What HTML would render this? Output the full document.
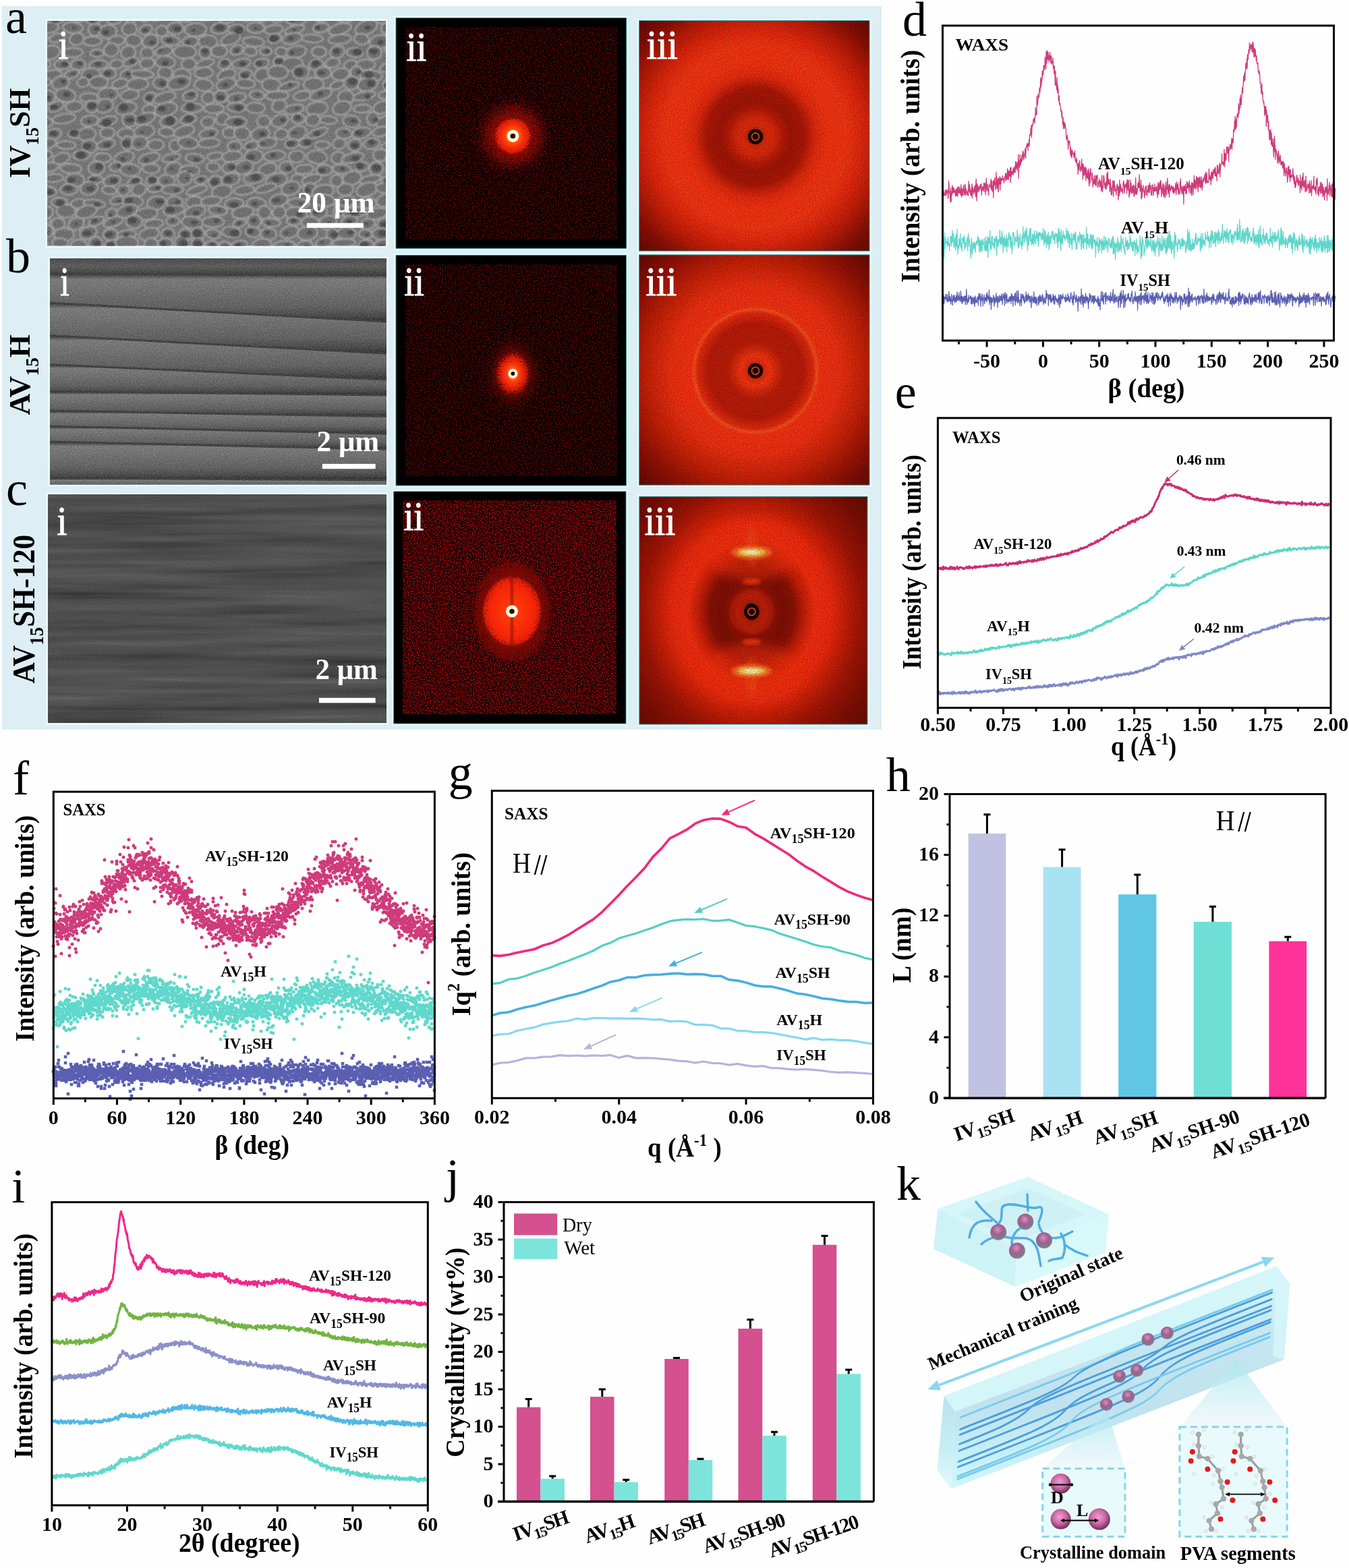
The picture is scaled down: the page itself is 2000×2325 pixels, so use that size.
<!DOCTYPE html>
<html><head><meta charset="utf-8"><title>Figure</title>
<style>html,body{margin:0;padding:0;background:#fff;} svg{display:block;} text{font-family:'Liberation Serif', 'Times New Roman', serif;} .hpar tspan+tspan{font-weight:bold;font-style:italic;}</style>
</head><body>
<svg xmlns="http://www.w3.org/2000/svg" width="2000" height="2325" viewBox="0 0 2000 2325">
<defs>
<filter id="blur1"><feGaussianBlur stdDeviation="1"/></filter>
<filter id="fGrain" x="0" y="0" width="1" height="1" color-interpolation-filters="sRGB">
  <feTurbulence type="fractalNoise" baseFrequency="0.8" numOctaves="1" seed="3" result="n"/>
  <feColorMatrix in="n" type="matrix" values="0 0 0 0 1  0 0 0 0 1  0 0 0 0 1  0.7 0 0 0 -0.3" result="w"/>
  <feTurbulence type="fractalNoise" baseFrequency="0.8" numOctaves="1" seed="29" result="n2"/>
  <feColorMatrix in="n2" type="matrix" values="0 0 0 0 0  0 0 0 0 0  0 0 0 0 0  0.7 0 0 0 -0.3" result="k"/>
  <feMerge><feMergeNode in="w"/><feMergeNode in="k"/></feMerge>
</filter>
<linearGradient id="gFib" x1="0" y1="0" x2="0" y2="1"><stop offset="0" stop-color="#3c3c3c"/><stop offset="0.1" stop-color="#7a7a7a"/><stop offset="0.3" stop-color="#727272"/><stop offset="0.7" stop-color="#5e5e5e"/><stop offset="0.9" stop-color="#444444"/><stop offset="1" stop-color="#2a2a2a"/></linearGradient>
<linearGradient id="gFibTop" x1="0" y1="0" x2="0" y2="1"><stop offset="0" stop-color="#454545"/><stop offset="0.5" stop-color="#5a5a5a"/><stop offset="1" stop-color="#3a3a3a"/></linearGradient>

<filter id="fSemA" x="0" y="0" width="1" height="1" color-interpolation-filters="sRGB">
  <feTurbulence type="fractalNoise" baseFrequency="0.035 0.06" numOctaves="3" seed="7" result="n"/>
  <feColorMatrix in="n" type="matrix" values="1 0 0 0 0  1 0 0 0 0  1 0 0 0 0  0 0 0 0 1" result="g"/>
  <feComponentTransfer in="g" result="c">
    <feFuncR type="table" tableValues="0.20 0.28 0.36 0.55 0.42 0.52 0.62 0.74 0.62 0.55"/>
    <feFuncG type="table" tableValues="0.20 0.28 0.36 0.55 0.42 0.52 0.62 0.74 0.62 0.55"/>
    <feFuncB type="table" tableValues="0.20 0.28 0.36 0.55 0.42 0.52 0.62 0.74 0.62 0.55"/>
  </feComponentTransfer>
  <feTurbulence type="fractalNoise" baseFrequency="0.9" numOctaves="1" seed="2" result="f"/>
  <feColorMatrix in="f" type="matrix" values="0 0 0 0 0  0 0 0 0 0  0 0 0 0 0  0.5 0 0 0 -0.1" result="fa"/>
  <feComposite in="fa" in2="c" operator="over"/>
</filter>
<filter id="fSemB" x="0" y="0" width="1" height="1" color-interpolation-filters="sRGB">
  <feTurbulence type="fractalNoise" baseFrequency="0.0025 0.03" numOctaves="4" seed="11" result="n"/>
  <feColorMatrix in="n" type="matrix" values="1 0 0 0 0  1 0 0 0 0  1 0 0 0 0  0 0 0 0 1" result="g"/>
  <feComponentTransfer in="g" result="c">
    <feFuncR type="table" tableValues="0.08 0.18 0.30 0.36 0.40 0.44 0.50 0.62"/>
    <feFuncG type="table" tableValues="0.08 0.18 0.30 0.36 0.40 0.44 0.50 0.62"/>
    <feFuncB type="table" tableValues="0.08 0.18 0.30 0.36 0.40 0.44 0.50 0.62"/>
  </feComponentTransfer>
  <feTurbulence type="fractalNoise" baseFrequency="0.7" numOctaves="1" seed="5" result="f"/>
  <feColorMatrix in="f" type="matrix" values="0 0 0 0 0  0 0 0 0 0  0 0 0 0 0  0.4 0 0 0 -0.1" result="fa"/>
  <feComposite in="fa" in2="c" operator="over"/>
</filter>
<filter id="fSemC" x="0" y="0" width="1" height="1" color-interpolation-filters="sRGB">
  <feTurbulence type="fractalNoise" baseFrequency="0.003 0.07" numOctaves="3" seed="21" result="n"/>
  <feColorMatrix in="n" type="matrix" values="1 0 0 0 0  1 0 0 0 0  1 0 0 0 0  0 0 0 0 1" result="g"/>
  <feComponentTransfer in="g" result="c">
    <feFuncR type="table" tableValues="0.16 0.24 0.30 0.34 0.37 0.40 0.46 0.56"/>
    <feFuncG type="table" tableValues="0.16 0.24 0.30 0.34 0.37 0.40 0.46 0.56"/>
    <feFuncB type="table" tableValues="0.16 0.24 0.30 0.34 0.37 0.40 0.46 0.56"/>
  </feComponentTransfer>
  <feTurbulence type="fractalNoise" baseFrequency="0.8" numOctaves="1" seed="9" result="f"/>
  <feColorMatrix in="f" type="matrix" values="0 0 0 0 0  0 0 0 0 0  0 0 0 0 0  0.5 0 0 0 -0.12" result="fa"/>
  <feComposite in="fa" in2="c" operator="over"/>
</filter>
<filter id="fRedNoise" x="0" y="0" width="1" height="1" color-interpolation-filters="sRGB">
  <feTurbulence type="fractalNoise" baseFrequency="0.55" numOctaves="1" seed="4" result="n"/>
  <feColorMatrix in="n" type="matrix" values="0 0 0 0 0.55  0 0 0 0 0.03  0 0 0 0 0.02  2.4 0 0 0 -1.0" result="c"/>
  <feGaussianBlur in="c" stdDeviation="0.6"/>
</filter>
<filter id="fRedNoise2" x="0" y="0" width="1" height="1" color-interpolation-filters="sRGB">
  <feTurbulence type="fractalNoise" baseFrequency="0.55" numOctaves="1" seed="8" result="n"/>
  <feColorMatrix in="n" type="matrix" values="0 0 0 0 0.72  0 0 0 0 0.04  0 0 0 0 0.03  2.6 0 0 0 -0.95" result="c"/>
  <feGaussianBlur in="c" stdDeviation="0.6"/>
</filter>
<filter id="fDarkNoise" x="0" y="0" width="1" height="1" color-interpolation-filters="sRGB">
  <feTurbulence type="fractalNoise" baseFrequency="0.6" numOctaves="1" seed="13" result="n"/>
  <feColorMatrix in="n" type="matrix" values="0 0 0 0 0.05  0 0 0 0 0  0 0 0 0 0  1.8 0 0 0 -0.55"/>
</filter>
<filter id="fBrightNoise" x="0" y="0" width="1" height="1" color-interpolation-filters="sRGB">
  <feTurbulence type="fractalNoise" baseFrequency="0.6" numOctaves="1" seed="17" result="n"/>
  <feColorMatrix in="n" type="matrix" values="0 0 0 0 1  0 0 0 0 0.35  0 0 0 0 0.1  1.2 0 0 0 -0.62"/>
</filter>
<filter id="fSpeck" x="-10%" y="-10%" width="120%" height="120%" color-interpolation-filters="sRGB">
  <feTurbulence type="fractalNoise" baseFrequency="0.85" numOctaves="1" seed="21" result="n"/>
  <feColorMatrix in="n" type="matrix" values="0 0 0 0 0  0 0 0 0 0  0 0 0 0 0  1.6 0 0 0 -0.3" result="na"/>
  <feComposite in="SourceAlpha" in2="na" operator="arithmetic" k1="0" k2="1" k3="-1" k4="0.5" result="d"/>
  <feComponentTransfer in="d" result="m"><feFuncA type="linear" slope="8" intercept="-3.6"/></feComponentTransfer>
  <feColorMatrix in="SourceGraphic" type="matrix" values="1 0 0 0 0  0 1 0 0 0  0 0 1 0 0  0 0 0 0 1" result="op"/>
  <feComposite in="op" in2="m" operator="in"/>
</filter>
<filter id="blur2"><feGaussianBlur stdDeviation="2"/></filter>
<filter id="blur4"><feGaussianBlur stdDeviation="4"/></filter>
<filter id="blur8"><feGaussianBlur stdDeviation="8"/></filter>

<radialGradient id="gSa"><stop offset="0" stop-color="#ffe040"/><stop offset="0.3" stop-color="#ff5a10"/><stop offset="0.6" stop-color="#f02808"/><stop offset="0.8" stop-color="#e02008" stop-opacity="0.7"/><stop offset="1" stop-color="#c01005" stop-opacity="0"/></radialGradient>
<radialGradient id="gSao"><stop offset="0" stop-color="#a01005" stop-opacity="1"/><stop offset="0.45" stop-color="#800a04" stop-opacity="0.75"/><stop offset="1" stop-color="#600804" stop-opacity="0"/></radialGradient>
<radialGradient id="gSb"><stop offset="0" stop-color="#ffd040"/><stop offset="0.3" stop-color="#ff4010"/><stop offset="0.6" stop-color="#d81c06" stop-opacity="0.85"/><stop offset="1" stop-color="#a01005" stop-opacity="0"/></radialGradient>
<radialGradient id="gSbo"><stop offset="0" stop-color="#800a04" stop-opacity="0.95"/><stop offset="0.5" stop-color="#600804" stop-opacity="0.6"/><stop offset="1" stop-color="#500604" stop-opacity="0"/></radialGradient>
<radialGradient id="gSc"><stop offset="0" stop-color="#ffd040"/><stop offset="0.2" stop-color="#ff3a0c"/><stop offset="0.7" stop-color="#f42408" stop-opacity="0.95"/><stop offset="0.88" stop-color="#e02008" stop-opacity="0.6"/><stop offset="1" stop-color="#a01005" stop-opacity="0"/></radialGradient>
<radialGradient id="gSco"><stop offset="0" stop-color="#900c05" stop-opacity="1"/><stop offset="0.6" stop-color="#780a04" stop-opacity="0.95"/><stop offset="0.85" stop-color="#700804" stop-opacity="0.6"/><stop offset="1" stop-color="#600804" stop-opacity="0"/></radialGradient>
<marker id="arrP" viewBox="0 0 10 10" refX="9" refY="5" markerWidth="5" markerHeight="5" orient="auto-start-reverse"><path d="M0,0 L10,5 L0,10 z" fill="context-stroke"/></marker>
<radialGradient id="gSph" cx="0.45" cy="0.35" r="0.7"><stop offset="0" stop-color="#d890c0"/><stop offset="0.45" stop-color="#a0608e"/><stop offset="0.8" stop-color="#80788e"/><stop offset="1" stop-color="#98a4ac"/></radialGradient>
<radialGradient id="gSph2" cx="0.45" cy="0.4" r="0.65"><stop offset="0" stop-color="#f0a0d0"/><stop offset="0.5" stop-color="#cc6aa6"/><stop offset="0.85" stop-color="#7a3a66"/><stop offset="1" stop-color="#5a2a4a"/></radialGradient>
<linearGradient id="gFront" x1="0" y1="0" x2="0" y2="1"><stop offset="0" stop-color="#d2f4f8"/><stop offset="0.25" stop-color="#c6e6f0"/><stop offset="0.6" stop-color="#c0e2ee"/><stop offset="0.85" stop-color="#c8f0f6"/><stop offset="1" stop-color="#d0f6fa"/></linearGradient>
<linearGradient id="gCap" x1="0" y1="0" x2="0" y2="1"><stop offset="0" stop-color="#b8e4ee"/><stop offset="0.6" stop-color="#c8eef4"/><stop offset="1" stop-color="#e8fafc"/></linearGradient>
<linearGradient id="gCone" x1="0" y1="0" x2="0" y2="1"><stop offset="0" stop-color="#a8e8f0" stop-opacity="0.9"/><stop offset="1" stop-color="#e4f2f6" stop-opacity="0.6"/></linearGradient>
</defs>
<rect width="2000" height="2325" fill="#fefefe"/>
<rect x="2.7" y="9" width="1304.3" height="1072.8" fill="#ddeef5"/>
<rect x="68.5" y="29.5" width="505.0" height="336.6" fill="none" stroke="#f0fdff" stroke-width="2"/>
<rect x="72.5" y="381.7" width="502.0" height="338.3" fill="none" stroke="#f0fdff" stroke-width="2"/>
<rect x="69.5" y="731.8" width="505.0" height="341.7" fill="none" stroke="#f0fdff" stroke-width="2"/>
<rect x="585.5" y="25.1" width="344.7" height="344.7" fill="none" stroke="#f0fdff" stroke-width="2"/>
<rect x="585.5" y="376.9" width="344.5" height="344.6" fill="none" stroke="#f0fdff" stroke-width="2"/>
<rect x="582.2" y="727.3" width="347.3" height="347.2" fill="none" stroke="#f0fdff" stroke-width="2"/>
<rect x="946.1" y="29.1" width="344.4" height="344.5" fill="none" stroke="#f0fdff" stroke-width="2"/>
<rect x="946.1" y="376.4" width="344.4" height="344.3" fill="none" stroke="#f0fdff" stroke-width="2"/>
<rect x="946.3" y="734.7" width="341.2" height="340.8" fill="none" stroke="#f0fdff" stroke-width="2"/>
<clipPath id="cpSemA"><rect x="70" y="31" width="502.0" height="333.6"/></clipPath>
<g clip-path="url(#cpSemA)">
<rect x="70" y="31" width="502.0" height="333.6" fill="#737373"/>
<g fill="#6e6e6e" stroke="#a6a6a6" stroke-width="2.3" filter="url(#blur1)"><ellipse cx="51" cy="24" rx="13" ry="9" transform="rotate(6 51 24)"/><ellipse cx="81" cy="28" rx="14" ry="7" transform="rotate(-2 81 28)"/><ellipse cx="116" cy="24" rx="13" ry="8" transform="rotate(2 116 24)"/><ellipse cx="140" cy="28" rx="13" ry="7" transform="rotate(-9 140 28)"/><ellipse cx="169" cy="28" rx="11" ry="8" transform="rotate(-1 169 28)"/><ellipse cx="196" cy="27" rx="9" ry="6" transform="rotate(-13 196 27)"/><ellipse cx="214" cy="23" rx="10" ry="9" transform="rotate(-4 214 23)"/><ellipse cx="234" cy="23" rx="15" ry="7" transform="rotate(-13 234 23)"/><ellipse cx="270" cy="25" rx="16" ry="7" transform="rotate(7 270 25)"/><ellipse cx="306" cy="23" rx="12" ry="7" transform="rotate(-20 306 23)"/><ellipse cx="336" cy="24" rx="15" ry="10" transform="rotate(-3 336 24)"/><ellipse cx="367" cy="24" rx="12" ry="7" transform="rotate(-15 367 24)"/><ellipse cx="389" cy="23" rx="10" ry="9" transform="rotate(-19 389 23)"/><ellipse cx="412" cy="24" rx="12" ry="9" transform="rotate(-13 412 24)"/><ellipse cx="439" cy="28" rx="16" ry="9" transform="rotate(-1 439 28)"/><ellipse cx="480" cy="24" rx="15" ry="7" transform="rotate(-18 480 24)"/><ellipse cx="511" cy="25" rx="14" ry="8" transform="rotate(2 511 25)"/><ellipse cx="543" cy="23" rx="10" ry="7" transform="rotate(-17 543 23)"/><ellipse cx="568" cy="25" rx="14" ry="10" transform="rotate(-3 568 25)"/><ellipse cx="72" cy="41" rx="15" ry="8" transform="rotate(-5 72 41)"/><ellipse cx="108" cy="41" rx="15" ry="8" transform="rotate(4 108 41)"/><ellipse cx="141" cy="44" rx="10" ry="9" transform="rotate(-7 141 44)"/><ellipse cx="160" cy="47" rx="13" ry="10" transform="rotate(-6 160 47)"/><ellipse cx="192" cy="43" rx="11" ry="10" transform="rotate(-10 192 43)"/><ellipse cx="216" cy="44" rx="10" ry="7" transform="rotate(-20 216 44)"/><ellipse cx="240" cy="46" rx="9" ry="8" transform="rotate(-11 240 46)"/><ellipse cx="260" cy="42" rx="12" ry="9" transform="rotate(-5 260 42)"/><ellipse cx="290" cy="44" rx="16" ry="10" transform="rotate(-2 290 44)"/><ellipse cx="326" cy="42" rx="13" ry="8" transform="rotate(-7 326 42)"/><ellipse cx="350" cy="43" rx="12" ry="7" transform="rotate(-5 350 43)"/><ellipse cx="379" cy="41" rx="13" ry="8" transform="rotate(2 379 41)"/><ellipse cx="406" cy="44" rx="14" ry="7" transform="rotate(-6 406 44)"/><ellipse cx="437" cy="44" rx="15" ry="6" transform="rotate(-15 437 44)"/><ellipse cx="476" cy="41" rx="12" ry="7" transform="rotate(-10 476 41)"/><ellipse cx="504" cy="43" rx="17" ry="8" transform="rotate(-16 504 43)"/><ellipse cx="543" cy="41" rx="17" ry="10" transform="rotate(-22 543 41)"/><ellipse cx="575" cy="42" rx="10" ry="9" transform="rotate(-0 575 42)"/><ellipse cx="60" cy="56" rx="11" ry="6" transform="rotate(2 60 56)"/><ellipse cx="85" cy="56" rx="12" ry="6" transform="rotate(-15 85 56)"/><ellipse cx="114" cy="58" rx="11" ry="9" transform="rotate(-11 114 58)"/><ellipse cx="137" cy="61" rx="14" ry="7" transform="rotate(-1 137 61)"/><ellipse cx="173" cy="60" rx="12" ry="7" transform="rotate(-5 173 60)"/><ellipse cx="198" cy="60" rx="12" ry="9" transform="rotate(6 198 60)"/><ellipse cx="223" cy="61" rx="12" ry="10" transform="rotate(-19 223 61)"/><ellipse cx="253" cy="60" rx="14" ry="7" transform="rotate(7 253 60)"/><ellipse cx="282" cy="62" rx="12" ry="8" transform="rotate(-8 282 62)"/><ellipse cx="308" cy="62" rx="14" ry="10" transform="rotate(1 308 62)"/><ellipse cx="342" cy="58" rx="15" ry="8" transform="rotate(-21 342 58)"/><ellipse cx="376" cy="62" rx="16" ry="7" transform="rotate(5 376 62)"/><ellipse cx="407" cy="57" rx="10" ry="7" transform="rotate(-17 407 57)"/><ellipse cx="433" cy="57" rx="15" ry="8" transform="rotate(-13 433 57)"/><ellipse cx="463" cy="57" rx="16" ry="6" transform="rotate(4 463 57)"/><ellipse cx="504" cy="58" rx="17" ry="7" transform="rotate(-6 504 58)"/><ellipse cx="536" cy="58" rx="11" ry="8" transform="rotate(7 536 58)"/><ellipse cx="563" cy="62" rx="15" ry="10" transform="rotate(-9 563 62)"/><ellipse cx="75" cy="78" rx="14" ry="10" transform="rotate(-18 75 78)"/><ellipse cx="107" cy="78" rx="16" ry="7" transform="rotate(-1 107 78)"/><ellipse cx="144" cy="79" rx="10" ry="6" transform="rotate(-1 144 79)"/><ellipse cx="165" cy="74" rx="11" ry="10" transform="rotate(-12 165 74)"/><ellipse cx="190" cy="78" rx="11" ry="10" transform="rotate(-21 190 78)"/><ellipse cx="218" cy="79" rx="10" ry="9" transform="rotate(1 218 79)"/><ellipse cx="243" cy="76" rx="13" ry="7" transform="rotate(-13 243 76)"/><ellipse cx="274" cy="77" rx="17" ry="10" transform="rotate(0 274 77)"/><ellipse cx="304" cy="78" rx="9" ry="9" transform="rotate(-8 304 78)"/><ellipse cx="325" cy="76" rx="12" ry="9" transform="rotate(-4 325 76)"/><ellipse cx="351" cy="74" rx="10" ry="7" transform="rotate(-20 351 74)"/><ellipse cx="371" cy="76" rx="10" ry="7" transform="rotate(4 371 76)"/><ellipse cx="394" cy="76" rx="9" ry="6" transform="rotate(-2 394 76)"/><ellipse cx="418" cy="77" rx="10" ry="7" transform="rotate(7 418 77)"/><ellipse cx="439" cy="77" rx="15" ry="9" transform="rotate(-13 439 77)"/><ellipse cx="473" cy="77" rx="11" ry="8" transform="rotate(3 473 77)"/><ellipse cx="500" cy="77" rx="11" ry="9" transform="rotate(-19 500 77)"/><ellipse cx="526" cy="78" rx="12" ry="7" transform="rotate(7 526 78)"/><ellipse cx="555" cy="78" rx="11" ry="10" transform="rotate(-1 555 78)"/><ellipse cx="584" cy="75" rx="14" ry="7" transform="rotate(3 584 75)"/><ellipse cx="61" cy="95" rx="14" ry="8" transform="rotate(0 61 95)"/><ellipse cx="92" cy="96" rx="12" ry="7" transform="rotate(2 92 96)"/><ellipse cx="116" cy="96" rx="11" ry="8" transform="rotate(-0 116 96)"/><ellipse cx="146" cy="96" rx="14" ry="7" transform="rotate(-5 146 96)"/><ellipse cx="173" cy="95" rx="10" ry="7" transform="rotate(-4 173 95)"/><ellipse cx="194" cy="92" rx="12" ry="6" transform="rotate(-20 194 92)"/><ellipse cx="218" cy="94" rx="11" ry="8" transform="rotate(-4 218 94)"/><ellipse cx="245" cy="92" rx="15" ry="9" transform="rotate(4 245 92)"/><ellipse cx="280" cy="95" rx="11" ry="9" transform="rotate(-3 280 95)"/><ellipse cx="304" cy="94" rx="14" ry="6" transform="rotate(-16 304 94)"/><ellipse cx="333" cy="95" rx="10" ry="7" transform="rotate(-20 333 95)"/><ellipse cx="358" cy="94" rx="14" ry="7" transform="rotate(-12 358 94)"/><ellipse cx="388" cy="94" rx="11" ry="7" transform="rotate(-13 388 94)"/><ellipse cx="415" cy="92" rx="10" ry="8" transform="rotate(-2 415 92)"/><ellipse cx="433" cy="95" rx="16" ry="10" transform="rotate(-6 433 95)"/><ellipse cx="469" cy="96" rx="11" ry="8" transform="rotate(-9 469 96)"/><ellipse cx="493" cy="93" rx="11" ry="7" transform="rotate(-10 493 93)"/><ellipse cx="521" cy="97" rx="11" ry="8" transform="rotate(-2 521 97)"/><ellipse cx="542" cy="96" rx="14" ry="8" transform="rotate(-3 542 96)"/><ellipse cx="578" cy="98" rx="16" ry="7" transform="rotate(-21 578 98)"/><ellipse cx="77" cy="112" rx="15" ry="8" transform="rotate(-13 77 112)"/><ellipse cx="106" cy="110" rx="12" ry="6" transform="rotate(-21 106 110)"/><ellipse cx="135" cy="111" rx="14" ry="10" transform="rotate(-2 135 111)"/><ellipse cx="162" cy="109" rx="10" ry="8" transform="rotate(-0 162 109)"/><ellipse cx="189" cy="112" rx="11" ry="9" transform="rotate(-21 189 112)"/><ellipse cx="211" cy="110" rx="17" ry="6" transform="rotate(3 211 110)"/><ellipse cx="245" cy="108" rx="11" ry="9" transform="rotate(6 245 108)"/><ellipse cx="270" cy="112" rx="13" ry="10" transform="rotate(5 270 112)"/><ellipse cx="302" cy="108" rx="14" ry="8" transform="rotate(-5 302 108)"/><ellipse cx="336" cy="111" rx="14" ry="8" transform="rotate(-19 336 111)"/><ellipse cx="364" cy="110" rx="10" ry="7" transform="rotate(-12 364 110)"/><ellipse cx="389" cy="111" rx="12" ry="10" transform="rotate(-19 389 111)"/><ellipse cx="412" cy="107" rx="15" ry="10" transform="rotate(1 412 107)"/><ellipse cx="446" cy="107" rx="12" ry="10" transform="rotate(-5 446 107)"/><ellipse cx="479" cy="108" rx="12" ry="9" transform="rotate(-1 479 108)"/><ellipse cx="505" cy="110" rx="13" ry="9" transform="rotate(-11 505 110)"/><ellipse cx="529" cy="108" rx="9" ry="10" transform="rotate(-10 529 108)"/><ellipse cx="550" cy="112" rx="17" ry="8" transform="rotate(6 550 112)"/><ellipse cx="585" cy="112" rx="11" ry="7" transform="rotate(2 585 112)"/><ellipse cx="59" cy="122" rx="16" ry="8" transform="rotate(-3 59 122)"/><ellipse cx="90" cy="123" rx="13" ry="10" transform="rotate(-20 90 123)"/><ellipse cx="123" cy="122" rx="9" ry="7" transform="rotate(-13 123 122)"/><ellipse cx="146" cy="122" rx="14" ry="9" transform="rotate(-2 146 122)"/><ellipse cx="178" cy="124" rx="12" ry="7" transform="rotate(-17 178 124)"/><ellipse cx="204" cy="125" rx="16" ry="9" transform="rotate(-5 204 125)"/><ellipse cx="238" cy="123" rx="11" ry="9" transform="rotate(6 238 123)"/><ellipse cx="265" cy="123" rx="17" ry="10" transform="rotate(-13 265 123)"/><ellipse cx="302" cy="126" rx="14" ry="9" transform="rotate(6 302 126)"/><ellipse cx="335" cy="125" rx="15" ry="9" transform="rotate(-17 335 125)"/><ellipse cx="364" cy="124" rx="14" ry="7" transform="rotate(3 364 124)"/><ellipse cx="402" cy="126" rx="14" ry="10" transform="rotate(4 402 126)"/><ellipse cx="428" cy="128" rx="16" ry="6" transform="rotate(-15 428 128)"/><ellipse cx="465" cy="125" rx="15" ry="10" transform="rotate(-3 465 125)"/><ellipse cx="500" cy="126" rx="11" ry="6" transform="rotate(-20 500 126)"/><ellipse cx="521" cy="123" rx="11" ry="10" transform="rotate(-13 521 123)"/><ellipse cx="545" cy="125" rx="15" ry="10" transform="rotate(-15 545 125)"/><ellipse cx="577" cy="126" rx="9" ry="9" transform="rotate(0 577 126)"/><ellipse cx="71" cy="144" rx="11" ry="10" transform="rotate(-8 71 144)"/><ellipse cx="97" cy="141" rx="15" ry="10" transform="rotate(8 97 141)"/><ellipse cx="132" cy="145" rx="14" ry="7" transform="rotate(2 132 145)"/><ellipse cx="160" cy="140" rx="15" ry="10" transform="rotate(-6 160 140)"/><ellipse cx="192" cy="141" rx="14" ry="8" transform="rotate(-7 192 141)"/><ellipse cx="223" cy="145" rx="10" ry="8" transform="rotate(-15 223 145)"/><ellipse cx="244" cy="145" rx="17" ry="8" transform="rotate(-17 244 145)"/><ellipse cx="282" cy="142" rx="11" ry="8" transform="rotate(-15 282 142)"/><ellipse cx="309" cy="145" rx="10" ry="9" transform="rotate(-16 309 145)"/><ellipse cx="327" cy="143" rx="10" ry="9" transform="rotate(-2 327 143)"/><ellipse cx="351" cy="145" rx="14" ry="7" transform="rotate(-12 351 145)"/><ellipse cx="381" cy="141" rx="11" ry="7" transform="rotate(5 381 141)"/><ellipse cx="411" cy="142" rx="17" ry="7" transform="rotate(-2 411 142)"/><ellipse cx="448" cy="142" rx="13" ry="7" transform="rotate(-9 448 142)"/><ellipse cx="476" cy="140" rx="17" ry="8" transform="rotate(-19 476 140)"/><ellipse cx="513" cy="144" rx="12" ry="10" transform="rotate(5 513 144)"/><ellipse cx="540" cy="142" rx="17" ry="6" transform="rotate(-12 540 142)"/><ellipse cx="574" cy="140" rx="13" ry="6" transform="rotate(-10 574 140)"/><ellipse cx="55" cy="158" rx="13" ry="9" transform="rotate(-4 55 158)"/><ellipse cx="83" cy="158" rx="12" ry="7" transform="rotate(-21 83 158)"/><ellipse cx="110" cy="158" rx="13" ry="8" transform="rotate(-5 110 158)"/><ellipse cx="136" cy="158" rx="10" ry="9" transform="rotate(8 136 158)"/><ellipse cx="155" cy="157" rx="13" ry="10" transform="rotate(-21 155 157)"/><ellipse cx="187" cy="161" rx="16" ry="9" transform="rotate(-13 187 161)"/><ellipse cx="221" cy="162" rx="10" ry="7" transform="rotate(-8 221 162)"/><ellipse cx="246" cy="162" rx="17" ry="10" transform="rotate(-13 246 162)"/><ellipse cx="285" cy="160" rx="16" ry="7" transform="rotate(-3 285 160)"/><ellipse cx="317" cy="161" rx="15" ry="7" transform="rotate(0 317 161)"/><ellipse cx="351" cy="159" rx="14" ry="7" transform="rotate(0 351 159)"/><ellipse cx="379" cy="160" rx="14" ry="8" transform="rotate(3 379 160)"/><ellipse cx="414" cy="157" rx="11" ry="9" transform="rotate(-19 414 157)"/><ellipse cx="436" cy="162" rx="15" ry="7" transform="rotate(-11 436 162)"/><ellipse cx="470" cy="161" rx="16" ry="10" transform="rotate(-10 470 161)"/><ellipse cx="507" cy="160" rx="14" ry="10" transform="rotate(-17 507 160)"/><ellipse cx="537" cy="161" rx="13" ry="6" transform="rotate(-3 537 161)"/><ellipse cx="567" cy="159" rx="14" ry="9" transform="rotate(-17 567 159)"/><ellipse cx="67" cy="181" rx="11" ry="8" transform="rotate(7 67 181)"/><ellipse cx="95" cy="176" rx="17" ry="7" transform="rotate(-9 95 176)"/><ellipse cx="133" cy="179" rx="13" ry="8" transform="rotate(-8 133 179)"/><ellipse cx="159" cy="180" rx="15" ry="7" transform="rotate(-18 159 180)"/><ellipse cx="192" cy="178" rx="11" ry="10" transform="rotate(6 192 178)"/><ellipse cx="215" cy="176" rx="16" ry="8" transform="rotate(-20 215 176)"/><ellipse cx="250" cy="180" rx="13" ry="8" transform="rotate(-6 250 180)"/><ellipse cx="279" cy="177" rx="12" ry="7" transform="rotate(-13 279 177)"/><ellipse cx="308" cy="181" rx="10" ry="8" transform="rotate(-9 308 181)"/><ellipse cx="330" cy="176" rx="10" ry="9" transform="rotate(-21 330 176)"/><ellipse cx="350" cy="181" rx="16" ry="8" transform="rotate(-2 350 181)"/><ellipse cx="391" cy="180" rx="10" ry="9" transform="rotate(2 391 180)"/><ellipse cx="415" cy="179" rx="13" ry="9" transform="rotate(-20 415 179)"/><ellipse cx="442" cy="176" rx="10" ry="7" transform="rotate(0 442 176)"/><ellipse cx="464" cy="178" rx="11" ry="9" transform="rotate(-12 464 178)"/><ellipse cx="487" cy="178" rx="13" ry="6" transform="rotate(3 487 178)"/><ellipse cx="521" cy="180" rx="13" ry="9" transform="rotate(8 521 180)"/><ellipse cx="553" cy="176" rx="9" ry="10" transform="rotate(1 553 176)"/><ellipse cx="574" cy="180" rx="17" ry="9" transform="rotate(-21 574 180)"/><ellipse cx="59" cy="195" rx="9" ry="10" transform="rotate(-16 59 195)"/><ellipse cx="80" cy="199" rx="11" ry="8" transform="rotate(-17 80 199)"/><ellipse cx="111" cy="199" rx="10" ry="6" transform="rotate(-1 111 199)"/><ellipse cx="129" cy="199" rx="13" ry="10" transform="rotate(-6 129 199)"/><ellipse cx="159" cy="197" rx="11" ry="8" transform="rotate(-4 159 197)"/><ellipse cx="187" cy="198" rx="13" ry="8" transform="rotate(-3 187 198)"/><ellipse cx="214" cy="195" rx="15" ry="10" transform="rotate(-9 214 195)"/><ellipse cx="247" cy="196" rx="12" ry="7" transform="rotate(6 247 196)"/><ellipse cx="273" cy="195" rx="16" ry="8" transform="rotate(-18 273 195)"/><ellipse cx="309" cy="198" rx="14" ry="7" transform="rotate(-13 309 198)"/><ellipse cx="340" cy="197" rx="10" ry="8" transform="rotate(2 340 197)"/><ellipse cx="359" cy="198" rx="12" ry="10" transform="rotate(4 359 198)"/><ellipse cx="386" cy="199" rx="14" ry="10" transform="rotate(-17 386 199)"/><ellipse cx="417" cy="199" rx="10" ry="8" transform="rotate(-9 417 199)"/><ellipse cx="441" cy="197" rx="14" ry="10" transform="rotate(-21 441 197)"/><ellipse cx="471" cy="197" rx="16" ry="6" transform="rotate(-21 471 197)"/><ellipse cx="510" cy="198" rx="12" ry="8" transform="rotate(5 510 198)"/><ellipse cx="536" cy="197" rx="14" ry="8" transform="rotate(-13 536 197)"/><ellipse cx="565" cy="195" rx="13" ry="7" transform="rotate(-12 565 195)"/><ellipse cx="69" cy="213" rx="14" ry="8" transform="rotate(-10 69 213)"/><ellipse cx="98" cy="215" rx="14" ry="6" transform="rotate(2 98 215)"/><ellipse cx="133" cy="217" rx="11" ry="10" transform="rotate(6 133 217)"/><ellipse cx="157" cy="214" rx="14" ry="7" transform="rotate(-14 157 214)"/><ellipse cx="189" cy="212" rx="9" ry="10" transform="rotate(8 189 212)"/><ellipse cx="207" cy="212" rx="12" ry="10" transform="rotate(-19 207 212)"/><ellipse cx="231" cy="215" rx="12" ry="8" transform="rotate(-2 231 215)"/><ellipse cx="260" cy="216" rx="9" ry="9" transform="rotate(-9 260 216)"/><ellipse cx="279" cy="212" rx="15" ry="9" transform="rotate(7 279 212)"/><ellipse cx="310" cy="212" rx="16" ry="7" transform="rotate(-5 310 212)"/><ellipse cx="348" cy="217" rx="11" ry="8" transform="rotate(1 348 217)"/><ellipse cx="373" cy="216" rx="11" ry="7" transform="rotate(-16 373 216)"/><ellipse cx="396" cy="212" rx="14" ry="8" transform="rotate(-7 396 212)"/><ellipse cx="433" cy="213" rx="11" ry="7" transform="rotate(-10 433 213)"/><ellipse cx="452" cy="212" rx="9" ry="7" transform="rotate(0 452 212)"/><ellipse cx="478" cy="215" rx="11" ry="6" transform="rotate(-1 478 215)"/><ellipse cx="503" cy="213" rx="10" ry="8" transform="rotate(-13 503 213)"/><ellipse cx="526" cy="215" rx="10" ry="9" transform="rotate(-10 526 215)"/><ellipse cx="551" cy="213" rx="12" ry="8" transform="rotate(-10 551 213)"/><ellipse cx="578" cy="216" rx="13" ry="6" transform="rotate(-12 578 216)"/><ellipse cx="63" cy="231" rx="15" ry="7" transform="rotate(-11 63 231)"/><ellipse cx="91" cy="235" rx="13" ry="8" transform="rotate(-20 91 235)"/><ellipse cx="121" cy="230" rx="13" ry="7" transform="rotate(-1 121 230)"/><ellipse cx="152" cy="234" rx="13" ry="7" transform="rotate(1 152 234)"/><ellipse cx="184" cy="234" rx="15" ry="9" transform="rotate(-16 184 234)"/><ellipse cx="221" cy="235" rx="16" ry="8" transform="rotate(-16 221 235)"/><ellipse cx="254" cy="234" rx="14" ry="6" transform="rotate(-12 254 234)"/><ellipse cx="289" cy="235" rx="14" ry="7" transform="rotate(7 289 235)"/><ellipse cx="319" cy="232" rx="12" ry="6" transform="rotate(-8 319 232)"/><ellipse cx="344" cy="232" rx="15" ry="8" transform="rotate(-6 344 232)"/><ellipse cx="376" cy="232" rx="14" ry="10" transform="rotate(-8 376 232)"/><ellipse cx="407" cy="231" rx="16" ry="8" transform="rotate(-6 407 231)"/><ellipse cx="440" cy="232" rx="12" ry="9" transform="rotate(-5 440 232)"/><ellipse cx="470" cy="233" rx="15" ry="10" transform="rotate(7 470 233)"/><ellipse cx="501" cy="234" rx="10" ry="9" transform="rotate(-14 501 234)"/><ellipse cx="523" cy="234" rx="17" ry="7" transform="rotate(-14 523 234)"/><ellipse cx="564" cy="230" rx="11" ry="9" transform="rotate(2 564 230)"/><ellipse cx="587" cy="234" rx="16" ry="9" transform="rotate(-6 587 234)"/><ellipse cx="71" cy="248" rx="16" ry="7" transform="rotate(-8 71 248)"/><ellipse cx="105" cy="250" rx="16" ry="7" transform="rotate(3 105 250)"/><ellipse cx="143" cy="249" rx="12" ry="10" transform="rotate(1 143 249)"/><ellipse cx="172" cy="247" rx="10" ry="7" transform="rotate(-8 172 247)"/><ellipse cx="193" cy="252" rx="15" ry="9" transform="rotate(4 193 252)"/><ellipse cx="224" cy="250" rx="13" ry="7" transform="rotate(0 224 250)"/><ellipse cx="257" cy="251" rx="13" ry="10" transform="rotate(-22 257 251)"/><ellipse cx="281" cy="253" rx="15" ry="8" transform="rotate(-2 281 253)"/><ellipse cx="316" cy="248" rx="10" ry="7" transform="rotate(7 316 248)"/><ellipse cx="340" cy="248" rx="11" ry="8" transform="rotate(-15 340 248)"/><ellipse cx="362" cy="248" rx="14" ry="10" transform="rotate(-20 362 248)"/><ellipse cx="397" cy="251" rx="14" ry="9" transform="rotate(-15 397 251)"/><ellipse cx="424" cy="248" rx="10" ry="9" transform="rotate(-1 424 248)"/><ellipse cx="451" cy="251" rx="14" ry="7" transform="rotate(-4 451 251)"/><ellipse cx="481" cy="252" rx="12" ry="8" transform="rotate(3 481 252)"/><ellipse cx="507" cy="251" rx="14" ry="7" transform="rotate(6 507 251)"/><ellipse cx="537" cy="247" rx="10" ry="7" transform="rotate(-9 537 247)"/><ellipse cx="558" cy="250" rx="10" ry="10" transform="rotate(0 558 250)"/><ellipse cx="583" cy="251" rx="11" ry="9" transform="rotate(-11 583 251)"/><ellipse cx="59" cy="269" rx="10" ry="10" transform="rotate(-15 59 269)"/><ellipse cx="80" cy="264" rx="14" ry="6" transform="rotate(-3 80 264)"/><ellipse cx="111" cy="267" rx="14" ry="10" transform="rotate(2 111 267)"/><ellipse cx="142" cy="266" rx="11" ry="6" transform="rotate(0 142 266)"/><ellipse cx="166" cy="268" rx="13" ry="8" transform="rotate(-14 166 268)"/><ellipse cx="200" cy="269" rx="11" ry="6" transform="rotate(-19 200 269)"/><ellipse cx="225" cy="268" rx="9" ry="7" transform="rotate(-13 225 268)"/><ellipse cx="247" cy="268" rx="12" ry="9" transform="rotate(7 247 268)"/><ellipse cx="274" cy="264" rx="11" ry="10" transform="rotate(-13 274 264)"/><ellipse cx="298" cy="267" rx="10" ry="6" transform="rotate(-7 298 267)"/><ellipse cx="320" cy="270" rx="10" ry="10" transform="rotate(7 320 270)"/><ellipse cx="342" cy="266" rx="14" ry="9" transform="rotate(-13 342 266)"/><ellipse cx="377" cy="264" rx="16" ry="8" transform="rotate(-9 377 264)"/><ellipse cx="410" cy="267" rx="16" ry="10" transform="rotate(-14 410 267)"/><ellipse cx="442" cy="268" rx="11" ry="10" transform="rotate(-2 442 268)"/><ellipse cx="462" cy="266" rx="15" ry="7" transform="rotate(-17 462 266)"/><ellipse cx="499" cy="268" rx="9" ry="9" transform="rotate(7 499 268)"/><ellipse cx="522" cy="264" rx="14" ry="10" transform="rotate(-12 522 264)"/><ellipse cx="549" cy="266" rx="16" ry="6" transform="rotate(-12 549 266)"/><ellipse cx="581" cy="269" rx="16" ry="10" transform="rotate(-2 581 269)"/><ellipse cx="70" cy="284" rx="14" ry="8" transform="rotate(4 70 284)"/><ellipse cx="102" cy="281" rx="13" ry="8" transform="rotate(-1 102 281)"/><ellipse cx="132" cy="279" rx="13" ry="10" transform="rotate(-13 132 279)"/><ellipse cx="162" cy="282" rx="11" ry="6" transform="rotate(8 162 282)"/><ellipse cx="183" cy="282" rx="9" ry="8" transform="rotate(-11 183 282)"/><ellipse cx="206" cy="281" rx="11" ry="9" transform="rotate(-20 206 281)"/><ellipse cx="230" cy="279" rx="11" ry="6" transform="rotate(-11 230 279)"/><ellipse cx="256" cy="281" rx="16" ry="7" transform="rotate(-2 256 281)"/><ellipse cx="292" cy="282" rx="16" ry="6" transform="rotate(-18 292 282)"/><ellipse cx="329" cy="284" rx="15" ry="10" transform="rotate(-11 329 284)"/><ellipse cx="362" cy="282" rx="15" ry="7" transform="rotate(-7 362 282)"/><ellipse cx="394" cy="279" rx="16" ry="6" transform="rotate(-17 394 279)"/><ellipse cx="431" cy="279" rx="14" ry="10" transform="rotate(-15 431 279)"/><ellipse cx="460" cy="281" rx="10" ry="10" transform="rotate(4 460 281)"/><ellipse cx="479" cy="284" rx="16" ry="10" transform="rotate(-12 479 284)"/><ellipse cx="512" cy="281" rx="12" ry="9" transform="rotate(-7 512 281)"/><ellipse cx="544" cy="281" rx="16" ry="10" transform="rotate(-19 544 281)"/><ellipse cx="574" cy="279" rx="17" ry="8" transform="rotate(3 574 279)"/><ellipse cx="55" cy="297" rx="15" ry="8" transform="rotate(2 55 297)"/><ellipse cx="88" cy="300" rx="12" ry="7" transform="rotate(1 88 300)"/><ellipse cx="116" cy="302" rx="11" ry="7" transform="rotate(-12 116 302)"/><ellipse cx="140" cy="302" rx="16" ry="6" transform="rotate(7 140 302)"/><ellipse cx="173" cy="297" rx="10" ry="6" transform="rotate(-19 173 297)"/><ellipse cx="197" cy="299" rx="15" ry="9" transform="rotate(0 197 299)"/><ellipse cx="232" cy="301" rx="14" ry="10" transform="rotate(-12 232 301)"/><ellipse cx="259" cy="300" rx="12" ry="9" transform="rotate(2 259 300)"/><ellipse cx="288" cy="300" rx="13" ry="9" transform="rotate(-3 288 300)"/><ellipse cx="313" cy="298" rx="15" ry="7" transform="rotate(-6 313 298)"/><ellipse cx="347" cy="302" rx="14" ry="8" transform="rotate(-3 347 302)"/><ellipse cx="380" cy="302" rx="14" ry="9" transform="rotate(3 380 302)"/><ellipse cx="413" cy="297" rx="14" ry="9" transform="rotate(-13 413 297)"/><ellipse cx="443" cy="301" rx="16" ry="7" transform="rotate(4 443 301)"/><ellipse cx="481" cy="297" rx="15" ry="9" transform="rotate(7 481 297)"/><ellipse cx="511" cy="300" rx="15" ry="9" transform="rotate(-18 511 300)"/><ellipse cx="546" cy="301" rx="12" ry="8" transform="rotate(7 546 301)"/><ellipse cx="571" cy="297" rx="13" ry="9" transform="rotate(-19 571 297)"/><ellipse cx="65" cy="316" rx="14" ry="10" transform="rotate(-15 65 316)"/><ellipse cx="98" cy="313" rx="14" ry="10" transform="rotate(2 98 313)"/><ellipse cx="128" cy="314" rx="16" ry="9" transform="rotate(-17 128 314)"/><ellipse cx="166" cy="317" rx="9" ry="8" transform="rotate(-22 166 317)"/><ellipse cx="188" cy="313" rx="16" ry="9" transform="rotate(-20 188 313)"/><ellipse cx="217" cy="317" rx="17" ry="9" transform="rotate(-7 217 317)"/><ellipse cx="258" cy="312" rx="16" ry="7" transform="rotate(-11 258 312)"/><ellipse cx="289" cy="314" rx="16" ry="9" transform="rotate(-16 289 314)"/><ellipse cx="323" cy="312" rx="14" ry="7" transform="rotate(7 323 312)"/><ellipse cx="360" cy="315" rx="16" ry="9" transform="rotate(-9 360 315)"/><ellipse cx="392" cy="315" rx="10" ry="10" transform="rotate(-10 392 315)"/><ellipse cx="414" cy="315" rx="10" ry="9" transform="rotate(-8 414 315)"/><ellipse cx="439" cy="317" rx="16" ry="10" transform="rotate(5 439 317)"/><ellipse cx="473" cy="315" rx="12" ry="10" transform="rotate(-16 473 315)"/><ellipse cx="504" cy="313" rx="10" ry="8" transform="rotate(-20 504 313)"/><ellipse cx="526" cy="315" rx="17" ry="8" transform="rotate(-7 526 315)"/><ellipse cx="559" cy="317" rx="16" ry="8" transform="rotate(-13 559 317)"/><ellipse cx="62" cy="329" rx="13" ry="6" transform="rotate(-10 62 329)"/><ellipse cx="86" cy="332" rx="10" ry="9" transform="rotate(-4 86 332)"/><ellipse cx="113" cy="332" rx="12" ry="9" transform="rotate(-21 113 332)"/><ellipse cx="143" cy="328" rx="12" ry="6" transform="rotate(-22 143 328)"/><ellipse cx="168" cy="329" rx="15" ry="7" transform="rotate(-18 168 329)"/><ellipse cx="199" cy="329" rx="12" ry="10" transform="rotate(-1 199 329)"/><ellipse cx="228" cy="332" rx="14" ry="7" transform="rotate(-7 228 332)"/><ellipse cx="256" cy="328" rx="10" ry="7" transform="rotate(1 256 328)"/><ellipse cx="285" cy="330" rx="16" ry="9" transform="rotate(7 285 330)"/><ellipse cx="316" cy="329" rx="16" ry="8" transform="rotate(-1 316 329)"/><ellipse cx="355" cy="331" rx="10" ry="6" transform="rotate(-17 355 331)"/><ellipse cx="377" cy="328" rx="10" ry="10" transform="rotate(-20 377 328)"/><ellipse cx="402" cy="330" rx="14" ry="6" transform="rotate(4 402 330)"/><ellipse cx="436" cy="328" rx="11" ry="6" transform="rotate(2 436 328)"/><ellipse cx="460" cy="330" rx="13" ry="9" transform="rotate(2 460 330)"/><ellipse cx="486" cy="330" rx="13" ry="10" transform="rotate(-18 486 330)"/><ellipse cx="518" cy="328" rx="12" ry="8" transform="rotate(-17 518 328)"/><ellipse cx="545" cy="332" rx="11" ry="8" transform="rotate(-7 545 332)"/><ellipse cx="571" cy="333" rx="12" ry="10" transform="rotate(-6 571 333)"/><ellipse cx="67" cy="343" rx="12" ry="10" transform="rotate(-5 67 343)"/><ellipse cx="95" cy="348" rx="15" ry="10" transform="rotate(-1 95 348)"/><ellipse cx="131" cy="345" rx="13" ry="9" transform="rotate(-18 131 345)"/><ellipse cx="164" cy="348" rx="11" ry="9" transform="rotate(1 164 348)"/><ellipse cx="188" cy="348" rx="14" ry="7" transform="rotate(-6 188 348)"/><ellipse cx="221" cy="347" rx="15" ry="9" transform="rotate(-14 221 347)"/><ellipse cx="249" cy="347" rx="10" ry="9" transform="rotate(-6 249 347)"/><ellipse cx="275" cy="348" rx="10" ry="9" transform="rotate(6 275 348)"/><ellipse cx="294" cy="347" rx="9" ry="10" transform="rotate(-5 294 347)"/><ellipse cx="316" cy="347" rx="11" ry="7" transform="rotate(7 316 347)"/><ellipse cx="343" cy="344" rx="14" ry="8" transform="rotate(5 343 344)"/><ellipse cx="375" cy="344" rx="11" ry="8" transform="rotate(8 375 344)"/><ellipse cx="398" cy="347" rx="12" ry="9" transform="rotate(5 398 347)"/><ellipse cx="429" cy="344" rx="14" ry="9" transform="rotate(-16 429 344)"/><ellipse cx="456" cy="346" rx="15" ry="10" transform="rotate(-9 456 346)"/><ellipse cx="493" cy="348" rx="9" ry="10" transform="rotate(-9 493 348)"/><ellipse cx="514" cy="346" rx="14" ry="9" transform="rotate(3 514 346)"/><ellipse cx="542" cy="347" rx="10" ry="7" transform="rotate(7 542 347)"/><ellipse cx="566" cy="347" rx="14" ry="9" transform="rotate(6 566 347)"/><ellipse cx="59" cy="363" rx="12" ry="10" transform="rotate(-4 59 363)"/><ellipse cx="89" cy="360" rx="12" ry="7" transform="rotate(2 89 360)"/><ellipse cx="117" cy="365" rx="12" ry="10" transform="rotate(-0 117 365)"/><ellipse cx="142" cy="361" rx="10" ry="10" transform="rotate(-16 142 361)"/><ellipse cx="165" cy="363" rx="10" ry="7" transform="rotate(-21 165 363)"/><ellipse cx="188" cy="360" rx="17" ry="10" transform="rotate(-1 188 360)"/><ellipse cx="224" cy="362" rx="10" ry="9" transform="rotate(-13 224 362)"/><ellipse cx="245" cy="361" rx="11" ry="8" transform="rotate(-4 245 361)"/><ellipse cx="269" cy="360" rx="10" ry="10" transform="rotate(-9 269 360)"/><ellipse cx="293" cy="361" rx="9" ry="9" transform="rotate(-5 293 361)"/><ellipse cx="314" cy="364" rx="10" ry="7" transform="rotate(5 314 364)"/><ellipse cx="333" cy="365" rx="9" ry="7" transform="rotate(-3 333 365)"/><ellipse cx="354" cy="365" rx="13" ry="8" transform="rotate(-17 354 365)"/><ellipse cx="388" cy="363" rx="14" ry="9" transform="rotate(-9 388 363)"/><ellipse cx="421" cy="364" rx="16" ry="7" transform="rotate(-6 421 364)"/><ellipse cx="452" cy="365" rx="12" ry="8" transform="rotate(-7 452 365)"/><ellipse cx="480" cy="360" rx="12" ry="7" transform="rotate(-14 480 360)"/><ellipse cx="510" cy="360" rx="17" ry="6" transform="rotate(-2 510 360)"/><ellipse cx="543" cy="364" rx="11" ry="8" transform="rotate(1 543 364)"/><ellipse cx="569" cy="364" rx="16" ry="9" transform="rotate(-11 569 364)"/></g>
<g fill="#4a4a4a" filter="url(#blur1)"><ellipse cx="56" cy="24" rx="3" ry="2"/><ellipse cx="82" cy="30" rx="7" ry="4"/><ellipse cx="137" cy="30" rx="6" ry="4"/><ellipse cx="166" cy="30" rx="3" ry="2"/><ellipse cx="194" cy="25" rx="3" ry="3"/><ellipse cx="310" cy="24" rx="4" ry="3"/><ellipse cx="339" cy="25" rx="5" ry="4"/><ellipse cx="370" cy="24" rx="3" ry="2"/><ellipse cx="409" cy="22" rx="7" ry="5"/><ellipse cx="433" cy="29" rx="5" ry="4"/><ellipse cx="477" cy="25" rx="5" ry="4"/><ellipse cx="513" cy="25" rx="5" ry="4"/><ellipse cx="567" cy="23" rx="6" ry="5"/><ellipse cx="110" cy="41" rx="3" ry="2"/><ellipse cx="144" cy="43" rx="5" ry="3"/><ellipse cx="157" cy="48" rx="5" ry="4"/><ellipse cx="215" cy="45" rx="4" ry="3"/><ellipse cx="263" cy="43" rx="6" ry="4"/><ellipse cx="287" cy="45" rx="3" ry="2"/><ellipse cx="326" cy="41" rx="7" ry="5"/><ellipse cx="354" cy="45" rx="7" ry="6"/><ellipse cx="379" cy="42" rx="3" ry="2"/><ellipse cx="436" cy="44" rx="3" ry="2"/><ellipse cx="471" cy="41" rx="4" ry="3"/><ellipse cx="545" cy="41" rx="5" ry="3"/><ellipse cx="57" cy="56" rx="7" ry="6"/><ellipse cx="226" cy="63" rx="5" ry="3"/><ellipse cx="251" cy="60" rx="5" ry="4"/><ellipse cx="279" cy="63" rx="4" ry="3"/><ellipse cx="406" cy="57" rx="7" ry="5"/><ellipse cx="431" cy="57" rx="4" ry="3"/><ellipse cx="564" cy="63" rx="5" ry="4"/><ellipse cx="144" cy="79" rx="3" ry="2"/><ellipse cx="238" cy="75" rx="3" ry="2"/><ellipse cx="304" cy="76" rx="5" ry="4"/><ellipse cx="351" cy="75" rx="4" ry="3"/><ellipse cx="396" cy="76" rx="4" ry="3"/><ellipse cx="433" cy="78" rx="3" ry="3"/><ellipse cx="499" cy="76" rx="5" ry="4"/><ellipse cx="530" cy="77" rx="7" ry="5"/><ellipse cx="554" cy="76" rx="7" ry="4"/><ellipse cx="580" cy="75" rx="4" ry="3"/><ellipse cx="96" cy="95" rx="5" ry="4"/><ellipse cx="118" cy="94" rx="4" ry="3"/><ellipse cx="145" cy="95" rx="5" ry="3"/><ellipse cx="196" cy="91" rx="4" ry="4"/><ellipse cx="245" cy="94" rx="5" ry="4"/><ellipse cx="333" cy="93" rx="5" ry="4"/><ellipse cx="360" cy="95" rx="5" ry="4"/><ellipse cx="384" cy="94" rx="5" ry="4"/><ellipse cx="414" cy="91" rx="6" ry="4"/><ellipse cx="468" cy="94" rx="6" ry="5"/><ellipse cx="584" cy="98" rx="7" ry="5"/><ellipse cx="109" cy="109" rx="3" ry="2"/><ellipse cx="132" cy="113" rx="4" ry="3"/><ellipse cx="159" cy="109" rx="6" ry="4"/><ellipse cx="190" cy="110" rx="4" ry="3"/><ellipse cx="363" cy="112" rx="6" ry="4"/><ellipse cx="443" cy="107" rx="7" ry="6"/><ellipse cx="476" cy="108" rx="5" ry="3"/><ellipse cx="532" cy="107" rx="4" ry="3"/><ellipse cx="547" cy="111" rx="7" ry="5"/><ellipse cx="587" cy="113" rx="4" ry="3"/><ellipse cx="94" cy="121" rx="4" ry="3"/><ellipse cx="241" cy="124" rx="5" ry="4"/><ellipse cx="269" cy="121" rx="6" ry="4"/><ellipse cx="334" cy="126" rx="4" ry="3"/><ellipse cx="430" cy="126" rx="3" ry="3"/><ellipse cx="523" cy="121" rx="7" ry="5"/><ellipse cx="550" cy="124" rx="6" ry="5"/><ellipse cx="574" cy="127" rx="5" ry="4"/><ellipse cx="70" cy="145" rx="6" ry="4"/><ellipse cx="99" cy="140" rx="5" ry="4"/><ellipse cx="165" cy="141" rx="3" ry="2"/><ellipse cx="221" cy="145" rx="5" ry="4"/><ellipse cx="284" cy="140" rx="5" ry="3"/><ellipse cx="327" cy="145" rx="6" ry="4"/><ellipse cx="351" cy="146" rx="3" ry="3"/><ellipse cx="382" cy="140" rx="3" ry="2"/><ellipse cx="475" cy="139" rx="4" ry="3"/><ellipse cx="545" cy="143" rx="4" ry="4"/><ellipse cx="579" cy="139" rx="7" ry="6"/><ellipse cx="80" cy="159" rx="6" ry="4"/><ellipse cx="137" cy="157" rx="7" ry="5"/><ellipse cx="160" cy="158" rx="3" ry="3"/><ellipse cx="183" cy="159" rx="7" ry="6"/><ellipse cx="240" cy="161" rx="6" ry="4"/><ellipse cx="282" cy="158" rx="7" ry="6"/><ellipse cx="354" cy="160" rx="6" ry="5"/><ellipse cx="440" cy="161" rx="3" ry="2"/><ellipse cx="132" cy="180" rx="3" ry="2"/><ellipse cx="158" cy="182" rx="7" ry="6"/><ellipse cx="193" cy="178" rx="7" ry="4"/><ellipse cx="210" cy="176" rx="7" ry="5"/><ellipse cx="252" cy="179" rx="7" ry="7"/><ellipse cx="280" cy="176" rx="7" ry="5"/><ellipse cx="353" cy="181" rx="7" ry="5"/><ellipse cx="419" cy="178" rx="4" ry="3"/><ellipse cx="441" cy="174" rx="5" ry="4"/><ellipse cx="524" cy="179" rx="5" ry="3"/><ellipse cx="557" cy="178" rx="4" ry="3"/><ellipse cx="56" cy="197" rx="7" ry="4"/><ellipse cx="79" cy="198" rx="6" ry="4"/><ellipse cx="110" cy="197" rx="7" ry="5"/><ellipse cx="211" cy="196" rx="3" ry="2"/><ellipse cx="314" cy="199" rx="4" ry="3"/><ellipse cx="389" cy="199" rx="5" ry="4"/><ellipse cx="437" cy="197" rx="4" ry="2"/><ellipse cx="470" cy="198" rx="5" ry="4"/><ellipse cx="512" cy="196" rx="3" ry="2"/><ellipse cx="532" cy="197" rx="6" ry="4"/><ellipse cx="129" cy="217" rx="7" ry="5"/><ellipse cx="159" cy="215" rx="6" ry="4"/><ellipse cx="187" cy="213" rx="6" ry="5"/><ellipse cx="206" cy="213" rx="3" ry="2"/><ellipse cx="280" cy="212" rx="3" ry="2"/><ellipse cx="346" cy="217" rx="3" ry="2"/><ellipse cx="369" cy="217" rx="4" ry="2"/><ellipse cx="390" cy="213" rx="3" ry="2"/><ellipse cx="431" cy="213" rx="6" ry="4"/><ellipse cx="456" cy="211" rx="6" ry="5"/><ellipse cx="526" cy="216" rx="6" ry="4"/><ellipse cx="551" cy="211" rx="5" ry="4"/><ellipse cx="581" cy="216" rx="3" ry="2"/><ellipse cx="64" cy="231" rx="7" ry="5"/><ellipse cx="120" cy="230" rx="7" ry="6"/><ellipse cx="182" cy="236" rx="4" ry="3"/><ellipse cx="217" cy="237" rx="4" ry="3"/><ellipse cx="254" cy="236" rx="3" ry="2"/><ellipse cx="291" cy="237" rx="5" ry="3"/><ellipse cx="372" cy="233" rx="6" ry="4"/><ellipse cx="405" cy="230" rx="4" ry="3"/><ellipse cx="527" cy="235" rx="6" ry="4"/><ellipse cx="147" cy="247" rx="6" ry="5"/><ellipse cx="176" cy="246" rx="3" ry="3"/><ellipse cx="192" cy="250" rx="3" ry="2"/><ellipse cx="254" cy="250" rx="3" ry="2"/><ellipse cx="281" cy="254" rx="3" ry="2"/><ellipse cx="344" cy="248" rx="6" ry="4"/><ellipse cx="365" cy="248" rx="5" ry="3"/><ellipse cx="428" cy="250" rx="5" ry="4"/><ellipse cx="477" cy="253" rx="5" ry="4"/><ellipse cx="508" cy="250" rx="3" ry="3"/><ellipse cx="533" cy="246" rx="6" ry="5"/><ellipse cx="558" cy="249" rx="7" ry="5"/><ellipse cx="586" cy="251" rx="6" ry="4"/><ellipse cx="61" cy="270" rx="4" ry="3"/><ellipse cx="106" cy="267" rx="6" ry="4"/><ellipse cx="138" cy="266" rx="6" ry="3"/><ellipse cx="169" cy="268" rx="6" ry="4"/><ellipse cx="201" cy="268" rx="6" ry="4"/><ellipse cx="226" cy="267" rx="6" ry="5"/><ellipse cx="246" cy="269" rx="3" ry="2"/><ellipse cx="277" cy="264" rx="3" ry="2"/><ellipse cx="298" cy="266" rx="4" ry="3"/><ellipse cx="318" cy="270" rx="6" ry="5"/><ellipse cx="338" cy="266" rx="6" ry="5"/><ellipse cx="379" cy="263" rx="7" ry="5"/><ellipse cx="409" cy="266" rx="6" ry="4"/><ellipse cx="576" cy="269" rx="7" ry="4"/><ellipse cx="73" cy="285" rx="6" ry="4"/><ellipse cx="101" cy="279" rx="7" ry="4"/><ellipse cx="134" cy="280" rx="6" ry="4"/><ellipse cx="182" cy="282" rx="3" ry="2"/><ellipse cx="234" cy="279" rx="4" ry="3"/><ellipse cx="262" cy="282" rx="4" ry="3"/><ellipse cx="433" cy="279" rx="3" ry="2"/><ellipse cx="456" cy="282" rx="4" ry="4"/><ellipse cx="89" cy="301" rx="6" ry="5"/><ellipse cx="144" cy="303" rx="5" ry="3"/><ellipse cx="177" cy="298" rx="4" ry="2"/><ellipse cx="191" cy="297" rx="6" ry="4"/><ellipse cx="237" cy="299" rx="7" ry="4"/><ellipse cx="263" cy="300" rx="4" ry="3"/><ellipse cx="347" cy="304" rx="7" ry="4"/><ellipse cx="378" cy="302" rx="4" ry="3"/><ellipse cx="410" cy="297" rx="6" ry="3"/><ellipse cx="446" cy="302" rx="3" ry="2"/><ellipse cx="513" cy="300" rx="4" ry="3"/><ellipse cx="62" cy="317" rx="5" ry="3"/><ellipse cx="164" cy="319" rx="3" ry="2"/><ellipse cx="191" cy="311" rx="5" ry="4"/><ellipse cx="252" cy="311" rx="7" ry="5"/><ellipse cx="291" cy="316" rx="5" ry="3"/><ellipse cx="325" cy="311" rx="3" ry="2"/><ellipse cx="444" cy="318" rx="5" ry="4"/><ellipse cx="469" cy="314" rx="5" ry="4"/><ellipse cx="525" cy="316" rx="6" ry="4"/><ellipse cx="113" cy="332" rx="3" ry="2"/><ellipse cx="140" cy="327" rx="5" ry="3"/><ellipse cx="168" cy="329" rx="3" ry="2"/><ellipse cx="196" cy="327" rx="7" ry="5"/><ellipse cx="256" cy="327" rx="3" ry="2"/><ellipse cx="288" cy="330" rx="5" ry="3"/><ellipse cx="321" cy="327" rx="4" ry="3"/><ellipse cx="354" cy="331" rx="3" ry="3"/><ellipse cx="376" cy="327" rx="4" ry="3"/><ellipse cx="398" cy="331" rx="3" ry="3"/><ellipse cx="435" cy="327" rx="4" ry="3"/><ellipse cx="488" cy="330" rx="3" ry="2"/><ellipse cx="518" cy="329" rx="5" ry="4"/><ellipse cx="544" cy="332" rx="3" ry="2"/><ellipse cx="570" cy="333" rx="7" ry="4"/><ellipse cx="69" cy="345" rx="3" ry="2"/><ellipse cx="129" cy="346" rx="7" ry="4"/><ellipse cx="162" cy="348" rx="6" ry="4"/><ellipse cx="187" cy="348" rx="4" ry="3"/><ellipse cx="249" cy="346" rx="5" ry="4"/><ellipse cx="274" cy="348" rx="6" ry="5"/><ellipse cx="292" cy="346" rx="7" ry="6"/><ellipse cx="318" cy="349" rx="3" ry="2"/><ellipse cx="348" cy="346" rx="7" ry="5"/><ellipse cx="371" cy="343" rx="5" ry="4"/><ellipse cx="396" cy="345" rx="4" ry="3"/><ellipse cx="425" cy="346" rx="3" ry="2"/><ellipse cx="459" cy="345" rx="4" ry="3"/><ellipse cx="496" cy="348" rx="6" ry="4"/><ellipse cx="519" cy="345" rx="5" ry="3"/><ellipse cx="544" cy="348" rx="3" ry="2"/><ellipse cx="567" cy="346" rx="6" ry="5"/><ellipse cx="61" cy="364" rx="7" ry="6"/><ellipse cx="144" cy="361" rx="6" ry="4"/><ellipse cx="164" cy="363" rx="6" ry="4"/><ellipse cx="242" cy="361" rx="5" ry="4"/><ellipse cx="272" cy="361" rx="7" ry="5"/><ellipse cx="293" cy="362" rx="7" ry="5"/><ellipse cx="315" cy="363" rx="5" ry="3"/><ellipse cx="334" cy="367" rx="6" ry="4"/><ellipse cx="353" cy="364" rx="5" ry="4"/><ellipse cx="426" cy="363" rx="3" ry="2"/><ellipse cx="455" cy="366" rx="4" ry="3"/><ellipse cx="477" cy="359" rx="3" ry="2"/><ellipse cx="540" cy="365" rx="7" ry="7"/><ellipse cx="565" cy="366" rx="6" ry="4"/></g>
<rect x="70" y="31" width="502.0" height="333.6" fill="#000" filter="url(#fGrain)"/>
</g>
<clipPath id="cpSemB"><rect x="74" y="383.2" width="499.0" height="335.3"/></clipPath>
<g clip-path="url(#cpSemB)">
<rect x="74" y="383.2" width="499.0" height="335.3" fill="#3a3a3a"/>
<polygon points="69,382.7 578,382.7 578,407.1 69,404.3" fill="url(#gFibTop)"/>
<polygon points="69,407.3 578,410.1 578,475.8 69,447.2" fill="url(#gFib)"/>
<polygon points="69,450.2 578,478.8 578,523.0 69,495.8" fill="url(#gFib)"/>
<polygon points="69,498.8 578,526.0 578,561.7 69,538.8" fill="url(#gFib)"/>
<polygon points="69,541.8 578,564.7 578,584.5 69,578.8" fill="url(#gFib)"/>
<polygon points="69,581.8 578,587.5 578,616.1 69,607.5" fill="url(#gFib)"/>
<polygon points="69,610.5 578,619.1 578,641.8 69,630.4" fill="url(#gFib)"/>
<polygon points="69,633.4 578,644.8 578,664.7 69,653.3" fill="url(#gFib)"/>
<polygon points="69,656.3 578,667.7 578,710.5 69,707.5" fill="url(#gFib)"/>
<polygon points="69,710.5 578,713.5 578,722.0 69,722.0" fill="url(#gFib)"/>
<rect x="74" y="383.2" width="499.0" height="335.3" fill="#000" filter="url(#fGrain)"/>
</g>
<rect x="71" y="733.3" width="502.0" height="338.7" fill="#777" filter="url(#fSemC)"/>
<rect x="587" y="26.6" width="341.7" height="341.7" fill="#000" stroke="#2a8f8a" stroke-width="1"/>
<rect x="601" y="40.6" width="313.7" height="313.7" rx="16" fill="#000" filter="url(#fRedNoise)"/>
<circle cx="760.4" cy="201.7" r="70" fill="url(#gSao)" filter="url(#fSpeck)"/>
<circle cx="760.4" cy="201.7" r="30" fill="url(#gSa)" filter="url(#fSpeck)"/>
<circle cx="760.4" cy="201.7" r="9" fill="#fffbe0"/>
<circle cx="760.4" cy="201.7" r="3.8" fill="#2a0500"/>
<rect x="587" y="378.4" width="341.5" height="341.6" fill="#000" stroke="#2a8f8a" stroke-width="1"/>
<rect x="601" y="392.4" width="313.5" height="313.6" rx="16" fill="#000" filter="url(#fRedNoise)"/>
<ellipse cx="760.4" cy="554" rx="55" ry="70" fill="url(#gSbo)" filter="url(#fSpeck)"/>
<ellipse cx="760.4" cy="554" rx="30" ry="38" fill="url(#gSb)" filter="url(#fSpeck)"/>
<circle cx="760.4" cy="554" r="7" fill="#fffbe0"/>
<circle cx="760.4" cy="554" r="2.9" fill="#2a0500"/>
<rect x="583.7" y="728.8" width="344.3" height="344.2" fill="#000" stroke="#2a8f8a" stroke-width="1"/>
<rect x="597.7" y="742.8" width="316.3" height="316.2" rx="16" fill="#000" filter="url(#fRedNoise2)"/>
<ellipse cx="759" cy="906.5" rx="64" ry="84" fill="url(#gSco)" filter="url(#fSpeck)"/>
<ellipse cx="759" cy="906.5" rx="47" ry="56" fill="url(#gSc)" filter="url(#fSpeck)"/>
<rect x="756.5" y="856.5" width="5" height="100" fill="#7a0c04" opacity="0.5" filter="url(#blur1)"/>
<circle cx="759" cy="906.5" r="9" fill="#fffbe0"/>
<circle cx="759" cy="906.5" r="3.8" fill="#2a0500"/>
<radialGradient id="gWa" gradientUnits="userSpaceOnUse" cx="1120" cy="202.6" r="250"><stop offset="0.000" stop-color="#100000"/><stop offset="0.040" stop-color="#1a0000"/><stop offset="0.048" stop-color="#d02808"/><stop offset="0.072" stop-color="#e82c0c"/><stop offset="0.112" stop-color="#e42a0c"/><stop offset="0.160" stop-color="#c01c08"/><stop offset="0.208" stop-color="#a81606"/><stop offset="0.288" stop-color="#b41806"/><stop offset="0.360" stop-color="#ee2c0e"/><stop offset="0.432" stop-color="#ff3612"/><stop offset="0.540" stop-color="#ff3814"/><stop offset="0.632" stop-color="#ee2a0e"/><stop offset="0.728" stop-color="#c81e08"/><stop offset="0.848" stop-color="#8e1006"/><stop offset="1.000" stop-color="#5e0802"/></radialGradient>
<clipPath id="cpgWa"><rect x="947.6" y="30.6" width="341.4" height="341.5"/></clipPath><g clip-path="url(#cpgWa)">
<rect x="947.6" y="30.6" width="341.4" height="341.5" fill="url(#gWa)"/>
<rect x="947.6" y="30.6" width="341.4" height="341.5" fill="#000" filter="url(#fDarkNoise)" opacity="0.35"/>
<circle cx="1120" cy="202.6" r="11" fill="#150000"/>
<circle cx="1120" cy="202.6" r="5.5" fill="none" stroke="#e05020" stroke-width="1.6"/>
</g>
<rect x="947.6" y="30.6" width="341.4" height="341.5" fill="none" stroke="#2a8f8a" stroke-width="1"/>
<radialGradient id="gWb" gradientUnits="userSpaceOnUse" cx="1120" cy="549.8" r="250"><stop offset="0.000" stop-color="#100000"/><stop offset="0.040" stop-color="#1a0000"/><stop offset="0.048" stop-color="#e82c0c"/><stop offset="0.088" stop-color="#ff3812"/><stop offset="0.128" stop-color="#e02a0c"/><stop offset="0.168" stop-color="#c41e08"/><stop offset="0.280" stop-color="#c01c08"/><stop offset="0.344" stop-color="#ee2c0e"/><stop offset="0.364" stop-color="#ff4a1a"/><stop offset="0.384" stop-color="#ff3412"/><stop offset="0.500" stop-color="#fa3212"/><stop offset="0.640" stop-color="#d22408"/><stop offset="0.800" stop-color="#9a1206"/><stop offset="1.000" stop-color="#5a0802"/></radialGradient>
<clipPath id="cpgWb"><rect x="947.6" y="377.9" width="341.4" height="341.3"/></clipPath><g clip-path="url(#cpgWb)">
<rect x="947.6" y="377.9" width="341.4" height="341.3" fill="url(#gWb)"/>
<circle cx="1120" cy="549.8" r="91" fill="none" stroke="#ff5a20" stroke-width="3" opacity="0.55" filter="url(#blur1)"/>
<rect x="947.6" y="377.9" width="341.4" height="341.3" fill="#000" filter="url(#fDarkNoise)" opacity="0.35"/>
<circle cx="1120" cy="549.8" r="11" fill="#150000"/>
<circle cx="1120" cy="549.8" r="5.5" fill="none" stroke="#e05020" stroke-width="1.6"/>
</g>
<rect x="947.6" y="377.9" width="341.4" height="341.3" fill="none" stroke="#2a8f8a" stroke-width="1"/>
<radialGradient id="gWc" gradientUnits="userSpaceOnUse" cx="1114.4" cy="907" r="260" gradientTransform="translate(1114.4 907) scale(1 1.12) translate(-1114.4 -907)"><stop offset="0.000" stop-color="#100000"/><stop offset="0.038" stop-color="#150000"/><stop offset="0.046" stop-color="#b81e08"/><stop offset="0.085" stop-color="#c82208"/><stop offset="0.123" stop-color="#981406"/><stop offset="0.173" stop-color="#841006"/><stop offset="0.238" stop-color="#8e1206"/><stop offset="0.300" stop-color="#d02008"/><stop offset="0.365" stop-color="#ff3010"/><stop offset="0.454" stop-color="#f82c10"/><stop offset="0.523" stop-color="#d82208"/><stop offset="0.623" stop-color="#a81606"/><stop offset="0.769" stop-color="#800e04"/><stop offset="1.000" stop-color="#5a0802"/></radialGradient>
<clipPath id="cpgWc"><rect x="947.8" y="736.2" width="338.2" height="337.8"/></clipPath><g clip-path="url(#cpgWc)">
<rect x="947.8" y="736.2" width="338.2" height="337.8" fill="url(#gWc)"/>
<ellipse cx="1114.4" cy="815" rx="75" ry="45" fill="#ff3010" opacity="0.55" filter="url(#blur8)"/>
<ellipse cx="1114.4" cy="809" rx="8" ry="30" fill="#ff5020" opacity="0.6" filter="url(#blur4)"/>
<ellipse cx="1114.4" cy="819" rx="30" ry="10" fill="#ff7020" filter="url(#blur2)"/>
<ellipse cx="1114.4" cy="819" rx="20" ry="5.5" fill="#ffe060" filter="url(#blur2)"/>
<ellipse cx="1114.4" cy="819" rx="11" ry="3" fill="#fffbd0" filter="url(#blur1)"/>
<ellipse cx="1114.4" cy="862" rx="14" ry="5" fill="#ff3a10" opacity="0.8" filter="url(#blur2)"/>
<ellipse cx="1114.4" cy="999" rx="75" ry="45" fill="#ff3010" opacity="0.55" filter="url(#blur8)"/>
<ellipse cx="1114.4" cy="1005" rx="8" ry="30" fill="#ff5020" opacity="0.6" filter="url(#blur4)"/>
<ellipse cx="1114.4" cy="995" rx="30" ry="10" fill="#ff7020" filter="url(#blur2)"/>
<ellipse cx="1114.4" cy="995" rx="20" ry="5.5" fill="#ffe060" filter="url(#blur2)"/>
<ellipse cx="1114.4" cy="995" rx="11" ry="3" fill="#fffbd0" filter="url(#blur1)"/>
<ellipse cx="1114.4" cy="952" rx="14" ry="5" fill="#ff3a10" opacity="0.8" filter="url(#blur2)"/>
<circle cx="1114.4" cy="907" r="30" fill="none" stroke="#c82008" stroke-width="6" opacity="0.6" filter="url(#blur2)"/>
<rect x="947.8" y="736.2" width="338.2" height="337.8" fill="#000" filter="url(#fDarkNoise)" opacity="0.35"/>
<circle cx="1114.4" cy="907" r="11" fill="#150000"/>
<circle cx="1114.4" cy="907" r="5.5" fill="none" stroke="#e05020" stroke-width="1.6"/>
</g>
<rect x="947.8" y="736.2" width="338.2" height="337.8" fill="none" stroke="#2a8f8a" stroke-width="1"/>
<polyline points="1396.5,444.4 1396.9,444.4 1397.3,447.8 1397.7,439.1 1398.1,446.6 1398.5,443.8 1399.0,440.9 1399.4,438.1 1399.8,450.2 1400.2,444.2 1400.6,440.5 1401.0,443.4 1401.5,443.0 1401.9,440.4 1402.3,436.2 1402.7,443.8 1403.1,442.2 1403.5,441.6 1404.0,447.9 1404.4,436.5 1404.8,438.3 1405.2,443.8 1405.6,447.1 1406.0,446.0 1406.5,446.6 1406.9,432.1 1407.3,445.5 1407.7,445.1 1408.1,446.4 1408.5,439.6 1409.0,445.5 1409.4,448.0 1409.8,451.0 1410.2,444.3 1410.6,436.5 1411.0,443.3 1411.5,446.2 1411.9,445.6 1412.3,452.5 1412.7,442.0 1413.1,438.0 1413.5,439.9 1414.0,446.3 1414.4,439.1 1414.8,437.9 1415.2,438.9 1415.6,449.0 1416.0,444.2 1416.5,441.4 1416.9,447.2 1417.3,446.4 1417.7,438.2 1418.1,447.2 1418.6,444.3 1419.0,432.9 1419.4,437.2 1419.8,444.3 1420.2,445.5 1420.6,441.6 1421.1,438.1 1421.5,444.3 1421.9,434.0 1422.3,445.8 1422.7,442.3 1423.1,442.9 1423.6,439.9 1424.0,447.2 1424.4,431.6 1424.8,438.8 1425.2,445.9 1425.6,439.6 1426.1,450.3 1426.5,445.2 1426.9,439.3 1427.3,448.6 1427.7,442.7 1428.1,446.0 1428.6,440.1 1429.0,440.2 1429.4,446.7 1429.8,443.7 1430.2,439.4 1430.6,438.8 1431.1,446.4 1431.5,451.9 1431.9,439.1 1432.3,446.6 1432.7,428.8 1433.1,436.4 1433.6,446.6 1434.0,451.1 1434.4,443.5 1434.8,445.9 1435.2,444.5 1435.6,448.2 1436.1,437.9 1436.5,446.4 1436.9,441.1 1437.3,441.6 1437.7,443.2 1438.1,442.2 1438.6,439.5 1439.0,442.0 1439.4,438.6 1439.8,450.6 1440.2,446.7 1440.6,441.2 1441.1,451.1 1441.5,449.6 1441.9,445.7 1442.3,440.6 1442.7,444.5 1443.1,446.1 1443.6,450.1 1444.0,442.4 1444.4,440.5 1444.8,454.6 1445.2,450.1 1445.6,444.8 1446.1,438.7 1446.5,445.7 1446.9,448.8 1447.3,447.0 1447.7,447.3 1448.1,443.5 1448.6,448.9 1449.0,440.3 1449.4,441.1 1449.8,440.8 1450.2,440.1 1450.6,452.9 1451.1,434.9 1451.5,444.4 1451.9,438.4 1452.3,437.1 1452.7,443.7 1453.1,435.5 1453.6,442.8 1454.0,454.6 1454.4,442.7 1454.8,445.5 1455.2,439.0 1455.6,445.6 1456.1,435.8 1456.5,444.1 1456.9,442.6 1457.3,453.9 1457.7,442.7 1458.1,441.4 1458.6,440.4 1459.0,437.2 1459.4,446.9 1459.8,450.3 1460.2,441.3 1460.6,446.6 1461.1,441.3 1461.5,445.1 1461.9,445.4 1462.3,436.0 1462.7,439.2 1463.1,447.7 1463.6,433.6 1464.0,443.1 1464.4,441.4 1464.8,438.4 1465.2,443.3 1465.6,444.6 1466.1,445.7 1466.5,430.0 1466.9,451.4 1467.3,440.7 1467.7,448.2 1468.1,442.4 1468.6,440.2 1469.0,442.7 1469.4,458.9 1469.8,450.9 1470.2,441.3 1470.6,444.2 1471.1,448.6 1471.5,445.9 1471.9,443.5 1472.3,442.1 1472.7,437.7 1473.2,446.8 1473.6,448.5 1474.0,454.2 1474.4,440.3 1474.8,446.3 1475.2,442.9 1475.7,449.3 1476.1,442.5 1476.5,439.8 1476.9,434.6 1477.3,446.6 1477.7,443.8 1478.2,448.6 1478.6,440.3 1479.0,456.0 1479.4,439.5 1479.8,445.6 1480.2,445.1 1480.7,448.5 1481.1,442.2 1481.5,438.4 1481.9,438.1 1482.3,447.1 1482.7,443.5 1483.2,444.7 1483.6,438.9 1484.0,443.7 1484.4,444.1 1484.8,446.1 1485.2,435.7 1485.7,439.2 1486.1,451.6 1486.5,441.0 1486.9,442.6 1487.3,441.0 1487.7,435.5 1488.2,437.6 1488.6,444.9 1489.0,439.6 1489.4,453.1 1489.8,435.5 1490.2,433.3 1490.7,441.0 1491.1,437.0 1491.5,449.9 1491.9,440.9 1492.3,445.6 1492.7,435.9 1493.2,446.3 1493.6,446.2 1494.0,449.2 1494.4,444.1 1494.8,445.5 1495.2,443.8 1495.7,447.6 1496.1,440.9 1496.5,445.7 1496.9,440.1 1497.3,446.5 1497.7,441.6 1498.2,439.7 1498.6,439.6 1499.0,450.3 1499.4,435.2 1499.8,435.5 1500.2,446.1 1500.7,438.0 1501.1,440.6 1501.5,440.5 1501.9,454.3 1502.3,439.6 1502.7,439.3 1503.2,441.0 1503.6,444.1 1504.0,445.5 1504.4,435.6 1504.8,445.2 1505.2,452.7 1505.7,434.0 1506.1,445.8 1506.5,446.8 1506.9,443.7 1507.3,442.0 1507.7,431.2 1508.2,449.0 1508.6,441.3 1509.0,441.9 1509.4,449.1 1509.8,431.3 1510.2,442.6 1510.7,446.0 1511.1,446.6 1511.5,446.0 1511.9,453.2 1512.3,444.4 1512.7,448.1 1513.2,446.8 1513.6,435.6 1514.0,439.1 1514.4,453.4 1514.8,441.6 1515.2,442.7 1515.7,436.4 1516.1,441.3 1516.5,436.4 1516.9,440.0 1517.3,445.8 1517.7,438.8 1518.2,439.9 1518.6,449.7 1519.0,445.3 1519.4,445.6 1519.8,448.0 1520.2,440.2 1520.7,441.0 1521.1,432.7 1521.5,446.7 1521.9,442.0 1522.3,443.0 1522.7,437.5 1523.2,446.1 1523.6,446.1 1524.0,443.9 1524.4,435.1 1524.8,438.8 1525.3,442.8 1525.7,438.8 1526.1,444.9 1526.5,448.0 1526.9,439.2 1527.3,442.1 1527.8,439.6 1528.2,448.2 1528.6,447.5 1529.0,456.3 1529.4,443.0 1529.8,438.3 1530.3,445.0 1530.7,441.8 1531.1,444.0 1531.5,449.2 1531.9,441.6 1532.3,446.6 1532.8,432.4 1533.2,448.3 1533.6,443.7 1534.0,441.8 1534.4,440.5 1534.8,450.1 1535.3,440.5 1535.7,449.4 1536.1,440.5 1536.5,443.3 1536.9,444.8 1537.3,453.2 1537.8,444.3 1538.2,444.2 1538.6,442.7 1539.0,441.5 1539.4,440.0 1539.8,452.1 1540.3,450.4 1540.7,439.6 1541.1,443.9 1541.5,437.2 1541.9,447.8 1542.3,446.5 1542.8,443.6 1543.2,439.0 1543.6,446.9 1544.0,446.2 1544.4,442.2 1544.8,446.8 1545.3,436.4 1545.7,440.1 1546.1,438.3 1546.5,443.6 1546.9,451.4 1547.3,443.3 1547.8,448.8 1548.2,442.9 1548.6,441.0 1549.0,448.1 1549.4,445.8 1549.8,450.2 1550.3,447.9 1550.7,439.0 1551.1,430.3 1551.5,443.7 1551.9,437.2 1552.3,436.0 1552.8,435.6 1553.2,439.8 1553.6,442.0 1554.0,443.1 1554.4,453.3 1554.8,437.0 1555.3,443.0 1555.7,436.8 1556.1,438.1 1556.5,443.4 1556.9,445.1 1557.3,436.6 1557.8,448.7 1558.2,438.4 1558.6,447.8 1559.0,442.8 1559.4,447.6 1559.8,445.9 1560.3,441.6 1560.7,445.4 1561.1,436.3 1561.5,436.5 1561.9,441.2 1562.3,449.9 1562.8,439.3 1563.2,440.0 1563.6,451.3 1564.0,443.2 1564.4,443.0 1564.8,437.8 1565.3,443.3 1565.7,446.0 1566.1,442.7 1566.5,446.8 1566.9,444.7 1567.3,448.3 1567.8,447.1 1568.2,442.3 1568.6,447.4 1569.0,452.0 1569.4,444.5 1569.8,436.9 1570.3,444.0 1570.7,442.0 1571.1,456.0 1571.5,446.8 1571.9,437.5 1572.3,442.1 1572.8,450.3 1573.2,437.2 1573.6,440.5 1574.0,443.0 1574.4,442.2 1574.8,440.0 1575.3,443.6 1575.7,435.9 1576.1,440.1 1576.5,440.0 1576.9,441.4 1577.4,441.4 1577.8,442.9 1578.2,441.2 1578.6,440.8 1579.0,444.7 1579.4,447.4 1579.9,447.7 1580.3,437.1 1580.7,444.1 1581.1,446.6 1581.5,441.6 1581.9,445.2 1582.4,441.8 1582.8,444.8 1583.2,435.3 1583.6,445.2 1584.0,440.5 1584.4,439.2 1584.9,441.4 1585.3,447.8 1585.7,447.6 1586.1,444.1 1586.5,447.2 1586.9,440.8 1587.4,436.7 1587.8,433.6 1588.2,442.7 1588.6,442.1 1589.0,443.1 1589.4,443.2 1589.9,449.0 1590.3,438.3 1590.7,439.0 1591.1,452.5 1591.5,446.7 1591.9,441.4 1592.4,432.7 1592.8,438.6 1593.2,441.1 1593.6,442.4 1594.0,443.8 1594.4,441.7 1594.9,448.6 1595.3,436.9 1595.7,441.4 1596.1,439.4 1596.5,446.7 1596.9,443.7 1597.4,446.8 1597.8,443.2 1598.2,461.6 1598.6,446.4 1599.0,439.1 1599.4,442.8 1599.9,440.8 1600.3,446.6 1600.7,447.7 1601.1,444.8 1601.5,441.9 1601.9,439.5 1602.4,450.9 1602.8,448.5 1603.2,428.2 1603.6,443.2 1604.0,438.7 1604.4,441.0 1604.9,451.4 1605.3,437.2 1605.7,437.7 1606.1,455.2 1606.5,440.5 1606.9,441.8 1607.4,448.7 1607.8,440.4 1608.2,443.1 1608.6,444.2 1609.0,450.0 1609.4,434.9 1609.9,438.8 1610.3,442.3 1610.7,447.5 1611.1,439.8 1611.5,445.3 1611.9,440.4 1612.4,441.0 1612.8,449.4 1613.2,441.8 1613.6,457.8 1614.0,444.8 1614.4,448.6 1614.9,446.7 1615.3,435.2 1615.7,435.3 1616.1,445.4 1616.5,437.5 1616.9,440.3 1617.4,441.3 1617.8,438.4 1618.2,448.9 1618.6,446.9 1619.0,443.9 1619.4,445.8 1619.9,438.5 1620.3,447.4 1620.7,438.7 1621.1,450.8 1621.5,439.7 1621.9,440.2 1622.4,448.8 1622.8,446.2 1623.2,438.2 1623.6,446.0 1624.0,443.0 1624.4,443.1 1624.9,446.1 1625.3,446.1 1625.7,448.1 1626.1,445.4 1626.5,444.6 1626.9,442.5 1627.4,450.5 1627.8,439.1 1628.2,452.6 1628.6,453.9 1629.0,453.9 1629.4,442.3 1629.9,453.6 1630.3,448.8 1630.7,448.4 1631.1,459.5 1631.5,444.0 1632.0,445.9 1632.4,436.8 1632.8,431.9 1633.2,444.5 1633.6,445.2 1634.0,446.6 1634.5,444.6 1634.9,433.1 1635.3,444.9 1635.7,448.7 1636.1,450.9 1636.5,438.3 1637.0,438.6 1637.4,439.6 1637.8,439.8 1638.2,434.9 1638.6,439.6 1639.0,450.9 1639.5,437.7 1639.9,433.7 1640.3,441.6 1640.7,440.5 1641.1,446.4 1641.5,439.3 1642.0,442.1 1642.4,438.8 1642.8,438.1 1643.2,444.8 1643.6,443.6 1644.0,442.7 1644.5,445.6 1644.9,438.8 1645.3,443.1 1645.7,444.0 1646.1,448.9 1646.5,433.5 1647.0,441.2 1647.4,445.2 1647.8,440.1 1648.2,443.4 1648.6,446.4 1649.0,445.4 1649.5,434.3 1649.9,436.9 1650.3,428.8 1650.7,446.2 1651.1,444.0 1651.5,449.7 1652.0,443.2 1652.4,437.2 1652.8,448.3 1653.2,436.4 1653.6,443.0 1654.0,441.9 1654.5,446.9 1654.9,447.5 1655.3,440.8 1655.7,439.3 1656.1,442.7 1656.5,440.1 1657.0,447.7 1657.4,444.9 1657.8,450.0 1658.2,456.1 1658.6,438.6 1659.0,440.0 1659.5,445.4 1659.9,445.0 1660.3,441.2 1660.7,434.4 1661.1,455.7 1661.5,443.4 1662.0,437.1 1662.4,430.9 1662.8,450.0 1663.2,444.6 1663.6,443.0 1664.0,437.8 1664.5,442.5 1664.9,441.0 1665.3,430.4 1665.7,456.4 1666.1,445.2 1666.5,441.2 1667.0,438.1 1667.4,439.9 1667.8,455.2 1668.2,445.0 1668.6,436.2 1669.0,447.4 1669.5,445.5 1669.9,445.6 1670.3,442.3 1670.7,442.1 1671.1,444.0 1671.5,441.9 1672.0,435.8 1672.4,437.9 1672.8,443.0 1673.2,434.9 1673.6,442.3 1674.0,441.3 1674.5,446.6 1674.9,443.8 1675.3,441.4 1675.7,441.5 1676.1,445.1 1676.5,447.7 1677.0,437.5 1677.4,435.2 1677.8,439.2 1678.2,431.3 1678.6,439.0 1679.0,447.1 1679.5,447.9 1679.9,450.7 1680.3,443.3 1680.7,443.7 1681.1,440.0 1681.5,440.3 1682.0,444.4 1682.4,447.5 1682.8,445.1 1683.2,432.7 1683.6,445.4 1684.1,443.0 1684.5,439.9 1684.9,443.6 1685.3,447.5 1685.7,443.6 1686.1,439.3 1686.6,459.8 1687.0,439.7 1687.4,445.3 1687.8,449.3 1688.2,438.6 1688.6,445.7 1689.1,438.6 1689.5,441.6 1689.9,439.1 1690.3,451.8 1690.7,436.0 1691.1,445.5 1691.6,443.1 1692.0,432.9 1692.4,451.6 1692.8,440.0 1693.2,441.6 1693.6,444.0 1694.1,438.3 1694.5,439.0 1694.9,442.7 1695.3,438.5 1695.7,443.4 1696.1,449.3 1696.6,437.8 1697.0,434.9 1697.4,442.2 1697.8,444.9 1698.2,446.3 1698.6,437.4 1699.1,431.0 1699.5,447.3 1699.9,446.5 1700.3,450.5 1700.7,438.0 1701.1,445.7 1701.6,448.0 1702.0,433.6 1702.4,448.2 1702.8,450.1 1703.2,445.8 1703.6,445.6 1704.1,446.6 1704.5,441.6 1704.9,435.7 1705.3,438.2 1705.7,442.0 1706.1,438.6 1706.6,448.0 1707.0,440.8 1707.4,442.3 1707.8,434.0 1708.2,444.9 1708.6,439.3 1709.1,450.5 1709.5,434.2 1709.9,444.5 1710.3,440.8 1710.7,441.1 1711.1,451.4 1711.6,447.7 1712.0,438.6 1712.4,449.9 1712.8,439.6 1713.2,446.9 1713.6,434.2 1714.1,441.3 1714.5,441.4 1714.9,441.2 1715.3,434.9 1715.7,433.4 1716.1,442.8 1716.6,445.9 1717.0,443.1 1717.4,441.2 1717.8,435.3 1718.2,441.5 1718.6,440.1 1719.1,439.3 1719.5,443.8 1719.9,443.8 1720.3,444.9 1720.7,441.6 1721.1,438.7 1721.6,441.9 1722.0,441.3 1722.4,434.7 1722.8,441.1 1723.2,434.6 1723.6,433.0 1724.1,438.8 1724.5,439.7 1724.9,446.4 1725.3,441.3 1725.7,445.5 1726.1,450.1 1726.6,443.5 1727.0,444.8 1727.4,439.4 1727.8,447.0 1728.2,443.2 1728.6,443.2 1729.1,437.2 1729.5,438.2 1729.9,439.5 1730.3,443.4 1730.7,448.3 1731.1,435.3 1731.6,441.0 1732.0,441.3 1732.4,454.3 1732.8,441.9 1733.2,440.2 1733.6,446.6 1734.1,437.3 1734.5,445.6 1734.9,434.5 1735.3,453.0 1735.7,442.6 1736.2,440.7 1736.6,436.3 1737.0,442.1 1737.4,443.3 1737.8,439.2 1738.2,448.8 1738.7,441.2 1739.1,443.3 1739.5,444.3 1739.9,449.7 1740.3,441.0 1740.7,443.2 1741.2,444.3 1741.6,445.9 1742.0,433.7 1742.4,448.6 1742.8,442.3 1743.2,439.3 1743.7,442.7 1744.1,433.3 1744.5,439.1 1744.9,443.8 1745.3,449.7 1745.7,442.5 1746.2,444.9 1746.6,441.4 1747.0,447.2 1747.4,440.9 1747.8,445.2 1748.2,441.2 1748.7,438.1 1749.1,438.0 1749.5,439.7 1749.9,448.7 1750.3,458.9 1750.7,441.9 1751.2,439.2 1751.6,445.6 1752.0,445.4 1752.4,440.3 1752.8,452.6 1753.2,447.3 1753.7,447.7 1754.1,443.3 1754.5,443.6 1754.9,447.8 1755.3,436.0 1755.7,438.9 1756.2,443.4 1756.6,435.7 1757.0,451.2 1757.4,439.9 1757.8,440.8 1758.2,444.6 1758.7,450.5 1759.1,442.8 1759.5,439.2 1759.9,438.3 1760.3,444.2 1760.7,440.1 1761.2,454.9 1761.6,449.3 1762.0,427.2 1762.4,438.4 1762.8,444.8 1763.2,454.6 1763.7,432.9 1764.1,440.8 1764.5,449.0 1764.9,439.5 1765.3,443.4 1765.7,440.5 1766.2,446.4 1766.6,437.5 1767.0,443.1 1767.4,435.7 1767.8,447.9 1768.2,446.0 1768.7,442.8 1769.1,443.2 1769.5,443.1 1769.9,441.2 1770.3,443.8 1770.7,444.8 1771.2,442.7 1771.6,440.0 1772.0,441.0 1772.4,440.7 1772.8,445.3 1773.2,443.8 1773.7,452.9 1774.1,442.1 1774.5,443.4 1774.9,439.9 1775.3,443.5 1775.7,440.8 1776.2,438.7 1776.6,443.8 1777.0,451.0 1777.4,438.7 1777.8,439.7 1778.2,442.8 1778.7,444.3 1779.1,449.5 1779.5,439.8 1779.9,442.3 1780.3,439.0 1780.7,438.6 1781.2,440.6 1781.6,437.4 1782.0,445.2 1782.4,448.2 1782.8,440.3 1783.2,439.4 1783.7,449.5 1784.1,441.8 1784.5,450.3 1784.9,428.4 1785.3,442.1 1785.7,437.8 1786.2,440.2 1786.6,446.9 1787.0,448.3 1787.4,442.0 1787.8,447.6 1788.2,437.3 1788.7,444.2 1789.1,442.1 1789.5,434.4 1789.9,447.4 1790.3,439.5 1790.8,445.0 1791.2,439.0 1791.6,443.7 1792.0,445.9 1792.4,442.9 1792.8,440.5 1793.3,445.9 1793.7,443.9 1794.1,440.8 1794.5,443.1 1794.9,442.5 1795.3,441.2 1795.8,447.4 1796.2,451.6 1796.6,440.4 1797.0,442.3 1797.4,438.2 1797.8,436.3 1798.3,448.6 1798.7,439.6 1799.1,444.6 1799.5,436.1 1799.9,439.7 1800.3,445.3 1800.8,445.3 1801.2,444.1 1801.6,445.0 1802.0,444.0 1802.4,447.9 1802.8,451.4 1803.3,445.7 1803.7,442.4 1804.1,437.8 1804.5,440.5 1804.9,441.3 1805.3,450.1 1805.8,435.2 1806.2,438.9 1806.6,437.8 1807.0,447.2 1807.4,439.4 1807.8,433.7 1808.3,432.6 1808.7,444.4 1809.1,434.7 1809.5,448.4 1809.9,448.2 1810.3,437.2 1810.8,441.2 1811.2,442.9 1811.6,435.4 1812.0,436.7 1812.4,439.6 1812.8,442.6 1813.3,444.2 1813.7,433.4 1814.1,444.0 1814.5,442.2 1814.9,441.5 1815.3,440.5 1815.8,447.9 1816.2,450.6 1816.6,440.5 1817.0,441.9 1817.4,434.8 1817.8,440.8 1818.3,446.2 1818.7,442.3 1819.1,444.6 1819.5,442.2 1819.9,443.3 1820.3,446.1 1820.8,446.6 1821.2,433.1 1821.6,441.8 1822.0,428.3 1822.4,442.9 1822.8,440.2 1823.3,439.9 1823.7,450.7 1824.1,444.7 1824.5,448.6 1824.9,446.1 1825.3,451.4 1825.8,441.7 1826.2,441.7 1826.6,442.5 1827.0,455.2 1827.4,440.8 1827.8,443.1 1828.3,449.9 1828.7,447.6 1829.1,440.5 1829.5,451.7 1829.9,445.4 1830.3,450.2 1830.8,446.0 1831.2,446.9 1831.6,439.3 1832.0,450.1 1832.4,439.5 1832.8,443.4 1833.3,448.4 1833.7,441.3 1834.1,443.6 1834.5,443.0 1834.9,443.8 1835.3,446.0 1835.8,435.5 1836.2,440.4 1836.6,453.3 1837.0,433.2 1837.4,439.8 1837.8,447.0 1838.3,433.8 1838.7,438.7 1839.1,439.0 1839.5,450.8 1839.9,438.7 1840.3,446.2 1840.8,439.9 1841.2,443.1 1841.6,437.3 1842.0,435.6 1842.4,440.7 1842.9,436.1 1843.3,442.1 1843.7,443.6 1844.1,445.0 1844.5,450.6 1844.9,450.1 1845.4,437.5 1845.8,439.3 1846.2,451.4 1846.6,442.7 1847.0,441.1 1847.4,448.4 1847.9,439.9 1848.3,447.7 1848.7,441.5 1849.1,449.5 1849.5,442.3 1849.9,447.1 1850.4,448.3 1850.8,451.1 1851.2,439.0 1851.6,441.1 1852.0,435.9 1852.4,434.4 1852.9,440.5 1853.3,443.8 1853.7,449.3 1854.1,440.9 1854.5,452.5 1854.9,443.9 1855.4,447.4 1855.8,441.7 1856.2,436.7 1856.6,450.9 1857.0,441.5 1857.4,448.5 1857.9,441.1 1858.3,445.9 1858.7,442.2 1859.1,441.2 1859.5,442.2 1859.9,446.4 1860.4,436.9 1860.8,438.1 1861.2,447.9 1861.6,439.3 1862.0,443.9 1862.4,436.2 1862.9,441.9 1863.3,448.5 1863.7,443.4 1864.1,444.0 1864.5,441.0 1864.9,443.4 1865.4,434.0 1865.8,434.8 1866.2,445.0 1866.6,434.1 1867.0,449.5 1867.4,447.2 1867.9,436.9 1868.3,432.0 1868.7,430.8 1869.1,444.4 1869.5,442.4 1869.9,449.6 1870.4,445.2 1870.8,450.7 1871.2,447.3 1871.6,438.2 1872.0,442.0 1872.4,438.7 1872.9,441.3 1873.3,440.3 1873.7,441.7 1874.1,449.7 1874.5,440.1 1874.9,436.9 1875.4,439.7 1875.8,440.5 1876.2,439.9 1876.6,442.0 1877.0,440.7 1877.4,448.4 1877.9,447.4 1878.3,439.1 1878.7,447.8 1879.1,449.9 1879.5,442.9 1879.9,438.7 1880.4,445.1 1880.8,442.5 1881.2,444.6 1881.6,437.6 1882.0,453.4 1882.4,442.0 1882.9,445.6 1883.3,440.0 1883.7,443.7 1884.1,431.5 1884.5,436.5 1884.9,430.6 1885.4,447.9 1885.8,436.0 1886.2,435.2 1886.6,448.6 1887.0,440.6 1887.4,442.2 1887.9,448.4 1888.3,445.5 1888.7,444.6 1889.1,446.3 1889.5,433.3 1889.9,449.5 1890.4,449.7 1890.8,452.3 1891.2,432.6 1891.6,438.8 1892.0,440.3 1892.4,451.6 1892.9,445.9 1893.3,452.0 1893.7,445.4 1894.1,439.9 1894.5,436.6 1895.0,440.3 1895.4,450.1 1895.8,438.9 1896.2,434.2 1896.6,444.5 1897.0,450.0 1897.5,455.3 1897.9,449.4 1898.3,448.0 1898.7,434.2 1899.1,441.2 1899.5,441.2 1900.0,443.8 1900.4,438.5 1900.8,447.1 1901.2,449.4 1901.6,443.7 1902.0,441.7 1902.5,444.1 1902.9,445.0 1903.3,447.1 1903.7,438.8 1904.1,450.3 1904.5,443.3 1905.0,442.2 1905.4,446.5 1905.8,439.6 1906.2,447.5 1906.6,453.8 1907.0,445.3 1907.5,444.1 1907.9,440.7 1908.3,450.5 1908.7,448.7 1909.1,435.5 1909.5,447.9 1910.0,439.7 1910.4,437.1 1910.8,442.6 1911.2,439.7 1911.6,448.8 1912.0,436.7 1912.5,436.5 1912.9,438.2 1913.3,442.3 1913.7,445.9 1914.1,437.5 1914.5,439.4 1915.0,435.1 1915.4,442.0 1915.8,437.8 1916.2,453.8 1916.6,452.6 1917.0,438.3 1917.5,443.6 1917.9,445.1 1918.3,440.2 1918.7,441.0 1919.1,446.2 1919.5,441.6 1920.0,441.4 1920.4,442.8 1920.8,449.1 1921.2,441.6 1921.6,444.9 1922.0,444.1 1922.5,446.5 1922.9,442.0 1923.3,440.5 1923.7,439.5 1924.1,444.1 1924.5,443.6 1925.0,441.7 1925.4,444.1 1925.8,454.8 1926.2,446.9 1926.6,433.8 1927.0,449.5 1927.5,443.7 1927.9,437.9 1928.3,449.7 1928.7,442.6 1929.1,448.0 1929.5,439.9 1930.0,448.2 1930.4,441.5 1930.8,447.7 1931.2,447.1 1931.6,437.2 1932.0,444.8 1932.5,445.3 1932.9,442.7 1933.3,434.1 1933.7,444.4 1934.1,441.4 1934.5,448.9 1935.0,437.6 1935.4,447.9 1935.8,443.6 1936.2,455.7 1936.6,437.9 1937.0,447.7 1937.5,440.3 1937.9,438.2 1938.3,448.3 1938.7,446.0 1939.1,448.2 1939.5,434.9 1940.0,437.0 1940.4,445.9 1940.8,438.7 1941.2,449.6 1941.6,451.3 1942.0,442.3 1942.5,443.1 1942.9,443.1 1943.3,441.5 1943.7,442.8 1944.1,441.8 1944.5,445.1 1945.0,441.3 1945.4,440.4 1945.8,441.5 1946.2,439.9 1946.6,442.6 1947.0,445.7 1947.5,453.3 1947.9,434.9 1948.3,436.1 1948.7,442.7 1949.1,443.2 1949.6,442.8 1950.0,452.4 1950.4,433.9 1950.8,442.2 1951.2,436.6 1951.6,441.5 1952.1,445.6 1952.5,435.8 1952.9,448.1 1953.3,438.8 1953.7,437.8 1954.1,434.8 1954.6,439.5 1955.0,439.3 1955.4,447.1 1955.8,435.2 1956.2,444.1 1956.6,447.2 1957.1,441.7 1957.5,446.8 1957.9,439.5 1958.3,445.1 1958.7,441.3 1959.1,453.8 1959.6,441.6 1960.0,441.5 1960.4,445.0 1960.8,440.4 1961.2,442.0 1961.6,444.7 1962.1,447.4 1962.5,440.0 1962.9,443.3 1963.3,442.1 1963.7,446.5 1964.1,447.1 1964.6,445.0 1965.0,444.3 1965.4,452.0 1965.8,438.6 1966.2,451.2 1966.6,445.7 1967.1,435.3 1967.5,443.7 1967.9,435.9 1968.3,442.4 1968.7,432.9 1969.1,446.7 1969.6,439.1 1970.0,451.3 1970.4,439.4 1970.8,443.3 1971.2,436.2 1971.6,442.4 1972.1,443.2 1972.5,445.5 1972.9,455.4 1973.3,451.3 1973.7,446.9 1974.1,441.4 1974.6,441.6 1975.0,441.5 1975.4,438.8 1975.8,446.4 1976.2,442.8 1976.6,445.7 1977.1,441.9 1977.5,445.0 1977.9,451.9 1978.3,444.9 1978.7,447.8 1979.1,438.9 1979.6,442.4" fill="none" stroke="#5a5fb2" stroke-width="1.3" stroke-linejoin="round" />
<polyline points="1396.5,362.5 1396.9,359.6 1397.3,379.0 1397.7,344.8 1398.1,367.3 1398.5,349.5 1399.0,354.6 1399.4,358.4 1399.8,383.0 1400.2,353.4 1400.6,345.0 1401.0,368.9 1401.5,352.9 1401.9,357.4 1402.3,359.1 1402.7,360.0 1403.1,358.0 1403.5,361.3 1404.0,362.2 1404.4,365.8 1404.8,356.2 1405.2,353.8 1405.6,351.4 1406.0,363.9 1406.5,359.1 1406.9,363.7 1407.3,363.6 1407.7,372.2 1408.1,361.1 1408.5,365.3 1409.0,350.6 1409.4,351.6 1409.8,357.4 1410.2,350.6 1410.6,364.9 1411.0,349.8 1411.5,360.3 1411.9,341.4 1412.3,351.6 1412.7,357.4 1413.1,358.0 1413.5,346.5 1414.0,360.8 1414.4,367.3 1414.8,364.9 1415.2,355.1 1415.6,355.7 1416.0,351.3 1416.5,364.9 1416.9,371.0 1417.3,356.3 1417.7,347.5 1418.1,361.8 1418.6,365.6 1419.0,340.0 1419.4,361.4 1419.8,376.7 1420.2,366.6 1420.6,364.6 1421.1,363.5 1421.5,368.5 1421.9,353.5 1422.3,354.3 1422.7,363.7 1423.1,355.5 1423.6,362.7 1424.0,346.4 1424.4,366.5 1424.8,367.2 1425.2,361.2 1425.6,362.1 1426.1,373.0 1426.5,352.8 1426.9,354.1 1427.3,352.8 1427.7,357.8 1428.1,353.4 1428.6,361.3 1429.0,356.2 1429.4,350.2 1429.8,349.5 1430.2,370.2 1430.6,360.7 1431.1,359.5 1431.5,361.4 1431.9,360.6 1432.3,367.0 1432.7,365.5 1433.1,356.9 1433.6,355.2 1434.0,353.2 1434.4,352.0 1434.8,371.9 1435.2,354.6 1435.6,346.3 1436.1,355.1 1436.5,355.6 1436.9,364.0 1437.3,354.9 1437.7,365.5 1438.1,364.5 1438.6,371.1 1439.0,377.8 1439.4,383.0 1439.8,371.7 1440.2,352.9 1440.6,358.6 1441.1,363.5 1441.5,377.2 1441.9,366.7 1442.3,370.7 1442.7,360.4 1443.1,366.1 1443.6,367.1 1444.0,358.3 1444.4,367.5 1444.8,369.7 1445.2,360.5 1445.6,369.4 1446.1,374.1 1446.5,362.2 1446.9,361.7 1447.3,359.4 1447.7,357.1 1448.1,362.9 1448.6,358.6 1449.0,359.4 1449.4,355.9 1449.8,350.2 1450.2,354.7 1450.6,364.2 1451.1,352.8 1451.5,356.8 1451.9,374.0 1452.3,370.1 1452.7,356.5 1453.1,366.2 1453.6,356.8 1454.0,373.8 1454.4,357.2 1454.8,362.2 1455.2,372.0 1455.6,355.4 1456.1,371.4 1456.5,355.4 1456.9,363.3 1457.3,359.3 1457.7,360.8 1458.1,362.7 1458.6,360.9 1459.0,353.8 1459.4,367.9 1459.8,366.8 1460.2,371.1 1460.6,371.8 1461.1,351.3 1461.5,371.0 1461.9,371.0 1462.3,357.3 1462.7,369.0 1463.1,372.2 1463.6,357.2 1464.0,350.8 1464.4,358.4 1464.8,382.1 1465.2,362.8 1465.6,351.9 1466.1,359.1 1466.5,353.5 1466.9,358.0 1467.3,361.6 1467.7,341.7 1468.1,363.6 1468.6,371.4 1469.0,359.3 1469.4,357.9 1469.8,368.9 1470.2,351.2 1470.6,351.3 1471.1,350.2 1471.5,359.4 1471.9,363.5 1472.3,359.8 1472.7,364.5 1473.2,366.6 1473.6,364.1 1474.0,354.2 1474.4,358.2 1474.8,369.6 1475.2,352.3 1475.7,358.2 1476.1,356.9 1476.5,358.7 1476.9,351.9 1477.3,349.8 1477.7,379.1 1478.2,366.9 1478.6,354.4 1479.0,359.3 1479.4,364.8 1479.8,357.1 1480.2,364.2 1480.7,354.9 1481.1,356.8 1481.5,358.8 1481.9,355.9 1482.3,340.9 1482.7,359.4 1483.2,361.2 1483.6,362.7 1484.0,351.6 1484.4,361.6 1484.8,360.6 1485.2,345.7 1485.7,342.4 1486.1,362.4 1486.5,351.6 1486.9,366.2 1487.3,374.7 1487.7,354.2 1488.2,353.4 1488.6,358.4 1489.0,363.5 1489.4,349.8 1489.8,367.6 1490.2,365.7 1490.7,363.1 1491.1,354.1 1491.5,364.9 1491.9,364.4 1492.3,348.9 1492.7,373.5 1493.2,355.5 1493.6,360.5 1494.0,353.7 1494.4,360.5 1494.8,366.2 1495.2,351.4 1495.7,345.0 1496.1,354.0 1496.5,347.5 1496.9,351.5 1497.3,356.2 1497.7,356.6 1498.2,366.7 1498.6,349.4 1499.0,359.5 1499.4,353.0 1499.8,367.0 1500.2,375.7 1500.7,358.9 1501.1,369.1 1501.5,352.5 1501.9,344.4 1502.3,346.9 1502.7,344.5 1503.2,349.1 1503.6,354.4 1504.0,364.7 1504.4,361.3 1504.8,359.5 1505.2,352.7 1505.7,350.4 1506.1,356.0 1506.5,356.8 1506.9,357.6 1507.3,358.4 1507.7,354.6 1508.2,341.0 1508.6,347.0 1509.0,349.1 1509.4,368.0 1509.8,352.0 1510.2,360.2 1510.7,366.1 1511.1,357.5 1511.5,352.0 1511.9,352.7 1512.3,347.2 1512.7,357.1 1513.2,363.2 1513.6,358.9 1514.0,360.4 1514.4,359.9 1514.8,369.5 1515.2,349.6 1515.7,355.5 1516.1,359.5 1516.5,363.6 1516.9,335.9 1517.3,350.2 1517.7,352.5 1518.2,346.2 1518.6,360.3 1519.0,355.5 1519.4,350.8 1519.8,341.5 1520.2,343.7 1520.7,346.2 1521.1,357.0 1521.5,344.3 1521.9,337.9 1522.3,342.5 1522.7,348.9 1523.2,365.8 1523.6,372.0 1524.0,349.6 1524.4,360.2 1524.8,363.6 1525.3,362.6 1525.7,352.1 1526.1,343.1 1526.5,349.2 1526.9,338.8 1527.3,354.5 1527.8,358.5 1528.2,338.5 1528.6,352.2 1529.0,354.7 1529.4,361.9 1529.8,362.8 1530.3,358.4 1530.7,347.2 1531.1,349.6 1531.5,361.3 1531.9,347.7 1532.3,351.9 1532.8,363.9 1533.2,353.1 1533.6,341.8 1534.0,349.8 1534.4,356.8 1534.8,350.5 1535.3,360.6 1535.7,361.5 1536.1,347.0 1536.5,348.0 1536.9,351.0 1537.3,342.7 1537.8,354.5 1538.2,350.3 1538.6,357.5 1539.0,347.1 1539.4,345.0 1539.8,365.3 1540.3,344.9 1540.7,347.1 1541.1,346.0 1541.5,349.1 1541.9,344.5 1542.3,351.0 1542.8,346.1 1543.2,348.2 1543.6,354.0 1544.0,356.5 1544.4,354.8 1544.8,345.7 1545.3,354.2 1545.7,350.3 1546.1,350.4 1546.5,338.2 1546.9,356.2 1547.3,350.1 1547.8,363.9 1548.2,355.9 1548.6,342.7 1549.0,340.8 1549.4,359.7 1549.8,344.5 1550.3,356.2 1550.7,348.8 1551.1,366.8 1551.5,351.6 1551.9,362.4 1552.3,361.0 1552.8,347.6 1553.2,348.6 1553.6,362.2 1554.0,351.1 1554.4,344.5 1554.8,360.1 1555.3,370.4 1555.7,350.8 1556.1,361.6 1556.5,350.0 1556.9,361.4 1557.3,349.4 1557.8,361.3 1558.2,355.4 1558.6,349.9 1559.0,353.1 1559.4,347.3 1559.8,342.9 1560.3,343.5 1560.7,351.0 1561.1,343.5 1561.5,354.8 1561.9,355.5 1562.3,355.1 1562.8,347.9 1563.2,352.1 1563.6,351.5 1564.0,361.6 1564.4,345.7 1564.8,348.9 1565.3,350.0 1565.7,350.7 1566.1,346.2 1566.5,347.1 1566.9,359.5 1567.3,347.1 1567.8,358.8 1568.2,367.2 1568.6,361.6 1569.0,338.5 1569.4,357.9 1569.8,355.7 1570.3,356.2 1570.7,339.9 1571.1,357.9 1571.5,344.0 1571.9,362.0 1572.3,360.3 1572.8,371.4 1573.2,349.4 1573.6,340.9 1574.0,360.3 1574.4,359.0 1574.8,349.6 1575.3,362.7 1575.7,357.7 1576.1,342.9 1576.5,350.0 1576.9,349.3 1577.4,351.9 1577.8,354.2 1578.2,347.6 1578.6,351.3 1579.0,357.3 1579.4,352.3 1579.9,350.9 1580.3,350.7 1580.7,352.3 1581.1,338.7 1581.5,354.3 1581.9,345.5 1582.4,354.0 1582.8,342.2 1583.2,360.2 1583.6,355.2 1584.0,343.3 1584.4,355.3 1584.9,347.8 1585.3,367.1 1585.7,357.3 1586.1,347.7 1586.5,355.5 1586.9,353.6 1587.4,362.9 1587.8,356.6 1588.2,357.9 1588.6,345.7 1589.0,360.1 1589.4,369.9 1589.9,359.0 1590.3,354.0 1590.7,355.6 1591.1,347.3 1591.5,355.9 1591.9,346.3 1592.4,355.0 1592.8,351.8 1593.2,348.5 1593.6,359.2 1594.0,343.7 1594.4,354.6 1594.9,345.1 1595.3,368.8 1595.7,369.9 1596.1,361.5 1596.5,369.5 1596.9,359.8 1597.4,359.5 1597.8,352.3 1598.2,348.8 1598.6,356.5 1599.0,351.6 1599.4,352.4 1599.9,361.2 1600.3,354.9 1600.7,344.2 1601.1,354.3 1601.5,350.3 1601.9,353.9 1602.4,347.9 1602.8,365.2 1603.2,370.5 1603.6,348.0 1604.0,361.3 1604.4,360.9 1604.9,348.5 1605.3,357.4 1605.7,367.2 1606.1,363.1 1606.5,368.9 1606.9,348.1 1607.4,351.3 1607.8,359.2 1608.2,359.7 1608.6,357.3 1609.0,354.2 1609.4,354.1 1609.9,352.7 1610.3,360.7 1610.7,336.7 1611.1,369.4 1611.5,353.6 1611.9,346.8 1612.4,361.7 1612.8,347.1 1613.2,360.6 1613.6,354.8 1614.0,362.3 1614.4,363.8 1614.9,367.7 1615.3,354.3 1615.7,355.9 1616.1,358.1 1616.5,347.6 1616.9,362.7 1617.4,359.3 1617.8,348.3 1618.2,367.5 1618.6,368.8 1619.0,348.7 1619.4,362.9 1619.9,368.1 1620.3,365.1 1620.7,351.5 1621.1,348.4 1621.5,358.1 1621.9,355.3 1622.4,359.0 1622.8,358.3 1623.2,363.1 1623.6,355.0 1624.0,358.1 1624.4,381.6 1624.9,358.4 1625.3,365.0 1625.7,361.7 1626.1,361.2 1626.5,352.8 1626.9,363.6 1627.4,359.3 1627.8,365.9 1628.2,375.2 1628.6,361.3 1629.0,365.7 1629.4,352.3 1629.9,360.9 1630.3,371.7 1630.7,359.7 1631.1,355.4 1631.5,361.8 1632.0,358.9 1632.4,358.6 1632.8,357.6 1633.2,375.4 1633.6,354.0 1634.0,357.5 1634.5,356.4 1634.9,370.0 1635.3,358.7 1635.7,370.6 1636.1,362.1 1636.5,360.7 1637.0,350.0 1637.4,370.1 1637.8,365.1 1638.2,364.1 1638.6,360.3 1639.0,358.1 1639.5,351.7 1639.9,368.4 1640.3,363.4 1640.7,358.7 1641.1,356.7 1641.5,362.4 1642.0,360.9 1642.4,373.9 1642.8,367.4 1643.2,357.2 1643.6,353.4 1644.0,360.0 1644.5,355.0 1644.9,362.4 1645.3,364.9 1645.7,366.7 1646.1,365.1 1646.5,360.6 1647.0,366.6 1647.4,355.5 1647.8,361.6 1648.2,368.3 1648.6,364.4 1649.0,352.8 1649.5,353.7 1649.9,350.3 1650.3,376.0 1650.7,350.9 1651.1,361.5 1651.5,376.3 1652.0,370.7 1652.4,372.5 1652.8,358.9 1653.2,368.3 1653.6,385.6 1654.0,362.5 1654.5,365.9 1654.9,360.5 1655.3,362.8 1655.7,365.8 1656.1,373.4 1656.5,356.3 1657.0,352.3 1657.4,363.3 1657.8,364.7 1658.2,373.7 1658.6,368.6 1659.0,358.5 1659.5,367.5 1659.9,371.7 1660.3,365.5 1660.7,360.8 1661.1,368.4 1661.5,360.7 1662.0,349.4 1662.4,373.4 1662.8,353.8 1663.2,361.0 1663.6,361.1 1664.0,361.0 1664.5,361.4 1664.9,352.8 1665.3,367.5 1665.7,363.8 1666.1,363.9 1666.5,371.7 1667.0,371.9 1667.4,373.7 1667.8,377.6 1668.2,367.1 1668.6,352.2 1669.0,365.4 1669.5,363.9 1669.9,364.3 1670.3,359.3 1670.7,357.2 1671.1,369.9 1671.5,371.2 1672.0,355.5 1672.4,368.0 1672.8,362.7 1673.2,361.1 1673.6,369.1 1674.0,363.6 1674.5,359.9 1674.9,364.5 1675.3,349.1 1675.7,359.6 1676.1,360.8 1676.5,353.6 1677.0,365.4 1677.4,366.1 1677.8,359.6 1678.2,362.8 1678.6,369.2 1679.0,372.1 1679.5,358.4 1679.9,366.7 1680.3,371.9 1680.7,363.9 1681.1,358.4 1681.5,358.4 1682.0,361.7 1682.4,356.4 1682.8,379.3 1683.2,359.9 1683.6,367.0 1684.1,365.5 1684.5,369.0 1684.9,361.3 1685.3,354.4 1685.7,376.5 1686.1,363.6 1686.6,365.1 1687.0,365.7 1687.4,373.7 1687.8,370.0 1688.2,373.0 1688.6,370.4 1689.1,365.4 1689.5,366.2 1689.9,358.7 1690.3,349.7 1690.7,362.5 1691.1,356.2 1691.6,383.7 1692.0,376.0 1692.4,373.1 1692.8,360.2 1693.2,379.7 1693.6,351.5 1694.1,355.2 1694.5,358.5 1694.9,357.1 1695.3,365.3 1695.7,365.8 1696.1,378.6 1696.6,371.8 1697.0,373.5 1697.4,367.5 1697.8,363.2 1698.2,359.2 1698.6,353.0 1699.1,357.8 1699.5,361.5 1699.9,370.1 1700.3,351.7 1700.7,354.1 1701.1,366.0 1701.6,356.5 1702.0,366.8 1702.4,361.2 1702.8,358.7 1703.2,354.3 1703.6,363.6 1704.1,358.8 1704.5,359.7 1704.9,359.5 1705.3,365.7 1705.7,365.4 1706.1,351.4 1706.6,363.1 1707.0,367.3 1707.4,372.1 1707.8,370.1 1708.2,365.8 1708.6,355.7 1709.1,358.5 1709.5,371.1 1709.9,359.0 1710.3,371.9 1710.7,373.8 1711.1,356.2 1711.6,367.5 1712.0,363.3 1712.4,379.4 1712.8,370.4 1713.2,360.3 1713.6,367.2 1714.1,357.3 1714.5,363.0 1714.9,365.6 1715.3,365.2 1715.7,366.4 1716.1,357.3 1716.6,350.2 1717.0,361.3 1717.4,357.3 1717.8,358.8 1718.2,380.0 1718.6,372.7 1719.1,362.7 1719.5,353.2 1719.9,354.2 1720.3,366.7 1720.7,371.9 1721.1,361.7 1721.6,364.9 1722.0,365.8 1722.4,371.9 1722.8,349.7 1723.2,365.0 1723.6,366.9 1724.1,370.9 1724.5,366.7 1724.9,355.5 1725.3,359.4 1725.7,352.3 1726.1,365.1 1726.6,365.1 1727.0,367.5 1727.4,356.4 1727.8,355.1 1728.2,375.0 1728.6,364.9 1729.1,376.6 1729.5,366.8 1729.9,352.5 1730.3,369.5 1730.7,372.7 1731.1,360.1 1731.6,349.0 1732.0,368.4 1732.4,362.3 1732.8,365.4 1733.2,343.2 1733.6,366.7 1734.1,342.6 1734.5,356.7 1734.9,369.8 1735.3,349.5 1735.7,349.2 1736.2,359.7 1736.6,375.4 1737.0,375.2 1737.4,358.5 1737.8,370.5 1738.2,367.3 1738.7,364.9 1739.1,365.6 1739.5,357.4 1739.9,368.8 1740.3,370.7 1740.7,383.0 1741.2,369.6 1741.6,344.3 1742.0,353.6 1742.4,365.1 1742.8,363.1 1743.2,348.6 1743.7,361.4 1744.1,359.8 1744.5,362.0 1744.9,361.5 1745.3,369.2 1745.7,373.3 1746.2,367.4 1746.6,353.9 1747.0,355.7 1747.4,357.2 1747.8,361.7 1748.2,358.9 1748.7,359.4 1749.1,355.1 1749.5,369.0 1749.9,368.3 1750.3,369.0 1750.7,361.2 1751.2,365.2 1751.6,354.9 1752.0,354.1 1752.4,357.5 1752.8,366.0 1753.2,360.4 1753.7,352.9 1754.1,362.1 1754.5,364.6 1754.9,362.6 1755.3,356.3 1755.7,361.7 1756.2,358.0 1756.6,358.7 1757.0,360.4 1757.4,366.7 1757.8,374.7 1758.2,372.6 1758.7,365.6 1759.1,357.8 1759.5,358.5 1759.9,358.7 1760.3,369.3 1760.7,339.9 1761.2,362.5 1761.6,345.6 1762.0,360.4 1762.4,370.4 1762.8,353.5 1763.2,343.2 1763.7,370.0 1764.1,371.5 1764.5,363.9 1764.9,369.5 1765.3,354.0 1765.7,368.7 1766.2,372.6 1766.6,364.6 1767.0,361.9 1767.4,369.3 1767.8,368.1 1768.2,354.0 1768.7,369.7 1769.1,365.0 1769.5,360.6 1769.9,369.1 1770.3,366.2 1770.7,364.8 1771.2,355.3 1771.6,365.3 1772.0,350.7 1772.4,358.0 1772.8,346.2 1773.2,346.0 1773.7,362.1 1774.1,358.1 1774.5,359.2 1774.9,363.0 1775.3,361.1 1775.7,351.7 1776.2,358.9 1776.6,357.8 1777.0,354.3 1777.4,357.2 1777.8,355.3 1778.2,353.1 1778.7,355.4 1779.1,359.6 1779.5,373.2 1779.9,351.6 1780.3,361.5 1780.7,346.6 1781.2,369.4 1781.6,354.9 1782.0,358.4 1782.4,366.8 1782.8,364.6 1783.2,345.9 1783.7,361.2 1784.1,355.3 1784.5,361.5 1784.9,358.0 1785.3,362.3 1785.7,358.9 1786.2,355.5 1786.6,365.3 1787.0,344.9 1787.4,353.1 1787.8,349.1 1788.2,355.1 1788.7,352.9 1789.1,354.9 1789.5,352.3 1789.9,352.4 1790.3,343.5 1790.8,355.5 1791.2,358.0 1791.6,351.1 1792.0,350.6 1792.4,350.6 1792.8,368.0 1793.3,356.7 1793.7,358.1 1794.1,352.9 1794.5,351.3 1794.9,348.4 1795.3,366.5 1795.8,342.1 1796.2,357.0 1796.6,354.5 1797.0,352.7 1797.4,342.8 1797.8,345.2 1798.3,361.7 1798.7,349.1 1799.1,360.8 1799.5,359.2 1799.9,358.4 1800.3,359.7 1800.8,344.9 1801.2,350.3 1801.6,358.9 1802.0,344.2 1802.4,366.1 1802.8,349.4 1803.3,353.0 1803.7,345.7 1804.1,356.1 1804.5,347.8 1804.9,351.4 1805.3,344.6 1805.8,362.0 1806.2,340.7 1806.6,356.3 1807.0,354.6 1807.4,356.1 1807.8,345.0 1808.3,360.4 1808.7,359.8 1809.1,353.7 1809.5,354.8 1809.9,351.2 1810.3,357.1 1810.8,346.1 1811.2,356.3 1811.6,355.1 1812.0,341.4 1812.4,332.3 1812.8,351.0 1813.3,350.6 1813.7,360.9 1814.1,352.1 1814.5,347.9 1814.9,341.4 1815.3,350.8 1815.8,347.1 1816.2,343.1 1816.6,350.4 1817.0,359.2 1817.4,351.9 1817.8,343.3 1818.3,353.5 1818.7,342.8 1819.1,339.1 1819.5,354.6 1819.9,346.7 1820.3,359.2 1820.8,353.1 1821.2,344.6 1821.6,352.3 1822.0,360.3 1822.4,349.1 1822.8,342.5 1823.3,345.5 1823.7,344.3 1824.1,341.5 1824.5,340.6 1824.9,353.4 1825.3,358.5 1825.8,347.4 1826.2,356.0 1826.6,356.9 1827.0,362.7 1827.4,348.6 1827.8,347.3 1828.3,353.1 1828.7,350.6 1829.1,352.1 1829.5,359.5 1829.9,346.5 1830.3,351.3 1830.8,342.3 1831.2,348.4 1831.6,344.6 1832.0,343.9 1832.4,347.9 1832.8,346.2 1833.3,352.3 1833.7,355.5 1834.1,338.2 1834.5,356.9 1834.9,332.7 1835.3,351.2 1835.8,354.6 1836.2,344.4 1836.6,347.5 1837.0,343.4 1837.4,355.9 1837.8,325.4 1838.3,341.9 1838.7,334.6 1839.1,350.6 1839.5,358.9 1839.9,358.1 1840.3,354.1 1840.8,350.9 1841.2,343.3 1841.6,358.2 1842.0,353.7 1842.4,342.7 1842.9,339.4 1843.3,344.3 1843.7,357.1 1844.1,358.4 1844.5,361.1 1844.9,343.2 1845.4,346.3 1845.8,359.4 1846.2,350.7 1846.6,354.7 1847.0,339.1 1847.4,346.2 1847.9,348.9 1848.3,346.4 1848.7,345.9 1849.1,336.8 1849.5,361.3 1849.9,350.2 1850.4,338.1 1850.8,357.2 1851.2,349.6 1851.6,354.5 1852.0,347.7 1852.4,343.3 1852.9,343.5 1853.3,351.8 1853.7,355.1 1854.1,353.0 1854.5,354.1 1854.9,358.4 1855.4,351.5 1855.8,356.9 1856.2,357.7 1856.6,351.7 1857.0,349.0 1857.4,346.3 1857.9,340.6 1858.3,338.0 1858.7,359.5 1859.1,349.6 1859.5,345.6 1859.9,361.6 1860.4,357.1 1860.8,350.3 1861.2,357.5 1861.6,348.5 1862.0,352.7 1862.4,363.7 1862.9,358.1 1863.3,348.1 1863.7,355.4 1864.1,359.1 1864.5,349.4 1864.9,347.3 1865.4,364.5 1865.8,348.3 1866.2,340.7 1866.6,351.7 1867.0,367.9 1867.4,355.6 1867.9,358.1 1868.3,334.8 1868.7,347.0 1869.1,360.3 1869.5,348.3 1869.9,361.3 1870.4,355.0 1870.8,354.5 1871.2,364.2 1871.6,347.9 1872.0,348.2 1872.4,352.6 1872.9,353.5 1873.3,339.2 1873.7,361.2 1874.1,353.8 1874.5,350.9 1874.9,356.8 1875.4,349.3 1875.8,361.4 1876.2,352.9 1876.6,357.9 1877.0,345.9 1877.4,350.5 1877.9,355.4 1878.3,345.6 1878.7,347.8 1879.1,352.4 1879.5,361.2 1879.9,358.6 1880.4,359.7 1880.8,355.3 1881.2,359.8 1881.6,364.7 1882.0,354.5 1882.4,356.5 1882.9,357.7 1883.3,338.4 1883.7,352.7 1884.1,356.7 1884.5,359.2 1884.9,351.2 1885.4,361.0 1885.8,349.0 1886.2,352.5 1886.6,366.5 1887.0,343.8 1887.4,353.4 1887.9,353.0 1888.3,353.5 1888.7,350.2 1889.1,359.1 1889.5,346.3 1889.9,344.5 1890.4,358.0 1890.8,345.5 1891.2,357.3 1891.6,354.8 1892.0,349.5 1892.4,352.1 1892.9,354.0 1893.3,358.2 1893.7,350.2 1894.1,353.4 1894.5,344.3 1895.0,353.0 1895.4,340.8 1895.8,354.8 1896.2,351.8 1896.6,371.0 1897.0,365.0 1897.5,354.3 1897.9,362.6 1898.3,357.7 1898.7,347.0 1899.1,337.5 1899.5,364.0 1900.0,358.7 1900.4,341.2 1900.8,360.7 1901.2,362.8 1901.6,350.9 1902.0,362.0 1902.5,343.3 1902.9,354.6 1903.3,356.6 1903.7,362.2 1904.1,359.4 1904.5,358.2 1905.0,360.7 1905.4,351.7 1905.8,367.8 1906.2,354.2 1906.6,362.8 1907.0,356.9 1907.5,355.1 1907.9,361.5 1908.3,360.5 1908.7,367.3 1909.1,365.3 1909.5,353.1 1910.0,361.2 1910.4,358.3 1910.8,351.6 1911.2,349.4 1911.6,359.6 1912.0,353.8 1912.5,347.5 1912.9,357.2 1913.3,359.7 1913.7,358.8 1914.1,349.1 1914.5,353.9 1915.0,368.5 1915.4,352.6 1915.8,355.9 1916.2,375.7 1916.6,361.1 1917.0,354.8 1917.5,344.1 1917.9,361.0 1918.3,348.4 1918.7,358.6 1919.1,352.4 1919.5,346.4 1920.0,371.4 1920.4,358.3 1920.8,366.0 1921.2,364.7 1921.6,353.8 1922.0,360.0 1922.5,356.7 1922.9,366.7 1923.3,362.7 1923.7,356.9 1924.1,372.0 1924.5,363.6 1925.0,363.2 1925.4,353.9 1925.8,362.9 1926.2,348.9 1926.6,363.4 1927.0,353.0 1927.5,361.5 1927.9,358.1 1928.3,361.9 1928.7,362.9 1929.1,359.9 1929.5,359.9 1930.0,349.2 1930.4,346.2 1930.8,370.0 1931.2,364.9 1931.6,349.5 1932.0,375.0 1932.5,355.4 1932.9,364.6 1933.3,364.0 1933.7,361.7 1934.1,365.5 1934.5,350.7 1935.0,360.8 1935.4,359.2 1935.8,361.8 1936.2,359.1 1936.6,356.4 1937.0,355.8 1937.5,368.0 1937.9,355.0 1938.3,364.2 1938.7,364.1 1939.1,360.8 1939.5,364.8 1940.0,365.7 1940.4,357.7 1940.8,364.3 1941.2,376.1 1941.6,353.8 1942.0,359.6 1942.5,356.2 1942.9,376.8 1943.3,351.5 1943.7,362.1 1944.1,369.1 1944.5,355.6 1945.0,361.2 1945.4,356.9 1945.8,352.2 1946.2,361.8 1946.6,366.0 1947.0,359.4 1947.5,363.6 1947.9,367.6 1948.3,371.4 1948.7,353.3 1949.1,367.1 1949.6,357.9 1950.0,348.5 1950.4,356.8 1950.8,367.5 1951.2,365.0 1951.6,354.6 1952.1,374.8 1952.5,365.9 1952.9,362.4 1953.3,358.9 1953.7,366.1 1954.1,360.1 1954.6,371.5 1955.0,365.4 1955.4,367.7 1955.8,360.8 1956.2,352.1 1956.6,367.1 1957.1,355.6 1957.5,362.4 1957.9,363.1 1958.3,357.4 1958.7,370.0 1959.1,352.7 1959.6,374.5 1960.0,359.0 1960.4,370.6 1960.8,373.1 1961.2,357.0 1961.6,358.0 1962.1,370.5 1962.5,364.9 1962.9,364.2 1963.3,349.9 1963.7,351.4 1964.1,367.7 1964.6,374.4 1965.0,358.4 1965.4,357.3 1965.8,365.3 1966.2,367.2 1966.6,368.0 1967.1,360.5 1967.5,349.3 1967.9,374.7 1968.3,360.2 1968.7,373.3 1969.1,349.1 1969.6,366.7 1970.0,360.2 1970.4,355.9 1970.8,371.2 1971.2,373.6 1971.6,359.7 1972.1,368.9 1972.5,356.1 1972.9,359.5 1973.3,362.3 1973.7,361.5 1974.1,368.9 1974.6,355.2 1975.0,371.4 1975.4,371.4 1975.8,362.6 1976.2,355.4 1976.6,346.5 1977.1,363.8 1977.5,358.9 1977.9,365.0 1978.3,356.4 1978.7,364.3 1979.1,363.9 1979.6,364.4" fill="none" stroke="#5fd6cb" stroke-width="1.3" stroke-linejoin="round" />
<polyline points="1396.5,288.8 1396.9,291.9 1397.3,288.6 1397.7,278.0 1398.1,292.3 1398.5,289.3 1399.0,282.9 1399.4,290.2 1399.8,288.7 1400.2,288.2 1400.6,286.5 1401.0,289.8 1401.5,281.5 1401.9,285.2 1402.3,283.1 1402.7,290.1 1403.1,286.4 1403.5,284.2 1404.0,281.0 1404.4,284.4 1404.8,286.1 1405.2,284.2 1405.6,294.4 1406.0,292.5 1406.5,268.3 1406.9,273.6 1407.3,284.8 1407.7,283.1 1408.1,287.2 1408.5,287.2 1409.0,299.5 1409.4,278.5 1409.8,283.3 1410.2,299.0 1410.6,289.9 1411.0,289.9 1411.5,282.3 1411.9,274.9 1412.3,286.6 1412.7,286.2 1413.1,277.5 1413.5,281.0 1414.0,284.9 1414.4,279.2 1414.8,284.7 1415.2,285.9 1415.6,285.5 1416.0,282.0 1416.5,289.1 1416.9,291.0 1417.3,287.2 1417.7,279.8 1418.1,289.8 1418.6,281.8 1419.0,290.7 1419.4,278.0 1419.8,290.9 1420.2,284.8 1420.6,276.7 1421.1,282.8 1421.5,285.1 1421.9,286.5 1422.3,278.3 1422.7,277.5 1423.1,285.9 1423.6,281.6 1424.0,286.1 1424.4,289.4 1424.8,273.7 1425.2,286.1 1425.6,292.3 1426.1,282.4 1426.5,279.0 1426.9,289.1 1427.3,285.9 1427.7,290.0 1428.1,281.9 1428.6,274.4 1429.0,283.3 1429.4,281.1 1429.8,289.0 1430.2,285.1 1430.6,273.2 1431.1,276.0 1431.5,289.5 1431.9,288.1 1432.3,279.5 1432.7,283.6 1433.1,286.4 1433.6,286.5 1434.0,289.1 1434.4,285.0 1434.8,282.7 1435.2,281.6 1435.6,290.1 1436.1,268.5 1436.5,282.2 1436.9,283.3 1437.3,273.7 1437.7,285.1 1438.1,278.6 1438.6,288.4 1439.0,281.9 1439.4,287.0 1439.8,290.6 1440.2,285.1 1440.6,276.8 1441.1,272.6 1441.5,293.8 1441.9,281.6 1442.3,277.8 1442.7,283.1 1443.1,280.9 1443.6,287.6 1444.0,282.2 1444.4,282.0 1444.8,277.2 1445.2,284.8 1445.6,275.0 1446.1,286.0 1446.5,291.5 1446.9,271.6 1447.3,265.4 1447.7,285.3 1448.1,297.8 1448.6,274.7 1449.0,273.0 1449.4,284.8 1449.8,275.5 1450.2,277.6 1450.6,278.5 1451.1,284.1 1451.5,278.0 1451.9,282.3 1452.3,279.3 1452.7,274.9 1453.1,278.2 1453.6,274.0 1454.0,280.1 1454.4,272.7 1454.8,272.8 1455.2,289.3 1455.6,279.4 1456.1,279.3 1456.5,282.8 1456.9,276.7 1457.3,277.8 1457.7,282.0 1458.1,280.9 1458.6,271.5 1459.0,284.3 1459.4,274.9 1459.8,271.8 1460.2,272.7 1460.6,275.9 1461.1,288.9 1461.5,270.6 1461.9,279.2 1462.3,264.1 1462.7,277.9 1463.1,283.6 1463.6,276.1 1464.0,273.4 1464.4,278.9 1464.8,281.8 1465.2,281.5 1465.6,289.8 1466.1,278.2 1466.5,272.9 1466.9,275.8 1467.3,276.0 1467.7,277.1 1468.1,276.0 1468.6,277.2 1469.0,265.1 1469.4,281.2 1469.8,271.9 1470.2,267.9 1470.6,279.5 1471.1,283.8 1471.5,278.2 1471.9,275.9 1472.3,268.7 1472.7,293.2 1473.2,280.1 1473.6,266.8 1474.0,269.0 1474.4,274.5 1474.8,263.6 1475.2,274.7 1475.7,270.4 1476.1,281.2 1476.5,279.3 1476.9,255.2 1477.3,272.9 1477.7,262.0 1478.2,279.5 1478.6,273.2 1479.0,275.5 1479.4,264.8 1479.8,283.4 1480.2,284.4 1480.7,264.2 1481.1,273.3 1481.5,266.3 1481.9,270.3 1482.3,262.0 1482.7,282.1 1483.2,263.5 1483.6,267.6 1484.0,272.6 1484.4,264.9 1484.8,267.3 1485.2,264.9 1485.7,267.5 1486.1,260.5 1486.5,265.0 1486.9,266.3 1487.3,265.2 1487.7,267.5 1488.2,264.9 1488.6,271.5 1489.0,264.2 1489.4,265.1 1489.8,261.4 1490.2,262.0 1490.7,256.9 1491.1,268.2 1491.5,257.1 1491.9,259.4 1492.3,266.3 1492.7,266.2 1493.2,260.7 1493.6,249.8 1494.0,265.4 1494.4,264.0 1494.8,252.8 1495.2,266.6 1495.7,256.7 1496.1,253.6 1496.5,261.2 1496.9,259.0 1497.3,261.1 1497.7,249.0 1498.2,270.8 1498.6,254.7 1499.0,248.2 1499.4,261.9 1499.8,255.1 1500.2,259.1 1500.7,254.4 1501.1,255.7 1501.5,257.3 1501.9,250.4 1502.3,259.2 1502.7,251.3 1503.2,248.2 1503.6,253.9 1504.0,255.8 1504.4,250.9 1504.8,246.3 1505.2,255.4 1505.7,239.4 1506.1,243.6 1506.5,250.0 1506.9,240.3 1507.3,248.8 1507.7,247.7 1508.2,253.3 1508.6,240.9 1509.0,242.2 1509.4,247.8 1509.8,229.0 1510.2,264.5 1510.7,239.1 1511.1,238.3 1511.5,247.9 1511.9,241.4 1512.3,229.3 1512.7,244.3 1513.2,245.0 1513.6,235.8 1514.0,236.1 1514.4,240.3 1514.8,230.4 1515.2,238.4 1515.7,236.0 1516.1,229.4 1516.5,223.9 1516.9,230.6 1517.3,225.5 1517.7,236.8 1518.2,230.2 1518.6,233.4 1519.0,228.2 1519.4,228.1 1519.8,220.3 1520.2,228.6 1520.7,234.8 1521.1,220.1 1521.5,217.2 1521.9,218.9 1522.3,215.6 1522.7,213.0 1523.2,217.3 1523.6,213.2 1524.0,223.2 1524.4,212.6 1524.8,213.4 1525.3,216.1 1525.7,206.6 1526.1,216.5 1526.5,201.6 1526.9,199.0 1527.3,200.4 1527.8,200.5 1528.2,190.6 1528.6,197.9 1529.0,185.7 1529.4,203.9 1529.8,192.7 1530.3,187.3 1530.7,183.9 1531.1,185.5 1531.5,184.7 1531.9,177.6 1532.3,176.5 1532.8,179.3 1533.2,175.2 1533.6,182.7 1534.0,182.0 1534.4,172.7 1534.8,173.6 1535.3,159.7 1535.7,170.4 1536.1,163.9 1536.5,165.0 1536.9,170.0 1537.3,142.6 1537.8,156.8 1538.2,145.6 1538.6,154.3 1539.0,139.6 1539.4,142.5 1539.8,144.7 1540.3,144.9 1540.7,139.0 1541.1,131.0 1541.5,130.1 1541.9,137.0 1542.3,128.8 1542.8,115.5 1543.2,129.5 1543.6,124.3 1544.0,124.9 1544.4,114.7 1544.8,119.9 1545.3,105.4 1545.7,113.7 1546.1,104.6 1546.5,110.0 1546.9,110.1 1547.3,96.8 1547.8,99.2 1548.2,97.9 1548.6,103.6 1549.0,98.8 1549.4,84.6 1549.8,94.0 1550.3,94.4 1550.7,102.1 1551.1,76.1 1551.5,82.5 1551.9,93.7 1552.3,75.4 1552.8,75.7 1553.2,86.2 1553.6,89.0 1554.0,77.8 1554.4,85.5 1554.8,82.7 1555.3,91.9 1555.7,82.2 1556.1,89.1 1556.5,77.3 1556.9,82.6 1557.3,83.9 1557.8,92.9 1558.2,90.3 1558.6,82.7 1559.0,93.3 1559.4,95.3 1559.8,91.0 1560.3,91.6 1560.7,93.7 1561.1,85.7 1561.5,99.8 1561.9,102.1 1562.3,96.9 1562.8,109.4 1563.2,97.8 1563.6,105.3 1564.0,108.0 1564.4,126.3 1564.8,105.3 1565.3,121.7 1565.7,126.5 1566.1,125.2 1566.5,132.8 1566.9,121.0 1567.3,115.1 1567.8,137.4 1568.2,127.0 1568.6,135.1 1569.0,132.0 1569.4,148.9 1569.8,150.0 1570.3,142.1 1570.7,155.0 1571.1,152.3 1571.5,152.9 1571.9,156.5 1572.3,157.0 1572.8,164.6 1573.2,164.8 1573.6,162.7 1574.0,173.7 1574.4,165.3 1574.8,173.2 1575.3,176.1 1575.7,185.0 1576.1,174.1 1576.5,190.7 1576.9,182.4 1577.4,181.9 1577.8,180.6 1578.2,190.6 1578.6,188.9 1579.0,183.2 1579.4,184.8 1579.9,190.2 1580.3,191.0 1580.7,204.1 1581.1,207.6 1581.5,205.8 1581.9,204.0 1582.4,200.4 1582.8,205.0 1583.2,211.8 1583.6,221.3 1584.0,214.8 1584.4,208.4 1584.9,211.8 1585.3,209.7 1585.7,209.0 1586.1,214.1 1586.5,217.8 1586.9,229.7 1587.4,219.2 1587.8,228.9 1588.2,232.6 1588.6,222.7 1589.0,233.8 1589.4,229.0 1589.9,222.7 1590.3,228.1 1590.7,227.5 1591.1,226.8 1591.5,228.0 1591.9,231.1 1592.4,233.9 1592.8,226.2 1593.2,232.8 1593.6,223.8 1594.0,236.2 1594.4,239.4 1594.9,237.2 1595.3,238.8 1595.7,241.6 1596.1,234.1 1596.5,237.7 1596.9,243.3 1597.4,247.2 1597.8,243.9 1598.2,258.6 1598.6,242.1 1599.0,249.9 1599.4,252.2 1599.9,243.8 1600.3,239.9 1600.7,238.2 1601.1,247.5 1601.5,254.3 1601.9,249.4 1602.4,249.3 1602.8,246.3 1603.2,252.9 1603.6,235.9 1604.0,251.9 1604.4,251.0 1604.9,242.5 1605.3,266.0 1605.7,243.3 1606.1,245.8 1606.5,245.5 1606.9,261.0 1607.4,248.4 1607.8,259.0 1608.2,258.9 1608.6,257.2 1609.0,247.5 1609.4,252.4 1609.9,267.7 1610.3,248.8 1610.7,252.2 1611.1,256.9 1611.5,263.6 1611.9,260.4 1612.4,263.9 1612.8,252.5 1613.2,266.0 1613.6,263.9 1614.0,250.2 1614.4,270.9 1614.9,276.1 1615.3,256.5 1615.7,262.2 1616.1,271.3 1616.5,252.9 1616.9,249.9 1617.4,254.7 1617.8,259.7 1618.2,259.9 1618.6,267.9 1619.0,266.0 1619.4,256.5 1619.9,268.5 1620.3,277.3 1620.7,273.2 1621.1,272.1 1621.5,266.0 1621.9,272.6 1622.4,260.1 1622.8,271.5 1623.2,266.3 1623.6,274.5 1624.0,270.4 1624.4,260.5 1624.9,268.7 1625.3,276.0 1625.7,261.0 1626.1,264.9 1626.5,263.7 1626.9,259.2 1627.4,275.4 1627.8,277.9 1628.2,274.8 1628.6,271.4 1629.0,269.6 1629.4,271.7 1629.9,265.6 1630.3,276.4 1630.7,277.5 1631.1,277.0 1631.5,267.7 1632.0,271.8 1632.4,270.4 1632.8,283.3 1633.2,273.0 1633.6,259.8 1634.0,274.7 1634.5,284.6 1634.9,276.9 1635.3,278.4 1635.7,273.0 1636.1,260.1 1636.5,261.3 1637.0,265.2 1637.4,272.6 1637.8,275.6 1638.2,278.2 1638.6,271.6 1639.0,280.2 1639.5,272.3 1639.9,269.7 1640.3,279.9 1640.7,268.6 1641.1,256.9 1641.5,267.9 1642.0,275.5 1642.4,255.0 1642.8,272.9 1643.2,273.1 1643.6,266.1 1644.0,265.9 1644.5,272.7 1644.9,272.2 1645.3,284.1 1645.7,278.4 1646.1,265.8 1646.5,270.7 1647.0,280.9 1647.4,288.8 1647.8,279.1 1648.2,278.7 1648.6,288.8 1649.0,276.7 1649.5,274.9 1649.9,267.9 1650.3,273.8 1650.7,291.4 1651.1,268.1 1651.5,277.5 1652.0,268.4 1652.4,278.4 1652.8,283.5 1653.2,276.2 1653.6,282.6 1654.0,282.6 1654.5,280.9 1654.9,289.3 1655.3,283.3 1655.7,276.3 1656.1,273.9 1656.5,272.9 1657.0,281.6 1657.4,276.5 1657.8,296.4 1658.2,290.7 1658.6,277.4 1659.0,276.7 1659.5,289.9 1659.9,266.8 1660.3,276.1 1660.7,285.3 1661.1,273.3 1661.5,276.2 1662.0,277.1 1662.4,283.7 1662.8,280.4 1663.2,282.1 1663.6,283.5 1664.0,279.8 1664.5,286.9 1664.9,275.0 1665.3,270.5 1665.7,268.3 1666.1,269.4 1666.5,276.4 1667.0,286.7 1667.4,281.2 1667.8,276.3 1668.2,273.2 1668.6,276.8 1669.0,277.7 1669.5,276.7 1669.9,271.1 1670.3,277.3 1670.7,287.1 1671.1,266.4 1671.5,279.0 1672.0,266.8 1672.4,281.9 1672.8,275.8 1673.2,267.2 1673.6,281.4 1674.0,292.6 1674.5,281.6 1674.9,288.5 1675.3,280.5 1675.7,267.0 1676.1,284.2 1676.5,278.3 1677.0,271.6 1677.4,286.2 1677.8,283.0 1678.2,277.8 1678.6,286.9 1679.0,275.6 1679.5,285.5 1679.9,275.2 1680.3,284.8 1680.7,274.2 1681.1,291.1 1681.5,283.1 1682.0,290.8 1682.4,276.2 1682.8,278.4 1683.2,287.0 1683.6,263.7 1684.1,274.7 1684.5,288.3 1684.9,284.7 1685.3,288.0 1685.7,279.7 1686.1,285.4 1686.6,277.0 1687.0,272.8 1687.4,270.8 1687.8,278.2 1688.2,278.3 1688.6,277.8 1689.1,258.8 1689.5,268.9 1689.9,278.4 1690.3,283.8 1690.7,278.2 1691.1,276.2 1691.6,267.0 1692.0,295.1 1692.4,274.8 1692.8,293.0 1693.2,292.2 1693.6,283.8 1694.1,278.3 1694.5,282.9 1694.9,274.6 1695.3,283.8 1695.7,282.1 1696.1,285.6 1696.6,288.3 1697.0,293.4 1697.4,279.6 1697.8,288.9 1698.2,277.0 1698.6,276.3 1699.1,278.2 1699.5,275.8 1699.9,288.6 1700.3,288.2 1700.7,290.5 1701.1,282.0 1701.6,284.0 1702.0,278.4 1702.4,274.7 1702.8,285.1 1703.2,284.0 1703.6,275.0 1704.1,286.0 1704.5,270.9 1704.9,281.1 1705.3,278.1 1705.7,278.8 1706.1,275.2 1706.6,288.4 1707.0,285.9 1707.4,289.9 1707.8,283.1 1708.2,273.8 1708.6,279.7 1709.1,274.5 1709.5,285.1 1709.9,290.0 1710.3,284.3 1710.7,278.2 1711.1,279.7 1711.6,283.4 1712.0,272.7 1712.4,283.0 1712.8,283.3 1713.2,278.5 1713.6,279.3 1714.1,283.1 1714.5,276.7 1714.9,276.6 1715.3,287.0 1715.7,283.4 1716.1,292.9 1716.6,275.5 1717.0,270.3 1717.4,288.0 1717.8,288.1 1718.2,277.1 1718.6,272.3 1719.1,281.5 1719.5,270.4 1719.9,279.6 1720.3,267.6 1720.7,280.2 1721.1,267.9 1721.6,280.1 1722.0,291.5 1722.4,279.9 1722.8,286.6 1723.2,277.4 1723.6,275.8 1724.1,271.8 1724.5,288.3 1724.9,281.1 1725.3,292.0 1725.7,273.8 1726.1,279.9 1726.6,281.9 1727.0,290.5 1727.4,293.1 1727.8,277.0 1728.2,273.9 1728.6,269.9 1729.1,289.9 1729.5,280.6 1729.9,276.9 1730.3,280.7 1730.7,264.4 1731.1,269.8 1731.6,287.0 1732.0,283.5 1732.4,281.9 1732.8,274.4 1733.2,284.7 1733.6,292.4 1734.1,272.8 1734.5,280.8 1734.9,277.9 1735.3,283.0 1735.7,280.7 1736.2,279.6 1736.6,274.8 1737.0,280.4 1737.4,276.5 1737.8,279.5 1738.2,280.0 1738.7,284.6 1739.1,276.5 1739.5,278.1 1739.9,287.2 1740.3,278.7 1740.7,278.4 1741.2,285.7 1741.6,281.8 1742.0,280.6 1742.4,281.3 1742.8,271.8 1743.2,282.8 1743.7,288.4 1744.1,283.5 1744.5,269.6 1744.9,281.5 1745.3,273.7 1745.7,278.1 1746.2,280.3 1746.6,271.7 1747.0,288.1 1747.4,278.9 1747.8,284.4 1748.2,283.3 1748.7,287.9 1749.1,286.8 1749.5,269.5 1749.9,279.3 1750.3,265.0 1750.7,276.0 1751.2,283.4 1751.6,284.7 1752.0,287.0 1752.4,276.1 1752.8,280.6 1753.2,279.1 1753.7,286.6 1754.1,288.6 1754.5,275.9 1754.9,302.8 1755.3,278.1 1755.7,275.6 1756.2,281.8 1756.6,282.8 1757.0,281.3 1757.4,273.5 1757.8,287.2 1758.2,277.9 1758.7,287.4 1759.1,286.4 1759.5,269.0 1759.9,270.8 1760.3,270.6 1760.7,278.6 1761.2,277.3 1761.6,278.6 1762.0,271.5 1762.4,279.4 1762.8,285.7 1763.2,267.8 1763.7,275.1 1764.1,277.8 1764.5,275.3 1764.9,274.7 1765.3,287.4 1765.7,284.1 1766.2,281.2 1766.6,270.6 1767.0,290.0 1767.4,277.7 1767.8,271.5 1768.2,272.9 1768.7,271.8 1769.1,288.6 1769.5,276.1 1769.9,275.0 1770.3,260.5 1770.7,279.1 1771.2,267.3 1771.6,266.7 1772.0,277.9 1772.4,268.2 1772.8,279.1 1773.2,280.8 1773.7,261.7 1774.1,272.3 1774.5,262.8 1774.9,272.5 1775.3,278.7 1775.7,263.7 1776.2,284.1 1776.6,270.2 1777.0,264.4 1777.4,271.1 1777.8,276.9 1778.2,262.6 1778.7,271.4 1779.1,262.3 1779.5,278.8 1779.9,271.8 1780.3,267.9 1780.7,277.2 1781.2,261.9 1781.6,267.5 1782.0,281.9 1782.4,268.9 1782.8,278.3 1783.2,270.5 1783.7,264.5 1784.1,267.2 1784.5,269.1 1784.9,265.7 1785.3,262.8 1785.7,262.9 1786.2,258.1 1786.6,268.2 1787.0,269.8 1787.4,271.9 1787.8,255.0 1788.2,271.7 1788.7,266.1 1789.1,256.7 1789.5,266.4 1789.9,270.8 1790.3,268.6 1790.8,269.7 1791.2,270.8 1791.6,270.2 1792.0,263.9 1792.4,250.3 1792.8,258.6 1793.3,265.5 1793.7,259.9 1794.1,267.1 1794.5,267.5 1794.9,262.3 1795.3,273.9 1795.8,255.0 1796.2,267.1 1796.6,257.6 1797.0,255.3 1797.4,263.8 1797.8,255.6 1798.3,264.8 1798.7,251.3 1799.1,258.7 1799.5,252.7 1799.9,256.2 1800.3,254.9 1800.8,249.6 1801.2,260.8 1801.6,248.0 1802.0,249.3 1802.4,261.1 1802.8,261.2 1803.3,258.7 1803.7,256.2 1804.1,268.3 1804.5,245.2 1804.9,247.7 1805.3,245.6 1805.8,257.4 1806.2,252.9 1806.6,257.8 1807.0,256.3 1807.4,248.0 1807.8,243.6 1808.3,242.0 1808.7,262.2 1809.1,253.6 1809.5,250.5 1809.9,243.9 1810.3,244.2 1810.8,242.6 1811.2,242.1 1811.6,227.9 1812.0,242.5 1812.4,239.8 1812.8,243.4 1813.3,242.2 1813.7,245.7 1814.1,239.3 1814.5,243.8 1814.9,221.3 1815.3,230.0 1815.8,247.6 1816.2,227.6 1816.6,232.9 1817.0,238.5 1817.4,227.3 1817.8,236.8 1818.3,222.0 1818.7,217.9 1819.1,220.8 1819.5,217.7 1819.9,227.4 1820.3,224.4 1820.8,227.6 1821.2,217.7 1821.6,239.9 1822.0,221.7 1822.4,220.9 1822.8,223.0 1823.3,217.3 1823.7,213.6 1824.1,217.0 1824.5,221.2 1824.9,218.3 1825.3,218.8 1825.8,207.7 1826.2,205.0 1826.6,221.7 1827.0,205.7 1827.4,208.9 1827.8,209.1 1828.3,212.0 1828.7,192.5 1829.1,196.6 1829.5,195.3 1829.9,194.5 1830.3,179.1 1830.8,192.4 1831.2,172.5 1831.6,191.5 1832.0,191.2 1832.4,189.7 1832.8,176.1 1833.3,188.2 1833.7,174.4 1834.1,170.1 1834.5,169.6 1834.9,168.4 1835.3,172.9 1835.8,174.9 1836.2,153.7 1836.6,161.6 1837.0,168.7 1837.4,161.8 1837.8,161.5 1838.3,146.0 1838.7,159.5 1839.1,140.7 1839.5,149.6 1839.9,154.7 1840.3,155.5 1840.8,144.1 1841.2,143.9 1841.6,131.6 1842.0,129.7 1842.4,137.8 1842.9,127.5 1843.3,124.0 1843.7,113.0 1844.1,120.4 1844.5,121.0 1844.9,108.9 1845.4,108.1 1845.8,119.1 1846.2,107.3 1846.6,101.7 1847.0,93.6 1847.4,94.5 1847.9,94.5 1848.3,102.6 1848.7,87.4 1849.1,100.8 1849.5,80.9 1849.9,82.5 1850.4,88.3 1850.8,79.3 1851.2,73.7 1851.6,76.6 1852.0,78.8 1852.4,63.3 1852.9,71.5 1853.3,71.2 1853.7,68.3 1854.1,74.8 1854.5,65.6 1854.9,66.3 1855.4,68.5 1855.8,72.7 1856.2,66.5 1856.6,77.8 1857.0,62.3 1857.4,76.9 1857.9,63.5 1858.3,68.7 1858.7,72.9 1859.1,84.9 1859.5,78.5 1859.9,71.3 1860.4,83.7 1860.8,75.4 1861.2,73.3 1861.6,83.1 1862.0,82.7 1862.4,90.2 1862.9,82.5 1863.3,90.7 1863.7,94.6 1864.1,94.6 1864.5,95.0 1864.9,93.1 1865.4,106.0 1865.8,103.5 1866.2,108.4 1866.6,105.5 1867.0,110.6 1867.4,106.4 1867.9,116.4 1868.3,123.5 1868.7,121.8 1869.1,129.5 1869.5,128.6 1869.9,138.1 1870.4,130.7 1870.8,123.9 1871.2,140.0 1871.6,138.8 1872.0,136.1 1872.4,149.3 1872.9,149.3 1873.3,153.0 1873.7,150.4 1874.1,156.3 1874.5,159.1 1874.9,171.4 1875.4,157.7 1875.8,164.4 1876.2,169.1 1876.6,157.8 1877.0,160.8 1877.4,187.4 1877.9,164.0 1878.3,181.3 1878.7,174.1 1879.1,176.6 1879.5,170.7 1879.9,179.6 1880.4,192.5 1880.8,180.2 1881.2,194.9 1881.6,194.8 1882.0,207.6 1882.4,193.1 1882.9,206.1 1883.3,205.3 1883.7,199.2 1884.1,191.9 1884.5,214.0 1884.9,196.8 1885.4,204.1 1885.8,214.3 1886.2,217.2 1886.6,205.8 1887.0,212.5 1887.4,212.3 1887.9,223.0 1888.3,232.8 1888.7,205.9 1889.1,224.9 1889.5,201.6 1889.9,221.4 1890.4,215.2 1890.8,236.5 1891.2,225.7 1891.6,220.9 1892.0,223.4 1892.4,223.9 1892.9,229.9 1893.3,228.6 1893.7,234.9 1894.1,241.5 1894.5,237.0 1895.0,225.4 1895.4,223.6 1895.8,230.1 1896.2,242.7 1896.6,234.5 1897.0,233.2 1897.5,239.2 1897.9,229.9 1898.3,232.4 1898.7,243.9 1899.1,239.3 1899.5,239.1 1900.0,244.8 1900.4,239.6 1900.8,239.6 1901.2,241.7 1901.6,249.3 1902.0,246.4 1902.5,238.9 1902.9,245.3 1903.3,252.1 1903.7,260.6 1904.1,241.6 1904.5,251.8 1905.0,248.4 1905.4,256.0 1905.8,254.1 1906.2,261.3 1906.6,255.6 1907.0,249.2 1907.5,249.7 1907.9,256.4 1908.3,256.8 1908.7,270.3 1909.1,266.1 1909.5,248.0 1910.0,258.3 1910.4,247.8 1910.8,246.2 1911.2,262.2 1911.6,261.4 1912.0,251.4 1912.5,269.3 1912.9,252.6 1913.3,251.8 1913.7,264.0 1914.1,261.6 1914.5,259.5 1915.0,260.4 1915.4,262.7 1915.8,260.7 1916.2,260.8 1916.6,250.0 1917.0,253.9 1917.5,266.9 1917.9,258.7 1918.3,267.2 1918.7,272.0 1919.1,261.9 1919.5,266.4 1920.0,278.3 1920.4,269.7 1920.8,277.4 1921.2,275.7 1921.6,270.9 1922.0,265.6 1922.5,261.1 1922.9,259.6 1923.3,270.3 1923.7,270.4 1924.1,266.5 1924.5,273.4 1925.0,264.2 1925.4,275.6 1925.8,268.9 1926.2,268.6 1926.6,269.1 1927.0,268.7 1927.5,285.8 1927.9,259.3 1928.3,271.2 1928.7,278.3 1929.1,275.1 1929.5,268.7 1930.0,282.2 1930.4,264.2 1930.8,262.8 1931.2,275.2 1931.6,262.3 1932.0,256.5 1932.5,277.9 1932.9,277.3 1933.3,277.3 1933.7,269.5 1934.1,274.1 1934.5,266.8 1935.0,284.5 1935.4,278.6 1935.8,278.4 1936.2,261.1 1936.6,279.2 1937.0,283.8 1937.5,282.2 1937.9,279.6 1938.3,274.6 1938.7,272.5 1939.1,278.8 1939.5,277.6 1940.0,276.8 1940.4,273.4 1940.8,286.5 1941.2,268.1 1941.6,275.7 1942.0,272.2 1942.5,282.8 1942.9,285.6 1943.3,284.5 1943.7,281.4 1944.1,267.6 1944.5,290.3 1945.0,280.3 1945.4,276.4 1945.8,277.3 1946.2,275.1 1946.6,280.2 1947.0,279.6 1947.5,275.3 1947.9,261.1 1948.3,277.7 1948.7,281.1 1949.1,281.6 1949.6,277.3 1950.0,281.3 1950.4,285.2 1950.8,275.6 1951.2,288.3 1951.6,266.1 1952.1,270.7 1952.5,273.2 1952.9,263.3 1953.3,272.7 1953.7,287.5 1954.1,287.5 1954.6,280.2 1955.0,290.8 1955.4,281.3 1955.8,276.6 1956.2,281.5 1956.6,279.1 1957.1,284.9 1957.5,270.4 1957.9,286.8 1958.3,277.4 1958.7,286.0 1959.1,270.5 1959.6,277.9 1960.0,281.2 1960.4,286.7 1960.8,273.0 1961.2,291.8 1961.6,284.2 1962.1,277.7 1962.5,289.1 1962.9,282.0 1963.3,288.9 1963.7,296.5 1964.1,286.5 1964.6,278.2 1965.0,278.9 1965.4,285.5 1965.8,283.7 1966.2,276.5 1966.6,277.6 1967.1,286.4 1967.5,297.3 1967.9,265.1 1968.3,286.9 1968.7,280.9 1969.1,287.4 1969.6,288.1 1970.0,282.8 1970.4,275.9 1970.8,273.5 1971.2,270.5 1971.6,290.7 1972.1,281.4 1972.5,279.3 1972.9,281.1 1973.3,274.3 1973.7,285.0 1974.1,291.7 1974.6,290.5 1975.0,273.0 1975.4,292.1 1975.8,278.3 1976.2,270.9 1976.6,275.4 1977.1,277.2 1977.5,283.5 1977.9,276.9 1978.3,273.8 1978.7,282.0 1979.1,296.2 1979.6,279.2" fill="none" stroke="#cf3b7b" stroke-width="1.3" stroke-linejoin="round" />
<rect x="1397.5" y="38" width="580.0" height="467.0" fill="none" stroke="#000" stroke-width="3"/>
<path d="M1463.1 506.5v8 M1546.4 506.5v8 M1629.7 506.5v8 M1713.0 506.5v8 M1796.3 506.5v8 M1879.6 506.5v8 M1962.9 506.5v8 M1421.5 506.5v4 M1504.8 506.5v4 M1588.1 506.5v4 M1671.4 506.5v4 M1754.7 506.5v4 M1838.0 506.5v4 M1921.2 506.5v4" stroke="#000" stroke-width="3" fill="none"/>
<text x="1463.1" y="544.5" font-size="30" font-weight="bold" fill="#000" text-anchor="middle">-50</text>
<text x="1546.4" y="544.5" font-size="30" font-weight="bold" fill="#000" text-anchor="middle">0</text>
<text x="1629.7" y="544.5" font-size="30" font-weight="bold" fill="#000" text-anchor="middle">50</text>
<text x="1713.0" y="544.5" font-size="30" font-weight="bold" fill="#000" text-anchor="middle">100</text>
<text x="1796.3" y="544.5" font-size="30" font-weight="bold" fill="#000" text-anchor="middle">150</text>
<text x="1879.6" y="544.5" font-size="30" font-weight="bold" fill="#000" text-anchor="middle">200</text>
<text x="1962.9" y="544.5" font-size="30" font-weight="bold" fill="#000" text-anchor="middle">250</text>
<polyline points="1390.4,1028.2 1391.2,1027.5 1392.1,1027.6 1392.9,1025.8 1393.7,1029.6 1394.6,1029.0 1395.4,1027.6 1396.2,1028.6 1397.1,1028.2 1397.9,1027.4 1398.7,1028.8 1399.6,1027.6 1400.4,1027.6 1401.2,1027.1 1402.1,1028.2 1402.9,1027.7 1403.7,1028.3 1404.6,1027.2 1405.4,1027.9 1406.2,1026.9 1407.1,1028.5 1407.9,1027.9 1408.7,1028.0 1409.6,1028.0 1410.4,1026.7 1411.2,1028.3 1412.1,1029.4 1412.9,1026.1 1413.7,1026.0 1414.6,1026.1 1415.4,1028.2 1416.2,1027.6 1417.1,1028.4 1417.9,1028.0 1418.7,1027.6 1419.6,1027.6 1420.4,1027.2 1421.2,1028.1 1422.1,1026.2 1422.9,1026.8 1423.7,1027.4 1424.6,1028.8 1425.4,1026.4 1426.2,1026.1 1427.1,1026.6 1427.9,1027.9 1428.7,1026.8 1429.6,1028.2 1430.4,1025.3 1431.2,1027.9 1432.1,1027.8 1432.9,1025.6 1433.7,1027.0 1434.6,1027.9 1435.4,1026.8 1436.2,1027.6 1437.1,1028.8 1437.9,1026.9 1438.7,1026.3 1439.6,1025.8 1440.4,1027.1 1441.2,1026.3 1442.1,1026.2 1442.9,1026.2 1443.7,1026.9 1444.6,1025.3 1445.4,1024.8 1446.2,1023.9 1447.1,1027.2 1447.9,1026.1 1448.7,1027.3 1449.6,1025.9 1450.4,1025.2 1451.2,1026.2 1452.1,1025.7 1452.9,1024.6 1453.7,1024.8 1454.6,1027.2 1455.4,1025.8 1456.2,1025.8 1457.1,1025.1 1457.9,1024.7 1458.7,1026.1 1459.6,1025.1 1460.4,1024.5 1461.2,1025.0 1462.1,1024.2 1462.9,1025.1 1463.7,1025.9 1464.6,1024.1 1465.4,1026.0 1466.2,1024.1 1467.1,1024.8 1467.9,1023.8 1468.7,1024.3 1469.6,1024.5 1470.4,1024.0 1471.2,1023.7 1472.1,1023.6 1472.9,1023.4 1473.7,1022.7 1474.6,1023.8 1475.4,1024.3 1476.2,1024.7 1477.1,1024.4 1477.9,1026.0 1478.7,1024.0 1479.6,1023.2 1480.4,1025.2 1481.2,1022.5 1482.1,1024.3 1482.9,1022.5 1483.7,1023.6 1484.6,1021.5 1485.4,1024.0 1486.2,1023.0 1487.1,1022.2 1487.9,1024.5 1488.8,1023.6 1489.6,1022.9 1490.4,1022.1 1491.3,1022.7 1492.1,1022.5 1492.9,1023.2 1493.8,1023.2 1494.6,1021.8 1495.4,1021.9 1496.3,1021.8 1497.1,1021.0 1497.9,1021.7 1498.8,1022.0 1499.6,1022.7 1500.4,1023.2 1501.3,1021.2 1502.1,1022.3 1502.9,1021.4 1503.8,1023.6 1504.6,1021.6 1505.4,1022.0 1506.3,1020.7 1507.1,1020.7 1507.9,1021.6 1508.8,1021.0 1509.6,1021.5 1510.4,1019.8 1511.3,1021.7 1512.1,1020.2 1512.9,1022.5 1513.8,1020.6 1514.6,1021.8 1515.4,1019.5 1516.3,1021.0 1517.1,1019.8 1517.9,1020.1 1518.8,1020.5 1519.6,1020.1 1520.4,1020.5 1521.3,1020.9 1522.1,1020.7 1522.9,1020.0 1523.8,1018.8 1524.6,1019.2 1525.4,1019.7 1526.3,1017.9 1527.1,1020.4 1527.9,1019.4 1528.8,1019.3 1529.6,1020.3 1530.4,1020.0 1531.3,1019.5 1532.1,1018.4 1532.9,1019.5 1533.8,1019.4 1534.6,1018.2 1535.4,1019.9 1536.3,1019.3 1537.1,1017.0 1537.9,1018.8 1538.8,1017.5 1539.6,1019.6 1540.4,1019.2 1541.3,1017.4 1542.1,1017.5 1542.9,1018.4 1543.8,1018.0 1544.6,1019.5 1545.4,1018.7 1546.3,1017.7 1547.1,1018.4 1547.9,1016.0 1548.8,1018.0 1549.6,1018.4 1550.4,1017.4 1551.3,1016.8 1552.1,1017.9 1552.9,1019.1 1553.8,1017.4 1554.6,1016.2 1555.4,1018.4 1556.3,1015.3 1557.1,1017.4 1557.9,1016.3 1558.8,1017.6 1559.6,1015.9 1560.4,1017.8 1561.3,1016.8 1562.1,1014.9 1562.9,1014.6 1563.8,1016.0 1564.6,1017.4 1565.4,1016.2 1566.3,1016.1 1567.1,1015.8 1567.9,1016.5 1568.8,1016.1 1569.6,1016.0 1570.4,1014.7 1571.3,1016.6 1572.1,1016.7 1572.9,1014.2 1573.8,1017.3 1574.6,1015.8 1575.4,1014.6 1576.3,1013.3 1577.1,1015.5 1577.9,1015.3 1578.8,1014.2 1579.6,1013.0 1580.4,1015.5 1581.3,1013.9 1582.1,1013.9 1582.9,1016.8 1583.8,1016.0 1584.6,1014.9 1585.4,1013.5 1586.3,1014.4 1587.1,1011.6 1587.9,1013.7 1588.8,1012.8 1589.6,1012.2 1590.4,1011.8 1591.3,1013.6 1592.1,1013.1 1592.9,1013.0 1593.8,1013.5 1594.6,1011.8 1595.4,1011.4 1596.3,1010.7 1597.1,1011.9 1597.9,1012.8 1598.8,1011.8 1599.6,1012.4 1600.4,1010.6 1601.3,1011.1 1602.1,1010.7 1602.9,1010.1 1603.8,1012.8 1604.6,1011.7 1605.4,1010.1 1606.3,1010.0 1607.1,1010.5 1607.9,1009.1 1608.8,1010.6 1609.6,1008.9 1610.4,1009.6 1611.3,1008.9 1612.1,1009.2 1612.9,1008.3 1613.8,1007.9 1614.6,1008.3 1615.4,1008.4 1616.3,1008.6 1617.1,1008.8 1617.9,1010.0 1618.8,1009.2 1619.6,1008.1 1620.4,1008.8 1621.3,1007.4 1622.1,1009.1 1622.9,1008.2 1623.8,1006.3 1624.6,1008.0 1625.4,1007.9 1626.3,1004.6 1627.1,1006.2 1627.9,1006.3 1628.8,1004.8 1629.6,1005.5 1630.4,1005.4 1631.3,1006.6 1632.1,1006.2 1632.9,1008.2 1633.8,1005.3 1634.6,1006.5 1635.4,1005.4 1636.3,1005.4 1637.1,1004.0 1637.9,1003.2 1638.8,1004.0 1639.6,1005.3 1640.4,1005.9 1641.3,1004.8 1642.1,1004.6 1642.9,1003.2 1643.8,1005.2 1644.6,1004.9 1645.4,1003.1 1646.3,1003.4 1647.1,1002.4 1647.9,1004.5 1648.8,1003.4 1649.6,1002.8 1650.4,1003.1 1651.3,1003.0 1652.1,1002.1 1652.9,1001.2 1653.8,1001.0 1654.6,1000.5 1655.4,1002.3 1656.3,1003.8 1657.1,1000.1 1657.9,1001.6 1658.8,1001.7 1659.6,1000.3 1660.4,1001.3 1661.3,1000.0 1662.1,1001.9 1662.9,1000.1 1663.8,1000.6 1664.6,1001.0 1665.4,999.8 1666.3,998.5 1667.1,999.5 1667.9,1000.5 1668.8,999.6 1669.6,999.7 1670.4,998.4 1671.3,999.3 1672.1,999.7 1672.9,998.9 1673.8,1000.4 1674.6,998.3 1675.4,997.4 1676.3,996.7 1677.1,999.1 1677.9,997.8 1678.8,998.6 1679.6,997.9 1680.4,998.7 1681.3,998.2 1682.1,996.6 1683.0,997.0 1683.8,997.5 1684.6,995.2 1685.5,997.4 1686.3,997.0 1687.1,996.6 1688.0,995.3 1688.8,995.5 1689.6,994.0 1690.5,994.8 1691.3,994.0 1692.1,994.4 1693.0,993.6 1693.8,994.1 1694.6,994.6 1695.5,992.2 1696.3,993.9 1697.1,991.0 1698.0,990.6 1698.8,992.2 1699.6,992.0 1700.5,992.1 1701.3,989.9 1702.1,991.1 1703.0,990.9 1703.8,991.6 1704.6,990.1 1705.5,990.4 1706.3,988.7 1707.1,989.1 1708.0,988.5 1708.8,989.2 1709.6,987.3 1710.5,987.0 1711.3,987.8 1712.1,988.4 1713.0,986.6 1713.8,986.0 1714.6,984.9 1715.5,985.6 1716.3,984.5 1717.1,985.0 1718.0,983.2 1718.8,981.5 1719.6,981.3 1720.5,980.4 1721.3,979.7 1722.1,981.6 1723.0,980.8 1723.8,978.6 1724.6,981.0 1725.5,979.4 1726.3,978.1 1727.1,979.1 1728.0,978.4 1728.8,977.6 1729.6,976.3 1730.5,977.9 1731.3,978.0 1732.1,975.2 1733.0,977.8 1733.8,977.7 1734.6,976.6 1735.5,976.9 1736.3,976.4 1737.1,975.8 1738.0,976.1 1738.8,977.5 1739.6,974.8 1740.5,976.2 1741.3,976.0 1742.1,975.1 1743.0,975.2 1743.8,974.2 1744.6,974.6 1745.5,975.2 1746.3,975.4 1747.1,974.1 1748.0,977.6 1748.8,974.2 1749.6,974.7 1750.5,974.2 1751.3,973.9 1752.1,975.3 1753.0,973.6 1753.8,975.1 1754.6,974.8 1755.5,972.6 1756.3,974.4 1757.1,972.7 1758.0,975.6 1758.8,972.6 1759.6,971.9 1760.5,970.8 1761.3,971.2 1762.1,971.7 1763.0,971.1 1763.8,970.7 1764.6,971.0 1765.5,971.3 1766.3,972.6 1767.1,969.6 1768.0,970.4 1768.8,969.9 1769.6,969.2 1770.5,969.2 1771.3,969.3 1772.1,970.6 1773.0,969.6 1773.8,969.1 1774.6,969.9 1775.5,969.4 1776.3,968.8 1777.1,969.1 1778.0,967.8 1778.8,968.9 1779.6,968.6 1780.5,967.6 1781.3,966.6 1782.1,968.9 1783.0,967.4 1783.8,969.8 1784.6,966.3 1785.5,967.4 1786.3,966.0 1787.1,966.4 1788.0,966.7 1788.8,965.0 1789.6,965.4 1790.5,965.4 1791.3,965.2 1792.1,965.4 1793.0,965.5 1793.8,965.1 1794.6,964.3 1795.5,963.5 1796.3,962.6 1797.1,962.7 1798.0,962.6 1798.8,963.4 1799.6,962.2 1800.5,961.2 1801.3,962.6 1802.1,961.0 1803.0,960.7 1803.8,960.9 1804.6,961.2 1805.5,958.3 1806.3,959.2 1807.1,960.0 1808.0,959.2 1808.8,958.4 1809.6,958.4 1810.5,959.8 1811.3,957.8 1812.1,958.5 1813.0,958.2 1813.8,956.7 1814.6,957.2 1815.5,956.0 1816.3,955.5 1817.1,954.7 1818.0,956.1 1818.8,954.6 1819.6,954.1 1820.5,953.2 1821.3,955.5 1822.1,954.2 1823.0,953.0 1823.8,952.2 1824.6,951.0 1825.5,952.3 1826.3,952.0 1827.1,950.1 1828.0,952.0 1828.8,951.3 1829.6,949.4 1830.5,949.4 1831.3,949.2 1832.1,949.4 1833.0,948.8 1833.8,947.1 1834.6,949.6 1835.5,948.2 1836.3,948.7 1837.1,948.4 1838.0,946.8 1838.8,946.9 1839.6,947.0 1840.5,946.7 1841.3,945.5 1842.1,944.8 1843.0,945.1 1843.8,944.0 1844.6,943.9 1845.5,942.3 1846.3,943.9 1847.1,942.6 1848.0,942.7 1848.8,942.8 1849.6,942.8 1850.5,943.9 1851.3,942.1 1852.1,940.3 1853.0,941.4 1853.8,940.5 1854.6,941.1 1855.5,939.8 1856.3,939.4 1857.1,939.3 1858.0,938.9 1858.8,937.5 1859.6,938.3 1860.5,938.6 1861.3,939.4 1862.1,937.7 1863.0,937.4 1863.8,937.9 1864.6,937.6 1865.5,938.3 1866.3,937.1 1867.1,936.3 1868.0,937.2 1868.8,937.1 1869.6,935.0 1870.5,935.3 1871.3,933.4 1872.1,934.3 1873.0,933.6 1873.8,933.9 1874.6,933.4 1875.5,933.5 1876.3,933.3 1877.2,933.6 1878.0,933.1 1878.8,932.1 1879.7,931.2 1880.5,933.2 1881.3,933.1 1882.2,931.2 1883.0,931.8 1883.8,929.7 1884.7,929.4 1885.5,930.3 1886.3,931.6 1887.2,929.0 1888.0,928.9 1888.8,930.9 1889.7,927.5 1890.5,929.5 1891.3,929.1 1892.2,928.2 1893.0,928.3 1893.8,930.2 1894.7,926.5 1895.5,927.0 1896.3,926.8 1897.2,926.1 1898.0,925.3 1898.8,927.7 1899.7,926.2 1900.5,924.1 1901.3,924.8 1902.2,925.6 1903.0,925.3 1903.8,923.4 1904.7,924.4 1905.5,924.5 1906.3,924.3 1907.2,924.1 1908.0,921.9 1908.8,924.9 1909.7,923.2 1910.5,924.5 1911.3,925.2 1912.2,922.2 1913.0,921.1 1913.8,922.8 1914.7,921.6 1915.5,921.2 1916.3,920.4 1917.2,922.7 1918.0,920.6 1918.8,919.6 1919.7,920.2 1920.5,919.4 1921.3,920.5 1922.2,919.8 1923.0,919.1 1923.8,920.4 1924.7,919.1 1925.5,920.2 1926.3,920.6 1927.2,919.0 1928.0,918.6 1928.8,919.3 1929.7,919.8 1930.5,918.9 1931.3,919.0 1932.2,918.7 1933.0,919.0 1933.8,919.2 1934.7,917.9 1935.5,918.1 1936.3,918.5 1937.2,917.8 1938.0,918.5 1938.8,918.8 1939.7,918.2 1940.5,917.6 1941.3,917.4 1942.2,919.7 1943.0,918.8 1943.8,917.0 1944.7,917.2 1945.5,919.6 1946.3,919.2 1947.2,917.9 1948.0,918.8 1948.8,916.4 1949.7,917.7 1950.5,918.3 1951.3,915.9 1952.2,916.8 1953.0,918.2 1953.8,918.5 1954.7,916.9 1955.5,917.6 1956.3,918.8 1957.2,917.0 1958.0,916.1 1958.8,917.2 1959.7,916.9 1960.5,918.4 1961.3,917.3 1962.2,916.4 1963.0,919.3 1963.8,916.7 1964.7,917.5 1965.5,917.7 1966.3,917.8 1967.2,917.2 1968.0,917.6 1968.8,917.0 1969.7,915.7 1970.5,916.8 1971.3,916.8 1972.2,916.8 1973.0,917.1" fill="none" stroke="#8088c8" stroke-width="3" stroke-linejoin="round" />
<polyline points="1390.4,969.4 1391.2,971.2 1392.1,971.4 1392.9,968.0 1393.7,970.0 1394.6,969.3 1395.4,967.6 1396.2,970.3 1397.1,969.3 1397.9,969.5 1398.7,969.2 1399.6,970.8 1400.4,970.9 1401.2,970.0 1402.1,970.3 1402.9,969.6 1403.7,969.7 1404.6,968.9 1405.4,969.6 1406.2,968.9 1407.1,969.8 1407.9,970.2 1408.7,969.7 1409.6,970.4 1410.4,971.7 1411.2,967.3 1412.1,969.2 1412.9,968.6 1413.7,968.7 1414.6,967.8 1415.4,969.0 1416.2,968.7 1417.1,968.3 1417.9,968.6 1418.7,968.2 1419.6,966.6 1420.4,969.6 1421.2,968.3 1422.1,967.7 1422.9,968.7 1423.7,967.8 1424.6,966.4 1425.4,969.1 1426.2,966.7 1427.1,968.0 1427.9,968.2 1428.7,969.3 1429.6,969.0 1430.4,968.1 1431.2,967.2 1432.1,967.4 1432.9,968.7 1433.7,969.2 1434.6,968.0 1435.4,966.9 1436.2,968.3 1437.1,966.9 1437.9,966.8 1438.7,966.8 1439.6,967.5 1440.4,967.1 1441.2,967.6 1442.1,967.8 1442.9,967.0 1443.7,964.3 1444.6,964.8 1445.4,966.3 1446.2,966.0 1447.1,967.9 1447.9,965.8 1448.7,965.5 1449.6,966.4 1450.4,966.4 1451.2,965.1 1452.1,965.6 1452.9,964.0 1453.7,964.0 1454.6,965.8 1455.4,963.3 1456.2,965.3 1457.1,964.9 1457.9,964.9 1458.7,964.8 1459.6,964.4 1460.4,961.8 1461.2,962.7 1462.1,962.9 1462.9,964.1 1463.7,962.1 1464.6,962.3 1465.4,962.5 1466.2,963.9 1467.1,961.2 1467.9,961.2 1468.7,962.8 1469.6,960.2 1470.4,962.2 1471.2,961.4 1472.1,960.2 1472.9,961.1 1473.7,960.4 1474.6,961.3 1475.4,961.4 1476.2,962.2 1477.1,960.7 1477.9,960.7 1478.7,959.9 1479.6,960.3 1480.4,961.1 1481.2,958.3 1482.1,960.5 1482.9,959.3 1483.7,959.7 1484.6,959.8 1485.4,960.1 1486.2,959.4 1487.1,958.7 1487.9,959.2 1488.8,958.8 1489.6,958.5 1490.4,958.7 1491.3,959.2 1492.1,958.4 1492.9,958.3 1493.8,956.9 1494.6,957.8 1495.4,956.1 1496.3,958.3 1497.1,956.7 1497.9,958.5 1498.8,959.9 1499.6,956.7 1500.4,958.2 1501.3,957.2 1502.1,956.2 1502.9,955.8 1503.8,956.9 1504.6,957.6 1505.4,956.5 1506.3,954.7 1507.1,955.0 1507.9,955.6 1508.8,956.9 1509.6,955.8 1510.4,955.7 1511.3,956.3 1512.1,954.9 1512.9,954.9 1513.8,954.7 1514.6,953.1 1515.4,955.0 1516.3,954.8 1517.1,955.2 1517.9,953.1 1518.8,953.3 1519.6,954.8 1520.4,954.1 1521.3,954.9 1522.1,952.8 1522.9,953.6 1523.8,952.7 1524.6,953.4 1525.4,952.6 1526.3,953.4 1527.1,953.7 1527.9,953.2 1528.8,950.9 1529.6,953.2 1530.4,952.6 1531.3,951.2 1532.1,951.2 1532.9,951.9 1533.8,952.3 1534.6,951.2 1535.4,950.0 1536.3,951.6 1537.1,951.4 1537.9,953.3 1538.8,949.8 1539.6,953.2 1540.4,952.3 1541.3,950.9 1542.1,952.0 1542.9,950.5 1543.8,951.2 1544.6,949.5 1545.4,950.1 1546.3,949.0 1547.1,948.4 1547.9,949.5 1548.8,949.0 1549.6,950.0 1550.4,950.5 1551.3,949.1 1552.1,949.2 1552.9,949.3 1553.8,947.5 1554.6,949.1 1555.4,948.8 1556.3,948.7 1557.1,947.6 1557.9,946.7 1558.8,948.2 1559.6,948.6 1560.4,949.5 1561.3,949.2 1562.1,949.4 1562.9,948.3 1563.8,948.9 1564.6,947.6 1565.4,948.3 1566.3,948.5 1567.1,949.9 1567.9,947.6 1568.8,946.2 1569.6,948.5 1570.4,946.4 1571.3,947.0 1572.1,946.7 1572.9,946.0 1573.8,947.9 1574.6,947.1 1575.4,945.9 1576.3,946.4 1577.1,945.9 1577.9,946.7 1578.8,945.7 1579.6,945.2 1580.4,945.1 1581.3,945.2 1582.1,945.7 1582.9,944.5 1583.8,945.1 1584.6,945.4 1585.4,946.9 1586.3,945.4 1587.1,941.8 1587.9,943.8 1588.8,943.8 1589.6,944.2 1590.4,945.1 1591.3,944.2 1592.1,941.2 1592.9,943.3 1593.8,942.9 1594.6,942.9 1595.4,943.5 1596.3,941.1 1597.1,942.8 1597.9,940.0 1598.8,941.3 1599.6,941.3 1600.4,942.7 1601.3,939.7 1602.1,938.5 1602.9,940.4 1603.8,938.9 1604.6,940.5 1605.4,938.2 1606.3,937.7 1607.1,939.3 1607.9,937.9 1608.8,938.4 1609.6,935.9 1610.4,938.3 1611.3,935.9 1612.1,936.9 1612.9,934.9 1613.8,934.0 1614.6,934.8 1615.4,934.8 1616.3,935.7 1617.1,934.2 1617.9,934.2 1618.8,933.8 1619.6,935.6 1620.4,931.7 1621.3,933.2 1622.1,931.5 1622.9,931.5 1623.8,930.4 1624.6,931.5 1625.4,929.0 1626.3,928.5 1627.1,929.1 1627.9,927.9 1628.8,929.2 1629.6,929.0 1630.4,927.1 1631.3,928.1 1632.1,926.4 1632.9,926.5 1633.8,926.2 1634.6,927.5 1635.4,925.4 1636.3,924.2 1637.1,923.8 1637.9,925.3 1638.8,922.4 1639.6,923.1 1640.4,922.8 1641.3,920.5 1642.1,921.9 1642.9,922.9 1643.8,921.8 1644.6,920.4 1645.4,921.4 1646.3,920.9 1647.1,921.9 1647.9,919.0 1648.8,918.9 1649.6,918.9 1650.4,918.3 1651.3,918.1 1652.1,917.5 1652.9,916.6 1653.8,915.4 1654.6,915.9 1655.4,914.7 1656.3,914.6 1657.1,914.7 1657.9,915.2 1658.8,915.1 1659.6,912.9 1660.4,913.7 1661.3,913.7 1662.1,912.5 1662.9,910.6 1663.8,909.7 1664.6,912.0 1665.4,911.6 1666.3,910.6 1667.1,909.0 1667.9,910.8 1668.8,910.1 1669.6,908.5 1670.4,907.9 1671.3,905.9 1672.1,907.9 1672.9,905.3 1673.8,906.9 1674.6,906.5 1675.4,905.5 1676.3,906.4 1677.1,904.2 1677.9,904.6 1678.8,904.3 1679.6,903.3 1680.4,902.3 1681.3,903.3 1682.1,902.1 1683.0,901.1 1683.8,900.7 1684.6,900.5 1685.5,902.0 1686.3,899.6 1687.1,898.9 1688.0,897.7 1688.8,897.1 1689.6,896.1 1690.5,897.5 1691.3,896.9 1692.1,895.5 1693.0,894.7 1693.8,895.3 1694.6,894.6 1695.5,893.5 1696.3,894.5 1697.1,893.9 1698.0,893.2 1698.8,893.5 1699.6,891.7 1700.5,893.0 1701.3,890.3 1702.1,891.2 1703.0,890.8 1703.8,889.4 1704.6,889.4 1705.5,887.3 1706.3,886.6 1707.1,887.1 1708.0,886.0 1708.8,886.6 1709.6,885.4 1710.5,885.2 1711.3,884.0 1712.1,883.1 1713.0,882.0 1713.8,880.6 1714.6,879.6 1715.5,880.9 1716.3,876.5 1717.1,877.0 1718.0,877.2 1718.8,875.8 1719.6,876.0 1720.5,874.5 1721.3,872.3 1722.1,872.5 1723.0,870.9 1723.8,872.4 1724.6,872.2 1725.5,869.9 1726.3,870.2 1727.1,868.8 1728.0,867.4 1728.8,867.9 1729.6,866.5 1730.5,867.2 1731.3,867.7 1732.1,868.1 1733.0,868.6 1733.8,867.2 1734.6,867.7 1735.5,867.9 1736.3,868.1 1737.1,865.1 1738.0,867.0 1738.8,868.4 1739.6,866.8 1740.5,868.1 1741.3,868.7 1742.1,866.3 1743.0,867.9 1743.8,868.3 1744.6,868.2 1745.5,866.8 1746.3,868.6 1747.1,867.8 1748.0,869.1 1748.8,868.8 1749.6,867.9 1750.5,868.6 1751.3,867.8 1752.1,867.8 1753.0,867.0 1753.8,868.1 1754.6,868.9 1755.5,868.1 1756.3,867.8 1757.1,867.0 1758.0,866.8 1758.8,867.7 1759.6,865.4 1760.5,868.2 1761.3,866.0 1762.1,867.6 1763.0,866.3 1763.8,864.4 1764.6,865.0 1765.5,864.2 1766.3,863.9 1767.1,863.7 1768.0,862.1 1768.8,861.5 1769.6,861.3 1770.5,859.9 1771.3,860.5 1772.1,860.4 1773.0,860.0 1773.8,859.5 1774.6,858.5 1775.5,859.2 1776.3,856.2 1777.1,857.3 1778.0,857.0 1778.8,857.7 1779.6,857.1 1780.5,856.9 1781.3,855.8 1782.1,856.3 1783.0,854.2 1783.8,854.8 1784.6,852.5 1785.5,855.6 1786.3,855.1 1787.1,852.8 1788.0,852.2 1788.8,850.7 1789.6,850.9 1790.5,852.0 1791.3,851.4 1792.1,849.9 1793.0,850.4 1793.8,849.9 1794.6,850.6 1795.5,850.4 1796.3,849.2 1797.1,849.2 1798.0,848.7 1798.8,846.5 1799.6,848.2 1800.5,847.6 1801.3,848.0 1802.1,845.4 1803.0,847.3 1803.8,845.7 1804.6,846.2 1805.5,846.7 1806.3,844.0 1807.1,843.8 1808.0,845.5 1808.8,843.3 1809.6,843.1 1810.5,844.2 1811.3,843.1 1812.1,843.7 1813.0,842.9 1813.8,842.3 1814.6,842.9 1815.5,843.7 1816.3,841.3 1817.1,842.4 1818.0,841.8 1818.8,840.5 1819.6,840.5 1820.5,839.0 1821.3,839.0 1822.1,839.4 1823.0,838.8 1823.8,839.7 1824.6,837.1 1825.5,837.7 1826.3,837.1 1827.1,837.2 1828.0,838.1 1828.8,835.6 1829.6,837.2 1830.5,835.6 1831.3,835.5 1832.1,836.4 1833.0,834.9 1833.8,835.4 1834.6,834.6 1835.5,834.1 1836.3,833.6 1837.1,832.1 1838.0,832.6 1838.8,833.2 1839.6,832.9 1840.5,831.1 1841.3,833.0 1842.1,832.3 1843.0,830.3 1843.8,830.3 1844.6,831.4 1845.5,829.0 1846.3,829.7 1847.1,830.0 1848.0,829.6 1848.8,829.4 1849.6,829.5 1850.5,828.2 1851.3,828.2 1852.1,830.2 1853.0,826.8 1853.8,827.4 1854.6,827.6 1855.5,826.7 1856.3,828.1 1857.1,826.8 1858.0,827.1 1858.8,823.8 1859.6,827.0 1860.5,826.7 1861.3,824.7 1862.1,826.4 1863.0,825.2 1863.8,825.5 1864.6,826.1 1865.5,824.3 1866.3,823.1 1867.1,823.7 1868.0,822.4 1868.8,822.6 1869.6,822.4 1870.5,822.2 1871.3,823.7 1872.1,823.2 1873.0,821.4 1873.8,823.0 1874.6,820.3 1875.5,821.0 1876.3,821.3 1877.2,822.3 1878.0,821.7 1878.8,821.3 1879.7,821.8 1880.5,821.1 1881.3,821.5 1882.2,819.4 1883.0,818.4 1883.8,819.3 1884.7,820.3 1885.5,819.6 1886.3,819.9 1887.2,819.6 1888.0,819.2 1888.8,819.3 1889.7,817.8 1890.5,819.2 1891.3,817.2 1892.2,817.8 1893.0,816.4 1893.8,818.0 1894.7,816.0 1895.5,818.5 1896.3,815.8 1897.2,817.1 1898.0,816.6 1898.8,815.8 1899.7,817.6 1900.5,815.9 1901.3,817.5 1902.2,815.1 1903.0,815.1 1903.8,813.9 1904.7,816.1 1905.5,816.3 1906.3,815.6 1907.2,815.1 1908.0,814.3 1908.8,817.2 1909.7,815.6 1910.5,813.2 1911.3,814.5 1912.2,812.3 1913.0,816.0 1913.8,816.3 1914.7,815.8 1915.5,814.3 1916.3,813.8 1917.2,813.0 1918.0,814.7 1918.8,813.5 1919.7,813.7 1920.5,813.4 1921.3,813.7 1922.2,814.7 1923.0,815.4 1923.8,813.9 1924.7,813.7 1925.5,812.7 1926.3,812.5 1927.2,812.6 1928.0,814.3 1928.8,813.7 1929.7,814.2 1930.5,813.7 1931.3,812.9 1932.2,812.1 1933.0,812.8 1933.8,811.8 1934.7,814.9 1935.5,813.3 1936.3,812.6 1937.2,814.7 1938.0,812.5 1938.8,813.3 1939.7,812.6 1940.5,813.0 1941.3,812.3 1942.2,813.1 1943.0,813.9 1943.8,811.4 1944.7,810.5 1945.5,813.7 1946.3,812.6 1947.2,813.2 1948.0,812.1 1948.8,813.7 1949.7,813.9 1950.5,811.2 1951.3,812.8 1952.2,811.6 1953.0,810.7 1953.8,811.8 1954.7,812.6 1955.5,810.8 1956.3,810.9 1957.2,813.1 1958.0,812.0 1958.8,812.3 1959.7,810.9 1960.5,811.3 1961.3,812.0 1962.2,812.0 1963.0,812.0 1963.8,813.3 1964.7,812.0 1965.5,810.4 1966.3,811.0 1967.2,811.7 1968.0,812.9 1968.8,811.1 1969.7,811.4 1970.5,811.7 1971.3,811.1 1972.2,811.0 1973.0,811.5" fill="none" stroke="#5ed6c8" stroke-width="3" stroke-linejoin="round" />
<polyline points="1390.4,843.8 1391.2,843.3 1392.1,842.6 1392.9,843.2 1393.7,841.7 1394.6,843.8 1395.4,843.5 1396.2,843.1 1397.1,841.4 1397.9,844.7 1398.7,840.2 1399.6,841.9 1400.4,841.9 1401.2,843.4 1402.1,841.4 1402.9,842.9 1403.7,842.6 1404.6,842.4 1405.4,843.5 1406.2,844.0 1407.1,843.0 1407.9,842.4 1408.7,840.5 1409.6,843.9 1410.4,842.3 1411.2,840.8 1412.1,842.6 1412.9,843.8 1413.7,842.3 1414.6,841.4 1415.4,844.4 1416.2,842.9 1417.1,842.7 1417.9,843.2 1418.7,840.3 1419.6,842.2 1420.4,842.1 1421.2,844.3 1422.1,841.7 1422.9,841.6 1423.7,840.8 1424.6,841.3 1425.4,841.9 1426.2,842.3 1427.1,841.8 1427.9,843.8 1428.7,842.4 1429.6,842.5 1430.4,843.1 1431.2,842.4 1432.1,841.3 1432.9,840.3 1433.7,842.0 1434.6,840.9 1435.4,842.8 1436.2,840.9 1437.1,839.5 1437.9,841.5 1438.7,842.4 1439.6,841.2 1440.4,841.5 1441.2,841.4 1442.1,842.8 1442.9,841.4 1443.7,841.1 1444.6,840.5 1445.4,839.5 1446.2,842.2 1447.1,841.9 1447.9,839.9 1448.7,841.3 1449.6,841.0 1450.4,840.2 1451.2,840.2 1452.1,841.1 1452.9,839.3 1453.7,839.8 1454.6,840.2 1455.4,840.2 1456.2,839.9 1457.1,840.2 1457.9,840.4 1458.7,839.0 1459.6,839.9 1460.4,839.2 1461.2,841.0 1462.1,838.3 1462.9,839.2 1463.7,840.0 1464.6,839.0 1465.4,838.9 1466.2,838.6 1467.1,839.3 1467.9,837.9 1468.7,838.8 1469.6,838.7 1470.4,837.4 1471.2,838.9 1472.1,838.1 1472.9,838.7 1473.7,839.2 1474.6,838.6 1475.4,837.1 1476.2,838.4 1477.1,836.6 1477.9,837.2 1478.7,839.4 1479.6,837.8 1480.4,839.1 1481.2,837.4 1482.1,837.5 1482.9,836.4 1483.7,838.2 1484.6,837.1 1485.4,837.7 1486.2,837.5 1487.1,837.5 1487.9,837.2 1488.8,836.8 1489.6,836.7 1490.4,836.0 1491.3,834.6 1492.1,836.9 1492.9,838.3 1493.8,837.3 1494.6,838.3 1495.4,836.5 1496.3,835.1 1497.1,835.0 1497.9,836.5 1498.8,836.0 1499.6,835.5 1500.4,836.2 1501.3,834.6 1502.1,835.8 1502.9,835.0 1503.8,835.3 1504.6,836.1 1505.4,834.8 1506.3,836.1 1507.1,835.9 1507.9,833.9 1508.8,836.6 1509.6,833.3 1510.4,834.2 1511.3,834.9 1512.1,832.0 1512.9,834.9 1513.8,834.9 1514.6,833.6 1515.4,833.9 1516.3,833.7 1517.1,833.2 1517.9,834.2 1518.8,832.8 1519.6,833.0 1520.4,833.2 1521.3,833.6 1522.1,833.7 1522.9,831.2 1523.8,830.6 1524.6,832.2 1525.4,832.1 1526.3,831.0 1527.1,832.2 1527.9,832.3 1528.8,832.0 1529.6,833.0 1530.4,830.4 1531.3,831.2 1532.1,832.9 1532.9,831.6 1533.8,829.8 1534.6,830.9 1535.4,831.6 1536.3,832.3 1537.1,830.9 1537.9,831.2 1538.8,829.0 1539.6,829.6 1540.4,830.8 1541.3,828.7 1542.1,829.3 1542.9,827.5 1543.8,830.4 1544.6,828.8 1545.4,829.3 1546.3,827.3 1547.1,827.3 1547.9,830.0 1548.8,827.9 1549.6,827.5 1550.4,828.3 1551.3,828.2 1552.1,825.7 1552.9,826.5 1553.8,827.2 1554.6,827.0 1555.4,827.2 1556.3,826.3 1557.1,826.3 1557.9,826.6 1558.8,825.6 1559.6,825.2 1560.4,825.3 1561.3,825.7 1562.1,825.3 1562.9,824.9 1563.8,824.9 1564.6,824.9 1565.4,825.0 1566.3,824.9 1567.1,823.2 1567.9,825.1 1568.8,822.5 1569.6,824.3 1570.4,823.0 1571.3,823.9 1572.1,824.2 1572.9,821.3 1573.8,823.3 1574.6,822.8 1575.4,822.0 1576.3,822.5 1577.1,821.5 1577.9,821.9 1578.8,820.6 1579.6,822.0 1580.4,821.6 1581.3,821.6 1582.1,820.1 1582.9,822.1 1583.8,822.0 1584.6,819.9 1585.4,819.4 1586.3,819.2 1587.1,819.9 1587.9,820.0 1588.8,818.1 1589.6,816.7 1590.4,818.7 1591.3,818.0 1592.1,817.9 1592.9,818.0 1593.8,816.2 1594.6,817.0 1595.4,816.4 1596.3,816.7 1597.1,817.2 1597.9,815.8 1598.8,814.7 1599.6,816.3 1600.4,815.5 1601.3,814.4 1602.1,812.6 1602.9,813.1 1603.8,813.7 1604.6,813.8 1605.4,812.5 1606.3,813.0 1607.1,811.7 1607.9,811.6 1608.8,812.1 1609.6,811.0 1610.4,811.0 1611.3,811.3 1612.1,811.2 1612.9,809.3 1613.8,809.2 1614.6,807.9 1615.4,807.5 1616.3,808.6 1617.1,807.5 1617.9,805.9 1618.8,807.7 1619.6,806.0 1620.4,806.1 1621.3,806.4 1622.1,806.0 1622.9,805.1 1623.8,803.0 1624.6,804.9 1625.4,803.4 1626.3,802.2 1627.1,801.0 1627.9,803.7 1628.8,802.1 1629.6,801.6 1630.4,801.5 1631.3,800.3 1632.1,798.5 1632.9,799.9 1633.8,799.7 1634.6,798.7 1635.4,799.0 1636.3,798.8 1637.1,795.8 1637.9,795.6 1638.8,796.3 1639.6,795.1 1640.4,794.6 1641.3,794.7 1642.1,794.1 1642.9,792.5 1643.8,792.5 1644.6,791.3 1645.4,791.3 1646.3,790.0 1647.1,788.7 1647.9,789.6 1648.8,789.0 1649.6,789.9 1650.4,790.1 1651.3,788.2 1652.1,788.1 1652.9,786.7 1653.8,786.0 1654.6,786.1 1655.4,785.6 1656.3,785.7 1657.1,785.1 1657.9,786.0 1658.8,783.9 1659.6,782.1 1660.4,783.3 1661.3,782.1 1662.1,782.5 1662.9,782.9 1663.8,780.8 1664.6,780.9 1665.4,781.0 1666.3,779.2 1667.1,779.8 1667.9,779.7 1668.8,779.5 1669.6,779.3 1670.4,778.4 1671.3,777.8 1672.1,775.8 1672.9,774.2 1673.8,775.3 1674.6,777.0 1675.4,775.4 1676.3,772.8 1677.1,774.0 1677.9,774.3 1678.8,771.9 1679.6,773.6 1680.4,771.6 1681.3,773.1 1682.1,771.8 1683.0,774.1 1683.8,769.8 1684.6,770.8 1685.5,768.9 1686.3,770.9 1687.1,769.6 1688.0,770.0 1688.8,768.9 1689.6,767.5 1690.5,767.6 1691.3,766.7 1692.1,766.6 1693.0,767.3 1693.8,767.8 1694.6,767.2 1695.5,766.5 1696.3,765.2 1697.1,765.7 1698.0,764.1 1698.8,764.6 1699.6,764.7 1700.5,763.2 1701.3,762.4 1702.1,761.9 1703.0,762.2 1703.8,760.7 1704.6,759.0 1705.5,759.2 1706.3,757.6 1707.1,758.7 1708.0,755.9 1708.8,753.0 1709.6,752.8 1710.5,751.4 1711.3,749.1 1712.1,746.5 1713.0,745.0 1713.8,743.2 1714.6,742.0 1715.5,739.7 1716.3,739.7 1717.1,735.9 1718.0,735.8 1718.8,732.7 1719.6,729.3 1720.5,727.9 1721.3,725.5 1722.1,723.8 1723.0,724.7 1723.8,721.5 1724.6,721.2 1725.5,718.7 1726.3,718.5 1727.1,716.9 1728.0,718.3 1728.8,717.3 1729.6,717.1 1730.5,717.5 1731.3,719.7 1732.1,718.3 1733.0,718.9 1733.8,717.2 1734.6,718.0 1735.5,719.1 1736.3,717.5 1737.1,720.6 1738.0,720.0 1738.8,720.1 1739.6,720.2 1740.5,720.5 1741.3,720.6 1742.1,722.6 1743.0,722.3 1743.8,723.1 1744.6,722.0 1745.5,721.8 1746.3,724.1 1747.1,722.2 1748.0,723.1 1748.8,724.6 1749.6,725.3 1750.5,723.5 1751.3,724.9 1752.1,725.5 1753.0,725.8 1753.8,725.5 1754.6,727.3 1755.5,726.6 1756.3,727.3 1757.1,725.9 1758.0,728.2 1758.8,727.0 1759.6,729.7 1760.5,730.0 1761.3,729.5 1762.1,730.6 1763.0,731.0 1763.8,731.3 1764.6,732.3 1765.5,732.4 1766.3,732.6 1767.1,732.8 1768.0,735.5 1768.8,734.7 1769.6,735.1 1770.5,736.2 1771.3,735.7 1772.1,736.2 1773.0,737.5 1773.8,738.3 1774.6,738.3 1775.5,736.7 1776.3,738.4 1777.1,738.6 1778.0,739.2 1778.8,738.2 1779.6,738.2 1780.5,739.2 1781.3,738.6 1782.1,738.6 1783.0,739.6 1783.8,740.6 1784.6,740.0 1785.5,741.0 1786.3,739.3 1787.1,740.9 1788.0,740.3 1788.8,739.7 1789.6,740.2 1790.5,739.8 1791.3,740.5 1792.1,740.1 1793.0,741.9 1793.8,740.5 1794.6,739.6 1795.5,740.8 1796.3,741.3 1797.1,740.7 1798.0,741.8 1798.8,740.2 1799.6,740.2 1800.5,742.3 1801.3,740.7 1802.1,741.1 1803.0,740.8 1803.8,740.7 1804.6,740.0 1805.5,739.5 1806.3,740.4 1807.1,738.7 1808.0,739.0 1808.8,739.2 1809.6,738.0 1810.5,736.7 1811.3,738.2 1812.1,738.4 1813.0,737.4 1813.8,735.4 1814.6,737.3 1815.5,738.2 1816.3,734.9 1817.1,733.7 1818.0,735.7 1818.8,735.9 1819.6,736.3 1820.5,736.2 1821.3,735.4 1822.1,735.6 1823.0,735.3 1823.8,735.0 1824.6,734.7 1825.5,734.5 1826.3,735.2 1827.1,734.8 1828.0,734.1 1828.8,735.4 1829.6,733.8 1830.5,734.2 1831.3,734.6 1832.1,732.9 1833.0,734.3 1833.8,735.5 1834.6,735.6 1835.5,734.0 1836.3,734.4 1837.1,734.4 1838.0,735.3 1838.8,735.7 1839.6,734.5 1840.5,736.4 1841.3,736.4 1842.1,736.4 1843.0,736.1 1843.8,736.8 1844.6,735.6 1845.5,737.5 1846.3,737.7 1847.1,737.6 1848.0,736.8 1848.8,739.1 1849.6,739.2 1850.5,736.7 1851.3,738.9 1852.1,738.8 1853.0,736.6 1853.8,739.5 1854.6,739.7 1855.5,740.0 1856.3,739.7 1857.1,739.1 1858.0,739.4 1858.8,740.5 1859.6,741.2 1860.5,739.9 1861.3,740.3 1862.1,741.3 1863.0,739.0 1863.8,741.4 1864.6,741.0 1865.5,739.5 1866.3,742.2 1867.1,740.9 1868.0,742.5 1868.8,743.2 1869.6,741.0 1870.5,741.2 1871.3,742.4 1872.1,741.0 1873.0,743.3 1873.8,742.9 1874.6,743.7 1875.5,741.4 1876.3,743.2 1877.2,743.6 1878.0,741.7 1878.8,744.1 1879.7,742.2 1880.5,743.7 1881.3,742.4 1882.2,744.4 1883.0,745.2 1883.8,743.9 1884.7,743.9 1885.5,745.1 1886.3,743.7 1887.2,744.2 1888.0,744.9 1888.8,744.7 1889.7,745.8 1890.5,745.5 1891.3,746.2 1892.2,744.6 1893.0,745.7 1893.8,744.0 1894.7,745.6 1895.5,746.4 1896.3,747.0 1897.2,743.9 1898.0,744.9 1898.8,745.8 1899.7,744.4 1900.5,745.7 1901.3,745.8 1902.2,744.9 1903.0,744.9 1903.8,744.7 1904.7,745.8 1905.5,746.7 1906.3,745.9 1907.2,748.1 1908.0,744.4 1908.8,745.3 1909.7,746.4 1910.5,744.9 1911.3,746.2 1912.2,746.7 1913.0,746.2 1913.8,745.8 1914.7,746.9 1915.5,746.5 1916.3,746.8 1917.2,746.7 1918.0,745.7 1918.8,745.3 1919.7,746.0 1920.5,746.5 1921.3,746.2 1922.2,747.3 1923.0,746.7 1923.8,747.4 1924.7,746.7 1925.5,746.0 1926.3,747.4 1927.2,747.1 1928.0,746.0 1928.8,746.4 1929.7,749.2 1930.5,743.8 1931.3,747.8 1932.2,746.9 1933.0,746.9 1933.8,746.7 1934.7,746.5 1935.5,749.1 1936.3,746.7 1937.2,746.8 1938.0,747.8 1938.8,747.5 1939.7,747.0 1940.5,747.0 1941.3,746.1 1942.2,748.2 1943.0,746.4 1943.8,745.2 1944.7,748.3 1945.5,748.1 1946.3,747.7 1947.2,747.0 1948.0,748.5 1948.8,746.5 1949.7,745.6 1950.5,747.7 1951.3,748.3 1952.2,748.2 1953.0,749.5 1953.8,748.4 1954.7,747.5 1955.5,747.5 1956.3,748.5 1957.2,747.7 1958.0,747.6 1958.8,746.2 1959.7,747.5 1960.5,746.7 1961.3,748.0 1962.2,748.0 1963.0,748.5 1963.8,749.5 1964.7,747.7 1965.5,749.2 1966.3,746.9 1967.2,748.1 1968.0,748.8 1968.8,749.7 1969.7,747.0 1970.5,747.8 1971.3,748.1 1972.2,747.9 1973.0,747.2" fill="none" stroke="#cc2d72" stroke-width="3" stroke-linejoin="round" />
<line x1="1747.0" y1="697.0" x2="1732.9" y2="709.5" stroke="#cc2d72" stroke-width="1.6"/><path d="M1726.2,715.5 L1730.3,706.5 L1735.6,712.5 z" fill="#cc2d72"/>
<line x1="1756.5" y1="840.0" x2="1741.0" y2="852.4" stroke="#5ed6c8" stroke-width="1.6"/><path d="M1734.0,858.0 L1738.5,849.3 L1743.5,855.5 z" fill="#5ed6c8"/>
<line x1="1769.8" y1="947.3" x2="1754.8" y2="959.4" stroke="#8088c8" stroke-width="1.6"/><path d="M1747.8,965.0 L1752.3,956.2 L1757.3,962.5 z" fill="#8088c8"/>
<rect x="1390.4" y="619.8" width="582.6" height="429.7" fill="none" stroke="#000" stroke-width="3"/>
<path d="M1390.4 1051.0v8 M1487.5 1051.0v8 M1584.6 1051.0v8 M1681.7 1051.0v8 M1778.8 1051.0v8 M1875.9 1051.0v8 M1973.0 1051.0v8 M1439.0 1051.0v4 M1536.1 1051.0v4 M1633.2 1051.0v4 M1730.2 1051.0v4 M1827.3 1051.0v4 M1924.4 1051.0v4" stroke="#000" stroke-width="3" fill="none"/>
<text x="1390.4" y="1084.0" font-size="30" font-weight="bold" fill="#000" text-anchor="middle">0.50</text>
<text x="1487.5" y="1084.0" font-size="30" font-weight="bold" fill="#000" text-anchor="middle">0.75</text>
<text x="1584.6" y="1084.0" font-size="30" font-weight="bold" fill="#000" text-anchor="middle">1.00</text>
<text x="1681.7" y="1084.0" font-size="30" font-weight="bold" fill="#000" text-anchor="middle">1.25</text>
<text x="1778.8" y="1084.0" font-size="30" font-weight="bold" fill="#000" text-anchor="middle">1.50</text>
<text x="1875.9" y="1084.0" font-size="30" font-weight="bold" fill="#000" text-anchor="middle">1.75</text>
<text x="1973.0" y="1084.0" font-size="30" font-weight="bold" fill="#000" text-anchor="middle">2.00</text>
<path d="M79 1589h0M80 1594h0M80 1593h0M80 1588h0M80 1584h0M81 1587h0M81 1610h0M81 1594h0M81 1607h0M82 1603h0M82 1598h0M82 1593h0M82 1582h0M83 1610h0M83 1606h0M83 1593h0M83 1589h0M84 1601h0M84 1592h0M84 1600h0M84 1592h0M85 1595h0M85 1590h0M85 1590h0M85 1591h0M86 1596h0M86 1591h0M86 1577h0M86 1592h0M87 1572h0M87 1590h0M87 1582h0M88 1590h0M88 1582h0M88 1600h0M88 1593h0M89 1594h0M89 1590h0M89 1596h0M89 1592h0M90 1601h0M90 1596h0M90 1585h0M90 1584h0M91 1590h0M91 1596h0M91 1590h0M91 1584h0M92 1586h0M92 1590h0M92 1602h0M92 1585h0M93 1587h0M93 1594h0M93 1593h0M93 1594h0M94 1595h0M94 1596h0M94 1600h0M94 1590h0M95 1602h0M95 1592h0M95 1589h0M95 1589h0M96 1597h0M96 1600h0M96 1587h0M97 1597h0M97 1601h0M97 1576h0M97 1567h0M98 1597h0M98 1604h0M98 1594h0M98 1593h0M99 1589h0M99 1599h0M99 1599h0M99 1587h0M100 1591h0M100 1588h0M100 1594h0M100 1597h0M101 1601h0M101 1562h0M101 1622h0M101 1591h0M102 1600h0M102 1596h0M102 1593h0M102 1592h0M103 1595h0M103 1586h0M103 1589h0M103 1592h0M104 1595h0M104 1596h0M104 1590h0M104 1593h0M105 1578h0M105 1598h0M105 1601h0M106 1587h0M106 1597h0M106 1608h0M106 1582h0M107 1597h0M107 1590h0M107 1582h0M107 1595h0M108 1600h0M108 1584h0M108 1593h0M108 1600h0M109 1589h0M109 1595h0M109 1593h0M109 1582h0M110 1584h0M110 1589h0M110 1599h0M110 1583h0M111 1586h0M111 1588h0M111 1605h0M111 1595h0M112 1596h0M112 1588h0M112 1581h0M112 1579h0M113 1585h0M113 1594h0M113 1605h0M113 1581h0M114 1578h0M114 1598h0M114 1585h0M115 1593h0M115 1584h0M115 1600h0M115 1585h0M116 1610h0M116 1590h0M116 1587h0M116 1587h0M117 1610h0M117 1596h0M117 1607h0M117 1581h0M118 1587h0M118 1591h0M118 1602h0M118 1586h0M119 1602h0M119 1585h0M119 1582h0M119 1593h0M120 1593h0M120 1580h0M120 1582h0M120 1583h0M121 1597h0M121 1600h0M121 1598h0M121 1582h0M122 1596h0M122 1588h0M122 1593h0M122 1590h0M123 1589h0M123 1605h0M123 1592h0M124 1600h0M124 1585h0M124 1583h0M124 1588h0M125 1589h0M125 1591h0M125 1575h0M125 1593h0M126 1588h0M126 1603h0M126 1587h0M126 1600h0M127 1588h0M127 1585h0M127 1601h0M127 1582h0M128 1590h0M128 1596h0M128 1590h0M128 1583h0M129 1593h0M129 1595h0M129 1596h0M129 1588h0M130 1596h0M130 1588h0M130 1599h0M130 1592h0M131 1574h0M131 1586h0M131 1592h0M131 1593h0M132 1591h0M132 1585h0M132 1594h0M132 1571h0M133 1579h0M133 1582h0M133 1601h0M134 1600h0M134 1592h0M134 1599h0M134 1596h0M135 1587h0M135 1598h0M135 1591h0M135 1590h0M136 1579h0M136 1586h0M136 1595h0M136 1589h0M137 1601h0M137 1592h0M137 1600h0M137 1583h0M138 1597h0M138 1588h0M138 1601h0M138 1592h0M139 1594h0M139 1595h0M139 1585h0M139 1572h0M140 1587h0M140 1592h0M140 1603h0M140 1592h0M141 1597h0M141 1592h0M141 1593h0M141 1597h0M142 1591h0M142 1599h0M142 1606h0M143 1587h0M143 1587h0M143 1599h0M143 1598h0M144 1600h0M144 1591h0M144 1601h0M144 1595h0M145 1590h0M145 1600h0M145 1611h0M145 1582h0M146 1593h0M146 1583h0M146 1578h0M146 1594h0M147 1578h0M147 1588h0M147 1590h0M147 1586h0M148 1585h0M148 1581h0M148 1586h0M148 1586h0M149 1586h0M149 1591h0M149 1600h0M149 1598h0M150 1611h0M150 1597h0M150 1588h0M150 1614h0M151 1599h0M151 1591h0M151 1592h0M152 1592h0M152 1585h0M152 1599h0M152 1585h0M153 1586h0M153 1595h0M153 1591h0M153 1596h0M154 1597h0M154 1576h0M154 1578h0M154 1589h0M155 1597h0M155 1595h0M155 1595h0M155 1614h0M156 1594h0M156 1586h0M156 1591h0M156 1609h0M157 1582h0M157 1579h0M157 1588h0M157 1592h0M158 1595h0M158 1591h0M158 1598h0M158 1603h0M159 1593h0M159 1584h0M159 1590h0M159 1591h0M160 1595h0M160 1585h0M160 1601h0M161 1594h0M161 1602h0M161 1588h0M161 1588h0M162 1611h0M162 1578h0M162 1590h0M162 1590h0M163 1588h0M163 1584h0M163 1626h0M163 1589h0M164 1588h0M164 1594h0M164 1590h0M164 1584h0M165 1582h0M165 1592h0M165 1598h0M165 1592h0M166 1596h0M166 1596h0M166 1585h0M166 1598h0M167 1594h0M167 1608h0M167 1589h0M167 1587h0M168 1592h0M168 1577h0M168 1588h0M168 1595h0M169 1595h0M169 1598h0M169 1589h0M170 1586h0M170 1588h0M170 1584h0M170 1603h0M171 1585h0M171 1583h0M171 1605h0M171 1589h0M172 1601h0M172 1594h0M172 1588h0M172 1592h0M173 1601h0M173 1589h0M173 1578h0M173 1576h0M174 1581h0M174 1590h0M174 1597h0M174 1599h0M175 1601h0M175 1600h0M175 1595h0M175 1605h0M176 1593h0M176 1575h0M176 1597h0M176 1603h0M177 1590h0M177 1597h0M177 1596h0M177 1594h0M178 1587h0M178 1595h0M178 1589h0M178 1594h0M179 1586h0M179 1588h0M179 1599h0M180 1597h0M180 1596h0M180 1598h0M180 1586h0M181 1585h0M181 1586h0M181 1597h0M181 1591h0M182 1594h0M182 1604h0M182 1589h0M182 1600h0M183 1592h0M183 1590h0M183 1583h0M183 1559h0M184 1609h0M184 1594h0M184 1586h0M184 1601h0M185 1597h0M185 1598h0M185 1598h0M185 1579h0M186 1580h0M186 1590h0M186 1585h0M186 1592h0M187 1598h0M187 1583h0M187 1600h0M187 1577h0M188 1597h0M188 1596h0M188 1596h0M189 1597h0M189 1593h0M189 1592h0M189 1583h0M190 1589h0M190 1590h0M190 1594h0M190 1587h0M191 1582h0M191 1601h0M191 1579h0M191 1608h0M192 1602h0M192 1588h0M192 1579h0M192 1597h0M193 1588h0M193 1595h0M193 1630h0M193 1618h0M194 1578h0M194 1586h0M194 1596h0M194 1596h0M195 1604h0M195 1598h0M195 1601h0M195 1625h0M196 1597h0M196 1582h0M196 1605h0M196 1595h0M197 1589h0M197 1590h0M197 1587h0M198 1592h0M198 1580h0M198 1615h0M198 1584h0M199 1599h0M199 1588h0M199 1596h0M199 1601h0M200 1595h0M200 1592h0M200 1593h0M200 1590h0M201 1590h0M201 1595h0M201 1584h0M201 1586h0M202 1589h0M202 1564h0M202 1596h0M202 1591h0M203 1599h0M203 1584h0M203 1595h0M203 1593h0M204 1585h0M204 1591h0M204 1589h0M204 1587h0M205 1586h0M205 1598h0M205 1586h0M205 1598h0M206 1599h0M206 1596h0M206 1596h0M207 1581h0M207 1593h0M207 1597h0M207 1598h0M208 1601h0M208 1597h0M208 1591h0M208 1588h0M209 1587h0M209 1592h0M209 1614h0M209 1602h0M210 1588h0M210 1585h0M210 1587h0M210 1608h0M211 1600h0M211 1583h0M211 1602h0M211 1590h0M212 1593h0M212 1584h0M212 1597h0M212 1597h0M213 1586h0M213 1592h0M213 1582h0M213 1602h0M214 1586h0M214 1586h0M214 1585h0M214 1584h0M215 1593h0M215 1588h0M215 1596h0M215 1595h0M216 1600h0M216 1602h0M216 1587h0M217 1592h0M217 1585h0M217 1579h0M217 1597h0M218 1595h0M218 1587h0M218 1595h0M218 1592h0M219 1596h0M219 1575h0M219 1585h0M219 1599h0M220 1581h0M220 1589h0M220 1590h0M220 1587h0M221 1602h0M221 1593h0M221 1591h0M221 1588h0M222 1596h0M222 1598h0M222 1598h0M222 1578h0M223 1602h0M223 1595h0M223 1591h0M223 1599h0M224 1598h0M224 1598h0M224 1571h0M224 1580h0M225 1603h0M225 1596h0M225 1604h0M226 1589h0M226 1591h0M226 1598h0M226 1583h0M227 1586h0M227 1597h0M227 1583h0M227 1596h0M228 1594h0M228 1593h0M228 1601h0M228 1589h0M229 1600h0M229 1592h0M229 1587h0M229 1587h0M230 1588h0M230 1582h0M230 1600h0M230 1593h0M231 1597h0M231 1586h0M231 1591h0M231 1587h0M232 1597h0M232 1590h0M232 1603h0M232 1581h0M233 1578h0M233 1581h0M233 1598h0M233 1584h0M234 1595h0M234 1592h0M234 1588h0M235 1598h0M235 1595h0M235 1590h0M235 1597h0M236 1578h0M236 1600h0M236 1588h0M236 1585h0M237 1592h0M237 1596h0M237 1592h0M237 1595h0M238 1591h0M238 1588h0M238 1603h0M238 1599h0M239 1578h0M239 1596h0M239 1586h0M239 1588h0M240 1595h0M240 1599h0M240 1603h0M240 1600h0M241 1588h0M241 1588h0M241 1587h0M241 1590h0M242 1603h0M242 1595h0M242 1594h0M242 1570h0M243 1594h0M243 1587h0M243 1588h0M244 1595h0M244 1597h0M244 1587h0M244 1586h0M245 1593h0M245 1587h0M245 1603h0M245 1589h0M246 1580h0M246 1592h0M246 1588h0M246 1591h0M247 1592h0M247 1600h0M247 1601h0M247 1589h0M248 1579h0M248 1577h0M248 1604h0M248 1591h0M249 1601h0M249 1589h0M249 1593h0M249 1597h0M250 1589h0M250 1591h0M250 1595h0M250 1583h0M251 1585h0M251 1596h0M251 1589h0M251 1590h0M252 1581h0M252 1595h0M252 1595h0M253 1606h0M253 1592h0M253 1590h0M253 1598h0M254 1592h0M254 1603h0M254 1578h0M254 1591h0M255 1598h0M255 1601h0M255 1596h0M255 1602h0M256 1583h0M256 1593h0M256 1596h0M256 1604h0M257 1583h0M257 1604h0M257 1592h0M257 1598h0M258 1565h0M258 1578h0M258 1588h0M258 1594h0M259 1588h0M259 1588h0M259 1593h0M259 1591h0M260 1591h0M260 1596h0M260 1589h0M260 1582h0M261 1585h0M261 1594h0M261 1583h0M261 1588h0M262 1596h0M262 1587h0M262 1588h0M263 1581h0M263 1598h0M263 1597h0M263 1590h0M264 1597h0M264 1588h0M264 1584h0M264 1582h0M265 1586h0M265 1586h0M265 1595h0M265 1590h0M266 1599h0M266 1594h0M266 1585h0M266 1582h0M267 1591h0M267 1599h0M267 1592h0M267 1602h0M268 1600h0M268 1590h0M268 1588h0M268 1589h0M269 1591h0M269 1595h0M269 1594h0M269 1585h0M270 1593h0M270 1591h0M270 1597h0M270 1584h0M271 1602h0M271 1593h0M271 1589h0M272 1590h0M272 1587h0M272 1595h0M272 1599h0M273 1581h0M273 1594h0M273 1599h0M273 1604h0M274 1592h0M274 1578h0M274 1594h0M274 1595h0M275 1593h0M275 1595h0M275 1604h0M275 1595h0M276 1593h0M276 1592h0M276 1582h0M276 1584h0M277 1581h0M277 1604h0M277 1593h0M277 1585h0M278 1590h0M278 1593h0M278 1589h0M278 1582h0M279 1595h0M279 1599h0M279 1588h0M279 1584h0M280 1591h0M280 1592h0M280 1598h0M281 1579h0M281 1599h0M281 1592h0M281 1594h0M282 1599h0M282 1588h0M282 1587h0M282 1596h0M283 1590h0M283 1584h0M283 1596h0M283 1591h0M284 1590h0M284 1595h0M284 1588h0M284 1602h0M285 1586h0M285 1603h0M285 1588h0M285 1593h0M286 1591h0M286 1606h0M286 1586h0M286 1591h0M287 1592h0M287 1586h0M287 1576h0M287 1586h0M288 1604h0M288 1589h0M288 1599h0M288 1586h0M289 1579h0M289 1594h0M289 1597h0M290 1595h0M290 1592h0M290 1592h0M290 1600h0M291 1589h0M291 1593h0M291 1605h0M291 1598h0M292 1595h0M292 1607h0M292 1580h0M292 1580h0M293 1587h0M293 1591h0M293 1603h0M293 1587h0M294 1577h0M294 1603h0M294 1591h0M294 1593h0M295 1590h0M295 1604h0M295 1587h0M295 1596h0M296 1598h0M296 1581h0M296 1593h0M296 1616h0M297 1598h0M297 1591h0M297 1590h0M297 1595h0M298 1605h0M298 1594h0M298 1609h0M299 1597h0M299 1595h0M299 1595h0M299 1595h0M300 1569h0M300 1610h0M300 1594h0M300 1594h0M301 1593h0M301 1595h0M301 1593h0M301 1600h0M302 1585h0M302 1601h0M302 1602h0M302 1590h0M303 1596h0M303 1581h0M303 1601h0M303 1601h0M304 1588h0M304 1593h0M304 1608h0M304 1600h0M305 1602h0M305 1586h0M305 1594h0M305 1588h0M306 1608h0M306 1591h0M306 1602h0M306 1573h0M307 1586h0M307 1597h0M307 1588h0M307 1607h0M308 1596h0M308 1600h0M308 1598h0M309 1592h0M309 1590h0M309 1591h0M309 1598h0M310 1592h0M310 1605h0M310 1606h0M310 1588h0M311 1598h0M311 1583h0M311 1585h0M311 1586h0M312 1584h0M312 1590h0M312 1591h0M312 1591h0M313 1585h0M313 1592h0M313 1593h0M313 1600h0M314 1590h0M314 1576h0M314 1592h0M314 1583h0M315 1597h0M315 1586h0M315 1606h0M315 1580h0M316 1589h0M316 1608h0M316 1598h0M316 1594h0M317 1598h0M317 1602h0M317 1586h0M318 1594h0M318 1603h0M318 1600h0M318 1588h0M319 1595h0M319 1596h0M319 1584h0M319 1601h0M320 1602h0M320 1582h0M320 1589h0M320 1587h0M321 1582h0M321 1587h0M321 1580h0M321 1598h0M322 1595h0M322 1581h0M322 1582h0M322 1598h0M323 1589h0M323 1602h0M323 1593h0M323 1590h0M324 1593h0M324 1585h0M324 1603h0M324 1594h0M325 1610h0M325 1590h0M325 1600h0M325 1585h0M326 1591h0M326 1585h0M326 1586h0M327 1586h0M327 1593h0M327 1598h0M327 1596h0M328 1581h0M328 1601h0M328 1595h0M328 1590h0M329 1584h0M329 1590h0M329 1595h0M329 1582h0M330 1584h0M330 1601h0M330 1585h0M330 1594h0M331 1587h0M331 1587h0M331 1600h0M331 1586h0M332 1612h0M332 1597h0M332 1607h0M332 1592h0M333 1591h0M333 1592h0M333 1595h0M333 1587h0M334 1584h0M334 1604h0M334 1594h0M334 1589h0M335 1589h0M335 1599h0M335 1597h0M336 1606h0M336 1594h0M336 1602h0M336 1595h0M337 1589h0M337 1595h0M337 1594h0M337 1594h0M338 1601h0M338 1594h0M338 1584h0M338 1582h0M339 1586h0M339 1584h0M339 1588h0M339 1589h0M340 1604h0M340 1597h0M340 1598h0M340 1593h0M341 1590h0M341 1602h0M341 1614h0M341 1597h0M342 1585h0M342 1600h0M342 1599h0M342 1592h0M343 1592h0M343 1602h0M343 1595h0M343 1589h0M344 1590h0M344 1582h0M344 1589h0M345 1584h0M345 1600h0M345 1592h0M345 1581h0M346 1601h0M346 1589h0M346 1588h0M346 1589h0M347 1583h0M347 1589h0M347 1596h0M347 1582h0M348 1590h0M348 1606h0M348 1595h0M348 1592h0M349 1592h0M349 1595h0M349 1596h0M349 1584h0M350 1588h0M350 1590h0M350 1589h0M350 1586h0M351 1604h0M351 1588h0M351 1590h0M351 1591h0M352 1592h0M352 1605h0M352 1598h0M352 1605h0M353 1588h0M353 1600h0M353 1594h0M353 1596h0M354 1590h0M354 1588h0M354 1591h0M355 1589h0M355 1613h0M355 1614h0M355 1597h0M356 1594h0M356 1584h0M356 1596h0M356 1585h0M357 1599h0M357 1585h0M357 1598h0M357 1574h0M358 1602h0M358 1592h0M358 1595h0M358 1589h0M359 1589h0M359 1603h0M359 1590h0M359 1590h0M360 1590h0M360 1587h0M360 1581h0M360 1585h0M361 1580h0M361 1583h0M361 1602h0M361 1587h0M362 1591h0M362 1594h0M362 1588h0M362 1595h0M363 1589h0M363 1592h0M363 1590h0M364 1592h0M364 1597h0M364 1593h0M364 1591h0M365 1607h0M365 1592h0M365 1594h0M365 1587h0M366 1587h0M366 1583h0M366 1600h0M366 1604h0M367 1603h0M367 1600h0M367 1596h0M367 1591h0M368 1583h0M368 1582h0M368 1593h0M368 1595h0M369 1600h0M369 1603h0M369 1586h0M369 1587h0M370 1589h0M370 1603h0M370 1586h0M370 1586h0M371 1596h0M371 1591h0M371 1583h0M371 1599h0M372 1577h0M372 1589h0M372 1591h0M373 1587h0M373 1591h0M373 1595h0M373 1584h0M374 1583h0M374 1588h0M374 1589h0M374 1586h0M375 1591h0M375 1577h0M375 1591h0M375 1585h0M376 1591h0M376 1581h0M376 1603h0M376 1595h0M377 1589h0M377 1597h0M377 1597h0M377 1590h0M378 1589h0M378 1605h0M378 1592h0M378 1595h0M379 1585h0M379 1591h0M379 1581h0M379 1592h0M380 1585h0M380 1583h0M380 1585h0M380 1591h0M381 1596h0M381 1592h0M381 1584h0M382 1586h0M382 1590h0M382 1592h0M382 1587h0M383 1586h0M383 1593h0M383 1595h0M383 1592h0M384 1590h0M384 1578h0M384 1593h0M384 1595h0M385 1588h0M385 1583h0M385 1601h0M385 1606h0M386 1580h0M386 1585h0M386 1593h0M386 1582h0M387 1587h0M387 1592h0M387 1616h0M387 1582h0M388 1591h0M388 1585h0M388 1597h0M388 1585h0M389 1585h0M389 1589h0M389 1589h0M389 1598h0M390 1594h0M390 1590h0M390 1588h0M391 1585h0M391 1597h0M391 1586h0M391 1598h0M392 1622h0M392 1595h0M392 1589h0M392 1583h0M393 1574h0M393 1593h0M393 1597h0M393 1592h0M394 1580h0M394 1604h0M394 1587h0M394 1598h0M395 1595h0M395 1586h0M395 1601h0M395 1592h0M396 1590h0M396 1592h0M396 1588h0M396 1573h0M397 1603h0M397 1570h0M397 1600h0M397 1597h0M398 1592h0M398 1580h0M398 1596h0M398 1600h0M399 1575h0M399 1588h0M399 1583h0M399 1596h0M400 1584h0M400 1592h0M400 1599h0M401 1578h0M401 1588h0M401 1594h0M401 1605h0M402 1590h0M402 1599h0M402 1596h0M402 1603h0M403 1591h0M403 1612h0M403 1594h0M403 1597h0M404 1585h0M404 1588h0M404 1590h0M404 1592h0M405 1592h0M405 1588h0M405 1585h0M405 1589h0M406 1596h0M406 1585h0M406 1594h0M406 1591h0M407 1581h0M407 1588h0M407 1593h0M407 1613h0M408 1597h0M408 1587h0M408 1603h0M408 1594h0M409 1601h0M409 1596h0M409 1598h0M410 1586h0M410 1590h0M410 1583h0M410 1595h0M411 1589h0M411 1599h0M411 1597h0M411 1595h0M412 1590h0M412 1595h0M412 1592h0M412 1590h0M413 1593h0M413 1598h0M413 1594h0M413 1592h0M414 1590h0M414 1585h0M414 1592h0M414 1593h0M415 1580h0M415 1587h0M415 1578h0M415 1582h0M416 1595h0M416 1585h0M416 1600h0M416 1587h0M417 1588h0M417 1590h0M417 1594h0M417 1602h0M418 1587h0M418 1572h0M418 1605h0M419 1605h0M419 1604h0M419 1589h0M419 1607h0M420 1605h0M420 1603h0M420 1586h0M420 1592h0M421 1583h0M421 1593h0M421 1602h0M421 1597h0M422 1598h0M422 1600h0M422 1599h0M422 1589h0M423 1590h0M423 1596h0M423 1595h0M423 1599h0M424 1596h0M424 1595h0M424 1581h0M424 1618h0M425 1590h0M425 1599h0M425 1596h0M425 1600h0M426 1591h0M426 1609h0M426 1599h0M426 1596h0M427 1601h0M427 1585h0M427 1579h0M428 1576h0M428 1601h0M428 1591h0M428 1579h0M429 1588h0M429 1589h0M429 1603h0M429 1604h0M430 1598h0M430 1590h0M430 1592h0M430 1593h0M431 1590h0M431 1572h0M431 1582h0M431 1603h0M432 1609h0M432 1598h0M432 1580h0M432 1594h0M433 1588h0M433 1575h0M433 1595h0M433 1588h0M434 1588h0M434 1603h0M434 1598h0M434 1588h0M435 1603h0M435 1582h0M435 1589h0M435 1579h0M436 1587h0M436 1598h0M436 1596h0M437 1601h0M437 1590h0M437 1594h0M437 1587h0M438 1592h0M438 1589h0M438 1591h0M438 1590h0M439 1598h0M439 1588h0M439 1579h0M439 1597h0M440 1593h0M440 1597h0M440 1586h0M440 1602h0M441 1595h0M441 1596h0M441 1594h0M441 1589h0M442 1586h0M442 1583h0M442 1597h0M442 1601h0M443 1588h0M443 1588h0M443 1593h0M443 1580h0M444 1593h0M444 1596h0M444 1601h0M444 1594h0M445 1596h0M445 1589h0M445 1587h0M445 1578h0M446 1604h0M446 1588h0M446 1587h0M447 1590h0M447 1595h0M447 1594h0M447 1603h0M448 1598h0M448 1609h0M448 1585h0M448 1600h0M449 1580h0M449 1598h0M449 1597h0M449 1599h0M450 1587h0M450 1590h0M450 1586h0M450 1574h0M451 1589h0M451 1591h0M451 1583h0M451 1596h0M452 1589h0M452 1600h0M452 1623h0M452 1593h0M453 1596h0M453 1593h0M453 1568h0M453 1578h0M454 1597h0M454 1594h0M454 1587h0M454 1584h0M455 1586h0M455 1591h0M455 1591h0M456 1589h0M456 1584h0M456 1592h0M456 1582h0M457 1585h0M457 1572h0M457 1592h0M457 1596h0M458 1601h0M458 1596h0M458 1599h0M458 1596h0M459 1594h0M459 1592h0M459 1598h0M459 1599h0M460 1585h0M460 1594h0M460 1598h0M460 1592h0M461 1579h0M461 1592h0M461 1579h0M461 1594h0M462 1586h0M462 1597h0M462 1585h0M462 1600h0M463 1601h0M463 1585h0M463 1595h0M463 1600h0M464 1585h0M464 1578h0M464 1579h0M465 1589h0M465 1591h0M465 1596h0M465 1579h0M466 1600h0M466 1588h0M466 1591h0M466 1604h0M467 1597h0M467 1593h0M467 1580h0M467 1602h0M468 1587h0M468 1597h0M468 1595h0M468 1600h0M469 1583h0M469 1590h0M469 1592h0M469 1588h0M470 1576h0M470 1599h0M470 1597h0M470 1586h0M471 1572h0M471 1597h0M471 1582h0M471 1602h0M472 1593h0M472 1590h0M472 1585h0M472 1592h0M473 1590h0M473 1601h0M473 1583h0M474 1590h0M474 1614h0M474 1600h0M474 1589h0M475 1598h0M475 1584h0M475 1604h0M475 1586h0M476 1597h0M476 1590h0M476 1578h0M476 1599h0M477 1606h0M477 1594h0M477 1583h0M477 1583h0M478 1594h0M478 1592h0M478 1591h0M478 1591h0M479 1594h0M479 1594h0M479 1591h0M479 1578h0M480 1609h0M480 1593h0M480 1599h0M480 1598h0M481 1593h0M481 1603h0M481 1593h0M481 1602h0M482 1581h0M482 1597h0M482 1583h0M483 1589h0M483 1599h0M483 1599h0M483 1597h0M484 1590h0M484 1587h0M484 1588h0M484 1590h0M485 1594h0M485 1586h0M485 1591h0M485 1588h0M486 1573h0M486 1583h0M486 1592h0M486 1589h0M487 1595h0M487 1573h0M487 1595h0M487 1587h0M488 1590h0M488 1581h0M488 1607h0M488 1590h0M489 1599h0M489 1583h0M489 1593h0M489 1597h0M490 1601h0M490 1600h0M490 1595h0M490 1594h0M491 1590h0M491 1582h0M491 1596h0M491 1587h0M492 1589h0M492 1614h0M492 1577h0M493 1598h0M493 1589h0M493 1593h0M493 1592h0M494 1600h0M494 1591h0M494 1601h0M494 1583h0M495 1599h0M495 1588h0M495 1595h0M495 1577h0M496 1599h0M496 1579h0M496 1594h0M496 1592h0M497 1600h0M497 1607h0M497 1602h0M497 1599h0M498 1589h0M498 1596h0M498 1596h0M498 1595h0M499 1580h0M499 1593h0M499 1592h0M499 1588h0M500 1582h0M500 1595h0M500 1595h0M500 1583h0M501 1583h0M501 1592h0M501 1591h0M502 1595h0M502 1585h0M502 1605h0M502 1592h0M503 1587h0M503 1591h0M503 1598h0M503 1601h0M504 1600h0M504 1598h0M504 1595h0M504 1598h0M505 1595h0M505 1590h0M505 1601h0M505 1597h0M506 1587h0M506 1589h0M506 1592h0M506 1606h0M507 1562h0M507 1589h0M507 1597h0M507 1593h0M508 1603h0M508 1596h0M508 1577h0M508 1582h0M509 1601h0M509 1588h0M509 1582h0M509 1593h0M510 1589h0M510 1595h0M510 1597h0M511 1590h0M511 1606h0M511 1590h0M511 1589h0M512 1582h0M512 1595h0M512 1591h0M512 1594h0M513 1596h0M513 1594h0M513 1600h0M513 1585h0M514 1580h0M514 1583h0M514 1591h0M514 1609h0M515 1592h0M515 1599h0M515 1589h0M515 1589h0M516 1596h0M516 1599h0M516 1584h0M516 1585h0M517 1601h0M517 1618h0M517 1592h0M517 1590h0M518 1582h0M518 1596h0M518 1588h0M518 1587h0M519 1603h0M519 1603h0M519 1588h0M520 1583h0M520 1594h0M520 1584h0M520 1594h0M521 1584h0M521 1595h0M521 1590h0M521 1601h0M522 1601h0M522 1569h0M522 1592h0M522 1586h0M523 1589h0M523 1589h0M523 1592h0M523 1594h0M524 1595h0M524 1565h0M524 1599h0M524 1595h0M525 1582h0M525 1591h0M525 1583h0M525 1590h0M526 1601h0M526 1589h0M526 1593h0M526 1583h0M527 1599h0M527 1600h0M527 1592h0M527 1582h0M528 1596h0M528 1593h0M528 1592h0M529 1590h0M529 1584h0M529 1605h0M529 1584h0M530 1589h0M530 1588h0M530 1594h0M530 1577h0M531 1606h0M531 1587h0M531 1590h0M531 1590h0M532 1589h0M532 1603h0M532 1608h0M532 1605h0M533 1575h0M533 1594h0M533 1598h0M533 1605h0M534 1603h0M534 1597h0M534 1584h0M534 1588h0M535 1589h0M535 1582h0M535 1583h0M535 1599h0M536 1606h0M536 1601h0M536 1598h0M536 1608h0M537 1605h0M537 1595h0M537 1591h0M537 1599h0M538 1579h0M538 1585h0M538 1588h0M539 1590h0M539 1608h0M539 1592h0M539 1584h0M540 1593h0M540 1582h0M540 1597h0M540 1611h0M541 1583h0M541 1603h0M541 1590h0M541 1589h0M542 1597h0M542 1588h0M542 1625h0M542 1588h0M543 1589h0M543 1583h0M543 1593h0M543 1599h0M544 1590h0M544 1589h0M544 1586h0M544 1583h0M545 1598h0M545 1592h0M545 1594h0M545 1592h0M546 1591h0M546 1584h0M546 1588h0M546 1596h0M547 1594h0M547 1594h0M547 1597h0M548 1610h0M548 1588h0M548 1599h0M548 1585h0M549 1595h0M549 1590h0M549 1591h0M549 1592h0M550 1590h0M550 1579h0M550 1598h0M550 1591h0M551 1597h0M551 1595h0M551 1600h0M551 1588h0M552 1606h0M552 1596h0M552 1595h0M552 1592h0M553 1589h0M553 1597h0M553 1599h0M553 1605h0M554 1598h0M554 1593h0M554 1594h0M554 1591h0M555 1590h0M555 1594h0M555 1607h0M555 1585h0M556 1590h0M556 1591h0M556 1583h0M557 1603h0M557 1586h0M557 1599h0M557 1607h0M558 1589h0M558 1594h0M558 1582h0M558 1606h0M559 1585h0M559 1595h0M559 1581h0M559 1588h0M560 1587h0M560 1592h0M560 1598h0M560 1598h0M561 1594h0M561 1600h0M561 1595h0M561 1597h0M562 1597h0M562 1577h0M562 1590h0M562 1580h0M563 1597h0M563 1586h0M563 1584h0M563 1584h0M564 1601h0M564 1588h0M564 1580h0M564 1604h0M565 1583h0M565 1590h0M565 1600h0M566 1577h0M566 1598h0M566 1595h0M566 1593h0M567 1598h0M567 1589h0M567 1585h0M567 1586h0M568 1592h0M568 1596h0M568 1583h0M568 1586h0M569 1583h0M569 1581h0M569 1597h0M569 1581h0M570 1601h0M570 1588h0M570 1591h0M570 1589h0M571 1595h0M571 1590h0M571 1591h0M571 1595h0M572 1585h0M572 1591h0M572 1587h0M572 1590h0M573 1621h0M573 1589h0M573 1583h0M573 1592h0M574 1600h0M574 1598h0M574 1583h0M575 1595h0M575 1601h0M575 1597h0M575 1579h0M576 1586h0M576 1584h0M576 1599h0M576 1591h0M577 1588h0M577 1601h0M577 1593h0M577 1594h0M578 1601h0M578 1603h0M578 1589h0M578 1581h0M579 1583h0M579 1592h0M579 1592h0M579 1591h0M580 1599h0M580 1591h0M580 1585h0M580 1600h0M581 1581h0M581 1579h0M581 1599h0M581 1601h0M582 1601h0M582 1586h0M582 1596h0M582 1594h0M583 1601h0M583 1600h0M583 1590h0M583 1589h0M584 1585h0M584 1591h0M584 1587h0M585 1597h0M585 1599h0M585 1567h0M585 1597h0M586 1593h0M586 1592h0M586 1598h0M586 1583h0M587 1588h0M587 1594h0M587 1592h0M587 1585h0M588 1603h0M588 1595h0M588 1612h0M588 1598h0M589 1595h0M589 1597h0M589 1604h0M589 1589h0M590 1587h0M590 1588h0M590 1599h0M590 1600h0M591 1580h0M591 1594h0M591 1593h0M591 1599h0M592 1590h0M592 1597h0M592 1589h0M592 1589h0M593 1581h0M593 1593h0M593 1593h0M594 1586h0M594 1599h0M594 1602h0M594 1598h0M595 1591h0M595 1595h0M595 1600h0M595 1593h0M596 1595h0M596 1590h0M596 1594h0M596 1600h0M597 1589h0M597 1594h0M597 1587h0M597 1585h0M598 1592h0M598 1589h0M598 1594h0M598 1596h0M599 1584h0M599 1592h0M599 1597h0M599 1592h0M600 1602h0M600 1577h0M600 1601h0M600 1601h0M601 1580h0M601 1576h0M601 1600h0M601 1589h0M602 1603h0M602 1597h0M602 1586h0M603 1586h0M603 1592h0M603 1601h0M603 1598h0M604 1592h0M604 1581h0M604 1586h0M604 1595h0M605 1592h0M605 1581h0M605 1593h0M605 1579h0M606 1592h0M606 1592h0M606 1591h0M606 1596h0M607 1594h0M607 1596h0M607 1586h0M607 1587h0M608 1600h0M608 1596h0M608 1600h0M608 1578h0M609 1600h0M609 1597h0M609 1584h0M609 1599h0M610 1586h0M610 1590h0M610 1584h0M610 1594h0M611 1576h0M611 1599h0M611 1591h0M612 1586h0M612 1592h0M612 1589h0M612 1601h0M613 1595h0M613 1580h0M613 1601h0M613 1588h0M614 1584h0M614 1588h0M614 1581h0M614 1575h0M615 1578h0M615 1585h0M615 1584h0M615 1587h0M616 1595h0M616 1586h0M616 1598h0M616 1603h0M617 1600h0M617 1597h0M617 1593h0M617 1587h0M618 1589h0M618 1590h0M618 1597h0M618 1593h0M619 1597h0M619 1571h0M619 1583h0M619 1593h0M620 1585h0M620 1576h0M620 1597h0M621 1593h0M621 1586h0M621 1595h0M621 1578h0M622 1610h0M622 1597h0M622 1588h0M622 1593h0M623 1588h0M623 1578h0M623 1592h0M623 1590h0M624 1582h0M624 1598h0M624 1600h0M624 1595h0M625 1605h0M625 1595h0M625 1587h0M625 1606h0M626 1595h0M626 1595h0M626 1587h0M626 1582h0M627 1592h0M627 1590h0M627 1595h0M627 1586h0M628 1575h0M628 1585h0M628 1606h0M628 1584h0M629 1597h0M629 1593h0M629 1584h0M629 1593h0M630 1588h0M630 1598h0M630 1594h0M631 1585h0M631 1589h0M631 1594h0M631 1584h0M632 1591h0M632 1602h0M632 1592h0M632 1591h0M633 1593h0M633 1592h0M633 1593h0M633 1575h0M634 1583h0M634 1583h0M634 1583h0M634 1584h0M635 1605h0M635 1593h0M635 1593h0M635 1588h0M636 1586h0M636 1591h0M636 1595h0M636 1591h0M637 1602h0M637 1596h0M637 1575h0M637 1609h0M638 1585h0M638 1593h0M638 1611h0M638 1595h0M639 1584h0M639 1602h0M639 1584h0M640 1608h0M640 1601h0M640 1567h0M640 1601h0M641 1602h0M641 1591h0M641 1580h0M641 1600h0M642 1597h0M642 1579h0M642 1571h0M642 1588h0M643 1587h0M643 1586h0M643 1600h0M643 1604h0M644 1617h0M644 1593h0M644 1583h0M644 1582h0" stroke="#5a5fb2" stroke-width="4.5" stroke-linecap="square" fill="none"/>
<path d="M79 1525h0M80 1507h0M80 1509h0M80 1504h0M80 1476h0M81 1475h0M81 1503h0M81 1495h0M81 1515h0M82 1504h0M82 1496h0M82 1501h0M82 1502h0M83 1520h0M83 1496h0M83 1503h0M83 1494h0M84 1503h0M84 1504h0M84 1502h0M84 1517h0M85 1552h0M85 1512h0M85 1506h0M85 1494h0M86 1499h0M86 1502h0M86 1510h0M86 1506h0M87 1493h0M87 1507h0M87 1521h0M88 1506h0M88 1488h0M88 1495h0M88 1511h0M89 1514h0M89 1470h0M89 1512h0M89 1519h0M90 1517h0M90 1486h0M90 1501h0M90 1516h0M91 1509h0M91 1497h0M91 1490h0M91 1500h0M92 1506h0M92 1489h0M92 1499h0M92 1514h0M93 1515h0M93 1502h0M93 1515h0M93 1499h0M94 1493h0M94 1493h0M94 1488h0M94 1495h0M95 1496h0M95 1523h0M95 1511h0M95 1525h0M96 1488h0M96 1507h0M96 1505h0M97 1484h0M97 1506h0M97 1466h0M97 1508h0M98 1528h0M98 1500h0M98 1498h0M98 1500h0M99 1482h0M99 1496h0M99 1490h0M99 1501h0M100 1495h0M100 1502h0M100 1504h0M100 1512h0M101 1486h0M101 1490h0M101 1514h0M101 1511h0M102 1490h0M102 1526h0M102 1467h0M102 1493h0M103 1494h0M103 1503h0M103 1483h0M103 1498h0M104 1507h0M104 1510h0M104 1476h0M104 1527h0M105 1490h0M105 1508h0M105 1518h0M106 1516h0M106 1489h0M106 1499h0M106 1495h0M107 1488h0M107 1489h0M107 1499h0M107 1495h0M108 1503h0M108 1494h0M108 1525h0M108 1478h0M109 1490h0M109 1490h0M109 1498h0M109 1506h0M110 1504h0M110 1511h0M110 1500h0M110 1512h0M111 1495h0M111 1488h0M111 1524h0M111 1492h0M112 1479h0M112 1488h0M112 1498h0M112 1511h0M113 1493h0M113 1493h0M113 1499h0M113 1504h0M114 1486h0M114 1499h0M114 1489h0M115 1500h0M115 1501h0M115 1507h0M115 1515h0M116 1490h0M116 1485h0M116 1497h0M116 1496h0M117 1496h0M117 1505h0M117 1497h0M117 1505h0M118 1496h0M118 1494h0M118 1486h0M118 1503h0M119 1496h0M119 1509h0M119 1502h0M119 1489h0M120 1487h0M120 1494h0M120 1505h0M120 1480h0M121 1497h0M121 1495h0M121 1481h0M121 1497h0M122 1498h0M122 1482h0M122 1482h0M122 1497h0M123 1502h0M123 1497h0M123 1474h0M124 1481h0M124 1499h0M124 1482h0M124 1505h0M125 1505h0M125 1484h0M125 1496h0M125 1501h0M126 1498h0M126 1488h0M126 1490h0M126 1492h0M127 1510h0M127 1499h0M127 1497h0M127 1495h0M128 1489h0M128 1486h0M128 1490h0M128 1484h0M129 1496h0M129 1487h0M129 1486h0M129 1483h0M130 1476h0M130 1493h0M130 1492h0M130 1483h0M131 1488h0M131 1478h0M131 1495h0M131 1500h0M132 1479h0M132 1487h0M132 1488h0M132 1503h0M133 1491h0M133 1494h0M133 1483h0M134 1498h0M134 1452h0M134 1479h0M134 1477h0M135 1485h0M135 1494h0M135 1503h0M135 1508h0M136 1478h0M136 1482h0M136 1482h0M136 1482h0M137 1492h0M137 1468h0M137 1494h0M137 1489h0M138 1505h0M138 1472h0M138 1496h0M138 1485h0M139 1481h0M139 1498h0M139 1498h0M139 1474h0M140 1497h0M140 1485h0M140 1484h0M140 1483h0M141 1487h0M141 1481h0M141 1489h0M141 1461h0M142 1498h0M142 1491h0M142 1481h0M143 1491h0M143 1485h0M143 1478h0M143 1498h0M144 1511h0M144 1454h0M144 1501h0M144 1487h0M145 1506h0M145 1478h0M145 1485h0M145 1484h0M146 1492h0M146 1494h0M146 1490h0M146 1474h0M147 1495h0M147 1498h0M147 1493h0M147 1482h0M148 1495h0M148 1479h0M148 1488h0M148 1501h0M149 1469h0M149 1473h0M149 1461h0M149 1505h0M150 1486h0M150 1489h0M150 1470h0M150 1483h0M151 1475h0M151 1486h0M151 1473h0M152 1490h0M152 1500h0M152 1508h0M152 1474h0M153 1479h0M153 1473h0M153 1465h0M153 1470h0M154 1481h0M154 1493h0M154 1496h0M154 1473h0M155 1489h0M155 1480h0M155 1477h0M155 1493h0M156 1493h0M156 1492h0M156 1485h0M156 1485h0M157 1485h0M157 1488h0M157 1481h0M157 1487h0M158 1483h0M158 1497h0M158 1471h0M158 1477h0M159 1483h0M159 1481h0M159 1486h0M159 1462h0M160 1497h0M160 1460h0M160 1467h0M161 1495h0M161 1465h0M161 1482h0M161 1480h0M162 1476h0M162 1484h0M162 1469h0M162 1463h0M163 1474h0M163 1478h0M163 1482h0M163 1489h0M164 1496h0M164 1485h0M164 1479h0M164 1485h0M165 1467h0M165 1472h0M165 1471h0M165 1462h0M166 1487h0M166 1472h0M166 1489h0M166 1468h0M167 1506h0M167 1499h0M167 1481h0M167 1485h0M168 1459h0M168 1468h0M168 1481h0M168 1467h0M169 1463h0M169 1470h0M169 1486h0M170 1493h0M170 1466h0M170 1492h0M170 1464h0M171 1478h0M171 1477h0M171 1457h0M171 1495h0M172 1448h0M172 1477h0M172 1488h0M172 1470h0M173 1507h0M173 1492h0M173 1481h0M173 1498h0M174 1465h0M174 1463h0M174 1473h0M174 1474h0M175 1471h0M175 1492h0M175 1480h0M175 1466h0M176 1469h0M176 1481h0M176 1463h0M176 1480h0M177 1465h0M177 1475h0M177 1478h0M177 1443h0M178 1470h0M178 1471h0M178 1477h0M178 1483h0M179 1474h0M179 1460h0M179 1470h0M180 1465h0M180 1468h0M180 1485h0M180 1484h0M181 1487h0M181 1466h0M181 1461h0M181 1464h0M182 1474h0M182 1468h0M182 1461h0M182 1473h0M183 1487h0M183 1493h0M183 1478h0M183 1496h0M184 1468h0M184 1483h0M184 1458h0M184 1465h0M185 1479h0M185 1485h0M185 1475h0M185 1468h0M186 1477h0M186 1490h0M186 1489h0M186 1464h0M187 1480h0M187 1467h0M187 1481h0M187 1485h0M188 1481h0M188 1497h0M188 1453h0M189 1475h0M189 1454h0M189 1468h0M189 1450h0M190 1487h0M190 1494h0M190 1469h0M190 1462h0M191 1462h0M191 1504h0M191 1484h0M191 1462h0M192 1473h0M192 1472h0M192 1483h0M192 1466h0M193 1453h0M193 1464h0M193 1478h0M193 1472h0M194 1466h0M194 1458h0M194 1466h0M194 1479h0M195 1497h0M195 1466h0M195 1492h0M195 1469h0M196 1486h0M196 1470h0M196 1470h0M196 1467h0M197 1478h0M197 1477h0M197 1462h0M198 1490h0M198 1467h0M198 1466h0M198 1484h0M199 1463h0M199 1469h0M199 1474h0M199 1481h0M200 1454h0M200 1461h0M200 1445h0M200 1477h0M201 1474h0M201 1453h0M201 1474h0M201 1464h0M202 1477h0M202 1459h0M202 1460h0M202 1467h0M203 1481h0M203 1456h0M203 1503h0M203 1462h0M204 1453h0M204 1472h0M204 1457h0M204 1477h0M205 1479h0M205 1540h0M205 1475h0M205 1464h0M206 1473h0M206 1464h0M206 1468h0M207 1473h0M207 1485h0M207 1465h0M207 1478h0M208 1487h0M208 1472h0M208 1482h0M208 1466h0M209 1473h0M209 1475h0M209 1467h0M209 1486h0M210 1483h0M210 1471h0M210 1469h0M210 1470h0M211 1476h0M211 1476h0M211 1491h0M211 1477h0M212 1470h0M212 1466h0M212 1461h0M212 1451h0M213 1473h0M213 1462h0M213 1465h0M213 1497h0M214 1453h0M214 1448h0M214 1477h0M214 1450h0M215 1463h0M215 1469h0M215 1466h0M215 1466h0M216 1469h0M216 1470h0M216 1461h0M217 1457h0M217 1466h0M217 1489h0M217 1468h0M218 1475h0M218 1474h0M218 1459h0M218 1477h0M219 1463h0M219 1439h0M219 1448h0M219 1476h0M220 1489h0M220 1476h0M220 1481h0M220 1456h0M221 1439h0M221 1488h0M221 1479h0M221 1451h0M222 1471h0M222 1469h0M222 1467h0M222 1457h0M223 1473h0M223 1477h0M223 1454h0M223 1473h0M224 1453h0M224 1476h0M224 1467h0M224 1479h0M225 1474h0M225 1451h0M225 1458h0M226 1470h0M226 1476h0M226 1482h0M226 1456h0M227 1468h0M227 1496h0M227 1471h0M227 1459h0M228 1450h0M228 1474h0M228 1480h0M228 1461h0M229 1479h0M229 1482h0M229 1485h0M229 1477h0M230 1452h0M230 1462h0M230 1480h0M230 1455h0M231 1487h0M231 1477h0M231 1467h0M231 1450h0M232 1461h0M232 1454h0M232 1458h0M232 1475h0M233 1495h0M233 1459h0M233 1461h0M233 1493h0M234 1471h0M234 1474h0M234 1463h0M235 1488h0M235 1472h0M235 1479h0M235 1480h0M236 1488h0M236 1475h0M236 1464h0M236 1477h0M237 1470h0M237 1452h0M237 1464h0M237 1454h0M238 1469h0M238 1466h0M238 1474h0M238 1453h0M239 1454h0M239 1473h0M239 1483h0M239 1465h0M240 1466h0M240 1464h0M240 1476h0M240 1464h0M241 1455h0M241 1459h0M241 1476h0M241 1473h0M242 1471h0M242 1470h0M242 1470h0M242 1482h0M243 1483h0M243 1482h0M243 1473h0M244 1481h0M244 1465h0M244 1469h0M244 1471h0M245 1466h0M245 1459h0M245 1461h0M245 1480h0M246 1465h0M246 1472h0M246 1468h0M246 1475h0M247 1470h0M247 1485h0M247 1475h0M247 1460h0M248 1473h0M248 1461h0M248 1468h0M248 1482h0M249 1458h0M249 1479h0M249 1472h0M249 1484h0M250 1473h0M250 1483h0M250 1474h0M250 1486h0M251 1458h0M251 1465h0M251 1475h0M251 1474h0M252 1493h0M252 1465h0M252 1457h0M253 1487h0M253 1467h0M253 1456h0M253 1464h0M254 1466h0M254 1470h0M254 1498h0M254 1472h0M255 1481h0M255 1479h0M255 1468h0M255 1475h0M256 1495h0M256 1469h0M256 1465h0M256 1481h0M257 1465h0M257 1469h0M257 1485h0M257 1470h0M258 1477h0M258 1471h0M258 1491h0M258 1458h0M259 1445h0M259 1476h0M259 1472h0M259 1506h0M260 1477h0M260 1477h0M260 1484h0M260 1477h0M261 1483h0M261 1466h0M261 1473h0M261 1492h0M262 1463h0M262 1472h0M262 1481h0M263 1485h0M263 1477h0M263 1484h0M263 1486h0M264 1478h0M264 1469h0M264 1482h0M264 1471h0M265 1471h0M265 1491h0M265 1483h0M265 1466h0M266 1448h0M266 1469h0M266 1481h0M266 1485h0M267 1476h0M267 1500h0M267 1448h0M267 1467h0M268 1477h0M268 1489h0M268 1483h0M268 1482h0M269 1493h0M269 1490h0M269 1496h0M269 1475h0M270 1522h0M270 1482h0M270 1467h0M270 1500h0M271 1486h0M271 1486h0M271 1478h0M272 1478h0M272 1487h0M272 1483h0M272 1471h0M273 1488h0M273 1481h0M273 1493h0M273 1489h0M274 1493h0M274 1473h0M274 1475h0M274 1492h0M275 1515h0M275 1491h0M275 1449h0M275 1480h0M276 1506h0M276 1487h0M276 1485h0M276 1489h0M277 1508h0M277 1492h0M277 1486h0M277 1483h0M278 1469h0M278 1473h0M278 1481h0M278 1460h0M279 1475h0M279 1484h0M279 1484h0M279 1508h0M280 1463h0M280 1482h0M280 1480h0M281 1487h0M281 1485h0M281 1476h0M281 1486h0M282 1481h0M282 1508h0M282 1481h0M282 1490h0M283 1495h0M283 1490h0M283 1483h0M283 1484h0M284 1483h0M284 1476h0M284 1486h0M284 1503h0M285 1501h0M285 1476h0M285 1495h0M285 1486h0M286 1484h0M286 1483h0M286 1495h0M286 1476h0M287 1477h0M287 1500h0M287 1467h0M287 1479h0M288 1491h0M288 1486h0M288 1483h0M288 1507h0M289 1497h0M289 1491h0M289 1498h0M290 1495h0M290 1484h0M290 1510h0M290 1503h0M291 1475h0M291 1505h0M291 1510h0M291 1499h0M292 1476h0M292 1467h0M292 1515h0M292 1502h0M293 1489h0M293 1491h0M293 1479h0M293 1488h0M294 1491h0M294 1474h0M294 1483h0M294 1478h0M295 1500h0M295 1516h0M295 1484h0M295 1501h0M296 1491h0M296 1487h0M296 1485h0M296 1502h0M297 1491h0M297 1471h0M297 1483h0M297 1487h0M298 1464h0M298 1500h0M298 1504h0M299 1480h0M299 1501h0M299 1496h0M299 1493h0M300 1481h0M300 1510h0M300 1494h0M300 1483h0M301 1498h0M301 1492h0M301 1481h0M301 1499h0M302 1495h0M302 1489h0M302 1491h0M302 1495h0M303 1501h0M303 1504h0M303 1493h0M303 1494h0M304 1479h0M304 1490h0M304 1484h0M304 1501h0M305 1505h0M305 1485h0M305 1521h0M305 1495h0M306 1503h0M306 1489h0M306 1476h0M306 1499h0M307 1483h0M307 1477h0M307 1489h0M307 1500h0M308 1473h0M308 1515h0M308 1496h0M309 1516h0M309 1481h0M309 1469h0M309 1491h0M310 1477h0M310 1493h0M310 1471h0M310 1502h0M311 1494h0M311 1500h0M311 1492h0M311 1478h0M312 1505h0M312 1507h0M312 1510h0M312 1488h0M313 1495h0M313 1515h0M313 1529h0M313 1494h0M314 1495h0M314 1504h0M314 1470h0M314 1510h0M315 1495h0M315 1495h0M315 1488h0M315 1506h0M316 1500h0M316 1496h0M316 1505h0M316 1489h0M317 1504h0M317 1486h0M317 1491h0M318 1515h0M318 1488h0M318 1487h0M318 1493h0M319 1498h0M319 1501h0M319 1497h0M319 1496h0M320 1496h0M320 1524h0M320 1479h0M320 1500h0M321 1506h0M321 1486h0M321 1503h0M321 1503h0M322 1467h0M322 1518h0M322 1508h0M322 1502h0M323 1488h0M323 1476h0M323 1511h0M323 1489h0M324 1509h0M324 1474h0M324 1472h0M324 1486h0M325 1505h0M325 1486h0M325 1464h0M325 1490h0M326 1496h0M326 1497h0M326 1501h0M327 1504h0M327 1495h0M327 1487h0M327 1541h0M328 1519h0M328 1502h0M328 1509h0M328 1490h0M329 1505h0M329 1508h0M329 1512h0M329 1498h0M330 1513h0M330 1484h0M330 1496h0M330 1487h0M331 1484h0M331 1499h0M331 1509h0M331 1490h0M332 1493h0M332 1492h0M332 1492h0M332 1507h0M333 1536h0M333 1482h0M333 1504h0M333 1503h0M334 1493h0M334 1479h0M334 1496h0M334 1530h0M335 1503h0M335 1503h0M335 1514h0M336 1492h0M336 1501h0M336 1495h0M336 1503h0M337 1492h0M337 1493h0M337 1487h0M337 1499h0M338 1500h0M338 1518h0M338 1503h0M338 1496h0M339 1510h0M339 1510h0M339 1494h0M339 1516h0M340 1495h0M340 1496h0M340 1502h0M340 1496h0M341 1492h0M341 1503h0M341 1493h0M341 1478h0M342 1514h0M342 1510h0M342 1502h0M342 1505h0M343 1501h0M343 1489h0M343 1482h0M343 1499h0M344 1498h0M344 1495h0M344 1500h0M345 1492h0M345 1523h0M345 1489h0M345 1514h0M346 1494h0M346 1513h0M346 1520h0M346 1455h0M347 1515h0M347 1505h0M347 1482h0M347 1480h0M348 1502h0M348 1509h0M348 1484h0M348 1512h0M349 1499h0M349 1487h0M349 1501h0M349 1525h0M350 1511h0M350 1503h0M350 1503h0M350 1495h0M351 1512h0M351 1516h0M351 1506h0M351 1516h0M352 1501h0M352 1508h0M352 1487h0M352 1512h0M353 1498h0M353 1509h0M353 1498h0M353 1482h0M354 1486h0M354 1507h0M354 1507h0M355 1487h0M355 1472h0M355 1485h0M355 1484h0M356 1506h0M356 1506h0M356 1502h0M356 1521h0M357 1506h0M357 1496h0M357 1492h0M357 1497h0M358 1501h0M358 1511h0M358 1494h0M358 1498h0M359 1480h0M359 1482h0M359 1501h0M359 1481h0M360 1511h0M360 1503h0M360 1501h0M360 1490h0M361 1486h0M361 1500h0M361 1502h0M361 1509h0M362 1467h0M362 1475h0M362 1506h0M362 1490h0M363 1502h0M363 1491h0M363 1492h0M364 1481h0M364 1506h0M364 1499h0M364 1493h0M365 1493h0M365 1501h0M365 1514h0M365 1514h0M366 1499h0M366 1488h0M366 1504h0M366 1516h0M367 1515h0M367 1506h0M367 1492h0M367 1495h0M368 1490h0M368 1502h0M368 1487h0M368 1498h0M369 1490h0M369 1477h0M369 1497h0M369 1493h0M370 1487h0M370 1483h0M370 1491h0M370 1492h0M371 1488h0M371 1490h0M371 1494h0M371 1487h0M372 1506h0M372 1501h0M372 1504h0M373 1487h0M373 1492h0M373 1499h0M373 1481h0M374 1490h0M374 1490h0M374 1504h0M374 1507h0M375 1515h0M375 1494h0M375 1527h0M375 1506h0M376 1521h0M376 1499h0M376 1497h0M376 1507h0M377 1507h0M377 1507h0M377 1494h0M377 1488h0M378 1499h0M378 1492h0M378 1501h0M378 1483h0M379 1492h0M379 1509h0M379 1500h0M379 1495h0M380 1496h0M380 1496h0M380 1502h0M380 1506h0M381 1498h0M381 1494h0M381 1510h0M382 1480h0M382 1489h0M382 1506h0M382 1494h0M383 1500h0M383 1495h0M383 1491h0M383 1495h0M384 1502h0M384 1486h0M384 1493h0M384 1477h0M385 1479h0M385 1495h0M385 1485h0M385 1488h0M386 1477h0M386 1495h0M386 1486h0M386 1496h0M387 1505h0M387 1490h0M387 1484h0M387 1529h0M388 1489h0M388 1508h0M388 1501h0M388 1508h0M389 1491h0M389 1477h0M389 1490h0M389 1497h0M390 1515h0M390 1486h0M390 1501h0M391 1481h0M391 1491h0M391 1507h0M391 1506h0M392 1500h0M392 1496h0M392 1500h0M392 1506h0M393 1494h0M393 1494h0M393 1497h0M393 1499h0M394 1476h0M394 1498h0M394 1491h0M394 1494h0M395 1487h0M395 1506h0M395 1503h0M395 1495h0M396 1527h0M396 1503h0M396 1509h0M396 1480h0M397 1501h0M397 1506h0M397 1487h0M397 1478h0M398 1517h0M398 1476h0M398 1524h0M398 1492h0M399 1487h0M399 1495h0M399 1511h0M399 1503h0M400 1473h0M400 1487h0M400 1496h0M401 1492h0M401 1472h0M401 1487h0M401 1505h0M402 1493h0M402 1487h0M402 1479h0M402 1531h0M403 1523h0M403 1452h0M403 1482h0M403 1494h0M404 1481h0M404 1477h0M404 1497h0M404 1492h0M405 1485h0M405 1496h0M405 1532h0M405 1521h0M406 1491h0M406 1485h0M406 1481h0M406 1498h0M407 1502h0M407 1496h0M407 1503h0M407 1494h0M408 1479h0M408 1487h0M408 1493h0M408 1495h0M409 1508h0M409 1481h0M409 1480h0M410 1505h0M410 1486h0M410 1501h0M410 1477h0M411 1491h0M411 1488h0M411 1477h0M411 1472h0M412 1482h0M412 1504h0M412 1481h0M412 1494h0M413 1495h0M413 1497h0M413 1465h0M413 1483h0M414 1478h0M414 1495h0M414 1510h0M414 1502h0M415 1498h0M415 1503h0M415 1501h0M415 1494h0M416 1500h0M416 1480h0M416 1492h0M416 1478h0M417 1483h0M417 1491h0M417 1505h0M417 1487h0M418 1497h0M418 1490h0M418 1504h0M419 1497h0M419 1484h0M419 1500h0M419 1493h0M420 1488h0M420 1508h0M420 1489h0M420 1482h0M421 1465h0M421 1510h0M421 1498h0M421 1452h0M422 1499h0M422 1475h0M422 1475h0M422 1498h0M423 1468h0M423 1481h0M423 1477h0M423 1485h0M424 1500h0M424 1508h0M424 1469h0M424 1476h0M425 1515h0M425 1496h0M425 1510h0M425 1508h0M426 1488h0M426 1479h0M426 1497h0M426 1492h0M427 1504h0M427 1492h0M427 1514h0M428 1469h0M428 1468h0M428 1481h0M428 1474h0M429 1488h0M429 1503h0M429 1501h0M429 1488h0M430 1491h0M430 1480h0M430 1486h0M430 1482h0M431 1468h0M431 1489h0M431 1474h0M431 1480h0M432 1478h0M432 1498h0M432 1482h0M432 1465h0M433 1483h0M433 1489h0M433 1490h0M433 1494h0M434 1493h0M434 1490h0M434 1500h0M434 1481h0M435 1490h0M435 1487h0M435 1471h0M435 1490h0M436 1481h0M436 1541h0M436 1484h0M437 1459h0M437 1488h0M437 1494h0M437 1481h0M438 1479h0M438 1481h0M438 1496h0M438 1477h0M439 1460h0M439 1467h0M439 1476h0M439 1484h0M440 1477h0M440 1450h0M440 1511h0M440 1477h0M441 1454h0M441 1475h0M441 1477h0M441 1487h0M442 1479h0M442 1482h0M442 1479h0M442 1487h0M443 1472h0M443 1474h0M443 1490h0M443 1472h0M444 1470h0M444 1483h0M444 1489h0M444 1482h0M445 1477h0M445 1464h0M445 1485h0M445 1493h0M446 1478h0M446 1469h0M446 1471h0M447 1473h0M447 1482h0M447 1479h0M447 1486h0M448 1518h0M448 1475h0M448 1473h0M448 1486h0M449 1467h0M449 1485h0M449 1476h0M449 1464h0M450 1469h0M450 1475h0M450 1506h0M450 1477h0M451 1465h0M451 1489h0M451 1467h0M451 1464h0M452 1482h0M452 1489h0M452 1500h0M452 1482h0M453 1470h0M453 1479h0M453 1493h0M453 1496h0M454 1469h0M454 1497h0M454 1476h0M454 1465h0M455 1485h0M455 1479h0M455 1461h0M456 1467h0M456 1478h0M456 1482h0M456 1465h0M457 1489h0M457 1468h0M457 1466h0M457 1485h0M458 1482h0M458 1473h0M458 1500h0M458 1481h0M459 1489h0M459 1472h0M459 1474h0M459 1470h0M460 1458h0M460 1484h0M460 1472h0M460 1487h0M461 1480h0M461 1491h0M461 1478h0M461 1487h0M462 1462h0M462 1468h0M462 1469h0M462 1496h0M463 1481h0M463 1470h0M463 1451h0M463 1464h0M464 1490h0M464 1470h0M464 1482h0M465 1456h0M465 1479h0M465 1486h0M465 1479h0M466 1464h0M466 1463h0M466 1499h0M466 1463h0M467 1458h0M467 1483h0M467 1462h0M467 1461h0M468 1472h0M468 1472h0M468 1459h0M468 1474h0M469 1487h0M469 1481h0M469 1485h0M469 1484h0M470 1474h0M470 1476h0M470 1462h0M470 1463h0M471 1465h0M471 1460h0M471 1495h0M471 1488h0M472 1456h0M472 1461h0M472 1474h0M472 1453h0M473 1477h0M473 1483h0M473 1460h0M474 1462h0M474 1468h0M474 1483h0M474 1473h0M475 1472h0M475 1470h0M475 1481h0M475 1476h0M476 1488h0M476 1508h0M476 1479h0M476 1463h0M477 1459h0M477 1471h0M477 1475h0M477 1473h0M478 1476h0M478 1473h0M478 1487h0M478 1479h0M479 1486h0M479 1480h0M479 1468h0M479 1473h0M480 1466h0M480 1473h0M480 1485h0M480 1472h0M481 1482h0M481 1484h0M481 1503h0M481 1460h0M482 1485h0M482 1456h0M482 1470h0M483 1468h0M483 1474h0M483 1481h0M483 1486h0M484 1450h0M484 1467h0M484 1478h0M484 1463h0M485 1450h0M485 1467h0M485 1464h0M485 1444h0M486 1476h0M486 1471h0M486 1478h0M486 1482h0M487 1471h0M487 1469h0M487 1461h0M487 1460h0M488 1477h0M488 1487h0M488 1471h0M488 1453h0M489 1461h0M489 1472h0M489 1471h0M489 1459h0M490 1471h0M490 1471h0M490 1454h0M490 1459h0M491 1476h0M491 1459h0M491 1467h0M491 1483h0M492 1478h0M492 1477h0M492 1456h0M493 1461h0M493 1438h0M493 1469h0M493 1478h0M494 1477h0M494 1481h0M494 1485h0M494 1468h0M495 1459h0M495 1492h0M495 1471h0M495 1472h0M496 1464h0M496 1468h0M496 1501h0M496 1450h0M497 1478h0M497 1473h0M497 1426h0M497 1465h0M498 1470h0M498 1465h0M498 1467h0M498 1465h0M499 1488h0M499 1460h0M499 1476h0M499 1475h0M500 1464h0M500 1454h0M500 1474h0M500 1460h0M501 1464h0M501 1460h0M501 1449h0M502 1464h0M502 1484h0M502 1486h0M502 1470h0M503 1523h0M503 1469h0M503 1473h0M503 1465h0M504 1474h0M504 1455h0M504 1442h0M504 1490h0M505 1472h0M505 1470h0M505 1476h0M505 1472h0M506 1500h0M506 1458h0M506 1463h0M506 1484h0M507 1511h0M507 1462h0M507 1455h0M507 1490h0M508 1481h0M508 1476h0M508 1454h0M508 1463h0M509 1457h0M509 1470h0M509 1464h0M509 1465h0M510 1493h0M510 1455h0M510 1481h0M511 1474h0M511 1478h0M511 1472h0M511 1481h0M512 1469h0M512 1483h0M512 1478h0M512 1460h0M513 1468h0M513 1491h0M513 1490h0M513 1461h0M514 1475h0M514 1489h0M514 1476h0M514 1464h0M515 1478h0M515 1473h0M515 1477h0M515 1477h0M516 1499h0M516 1478h0M516 1491h0M516 1491h0M517 1489h0M517 1418h0M517 1461h0M517 1460h0M518 1476h0M518 1472h0M518 1477h0M518 1467h0M519 1461h0M519 1490h0M519 1471h0M520 1471h0M520 1466h0M520 1449h0M520 1469h0M521 1470h0M521 1475h0M521 1464h0M521 1487h0M522 1484h0M522 1493h0M522 1442h0M522 1466h0M523 1480h0M523 1478h0M523 1477h0M523 1473h0M524 1485h0M524 1469h0M524 1434h0M524 1501h0M525 1444h0M525 1484h0M525 1475h0M525 1483h0M526 1474h0M526 1485h0M526 1487h0M526 1473h0M527 1469h0M527 1467h0M527 1474h0M527 1491h0M528 1495h0M528 1469h0M528 1466h0M529 1476h0M529 1422h0M529 1461h0M529 1469h0M530 1476h0M530 1484h0M530 1465h0M530 1486h0M531 1465h0M531 1485h0M531 1468h0M531 1471h0M532 1484h0M532 1482h0M532 1483h0M532 1473h0M533 1472h0M533 1489h0M533 1496h0M533 1480h0M534 1480h0M534 1467h0M534 1496h0M534 1472h0M535 1480h0M535 1491h0M535 1445h0M535 1472h0M536 1461h0M536 1471h0M536 1476h0M536 1460h0M537 1488h0M537 1502h0M537 1473h0M537 1476h0M538 1495h0M538 1481h0M538 1464h0M539 1483h0M539 1491h0M539 1491h0M539 1469h0M540 1493h0M540 1463h0M540 1475h0M540 1453h0M541 1505h0M541 1477h0M541 1474h0M541 1482h0M542 1479h0M542 1483h0M542 1503h0M542 1496h0M543 1473h0M543 1481h0M543 1477h0M543 1484h0M544 1466h0M544 1474h0M544 1461h0M544 1484h0M545 1471h0M545 1492h0M545 1480h0M545 1463h0M546 1489h0M546 1456h0M546 1511h0M546 1498h0M547 1498h0M547 1499h0M547 1467h0M548 1478h0M548 1472h0M548 1481h0M548 1452h0M549 1484h0M549 1479h0M549 1482h0M549 1443h0M550 1463h0M550 1481h0M550 1475h0M550 1475h0M551 1465h0M551 1489h0M551 1495h0M551 1466h0M552 1482h0M552 1458h0M552 1467h0M552 1467h0M553 1477h0M553 1479h0M553 1484h0M553 1481h0M554 1479h0M554 1465h0M554 1486h0M554 1469h0M555 1488h0M555 1472h0M555 1503h0M555 1473h0M556 1486h0M556 1493h0M556 1476h0M557 1478h0M557 1500h0M557 1492h0M557 1486h0M558 1476h0M558 1476h0M558 1464h0M558 1501h0M559 1483h0M559 1490h0M559 1498h0M559 1492h0M560 1482h0M560 1460h0M560 1463h0M560 1498h0M561 1489h0M561 1476h0M561 1492h0M561 1497h0M562 1477h0M562 1488h0M562 1480h0M562 1483h0M563 1494h0M563 1480h0M563 1474h0M563 1482h0M564 1503h0M564 1500h0M564 1494h0M564 1503h0M565 1484h0M565 1479h0M565 1460h0M566 1490h0M566 1491h0M566 1473h0M566 1513h0M567 1495h0M567 1469h0M567 1466h0M567 1488h0M568 1455h0M568 1472h0M568 1485h0M568 1485h0M569 1483h0M569 1499h0M569 1470h0M569 1484h0M570 1471h0M570 1486h0M570 1487h0M570 1510h0M571 1475h0M571 1488h0M571 1484h0M571 1504h0M572 1478h0M572 1472h0M572 1478h0M572 1477h0M573 1497h0M573 1484h0M573 1502h0M573 1476h0M574 1466h0M574 1480h0M574 1475h0M575 1510h0M575 1474h0M575 1496h0M575 1483h0M576 1480h0M576 1498h0M576 1480h0M576 1509h0M577 1495h0M577 1497h0M577 1462h0M577 1493h0M578 1500h0M578 1480h0M578 1488h0M578 1479h0M579 1485h0M579 1491h0M579 1468h0M579 1498h0M580 1482h0M580 1498h0M580 1475h0M580 1485h0M581 1486h0M581 1501h0M581 1489h0M581 1488h0M582 1499h0M582 1479h0M582 1470h0M582 1487h0M583 1496h0M583 1487h0M583 1477h0M583 1494h0M584 1486h0M584 1479h0M584 1492h0M585 1487h0M585 1471h0M585 1487h0M585 1494h0M586 1480h0M586 1473h0M586 1496h0M586 1501h0M587 1487h0M587 1491h0M587 1484h0M587 1490h0M588 1474h0M588 1485h0M588 1492h0M588 1482h0M589 1488h0M589 1490h0M589 1504h0M589 1484h0M590 1474h0M590 1481h0M590 1482h0M590 1495h0M591 1504h0M591 1476h0M591 1491h0M591 1495h0M592 1487h0M592 1488h0M592 1481h0M592 1503h0M593 1497h0M593 1478h0M593 1493h0M594 1476h0M594 1512h0M594 1501h0M594 1470h0M595 1487h0M595 1488h0M595 1515h0M595 1498h0M596 1499h0M596 1490h0M596 1493h0M596 1499h0M597 1494h0M597 1499h0M597 1491h0M597 1479h0M598 1496h0M598 1500h0M598 1476h0M598 1481h0M599 1486h0M599 1509h0M599 1499h0M599 1511h0M600 1468h0M600 1497h0M600 1510h0M600 1488h0M601 1498h0M601 1521h0M601 1498h0M601 1493h0M602 1504h0M602 1506h0M602 1495h0M603 1517h0M603 1476h0M603 1464h0M603 1488h0M604 1503h0M604 1482h0M604 1508h0M604 1491h0M605 1491h0M605 1489h0M605 1477h0M605 1493h0M606 1508h0M606 1509h0M606 1539h0M606 1510h0M607 1494h0M607 1483h0M607 1504h0M607 1496h0M608 1507h0M608 1472h0M608 1509h0M608 1526h0M609 1503h0M609 1481h0M609 1479h0M609 1508h0M610 1493h0M610 1507h0M610 1484h0M610 1493h0M611 1502h0M611 1482h0M611 1493h0M612 1516h0M612 1507h0M612 1509h0M612 1497h0M613 1486h0M613 1514h0M613 1526h0M613 1516h0M614 1480h0M614 1484h0M614 1497h0M614 1508h0M615 1483h0M615 1487h0M615 1494h0M615 1493h0M616 1498h0M616 1490h0M616 1497h0M616 1497h0M617 1485h0M617 1480h0M617 1489h0M617 1499h0M618 1523h0M618 1507h0M618 1503h0M618 1465h0M619 1477h0M619 1505h0M619 1491h0M619 1490h0M620 1506h0M620 1511h0M620 1504h0M621 1500h0M621 1478h0M621 1495h0M621 1480h0M622 1496h0M622 1482h0M622 1471h0M622 1494h0M623 1471h0M623 1490h0M623 1496h0M623 1476h0M624 1493h0M624 1497h0M624 1491h0M624 1501h0M625 1504h0M625 1505h0M625 1496h0M625 1493h0M626 1503h0M626 1508h0M626 1476h0M626 1507h0M627 1499h0M627 1495h0M627 1503h0M627 1506h0M628 1506h0M628 1490h0M628 1479h0M628 1503h0M629 1503h0M629 1502h0M629 1505h0M629 1483h0M630 1492h0M630 1519h0M630 1494h0M631 1498h0M631 1515h0M631 1508h0M631 1507h0M632 1503h0M632 1492h0M632 1504h0M632 1471h0M633 1482h0M633 1516h0M633 1511h0M633 1490h0M634 1505h0M634 1474h0M634 1491h0M634 1512h0M635 1508h0M635 1502h0M635 1500h0M635 1503h0M636 1523h0M636 1495h0M636 1503h0M636 1509h0M637 1491h0M637 1524h0M637 1480h0M637 1498h0M638 1496h0M638 1500h0M638 1487h0M638 1497h0M639 1504h0M639 1492h0M639 1510h0M640 1526h0M640 1499h0M640 1518h0M640 1491h0M641 1502h0M641 1497h0M641 1495h0M641 1481h0M642 1486h0M642 1507h0M642 1486h0M642 1501h0M643 1509h0M643 1495h0M643 1486h0M643 1525h0M644 1487h0M644 1504h0M644 1508h0M644 1507h0" stroke="#60d8cc" stroke-width="5" stroke-linecap="round" fill="none"/>
<path d="M79 1403h0M80 1347h0M80 1338h0M80 1371h0M80 1373h0M81 1377h0M81 1354h0M81 1375h0M81 1367h0M82 1418h0M82 1380h0M82 1373h0M82 1339h0M83 1370h0M83 1318h0M83 1354h0M83 1383h0M84 1374h0M84 1389h0M84 1355h0M84 1377h0M85 1396h0M85 1384h0M85 1371h0M85 1375h0M86 1383h0M86 1400h0M86 1373h0M86 1374h0M87 1389h0M87 1366h0M87 1373h0M88 1387h0M88 1383h0M88 1377h0M88 1384h0M89 1328h0M89 1388h0M89 1364h0M89 1356h0M90 1379h0M90 1384h0M90 1370h0M90 1363h0M91 1376h0M91 1414h0M91 1392h0M91 1384h0M92 1378h0M92 1389h0M92 1373h0M92 1364h0M93 1382h0M93 1382h0M93 1372h0M93 1365h0M94 1377h0M94 1345h0M94 1344h0M94 1380h0M95 1355h0M95 1375h0M95 1363h0M95 1383h0M96 1349h0M96 1363h0M96 1382h0M97 1388h0M97 1348h0M97 1367h0M97 1377h0M98 1366h0M98 1392h0M98 1359h0M98 1379h0M99 1360h0M99 1390h0M99 1372h0M99 1368h0M100 1352h0M100 1393h0M100 1381h0M100 1381h0M101 1386h0M101 1376h0M101 1364h0M101 1362h0M102 1362h0M102 1388h0M102 1386h0M102 1364h0M103 1417h0M103 1362h0M103 1405h0M103 1345h0M104 1350h0M104 1371h0M104 1385h0M104 1379h0M105 1369h0M105 1366h0M105 1374h0M106 1367h0M106 1380h0M106 1360h0M106 1371h0M107 1368h0M107 1376h0M107 1372h0M107 1400h0M108 1387h0M108 1387h0M108 1344h0M108 1364h0M109 1361h0M109 1375h0M109 1341h0M109 1382h0M110 1381h0M110 1352h0M110 1356h0M110 1358h0M111 1368h0M111 1375h0M111 1392h0M111 1364h0M112 1344h0M112 1373h0M112 1407h0M112 1375h0M113 1383h0M113 1412h0M113 1380h0M113 1356h0M114 1384h0M114 1373h0M114 1362h0M115 1360h0M115 1371h0M115 1356h0M115 1353h0M116 1370h0M116 1394h0M116 1361h0M116 1357h0M117 1350h0M117 1348h0M117 1370h0M117 1373h0M118 1363h0M118 1367h0M118 1364h0M118 1337h0M119 1344h0M119 1357h0M119 1363h0M119 1352h0M120 1356h0M120 1352h0M120 1357h0M120 1371h0M121 1356h0M121 1359h0M121 1370h0M121 1368h0M122 1381h0M122 1335h0M122 1370h0M122 1354h0M123 1361h0M123 1369h0M123 1372h0M124 1341h0M124 1371h0M124 1378h0M124 1355h0M125 1356h0M125 1367h0M125 1351h0M125 1383h0M126 1369h0M126 1383h0M126 1357h0M126 1352h0M127 1358h0M127 1365h0M127 1349h0M127 1360h0M128 1355h0M128 1375h0M128 1347h0M128 1367h0M129 1347h0M129 1343h0M129 1346h0M129 1340h0M130 1356h0M130 1366h0M130 1355h0M130 1365h0M131 1373h0M131 1356h0M131 1355h0M131 1349h0M132 1333h0M132 1361h0M132 1363h0M132 1359h0M133 1351h0M133 1364h0M133 1344h0M134 1341h0M134 1354h0M134 1343h0M134 1330h0M135 1350h0M135 1348h0M135 1347h0M135 1339h0M136 1346h0M136 1323h0M136 1346h0M136 1333h0M137 1361h0M137 1363h0M137 1324h0M137 1356h0M138 1346h0M138 1334h0M138 1352h0M138 1340h0M139 1324h0M139 1376h0M139 1343h0M139 1346h0M140 1330h0M140 1352h0M140 1353h0M140 1330h0M141 1328h0M141 1342h0M141 1336h0M141 1364h0M142 1345h0M142 1330h0M142 1332h0M143 1341h0M143 1369h0M143 1339h0M143 1342h0M144 1347h0M144 1340h0M144 1367h0M144 1333h0M145 1348h0M145 1341h0M145 1357h0M145 1368h0M146 1360h0M146 1381h0M146 1338h0M146 1326h0M147 1328h0M147 1344h0M147 1348h0M147 1345h0M148 1351h0M148 1344h0M148 1336h0M148 1345h0M149 1342h0M149 1333h0M149 1343h0M149 1377h0M150 1337h0M150 1329h0M150 1342h0M150 1356h0M151 1330h0M151 1310h0M151 1306h0M152 1346h0M152 1309h0M152 1336h0M152 1345h0M153 1321h0M153 1348h0M153 1333h0M153 1323h0M154 1332h0M154 1310h0M154 1322h0M154 1350h0M155 1318h0M155 1350h0M155 1275h0M155 1339h0M156 1328h0M156 1300h0M156 1320h0M156 1328h0M157 1312h0M157 1309h0M157 1330h0M157 1317h0M158 1304h0M158 1316h0M158 1334h0M158 1318h0M159 1335h0M159 1342h0M159 1323h0M159 1309h0M160 1307h0M160 1322h0M160 1332h0M161 1325h0M161 1328h0M161 1315h0M161 1324h0M162 1315h0M162 1316h0M162 1304h0M162 1300h0M163 1313h0M163 1305h0M163 1307h0M163 1326h0M164 1317h0M164 1352h0M164 1328h0M164 1309h0M165 1349h0M165 1321h0M165 1308h0M165 1329h0M166 1306h0M166 1278h0M166 1324h0M166 1307h0M167 1332h0M167 1325h0M167 1336h0M167 1332h0M168 1300h0M168 1315h0M168 1317h0M168 1338h0M169 1311h0M169 1313h0M169 1321h0M170 1301h0M170 1318h0M170 1317h0M170 1338h0M171 1306h0M171 1315h0M171 1318h0M171 1312h0M172 1312h0M172 1351h0M172 1322h0M172 1300h0M173 1307h0M173 1277h0M173 1296h0M173 1281h0M174 1298h0M174 1298h0M174 1291h0M174 1313h0M175 1308h0M175 1291h0M175 1313h0M175 1308h0M176 1313h0M176 1296h0M176 1316h0M176 1308h0M177 1302h0M177 1297h0M177 1300h0M177 1313h0M178 1267h0M178 1315h0M178 1309h0M178 1318h0M179 1311h0M179 1300h0M179 1278h0M180 1333h0M180 1310h0M180 1302h0M180 1306h0M181 1294h0M181 1295h0M181 1288h0M181 1315h0M182 1300h0M182 1292h0M182 1282h0M182 1296h0M183 1271h0M183 1303h0M183 1288h0M183 1314h0M184 1314h0M184 1308h0M184 1305h0M184 1256h0M185 1302h0M185 1305h0M185 1286h0M185 1313h0M186 1297h0M186 1319h0M186 1289h0M186 1302h0M187 1305h0M187 1289h0M187 1337h0M187 1302h0M188 1304h0M188 1286h0M188 1291h0M189 1304h0M189 1307h0M189 1293h0M189 1293h0M190 1294h0M190 1257h0M190 1278h0M190 1275h0M191 1292h0M191 1277h0M191 1283h0M191 1245h0M192 1296h0M192 1277h0M192 1352h0M192 1268h0M193 1296h0M193 1270h0M193 1274h0M193 1296h0M194 1284h0M194 1279h0M194 1283h0M194 1294h0M195 1287h0M195 1287h0M195 1275h0M195 1279h0M196 1282h0M196 1281h0M196 1301h0M196 1299h0M197 1302h0M197 1286h0M197 1284h0M198 1254h0M198 1281h0M198 1289h0M198 1294h0M199 1277h0M199 1285h0M199 1284h0M199 1306h0M200 1316h0M200 1284h0M200 1285h0M200 1257h0M201 1287h0M201 1284h0M201 1272h0M201 1294h0M202 1297h0M202 1282h0M202 1286h0M202 1269h0M203 1294h0M203 1296h0M203 1267h0M203 1267h0M204 1291h0M204 1318h0M204 1269h0M204 1280h0M205 1282h0M205 1281h0M205 1293h0M205 1288h0M206 1278h0M206 1267h0M206 1291h0M207 1296h0M207 1299h0M207 1291h0M207 1268h0M208 1293h0M208 1297h0M208 1302h0M208 1283h0M209 1289h0M209 1286h0M209 1302h0M209 1284h0M210 1279h0M210 1286h0M210 1277h0M210 1284h0M211 1282h0M211 1285h0M211 1305h0M211 1264h0M212 1290h0M212 1280h0M212 1290h0M212 1268h0M213 1274h0M213 1286h0M213 1289h0M213 1303h0M214 1276h0M214 1272h0M214 1288h0M214 1299h0M215 1286h0M215 1266h0M215 1287h0M215 1271h0M216 1278h0M216 1279h0M216 1286h0M217 1282h0M217 1268h0M217 1267h0M217 1303h0M218 1279h0M218 1288h0M218 1286h0M218 1293h0M219 1265h0M219 1302h0M219 1250h0M219 1298h0M220 1284h0M220 1278h0M220 1281h0M220 1294h0M221 1273h0M221 1279h0M221 1265h0M221 1263h0M222 1299h0M222 1290h0M222 1283h0M222 1287h0M223 1272h0M223 1283h0M223 1305h0M223 1296h0M224 1257h0M224 1244h0M224 1272h0M224 1297h0M225 1279h0M225 1282h0M225 1292h0M226 1274h0M226 1288h0M226 1276h0M226 1291h0M227 1290h0M227 1278h0M227 1292h0M227 1281h0M228 1302h0M228 1317h0M228 1277h0M228 1260h0M229 1281h0M229 1291h0M229 1337h0M229 1302h0M230 1278h0M230 1278h0M230 1303h0M230 1274h0M231 1315h0M231 1285h0M231 1297h0M231 1297h0M232 1298h0M232 1298h0M232 1277h0M232 1292h0M233 1287h0M233 1293h0M233 1304h0M233 1286h0M234 1281h0M234 1281h0M234 1286h0M235 1299h0M235 1281h0M235 1305h0M235 1294h0M236 1288h0M236 1275h0M236 1294h0M236 1300h0M237 1271h0M237 1294h0M237 1295h0M237 1297h0M238 1299h0M238 1322h0M238 1308h0M238 1316h0M239 1293h0M239 1292h0M239 1292h0M239 1287h0M240 1329h0M240 1287h0M240 1297h0M240 1294h0M241 1306h0M241 1292h0M241 1286h0M241 1302h0M242 1313h0M242 1293h0M242 1280h0M242 1319h0M243 1291h0M243 1316h0M243 1288h0M244 1303h0M244 1292h0M244 1304h0M244 1290h0M245 1289h0M245 1312h0M245 1302h0M245 1300h0M246 1295h0M246 1306h0M246 1284h0M246 1287h0M247 1299h0M247 1291h0M247 1293h0M247 1301h0M248 1300h0M248 1300h0M248 1323h0M248 1315h0M249 1318h0M249 1303h0M249 1298h0M249 1286h0M250 1300h0M250 1279h0M250 1298h0M250 1340h0M251 1325h0M251 1317h0M251 1295h0M251 1312h0M252 1297h0M252 1317h0M252 1306h0M253 1318h0M253 1338h0M253 1329h0M253 1336h0M254 1310h0M254 1305h0M254 1325h0M254 1330h0M255 1305h0M255 1311h0M255 1293h0M255 1293h0M256 1321h0M256 1310h0M256 1304h0M256 1295h0M257 1316h0M257 1322h0M257 1320h0M257 1316h0M258 1298h0M258 1334h0M258 1313h0M258 1312h0M259 1323h0M259 1332h0M259 1314h0M259 1297h0M260 1320h0M260 1332h0M260 1322h0M260 1294h0M261 1312h0M261 1319h0M261 1319h0M261 1329h0M262 1298h0M262 1325h0M262 1298h0M263 1318h0M263 1298h0M263 1340h0M263 1285h0M264 1315h0M264 1322h0M264 1318h0M264 1323h0M265 1307h0M265 1338h0M265 1306h0M265 1302h0M266 1324h0M266 1310h0M266 1333h0M266 1306h0M267 1315h0M267 1319h0M267 1319h0M267 1330h0M268 1336h0M268 1321h0M268 1319h0M268 1319h0M269 1321h0M269 1336h0M269 1324h0M269 1332h0M270 1326h0M270 1317h0M270 1364h0M270 1315h0M271 1328h0M271 1346h0M271 1367h0M272 1328h0M272 1310h0M272 1323h0M272 1312h0M273 1326h0M273 1324h0M273 1332h0M273 1350h0M274 1335h0M274 1340h0M274 1321h0M274 1329h0M275 1323h0M275 1311h0M275 1327h0M275 1353h0M276 1339h0M276 1328h0M276 1354h0M276 1329h0M277 1327h0M277 1321h0M277 1324h0M277 1333h0M278 1360h0M278 1334h0M278 1324h0M278 1330h0M279 1334h0M279 1317h0M279 1339h0M279 1346h0M280 1342h0M280 1346h0M280 1323h0M281 1319h0M281 1302h0M281 1353h0M281 1321h0M282 1343h0M282 1341h0M282 1347h0M282 1347h0M283 1335h0M283 1344h0M283 1344h0M283 1341h0M284 1320h0M284 1307h0M284 1333h0M284 1323h0M285 1346h0M285 1352h0M285 1347h0M285 1340h0M286 1345h0M286 1369h0M286 1336h0M286 1356h0M287 1354h0M287 1349h0M287 1363h0M287 1338h0M288 1358h0M288 1336h0M288 1338h0M288 1334h0M289 1353h0M289 1336h0M289 1349h0M290 1334h0M290 1361h0M290 1371h0M290 1352h0M291 1369h0M291 1356h0M291 1376h0M291 1351h0M292 1331h0M292 1368h0M292 1349h0M292 1332h0M293 1343h0M293 1332h0M293 1331h0M293 1359h0M294 1339h0M294 1360h0M294 1332h0M294 1335h0M295 1346h0M295 1330h0M295 1352h0M295 1357h0M296 1344h0M296 1347h0M296 1360h0M296 1371h0M297 1373h0M297 1355h0M297 1365h0M297 1346h0M298 1360h0M298 1344h0M298 1365h0M299 1341h0M299 1390h0M299 1356h0M299 1363h0M300 1340h0M300 1351h0M300 1359h0M300 1367h0M301 1372h0M301 1359h0M301 1355h0M301 1375h0M302 1365h0M302 1343h0M302 1333h0M302 1360h0M303 1373h0M303 1362h0M303 1370h0M303 1354h0M304 1344h0M304 1369h0M304 1362h0M304 1369h0M305 1344h0M305 1363h0M305 1354h0M305 1371h0M306 1355h0M306 1354h0M306 1355h0M306 1404h0M307 1367h0M307 1353h0M307 1350h0M307 1350h0M308 1378h0M308 1341h0M308 1353h0M309 1371h0M309 1378h0M309 1362h0M309 1373h0M310 1373h0M310 1376h0M310 1365h0M310 1384h0M311 1366h0M311 1383h0M311 1352h0M311 1377h0M312 1351h0M312 1348h0M312 1372h0M312 1349h0M313 1372h0M313 1354h0M313 1386h0M313 1367h0M314 1353h0M314 1369h0M314 1378h0M314 1358h0M315 1374h0M315 1392h0M315 1378h0M315 1368h0M316 1403h0M316 1337h0M316 1350h0M316 1332h0M317 1361h0M317 1356h0M317 1390h0M318 1371h0M318 1370h0M318 1356h0M318 1376h0M319 1360h0M319 1343h0M319 1369h0M319 1371h0M320 1372h0M320 1372h0M320 1386h0M320 1391h0M321 1351h0M321 1402h0M321 1373h0M321 1386h0M322 1352h0M322 1375h0M322 1374h0M322 1373h0M323 1342h0M323 1365h0M323 1360h0M323 1371h0M324 1382h0M324 1400h0M324 1369h0M324 1369h0M325 1371h0M325 1360h0M325 1358h0M325 1392h0M326 1368h0M326 1374h0M326 1364h0M327 1389h0M327 1395h0M327 1371h0M327 1380h0M328 1365h0M328 1395h0M328 1331h0M328 1378h0M329 1389h0M329 1379h0M329 1379h0M329 1379h0M330 1365h0M330 1368h0M330 1382h0M330 1374h0M331 1363h0M331 1399h0M331 1372h0M331 1368h0M332 1367h0M332 1383h0M332 1361h0M332 1378h0M333 1386h0M333 1358h0M333 1371h0M333 1370h0M334 1376h0M334 1382h0M334 1351h0M334 1413h0M335 1373h0M335 1380h0M335 1380h0M336 1386h0M336 1379h0M336 1341h0M336 1363h0M337 1373h0M337 1365h0M337 1364h0M337 1376h0M338 1391h0M338 1424h0M338 1366h0M338 1375h0M339 1375h0M339 1363h0M339 1373h0M339 1380h0M340 1383h0M340 1392h0M340 1377h0M340 1371h0M341 1382h0M341 1369h0M341 1362h0M341 1391h0M342 1372h0M342 1378h0M342 1385h0M342 1364h0M343 1385h0M343 1383h0M343 1376h0M343 1382h0M344 1368h0M344 1351h0M344 1374h0M345 1367h0M345 1388h0M345 1381h0M345 1371h0M346 1378h0M346 1394h0M346 1391h0M346 1382h0M347 1383h0M347 1374h0M347 1376h0M347 1380h0M348 1385h0M348 1382h0M348 1365h0M348 1358h0M349 1358h0M349 1373h0M349 1353h0M349 1392h0M350 1402h0M350 1359h0M350 1388h0M350 1366h0M351 1362h0M351 1391h0M351 1380h0M351 1394h0M352 1382h0M352 1389h0M352 1382h0M352 1367h0M353 1376h0M353 1370h0M353 1376h0M353 1366h0M354 1360h0M354 1387h0M354 1392h0M355 1396h0M355 1392h0M355 1360h0M355 1370h0M356 1372h0M356 1378h0M356 1353h0M356 1378h0M357 1382h0M357 1367h0M357 1380h0M357 1393h0M358 1379h0M358 1391h0M358 1390h0M358 1384h0M359 1383h0M359 1371h0M359 1394h0M359 1366h0M360 1360h0M360 1387h0M360 1352h0M360 1384h0M361 1364h0M361 1380h0M361 1344h0M361 1361h0M362 1348h0M362 1320h0M362 1325h0M362 1359h0M363 1383h0M363 1326h0M363 1362h0M364 1376h0M364 1353h0M364 1374h0M364 1380h0M365 1385h0M365 1361h0M365 1386h0M365 1358h0M366 1350h0M366 1394h0M366 1390h0M366 1347h0M367 1378h0M367 1365h0M367 1368h0M367 1388h0M368 1390h0M368 1393h0M368 1390h0M368 1389h0M369 1373h0M369 1364h0M369 1370h0M369 1378h0M370 1394h0M370 1360h0M370 1415h0M370 1361h0M371 1380h0M371 1366h0M371 1376h0M371 1382h0M372 1380h0M372 1395h0M372 1419h0M373 1352h0M373 1389h0M373 1395h0M373 1395h0M374 1364h0M374 1384h0M374 1362h0M374 1362h0M375 1371h0M375 1384h0M375 1371h0M375 1401h0M376 1359h0M376 1373h0M376 1391h0M376 1370h0M377 1364h0M377 1361h0M377 1369h0M377 1396h0M378 1382h0M378 1384h0M378 1394h0M378 1387h0M379 1379h0M379 1358h0M379 1402h0M379 1380h0M380 1391h0M380 1400h0M380 1383h0M380 1401h0M381 1367h0M381 1362h0M381 1389h0M382 1382h0M382 1375h0M382 1380h0M382 1373h0M383 1383h0M383 1372h0M383 1386h0M383 1362h0M384 1366h0M384 1378h0M384 1370h0M384 1384h0M385 1375h0M385 1369h0M385 1378h0M385 1355h0M386 1357h0M386 1362h0M386 1392h0M386 1370h0M387 1377h0M387 1386h0M387 1382h0M387 1397h0M388 1391h0M388 1373h0M388 1395h0M388 1389h0M389 1369h0M389 1379h0M389 1388h0M389 1378h0M390 1387h0M390 1379h0M390 1383h0M391 1371h0M391 1379h0M391 1370h0M391 1382h0M392 1354h0M392 1378h0M392 1389h0M392 1381h0M393 1373h0M393 1380h0M393 1363h0M393 1363h0M394 1369h0M394 1371h0M394 1385h0M394 1362h0M395 1385h0M395 1354h0M395 1363h0M395 1404h0M396 1386h0M396 1365h0M396 1347h0M396 1377h0M397 1372h0M397 1359h0M397 1359h0M397 1363h0M398 1382h0M398 1365h0M398 1354h0M398 1399h0M399 1371h0M399 1367h0M399 1379h0M399 1372h0M400 1399h0M400 1384h0M400 1366h0M401 1366h0M401 1364h0M401 1366h0M401 1378h0M402 1362h0M402 1389h0M402 1368h0M402 1368h0M403 1381h0M403 1345h0M403 1358h0M403 1376h0M404 1365h0M404 1368h0M404 1373h0M404 1361h0M405 1366h0M405 1352h0M405 1345h0M405 1383h0M406 1356h0M406 1359h0M406 1384h0M406 1380h0M407 1361h0M407 1360h0M407 1366h0M407 1355h0M408 1373h0M408 1368h0M408 1367h0M408 1375h0M409 1376h0M409 1388h0M409 1383h0M410 1345h0M410 1376h0M410 1349h0M410 1347h0M411 1372h0M411 1356h0M411 1359h0M411 1377h0M412 1356h0M412 1353h0M412 1367h0M412 1347h0M413 1369h0M413 1344h0M413 1355h0M413 1361h0M414 1385h0M414 1373h0M414 1372h0M414 1341h0M415 1358h0M415 1367h0M415 1374h0M415 1349h0M416 1361h0M416 1367h0M416 1347h0M416 1370h0M417 1369h0M417 1372h0M417 1350h0M417 1361h0M418 1340h0M418 1369h0M418 1364h0M419 1361h0M419 1375h0M419 1357h0M419 1318h0M420 1389h0M420 1357h0M420 1354h0M420 1360h0M421 1349h0M421 1374h0M421 1355h0M421 1342h0M422 1364h0M422 1356h0M422 1365h0M422 1346h0M423 1376h0M423 1349h0M423 1359h0M423 1361h0M424 1366h0M424 1349h0M424 1352h0M424 1366h0M425 1348h0M425 1355h0M425 1359h0M425 1365h0M426 1352h0M426 1350h0M426 1353h0M426 1342h0M427 1349h0M427 1356h0M427 1354h0M428 1338h0M428 1346h0M428 1324h0M428 1359h0M429 1343h0M429 1352h0M429 1335h0M429 1347h0M430 1353h0M430 1360h0M430 1331h0M430 1326h0M431 1345h0M431 1337h0M431 1352h0M431 1343h0M432 1342h0M432 1337h0M432 1348h0M432 1346h0M433 1343h0M433 1333h0M433 1320h0M433 1349h0M434 1359h0M434 1343h0M434 1360h0M434 1343h0M435 1330h0M435 1350h0M435 1327h0M435 1347h0M436 1348h0M436 1338h0M436 1340h0M437 1370h0M437 1364h0M437 1343h0M437 1349h0M438 1338h0M438 1338h0M438 1344h0M438 1310h0M439 1355h0M439 1325h0M439 1347h0M439 1344h0M440 1338h0M440 1322h0M440 1339h0M440 1323h0M441 1328h0M441 1318h0M441 1341h0M441 1340h0M442 1353h0M442 1338h0M442 1345h0M442 1333h0M443 1326h0M443 1330h0M443 1327h0M443 1333h0M444 1336h0M444 1331h0M444 1335h0M444 1337h0M445 1331h0M445 1329h0M445 1321h0M445 1320h0M446 1335h0M446 1339h0M446 1341h0M447 1330h0M447 1319h0M447 1336h0M447 1336h0M448 1310h0M448 1337h0M448 1334h0M448 1347h0M449 1313h0M449 1311h0M449 1335h0M449 1304h0M450 1317h0M450 1312h0M450 1313h0M450 1302h0M451 1323h0M451 1336h0M451 1329h0M451 1329h0M452 1319h0M452 1340h0M452 1329h0M452 1335h0M453 1303h0M453 1326h0M453 1327h0M453 1325h0M454 1323h0M454 1307h0M454 1322h0M454 1334h0M455 1325h0M455 1326h0M455 1315h0M456 1310h0M456 1305h0M456 1319h0M456 1332h0M457 1322h0M457 1317h0M457 1289h0M457 1322h0M458 1313h0M458 1308h0M458 1295h0M458 1311h0M459 1304h0M459 1334h0M459 1315h0M459 1301h0M460 1308h0M460 1332h0M460 1296h0M460 1351h0M461 1318h0M461 1330h0M461 1318h0M461 1307h0M462 1317h0M462 1343h0M462 1322h0M462 1310h0M463 1334h0M463 1308h0M463 1297h0M463 1301h0M464 1310h0M464 1309h0M464 1310h0M465 1319h0M465 1301h0M465 1297h0M465 1320h0M466 1303h0M466 1299h0M466 1320h0M466 1288h0M467 1274h0M467 1301h0M467 1314h0M467 1315h0M468 1298h0M468 1323h0M468 1295h0M468 1305h0M469 1271h0M469 1303h0M469 1313h0M469 1315h0M470 1302h0M470 1319h0M470 1294h0M470 1299h0M471 1322h0M471 1302h0M471 1314h0M471 1295h0M472 1297h0M472 1299h0M472 1302h0M472 1295h0M473 1299h0M473 1307h0M473 1313h0M474 1300h0M474 1306h0M474 1309h0M474 1285h0M475 1279h0M475 1317h0M475 1313h0M475 1297h0M476 1301h0M476 1285h0M476 1280h0M476 1300h0M477 1278h0M477 1306h0M477 1287h0M477 1322h0M478 1318h0M478 1317h0M478 1291h0M478 1307h0M479 1281h0M479 1293h0M479 1298h0M479 1310h0M480 1286h0M480 1299h0M480 1294h0M480 1277h0M481 1290h0M481 1310h0M481 1290h0M481 1297h0M482 1301h0M482 1282h0M482 1305h0M483 1308h0M483 1309h0M483 1306h0M483 1284h0M484 1283h0M484 1280h0M484 1278h0M484 1280h0M485 1301h0M485 1306h0M485 1281h0M485 1298h0M486 1273h0M486 1278h0M486 1276h0M486 1268h0M487 1288h0M487 1288h0M487 1282h0M487 1281h0M488 1275h0M488 1310h0M488 1279h0M488 1289h0M489 1272h0M489 1289h0M489 1292h0M489 1301h0M490 1298h0M490 1288h0M490 1277h0M490 1314h0M491 1285h0M491 1302h0M491 1289h0M491 1254h0M492 1276h0M492 1280h0M492 1272h0M493 1287h0M493 1307h0M493 1278h0M493 1248h0M494 1265h0M494 1268h0M494 1273h0M494 1294h0M495 1264h0M495 1265h0M495 1293h0M495 1283h0M496 1293h0M496 1275h0M496 1288h0M496 1294h0M497 1248h0M497 1292h0M497 1300h0M497 1283h0M498 1284h0M498 1301h0M498 1290h0M498 1300h0M499 1291h0M499 1302h0M499 1311h0M499 1272h0M500 1335h0M500 1288h0M500 1288h0M500 1281h0M501 1291h0M501 1269h0M501 1274h0M502 1273h0M502 1286h0M502 1254h0M502 1291h0M503 1287h0M503 1275h0M503 1270h0M503 1287h0M504 1284h0M504 1287h0M504 1299h0M504 1280h0M505 1280h0M505 1306h0M505 1289h0M505 1282h0M506 1274h0M506 1287h0M506 1276h0M506 1276h0M507 1306h0M507 1292h0M507 1294h0M507 1292h0M508 1290h0M508 1285h0M508 1310h0M508 1282h0M509 1292h0M509 1280h0M509 1279h0M509 1254h0M510 1260h0M510 1302h0M510 1301h0M511 1278h0M511 1283h0M511 1291h0M511 1272h0M512 1305h0M512 1283h0M512 1275h0M512 1251h0M513 1302h0M513 1285h0M513 1304h0M513 1272h0M514 1288h0M514 1285h0M514 1287h0M514 1310h0M515 1267h0M515 1301h0M515 1280h0M515 1296h0M516 1292h0M516 1292h0M516 1292h0M516 1264h0M517 1275h0M517 1289h0M517 1305h0M517 1274h0M518 1287h0M518 1303h0M518 1270h0M518 1298h0M519 1267h0M519 1280h0M519 1270h0M520 1277h0M520 1282h0M520 1284h0M520 1285h0M521 1259h0M521 1307h0M521 1285h0M521 1275h0M522 1281h0M522 1293h0M522 1297h0M522 1284h0M523 1284h0M523 1296h0M523 1281h0M523 1295h0M524 1294h0M524 1288h0M524 1274h0M524 1291h0M525 1277h0M525 1295h0M525 1287h0M525 1291h0M526 1294h0M526 1320h0M526 1302h0M526 1298h0M527 1290h0M527 1273h0M527 1292h0M527 1272h0M528 1279h0M528 1300h0M528 1244h0M529 1275h0M529 1286h0M529 1302h0M529 1307h0M530 1283h0M530 1290h0M530 1305h0M530 1289h0M531 1291h0M531 1290h0M531 1281h0M531 1293h0M532 1301h0M532 1280h0M532 1299h0M532 1311h0M533 1300h0M533 1310h0M533 1292h0M533 1315h0M534 1290h0M534 1322h0M534 1294h0M534 1320h0M535 1289h0M535 1295h0M535 1295h0M535 1293h0M536 1297h0M536 1309h0M536 1312h0M536 1298h0M537 1276h0M537 1271h0M537 1290h0M537 1289h0M538 1311h0M538 1285h0M538 1330h0M539 1320h0M539 1325h0M539 1321h0M539 1287h0M540 1305h0M540 1316h0M540 1307h0M540 1287h0M541 1302h0M541 1286h0M541 1292h0M541 1333h0M542 1316h0M542 1290h0M542 1290h0M542 1314h0M543 1301h0M543 1316h0M543 1302h0M543 1307h0M544 1313h0M544 1334h0M544 1288h0M544 1297h0M545 1303h0M545 1309h0M545 1311h0M545 1311h0M546 1288h0M546 1302h0M546 1330h0M546 1337h0M547 1318h0M547 1316h0M547 1329h0M548 1322h0M548 1317h0M548 1313h0M548 1307h0M549 1276h0M549 1324h0M549 1331h0M549 1304h0M550 1316h0M550 1320h0M550 1312h0M550 1309h0M551 1313h0M551 1317h0M551 1318h0M551 1316h0M552 1345h0M552 1331h0M552 1348h0M552 1320h0M553 1341h0M553 1340h0M553 1323h0M553 1320h0M554 1305h0M554 1318h0M554 1320h0M554 1314h0M555 1344h0M555 1341h0M555 1322h0M555 1329h0M556 1330h0M556 1345h0M556 1308h0M557 1316h0M557 1327h0M557 1328h0M557 1303h0M558 1333h0M558 1311h0M558 1315h0M558 1334h0M559 1345h0M559 1349h0M559 1339h0M559 1318h0M560 1319h0M560 1319h0M560 1316h0M560 1325h0M561 1318h0M561 1344h0M561 1322h0M561 1322h0M562 1317h0M562 1346h0M562 1308h0M562 1336h0M563 1315h0M563 1320h0M563 1315h0M563 1345h0M564 1333h0M564 1367h0M564 1322h0M564 1321h0M565 1342h0M565 1342h0M565 1332h0M566 1312h0M566 1364h0M566 1343h0M566 1341h0M567 1330h0M567 1345h0M567 1331h0M567 1338h0M568 1336h0M568 1353h0M568 1333h0M568 1335h0M569 1347h0M569 1342h0M569 1339h0M569 1337h0M570 1352h0M570 1333h0M570 1346h0M570 1365h0M571 1346h0M571 1332h0M571 1327h0M571 1344h0M572 1328h0M572 1323h0M572 1334h0M572 1330h0M573 1354h0M573 1326h0M573 1363h0M573 1335h0M574 1346h0M574 1353h0M574 1348h0M575 1354h0M575 1334h0M575 1318h0M575 1355h0M576 1326h0M576 1356h0M576 1358h0M576 1345h0M577 1340h0M577 1334h0M577 1344h0M577 1346h0M578 1329h0M578 1352h0M578 1336h0M578 1369h0M579 1344h0M579 1361h0M579 1360h0M579 1350h0M580 1349h0M580 1356h0M580 1367h0M580 1364h0M581 1343h0M581 1355h0M581 1371h0M581 1332h0M582 1359h0M582 1342h0M582 1369h0M582 1350h0M583 1352h0M583 1341h0M583 1354h0M583 1364h0M584 1374h0M584 1340h0M584 1350h0M585 1402h0M585 1367h0M585 1356h0M585 1362h0M586 1324h0M586 1376h0M586 1354h0M586 1340h0M587 1371h0M587 1350h0M587 1345h0M587 1364h0M588 1363h0M588 1353h0M588 1358h0M588 1343h0M589 1342h0M589 1370h0M589 1375h0M589 1365h0M590 1364h0M590 1355h0M590 1359h0M590 1349h0M591 1382h0M591 1354h0M591 1366h0M591 1361h0M592 1390h0M592 1385h0M592 1357h0M592 1353h0M593 1363h0M593 1351h0M593 1363h0M594 1351h0M594 1370h0M594 1364h0M594 1347h0M595 1376h0M595 1366h0M595 1350h0M595 1368h0M596 1369h0M596 1387h0M596 1354h0M596 1375h0M597 1364h0M597 1368h0M597 1362h0M597 1365h0M598 1371h0M598 1351h0M598 1340h0M598 1378h0M599 1361h0M599 1367h0M599 1374h0M599 1364h0M600 1381h0M600 1366h0M600 1359h0M600 1377h0M601 1375h0M601 1367h0M601 1369h0M601 1359h0M602 1361h0M602 1369h0M602 1378h0M603 1363h0M603 1379h0M603 1392h0M603 1339h0M604 1370h0M604 1382h0M604 1377h0M604 1379h0M605 1380h0M605 1363h0M605 1380h0M605 1373h0M606 1367h0M606 1380h0M606 1377h0M606 1364h0M607 1375h0M607 1380h0M607 1388h0M607 1360h0M608 1368h0M608 1378h0M608 1359h0M608 1360h0M609 1384h0M609 1371h0M609 1360h0M609 1395h0M610 1357h0M610 1372h0M610 1365h0M610 1374h0M611 1380h0M611 1363h0M611 1372h0M612 1372h0M612 1361h0M612 1387h0M612 1375h0M613 1370h0M613 1366h0M613 1365h0M613 1375h0M614 1368h0M614 1389h0M614 1343h0M614 1348h0M615 1371h0M615 1352h0M615 1374h0M615 1367h0M616 1382h0M616 1380h0M616 1391h0M616 1386h0M617 1390h0M617 1381h0M617 1388h0M617 1381h0M618 1368h0M618 1360h0M618 1361h0M618 1381h0M619 1347h0M619 1378h0M619 1367h0M619 1385h0M620 1378h0M620 1367h0M620 1376h0M621 1387h0M621 1380h0M621 1385h0M621 1354h0M622 1387h0M622 1375h0M622 1376h0M622 1360h0M623 1384h0M623 1384h0M623 1377h0M623 1365h0M624 1386h0M624 1392h0M624 1382h0M624 1389h0M625 1370h0M625 1379h0M625 1382h0M625 1379h0M626 1412h0M626 1383h0M626 1371h0M626 1388h0M627 1357h0M627 1383h0M627 1388h0M627 1373h0M628 1375h0M628 1367h0M628 1380h0M628 1371h0M629 1400h0M629 1387h0M629 1376h0M629 1362h0M630 1404h0M630 1395h0M630 1385h0M631 1382h0M631 1381h0M631 1374h0M631 1402h0M632 1382h0M632 1362h0M632 1372h0M632 1349h0M633 1388h0M633 1389h0M633 1401h0M633 1405h0M634 1371h0M634 1385h0M634 1392h0M634 1364h0M635 1457h0M635 1390h0M635 1375h0M635 1397h0M636 1380h0M636 1377h0M636 1374h0M636 1376h0M637 1371h0M637 1376h0M637 1393h0M637 1386h0M638 1396h0M638 1394h0M638 1388h0M638 1367h0M639 1387h0M639 1394h0M639 1386h0M640 1367h0M640 1369h0M640 1368h0M640 1377h0M641 1369h0M641 1385h0M641 1366h0M641 1379h0M642 1375h0M642 1369h0M642 1393h0M642 1381h0M643 1387h0M643 1377h0M643 1389h0M643 1388h0M644 1379h0M644 1359h0M644 1391h0M644 1389h0" stroke="#cf3b7b" stroke-width="5" stroke-linecap="round" fill="none"/>
<rect x="79.3" y="1174" width="565.1" height="454.7" fill="none" stroke="#000" stroke-width="3"/>
<path d="M79.3 1630.2v8 M173.5 1630.2v8 M267.7 1630.2v8 M361.9 1630.2v8 M456.0 1630.2v8 M550.2 1630.2v8 M644.4 1630.2v8 M126.4 1630.2v4 M220.6 1630.2v4 M314.8 1630.2v4 M408.9 1630.2v4 M503.1 1630.2v4 M597.3 1630.2v4" stroke="#000" stroke-width="3" fill="none"/>
<text x="79.3" y="1666.8" font-size="30" font-weight="bold" fill="#000" text-anchor="middle">0</text>
<text x="173.5" y="1666.8" font-size="30" font-weight="bold" fill="#000" text-anchor="middle">60</text>
<text x="267.7" y="1666.8" font-size="30" font-weight="bold" fill="#000" text-anchor="middle">120</text>
<text x="361.9" y="1666.8" font-size="30" font-weight="bold" fill="#000" text-anchor="middle">180</text>
<text x="456.0" y="1666.8" font-size="30" font-weight="bold" fill="#000" text-anchor="middle">240</text>
<text x="550.2" y="1666.8" font-size="30" font-weight="bold" fill="#000" text-anchor="middle">300</text>
<text x="644.4" y="1666.8" font-size="30" font-weight="bold" fill="#000" text-anchor="middle">360</text>
<polyline points="729.3,1579.0 741.9,1576.0 754.4,1575.3 767.0,1572.6 779.5,1568.9 792.1,1569.0 804.7,1567.2 817.2,1566.9 829.8,1564.6 842.3,1565.6 854.9,1565.0 867.5,1565.9 880.0,1564.9 892.6,1565.5 905.1,1564.4 917.7,1568.4 930.3,1565.4 942.8,1568.9 955.4,1568.6 967.9,1569.0 980.5,1570.2 993.1,1571.2 1005.6,1573.2 1018.2,1573.7 1030.7,1576.0 1043.3,1574.0 1055.9,1576.5 1068.4,1576.7 1081.0,1579.1 1093.5,1577.4 1106.1,1579.9 1118.7,1581.3 1131.2,1580.6 1143.8,1583.7 1156.3,1583.8 1168.9,1585.4 1181.5,1586.2 1194.0,1585.3 1206.6,1586.3 1219.1,1587.7 1231.7,1589.4 1244.3,1590.4 1256.8,1589.8 1269.4,1590.7 1281.9,1591.4 1294.5,1592.5" fill="none" stroke="#b4b4de" stroke-width="3.2" stroke-linejoin="round" />
<polyline points="729.3,1535.9 741.9,1533.5 754.4,1533.0 767.0,1528.2 779.5,1525.8 792.1,1523.4 804.7,1519.0 817.2,1516.8 829.8,1515.0 842.3,1513.8 854.9,1510.3 867.5,1511.7 880.0,1509.6 892.6,1509.7 905.1,1510.1 917.7,1509.8 930.3,1510.4 942.8,1510.2 955.4,1510.9 967.9,1512.0 980.5,1511.7 993.1,1514.6 1005.6,1514.0 1018.2,1514.9 1030.7,1519.5 1043.3,1519.3 1055.9,1520.3 1068.4,1525.0 1081.0,1525.2 1093.5,1528.5 1106.1,1528.7 1118.7,1530.6 1131.2,1530.6 1143.8,1531.7 1156.3,1533.9 1168.9,1536.2 1181.5,1538.5 1194.0,1541.3 1206.6,1539.2 1219.1,1541.8 1231.7,1541.1 1244.3,1542.3 1256.8,1542.3 1269.4,1543.8 1281.9,1546.2 1294.5,1547.8" fill="none" stroke="#86d8f0" stroke-width="3.2" stroke-linejoin="round" />
<polyline points="729.3,1505.7 741.9,1502.1 754.4,1500.8 767.0,1496.6 779.5,1493.5 792.1,1491.1 804.7,1487.2 817.2,1483.4 829.8,1479.9 842.3,1476.4 854.9,1473.9 867.5,1470.0 880.0,1465.5 892.6,1461.4 905.1,1455.9 917.7,1453.5 930.3,1449.1 942.8,1449.3 955.4,1446.3 967.9,1445.4 980.5,1445.0 993.1,1443.9 1005.6,1443.3 1018.2,1444.7 1030.7,1444.4 1043.3,1444.7 1055.9,1447.3 1068.4,1447.2 1081.0,1452.8 1093.5,1454.1 1106.1,1456.9 1118.7,1461.0 1131.2,1462.8 1143.8,1462.9 1156.3,1465.7 1168.9,1469.1 1181.5,1473.0 1194.0,1474.5 1206.6,1477.3 1219.1,1480.5 1231.7,1481.6 1244.3,1483.8 1256.8,1485.4 1269.4,1485.5 1281.9,1487.2 1294.5,1486.9" fill="none" stroke="#46aedf" stroke-width="3.6" stroke-linejoin="round" />
<polyline points="729.3,1458.8 741.9,1457.3 754.4,1452.0 767.0,1450.8 779.5,1447.0 792.1,1442.2 804.7,1438.3 817.2,1434.2 829.8,1429.0 842.3,1424.7 854.9,1419.7 867.5,1414.9 880.0,1409.5 892.6,1402.3 905.1,1397.9 917.7,1391.3 930.3,1387.5 942.8,1384.0 955.4,1379.8 967.9,1375.4 980.5,1370.4 993.1,1365.9 1005.6,1364.1 1018.2,1363.2 1030.7,1363.5 1043.3,1362.7 1055.9,1365.3 1068.4,1365.1 1081.0,1363.7 1093.5,1368.1 1106.1,1372.5 1118.7,1373.7 1131.2,1376.2 1143.8,1379.1 1156.3,1384.5 1168.9,1388.2 1181.5,1392.2 1194.0,1396.2 1206.6,1400.8 1219.1,1403.5 1231.7,1404.8 1244.3,1409.8 1256.8,1412.7 1269.4,1416.0 1281.9,1420.3 1294.5,1423.3" fill="none" stroke="#52cfc4" stroke-width="3.2" stroke-linejoin="round" />
<polyline points="729.3,1416.7 741.9,1417.4 754.4,1415.5 767.0,1412.5 779.5,1410.1 792.1,1407.5 804.7,1402.0 817.2,1398.6 829.8,1392.9 842.3,1386.4 854.9,1378.5 867.5,1370.6 880.0,1362.9 892.6,1352.3 905.1,1339.7 917.7,1327.0 930.3,1313.2 942.8,1300.8 955.4,1287.5 967.9,1270.6 980.5,1258.4 993.1,1243.1 1005.6,1236.8 1018.2,1230.2 1030.7,1221.2 1043.3,1215.9 1055.9,1213.7 1068.4,1214.1 1081.0,1218.7 1093.5,1225.2 1106.1,1227.2 1118.7,1236.3 1131.2,1243.1 1143.8,1250.9 1156.3,1258.8 1168.9,1266.5 1181.5,1276.2 1194.0,1284.8 1206.6,1291.7 1219.1,1300.0 1231.7,1307.6 1244.3,1315.4 1256.8,1321.9 1269.4,1326.9 1281.9,1331.3 1294.5,1334.7" fill="none" stroke="#f0287e" stroke-width="3.6" stroke-linejoin="round" />
<line x1="1119.0" y1="1186.6" x2="1080.3" y2="1203.9" stroke="#f0287e" stroke-width="2"/><path d="M1069.3,1208.8 L1078.2,1199.3 L1082.3,1208.5 z" fill="#f0287e"/>
<line x1="1078.0" y1="1332.8" x2="1040.3" y2="1349.0" stroke="#52cfc4" stroke-width="2"/><path d="M1029.3,1353.8 L1038.3,1344.5 L1042.3,1353.6 z" fill="#52cfc4"/>
<line x1="1040.7" y1="1412.2" x2="1002.1" y2="1428.2" stroke="#46aedf" stroke-width="2"/><path d="M991.0,1432.8 L1000.2,1423.6 L1004.0,1432.8 z" fill="#46aedf"/>
<line x1="981.6" y1="1479.7" x2="944.0" y2="1495.9" stroke="#86d8f0" stroke-width="2"/><path d="M933.0,1500.7 L942.0,1491.4 L946.0,1500.5 z" fill="#86d8f0"/>
<line x1="913.2" y1="1534.3" x2="876.1" y2="1551.1" stroke="#b4b4de" stroke-width="2"/><path d="M865.2,1556.0 L874.1,1546.5 L878.2,1555.6 z" fill="#b4b4de"/>
<rect x="729.3" y="1172.5" width="565.2" height="455.8" fill="none" stroke="#000" stroke-width="3"/>
<path d="M729.3 1629.8v8 M917.7 1629.8v8 M1106.1 1629.8v8 M1294.5 1629.8v8 M823.5 1629.8v4 M1011.9 1629.8v4 M1200.3 1629.8v4" stroke="#000" stroke-width="3" fill="none"/>
<text x="729.3" y="1666.0" font-size="30" font-weight="bold" fill="#000" text-anchor="middle">0.02</text>
<text x="917.7" y="1666.0" font-size="30" font-weight="bold" fill="#000" text-anchor="middle">0.04</text>
<text x="1106.1" y="1666.0" font-size="30" font-weight="bold" fill="#000" text-anchor="middle">0.06</text>
<text x="1294.5" y="1666.0" font-size="30" font-weight="bold" fill="#000" text-anchor="middle">0.08</text>
<rect x="1435.6" y="1236.0" width="55.7" height="392.3" fill="#c1c2e2"/>
<path d="M1463.4 1236.0V1207.8M1458.4 1207.8h10" stroke="#000" stroke-width="3" fill="none"/>
<rect x="1546.7" y="1285.6" width="55.8" height="342.7" fill="#a9e3f1"/>
<path d="M1574.6 1285.6V1259.7M1569.6 1259.7h10" stroke="#000" stroke-width="3" fill="none"/>
<rect x="1658.2" y="1326.2" width="56.2" height="302.1" fill="#5fc6e4"/>
<path d="M1686.3 1326.2V1296.9M1681.3 1296.9h10" stroke="#000" stroke-width="3" fill="none"/>
<rect x="1769.8" y="1366.8" width="56.2" height="261.5" fill="#6fdfd5"/>
<path d="M1797.9 1366.8V1344.2M1792.9 1344.2h10" stroke="#000" stroke-width="3" fill="none"/>
<rect x="1881.4" y="1395.6" width="55.8" height="232.7" fill="#fe3399"/>
<path d="M1909.3 1395.6V1389.3M1904.3 1389.3h10" stroke="#000" stroke-width="3" fill="none"/>
<path d="M1408 1628.3V1177.4H1965.2V1628.3" fill="none" stroke="#000" stroke-width="3"/>
<path d="M1399 1628.3H1965.2" fill="none" stroke="#000" stroke-width="3.5"/>
<path d="M1406.5 1628.3h-7 M1406.5 1538.1h-7 M1406.5 1447.9h-7 M1406.5 1357.8h-7 M1406.5 1267.6h-7 M1406.5 1177.4h-7 M1406.5 1583.2h-3 M1406.5 1493.0h-3 M1406.5 1402.8h-3 M1406.5 1312.7h-3 M1406.5 1222.5h-3" stroke="#000" stroke-width="3" fill="none"/>
<text x="1392.0" y="1636.8" font-size="30" font-weight="bold" fill="#000" text-anchor="end">0</text>
<text x="1392.0" y="1546.6" font-size="30" font-weight="bold" fill="#000" text-anchor="end">4</text>
<text x="1392.0" y="1456.4" font-size="30" font-weight="bold" fill="#000" text-anchor="end">8</text>
<text x="1392.0" y="1366.3" font-size="30" font-weight="bold" fill="#000" text-anchor="end">12</text>
<text x="1392.0" y="1276.1" font-size="30" font-weight="bold" fill="#000" text-anchor="end">16</text>
<text x="1392.0" y="1185.9" font-size="30" font-weight="bold" fill="#000" text-anchor="end">20</text>
<polyline points="76.9,2188.2 77.4,2187.4 77.9,2189.1 78.4,2190.2 78.9,2191.3 79.4,2189.7 79.9,2188.6 80.5,2188.2 81.0,2190.7 81.5,2192.1 82.0,2189.9 82.5,2187.5 83.0,2187.9 83.5,2192.0 84.0,2189.7 84.5,2186.6 85.0,2189.3 85.5,2187.5 86.0,2188.4 86.5,2188.6 87.0,2188.2 87.6,2190.2 88.1,2189.2 88.6,2188.3 89.1,2189.9 89.6,2190.6 90.1,2186.6 90.6,2188.8 91.1,2187.6 91.6,2188.9 92.1,2187.1 92.6,2189.2 93.1,2189.0 93.6,2188.6 94.1,2187.4 94.7,2188.4 95.2,2187.2 95.7,2186.8 96.2,2189.3 96.7,2187.1 97.2,2190.8 97.7,2190.0 98.2,2185.6 98.7,2189.2 99.2,2187.0 99.7,2188.8 100.2,2188.8 100.7,2185.5 101.2,2188.3 101.8,2188.2 102.3,2190.1 102.8,2186.6 103.3,2189.7 103.8,2186.7 104.3,2187.9 104.8,2187.0 105.3,2190.7 105.8,2189.2 106.3,2192.1 106.8,2189.2 107.3,2189.5 107.8,2189.5 108.3,2187.1 108.9,2187.9 109.4,2190.2 109.9,2187.3 110.4,2188.2 110.9,2187.8 111.4,2188.8 111.9,2187.2 112.4,2187.5 112.9,2188.1 113.4,2187.8 113.9,2186.2 114.4,2189.0 114.9,2185.4 115.4,2185.5 116.0,2185.4 116.5,2188.9 117.0,2186.7 117.5,2185.7 118.0,2185.4 118.5,2187.8 119.0,2185.4 119.5,2185.0 120.0,2188.0 120.5,2185.0 121.0,2186.4 121.5,2186.8 122.0,2186.1 122.5,2186.7 123.1,2188.8 123.6,2185.8 124.1,2184.6 124.6,2183.6 125.1,2186.1 125.6,2185.8 126.1,2186.8 126.6,2185.6 127.1,2185.5 127.6,2185.0 128.1,2185.3 128.6,2186.3 129.1,2185.4 129.6,2186.1 130.2,2188.9 130.7,2186.6 131.2,2183.3 131.7,2188.5 132.2,2186.2 132.7,2184.1 133.2,2187.0 133.7,2185.5 134.2,2184.4 134.7,2184.3 135.2,2183.7 135.7,2185.3 136.2,2186.8 136.7,2184.5 137.3,2185.6 137.8,2187.8 138.3,2182.8 138.8,2185.1 139.3,2184.1 139.8,2182.8 140.3,2182.7 140.8,2184.2 141.3,2184.8 141.8,2183.2 142.3,2184.0 142.8,2185.0 143.3,2184.2 143.8,2184.9 144.4,2184.2 144.9,2184.1 145.4,2186.1 145.9,2184.0 146.4,2183.1 146.9,2183.9 147.4,2181.2 147.9,2182.0 148.4,2183.6 148.9,2183.2 149.4,2184.5 149.9,2181.9 150.4,2179.4 150.9,2184.7 151.5,2183.2 152.0,2179.6 152.5,2183.3 153.0,2181.0 153.5,2177.9 154.0,2179.9 154.5,2179.6 155.0,2182.8 155.5,2178.8 156.0,2179.5 156.5,2179.3 157.0,2178.9 157.5,2177.9 158.1,2179.5 158.6,2180.7 159.1,2179.8 159.6,2177.1 160.1,2176.6 160.6,2178.4 161.1,2176.9 161.6,2176.8 162.1,2174.9 162.6,2180.6 163.1,2178.7 163.6,2175.5 164.1,2178.3 164.6,2178.8 165.2,2172.6 165.7,2175.3 166.2,2175.3 166.7,2176.8 167.2,2175.3 167.7,2174.8 168.2,2174.8 168.7,2177.5 169.2,2177.6 169.7,2172.9 170.2,2171.9 170.7,2177.2 171.2,2170.9 171.7,2171.2 172.3,2171.7 172.8,2171.9 173.3,2172.4 173.8,2170.9 174.3,2168.4 174.8,2170.2 175.3,2169.3 175.8,2171.5 176.3,2168.0 176.8,2165.5 177.3,2165.6 177.8,2169.2 178.3,2165.7 178.8,2162.8 179.4,2165.0 179.9,2165.6 180.4,2167.2 180.9,2163.5 181.4,2166.0 181.9,2166.1 182.4,2163.5 182.9,2164.3 183.4,2167.4 183.9,2167.2 184.4,2165.8 184.9,2164.9 185.4,2166.2 185.9,2164.1 186.5,2164.1 187.0,2162.9 187.5,2164.2 188.0,2164.0 188.5,2168.6 189.0,2163.8 189.5,2166.1 190.0,2166.2 190.5,2163.8 191.0,2165.9 191.5,2160.5 192.0,2164.1 192.5,2165.3 193.0,2160.1 193.6,2162.1 194.1,2165.6 194.6,2163.5 195.1,2162.1 195.6,2163.2 196.1,2162.9 196.6,2164.9 197.1,2164.4 197.6,2163.2 198.1,2162.6 198.6,2163.5 199.1,2165.7 199.6,2164.0 200.1,2164.4 200.7,2163.1 201.2,2161.2 201.7,2162.0 202.2,2164.1 202.7,2163.1 203.2,2161.4 203.7,2160.1 204.2,2162.7 204.7,2161.8 205.2,2161.7 205.7,2161.5 206.2,2162.3 206.7,2162.2 207.2,2163.0 207.8,2162.8 208.3,2163.2 208.8,2162.1 209.3,2160.1 209.8,2160.3 210.3,2161.0 210.8,2159.4 211.3,2160.6 211.8,2161.3 212.3,2157.9 212.8,2156.1 213.3,2160.5 213.8,2158.4 214.3,2159.2 214.9,2155.7 215.4,2160.3 215.9,2158.4 216.4,2156.7 216.9,2156.1 217.4,2156.5 217.9,2155.8 218.4,2155.3 218.9,2153.7 219.4,2157.2 219.9,2154.8 220.4,2154.7 220.9,2154.4 221.4,2150.2 222.0,2154.5 222.5,2152.8 223.0,2152.5 223.5,2152.8 224.0,2150.8 224.5,2153.5 225.0,2150.7 225.5,2150.1 226.0,2149.8 226.5,2151.2 227.0,2151.8 227.5,2149.4 228.0,2147.6 228.5,2151.5 229.1,2147.8 229.6,2151.1 230.1,2148.9 230.6,2147.6 231.1,2147.4 231.6,2148.9 232.1,2149.3 232.6,2147.4 233.1,2148.9 233.6,2150.5 234.1,2146.6 234.6,2144.9 235.1,2144.8 235.6,2144.0 236.2,2144.9 236.7,2144.5 237.2,2143.3 237.7,2146.0 238.2,2140.8 238.7,2142.6 239.2,2147.6 239.7,2145.8 240.2,2144.7 240.7,2144.3 241.2,2146.2 241.7,2143.9 242.2,2142.9 242.8,2140.6 243.3,2142.2 243.8,2140.8 244.3,2140.6 244.8,2140.3 245.3,2141.1 245.8,2140.4 246.3,2142.1 246.8,2138.3 247.3,2139.9 247.8,2142.9 248.3,2139.7 248.8,2141.3 249.3,2140.9 249.9,2140.9 250.4,2139.8 250.9,2136.1 251.4,2137.7 251.9,2137.2 252.4,2135.1 252.9,2136.6 253.4,2135.1 253.9,2134.2 254.4,2137.0 254.9,2136.3 255.4,2135.1 255.9,2134.4 256.4,2134.8 257.0,2134.8 257.5,2134.6 258.0,2135.0 258.5,2134.1 259.0,2135.3 259.5,2135.3 260.0,2134.8 260.5,2133.0 261.0,2132.9 261.5,2134.4 262.0,2133.2 262.5,2133.3 263.0,2129.2 263.5,2128.7 264.1,2133.4 264.6,2133.2 265.1,2134.8 265.6,2133.6 266.1,2132.6 266.6,2132.2 267.1,2129.7 267.6,2133.3 268.1,2130.8 268.6,2132.5 269.1,2131.8 269.6,2131.8 270.1,2132.7 270.6,2130.4 271.2,2130.4 271.7,2129.5 272.2,2130.2 272.7,2133.3 273.2,2130.0 273.7,2132.3 274.2,2131.6 274.7,2131.4 275.2,2131.4 275.7,2128.4 276.2,2130.5 276.7,2132.4 277.2,2128.6 277.7,2129.6 278.3,2128.5 278.8,2130.0 279.3,2127.7 279.8,2132.0 280.3,2128.7 280.8,2126.8 281.3,2132.1 281.8,2130.8 282.3,2130.0 282.8,2130.1 283.3,2128.6 283.8,2128.9 284.3,2130.4 284.8,2130.7 285.4,2130.8 285.9,2129.7 286.4,2128.6 286.9,2129.1 287.4,2131.3 287.9,2131.9 288.4,2129.1 288.9,2128.9 289.4,2131.8 289.9,2131.0 290.4,2131.1 290.9,2128.0 291.4,2129.6 291.9,2129.5 292.5,2130.8 293.0,2127.9 293.5,2132.7 294.0,2131.3 294.5,2131.6 295.0,2129.2 295.5,2131.2 296.0,2133.5 296.5,2129.0 297.0,2132.2 297.5,2132.9 298.0,2130.9 298.5,2133.4 299.0,2131.8 299.6,2134.4 300.1,2133.5 300.6,2133.1 301.1,2136.2 301.6,2134.4 302.1,2135.4 302.6,2131.5 303.1,2132.6 303.6,2135.1 304.1,2135.4 304.6,2134.0 305.1,2135.5 305.6,2132.7 306.1,2134.9 306.7,2132.9 307.2,2135.4 307.7,2134.3 308.2,2134.2 308.7,2135.4 309.2,2138.4 309.7,2134.0 310.2,2134.8 310.7,2137.6 311.2,2135.4 311.7,2139.0 312.2,2136.7 312.7,2136.6 313.2,2137.2 313.8,2139.6 314.3,2138.0 314.8,2137.9 315.3,2137.6 315.8,2134.9 316.3,2136.1 316.8,2140.1 317.3,2139.2 317.8,2138.8 318.3,2139.2 318.8,2137.5 319.3,2139.1 319.8,2137.2 320.4,2139.5 320.9,2137.9 321.4,2138.8 321.9,2140.1 322.4,2139.0 322.9,2140.7 323.4,2140.6 323.9,2140.6 324.4,2142.3 324.9,2138.0 325.4,2138.0 325.9,2141.7 326.4,2142.4 326.9,2144.3 327.5,2142.5 328.0,2142.7 328.5,2140.2 329.0,2142.9 329.5,2143.0 330.0,2140.4 330.5,2140.8 331.0,2142.2 331.5,2143.0 332.0,2138.0 332.5,2143.0 333.0,2143.4 333.5,2142.9 334.0,2143.7 334.6,2144.2 335.1,2142.0 335.6,2144.4 336.1,2143.5 336.6,2142.5 337.1,2144.5 337.6,2146.6 338.1,2142.1 338.6,2141.9 339.1,2142.0 339.6,2147.9 340.1,2144.4 340.6,2144.9 341.1,2143.8 341.7,2143.6 342.2,2142.0 342.7,2145.6 343.2,2145.8 343.7,2142.3 344.2,2143.9 344.7,2144.4 345.2,2145.7 345.7,2146.2 346.2,2147.6 346.7,2148.1 347.2,2147.7 347.7,2148.2 348.2,2144.2 348.8,2145.3 349.3,2148.1 349.8,2146.8 350.3,2146.4 350.8,2143.3 351.3,2143.5 351.8,2147.7 352.3,2147.2 352.8,2146.2 353.3,2146.1 353.8,2144.1 354.3,2147.5 354.8,2148.6 355.3,2149.6 355.9,2147.1 356.4,2146.8 356.9,2145.4 357.4,2149.2 357.9,2150.0 358.4,2146.4 358.9,2147.9 359.4,2147.6 359.9,2146.6 360.4,2143.6 360.9,2147.1 361.4,2148.7 361.9,2145.5 362.4,2146.5 363.0,2142.6 363.5,2150.0 364.0,2148.8 364.5,2148.1 365.0,2147.6 365.5,2147.1 366.0,2148.1 366.5,2147.7 367.0,2147.9 367.5,2148.3 368.0,2148.6 368.5,2150.9 369.0,2146.1 369.5,2148.9 370.1,2147.5 370.6,2146.8 371.1,2144.8 371.6,2149.6 372.1,2147.1 372.6,2147.5 373.1,2149.5 373.6,2147.1 374.1,2148.9 374.6,2148.8 375.1,2150.2 375.6,2150.6 376.1,2147.6 376.6,2150.5 377.2,2148.9 377.7,2149.3 378.2,2148.7 378.7,2150.4 379.2,2147.2 379.7,2149.6 380.2,2151.1 380.7,2148.8 381.2,2152.5 381.7,2148.1 382.2,2149.6 382.7,2148.5 383.2,2148.3 383.7,2147.5 384.3,2148.5 384.8,2149.3 385.3,2148.1 385.8,2150.8 386.3,2151.8 386.8,2146.9 387.3,2150.7 387.8,2149.7 388.3,2149.8 388.8,2153.3 389.3,2151.3 389.8,2149.9 390.3,2149.7 390.8,2145.9 391.4,2150.6 391.9,2148.1 392.4,2149.6 392.9,2149.5 393.4,2150.8 393.9,2152.5 394.4,2150.8 394.9,2151.2 395.4,2148.8 395.9,2149.8 396.4,2150.3 396.9,2146.7 397.4,2152.3 398.0,2147.8 398.5,2146.9 399.0,2151.5 399.5,2152.2 400.0,2147.6 400.5,2147.7 401.0,2153.6 401.5,2148.8 402.0,2145.4 402.5,2147.5 403.0,2151.6 403.5,2149.4 404.0,2149.5 404.5,2150.2 405.1,2149.3 405.6,2147.7 406.1,2145.6 406.6,2148.8 407.1,2146.3 407.6,2147.9 408.1,2150.8 408.6,2148.8 409.1,2148.0 409.6,2147.9 410.1,2149.0 410.6,2149.2 411.1,2145.6 411.6,2148.0 412.2,2150.4 412.7,2148.8 413.2,2146.4 413.7,2146.5 414.2,2144.3 414.7,2146.3 415.2,2150.1 415.7,2147.4 416.2,2146.1 416.7,2146.6 417.2,2147.3 417.7,2147.3 418.2,2147.0 418.7,2146.3 419.3,2148.6 419.8,2150.1 420.3,2146.8 420.8,2146.9 421.3,2149.7 421.8,2145.5 422.3,2147.0 422.8,2147.4 423.3,2148.4 423.8,2147.8 424.3,2146.9 424.8,2148.9 425.3,2146.6 425.8,2145.8 426.4,2145.5 426.9,2150.1 427.4,2146.2 427.9,2149.9 428.4,2150.4 428.9,2150.7 429.4,2149.3 429.9,2148.9 430.4,2150.0 430.9,2149.1 431.4,2148.2 431.9,2152.4 432.4,2149.1 432.9,2153.6 433.5,2151.7 434.0,2150.3 434.5,2151.9 435.0,2153.4 435.5,2149.4 436.0,2150.3 436.5,2150.3 437.0,2152.4 437.5,2153.0 438.0,2152.6 438.5,2151.6 439.0,2152.1 439.5,2155.0 440.0,2155.1 440.6,2153.7 441.1,2151.6 441.6,2154.8 442.1,2154.5 442.6,2154.6 443.1,2157.2 443.6,2155.9 444.1,2153.2 444.6,2153.4 445.1,2157.3 445.6,2155.6 446.1,2156.9 446.6,2155.5 447.1,2154.4 447.7,2156.6 448.2,2158.9 448.7,2157.2 449.2,2155.1 449.7,2156.6 450.2,2156.6 450.7,2157.9 451.2,2159.5 451.7,2161.3 452.2,2158.8 452.7,2158.0 453.2,2159.1 453.7,2159.3 454.2,2158.8 454.8,2159.8 455.3,2160.1 455.8,2158.5 456.3,2161.5 456.8,2160.3 457.3,2159.6 457.8,2162.3 458.3,2161.0 458.8,2164.9 459.3,2163.1 459.8,2162.8 460.3,2161.8 460.8,2162.6 461.3,2164.9 461.9,2162.8 462.4,2165.4 462.9,2161.1 463.4,2165.1 463.9,2166.4 464.4,2165.9 464.9,2165.6 465.4,2167.6 465.9,2164.9 466.4,2165.0 466.9,2167.0 467.4,2169.0 467.9,2168.1 468.4,2167.4 469.0,2168.4 469.5,2168.9 470.0,2166.5 470.5,2164.3 471.0,2167.4 471.5,2166.9 472.0,2168.6 472.5,2167.9 473.0,2168.7 473.5,2171.0 474.0,2170.7 474.5,2170.8 475.0,2173.7 475.6,2170.5 476.1,2170.9 476.6,2173.7 477.1,2170.1 477.6,2169.5 478.1,2174.4 478.6,2173.0 479.1,2173.6 479.6,2173.9 480.1,2174.5 480.6,2172.5 481.1,2173.3 481.6,2171.8 482.1,2174.0 482.7,2174.3 483.2,2173.4 483.7,2175.4 484.2,2179.2 484.7,2172.8 485.2,2176.1 485.7,2176.5 486.2,2176.9 486.7,2174.0 487.2,2177.4 487.7,2176.7 488.2,2175.6 488.7,2175.4 489.2,2176.5 489.8,2177.8 490.3,2177.9 490.8,2180.3 491.3,2176.2 491.8,2177.9 492.3,2176.4 492.8,2178.5 493.3,2177.6 493.8,2176.6 494.3,2175.6 494.8,2176.6 495.3,2178.4 495.8,2180.5 496.3,2179.5 496.9,2176.5 497.4,2177.8 497.9,2178.7 498.4,2178.6 498.9,2179.0 499.4,2180.3 499.9,2179.5 500.4,2178.1 500.9,2176.3 501.4,2178.9 501.9,2176.9 502.4,2179.5 502.9,2180.3 503.4,2177.8 504.0,2179.8 504.5,2179.6 505.0,2183.3 505.5,2181.1 506.0,2177.5 506.5,2181.3 507.0,2181.4 507.5,2180.5 508.0,2180.3 508.5,2182.0 509.0,2182.2 509.5,2181.9 510.0,2179.8 510.5,2181.0 511.1,2179.1 511.6,2179.3 512.1,2180.9 512.6,2180.2 513.1,2181.3 513.6,2186.0 514.1,2183.0 514.6,2180.9 515.1,2178.9 515.6,2181.1 516.1,2180.3 516.6,2179.2 517.1,2183.9 517.6,2182.1 518.2,2183.7 518.7,2188.1 519.2,2183.6 519.7,2183.5 520.2,2184.0 520.7,2183.1 521.2,2182.3 521.7,2183.4 522.2,2185.7 522.7,2183.5 523.2,2181.9 523.7,2182.2 524.2,2182.6 524.7,2184.4 525.3,2185.3 525.8,2185.4 526.3,2186.6 526.8,2184.5 527.3,2186.3 527.8,2185.6 528.3,2186.3 528.8,2182.3 529.3,2187.4 529.8,2183.0 530.3,2183.8 530.8,2186.9 531.3,2185.2 531.8,2188.7 532.4,2186.2 532.9,2184.4 533.4,2186.4 533.9,2185.6 534.4,2188.9 534.9,2189.1 535.4,2187.7 535.9,2186.0 536.4,2186.9 536.9,2188.5 537.4,2185.6 537.9,2185.7 538.4,2188.5 538.9,2188.4 539.5,2186.9 540.0,2186.9 540.5,2184.3 541.0,2189.4 541.5,2187.4 542.0,2185.4 542.5,2186.0 543.0,2186.4 543.5,2190.6 544.0,2189.1 544.5,2185.9 545.0,2191.1 545.5,2190.4 546.0,2186.6 546.6,2184.1 547.1,2190.0 547.6,2187.5 548.1,2188.4 548.6,2187.8 549.1,2190.7 549.6,2191.1 550.1,2190.1 550.6,2188.6 551.1,2189.4 551.6,2190.0 552.1,2186.5 552.6,2191.1 553.1,2188.7 553.7,2189.7 554.2,2189.5 554.7,2190.8 555.2,2191.1 555.7,2193.0 556.2,2188.9 556.7,2188.1 557.2,2189.8 557.7,2188.6 558.2,2191.1 558.7,2188.5 559.2,2190.0 559.7,2191.4 560.3,2191.5 560.8,2190.3 561.3,2192.2 561.8,2192.1 562.3,2187.4 562.8,2190.7 563.3,2190.4 563.8,2189.7 564.3,2189.2 564.8,2190.4 565.3,2190.9 565.8,2190.8 566.3,2192.6 566.8,2192.0 567.4,2189.5 567.9,2189.3 568.4,2191.9 568.9,2189.5 569.4,2190.9 569.9,2191.4 570.4,2192.4 570.9,2191.6 571.4,2193.1 571.9,2190.1 572.4,2191.9 572.9,2189.8 573.4,2191.2 573.9,2191.1 574.5,2189.5 575.0,2186.8 575.5,2192.6 576.0,2191.7 576.5,2191.3 577.0,2190.0 577.5,2190.6 578.0,2191.9 578.5,2191.3 579.0,2193.1 579.5,2191.5 580.0,2190.0 580.5,2192.3 581.0,2190.4 581.6,2191.8 582.1,2188.5 582.6,2190.9 583.1,2192.4 583.6,2190.5 584.1,2191.5 584.6,2192.5 585.1,2191.7 585.6,2194.5 586.1,2191.2 586.6,2191.4 587.1,2191.4 587.6,2188.6 588.1,2189.3 588.7,2192.6 589.2,2191.3 589.7,2194.1 590.2,2191.7 590.7,2191.6 591.2,2193.6 591.7,2192.4 592.2,2194.5 592.7,2190.3 593.2,2192.7 593.7,2193.1 594.2,2193.0 594.7,2194.0 595.2,2193.8 595.8,2192.2 596.3,2191.3 596.8,2193.8 597.3,2192.4 597.8,2193.8 598.3,2194.5 598.8,2192.7 599.3,2191.0 599.8,2192.0 600.3,2193.7 600.8,2192.1 601.3,2194.4 601.8,2192.6 602.3,2192.8 602.9,2191.6 603.4,2192.5 603.9,2194.5 604.4,2192.2 604.9,2192.2 605.4,2191.5 605.9,2194.1 606.4,2190.4 606.9,2191.8 607.4,2194.3 607.9,2195.2 608.4,2192.6 608.9,2194.5 609.4,2189.8 610.0,2194.2 610.5,2193.5 611.0,2191.1 611.5,2190.2 612.0,2192.3 612.5,2193.5 613.0,2193.7 613.5,2193.3 614.0,2194.4 614.5,2194.3 615.0,2191.0 615.5,2192.6 616.0,2192.5 616.5,2194.9 617.1,2192.5 617.6,2195.0 618.1,2193.5 618.6,2197.1 619.1,2193.3 619.6,2193.5 620.1,2193.3 620.6,2193.7 621.1,2197.4 621.6,2192.7 622.1,2192.2 622.6,2193.3 623.1,2194.7 623.6,2192.0 624.2,2194.9 624.7,2194.9 625.2,2193.4 625.7,2193.3 626.2,2192.5 626.7,2193.3 627.2,2192.5 627.7,2195.8 628.2,2196.4 628.7,2193.4 629.2,2193.8 629.7,2190.8 630.2,2193.0 630.7,2194.5 631.3,2194.4 631.8,2194.2 632.3,2195.3 632.8,2194.1 633.3,2193.4 633.8,2196.6 634.3,2191.0" fill="none" stroke="#5fd8cc" stroke-width="3" stroke-linejoin="round" />
<polyline points="76.9,2105.6 77.4,2106.3 77.9,2106.3 78.4,2106.3 78.9,2107.2 79.4,2106.4 79.9,2107.5 80.5,2108.6 81.0,2107.7 81.5,2107.9 82.0,2106.2 82.5,2105.9 83.0,2107.3 83.5,2109.2 84.0,2108.4 84.5,2109.5 85.0,2109.4 85.5,2109.6 86.0,2106.6 86.5,2109.9 87.0,2109.1 87.6,2111.2 88.1,2108.9 88.6,2108.5 89.1,2107.8 89.6,2108.3 90.1,2105.4 90.6,2107.6 91.1,2108.0 91.6,2109.7 92.1,2107.1 92.6,2108.3 93.1,2111.0 93.6,2107.3 94.1,2109.5 94.7,2107.3 95.2,2108.0 95.7,2108.9 96.2,2109.6 96.7,2107.4 97.2,2106.6 97.7,2110.7 98.2,2108.6 98.7,2109.5 99.2,2109.7 99.7,2109.5 100.2,2107.9 100.7,2108.1 101.2,2105.9 101.8,2108.6 102.3,2107.6 102.8,2108.3 103.3,2111.3 103.8,2109.5 104.3,2108.5 104.8,2106.2 105.3,2109.5 105.8,2110.8 106.3,2107.1 106.8,2109.1 107.3,2107.6 107.8,2108.2 108.3,2107.9 108.9,2105.9 109.4,2107.6 109.9,2105.9 110.4,2110.6 110.9,2110.1 111.4,2108.5 111.9,2108.9 112.4,2108.6 112.9,2108.8 113.4,2108.8 113.9,2108.1 114.4,2108.2 114.9,2106.4 115.4,2106.9 116.0,2107.5 116.5,2108.8 117.0,2107.9 117.5,2111.5 118.0,2108.2 118.5,2107.9 119.0,2109.2 119.5,2110.1 120.0,2111.4 120.5,2110.0 121.0,2107.6 121.5,2108.2 122.0,2110.2 122.5,2108.9 123.1,2109.8 123.6,2108.4 124.1,2111.0 124.6,2110.8 125.1,2110.3 125.6,2108.8 126.1,2106.0 126.6,2106.4 127.1,2109.0 127.6,2109.6 128.1,2104.0 128.6,2107.8 129.1,2110.3 129.6,2110.0 130.2,2107.8 130.7,2109.5 131.2,2108.6 131.7,2108.2 132.2,2110.3 132.7,2110.3 133.2,2107.7 133.7,2107.1 134.2,2106.5 134.7,2106.3 135.2,2110.6 135.7,2111.4 136.2,2108.8 136.7,2110.1 137.3,2107.4 137.8,2108.4 138.3,2109.9 138.8,2108.9 139.3,2108.3 139.8,2105.8 140.3,2106.1 140.8,2107.7 141.3,2107.4 141.8,2108.1 142.3,2107.2 142.8,2107.8 143.3,2108.2 143.8,2108.9 144.4,2108.2 144.9,2107.2 145.4,2107.5 145.9,2109.3 146.4,2107.6 146.9,2106.3 147.4,2106.2 147.9,2108.2 148.4,2108.5 148.9,2109.5 149.4,2107.0 149.9,2109.6 150.4,2106.9 150.9,2107.0 151.5,2106.4 152.0,2108.0 152.5,2108.8 153.0,2107.1 153.5,2106.2 154.0,2104.5 154.5,2107.1 155.0,2106.3 155.5,2106.4 156.0,2105.7 156.5,2105.2 157.0,2105.8 157.5,2107.1 158.1,2107.8 158.6,2106.2 159.1,2106.7 159.6,2105.8 160.1,2105.8 160.6,2103.8 161.1,2107.2 161.6,2106.6 162.1,2107.9 162.6,2104.6 163.1,2105.6 163.6,2103.9 164.1,2105.6 164.6,2104.9 165.2,2106.1 165.7,2104.7 166.2,2105.8 166.7,2104.0 167.2,2105.5 167.7,2104.0 168.2,2103.7 168.7,2104.4 169.2,2104.8 169.7,2101.9 170.2,2101.6 170.7,2104.1 171.2,2103.6 171.7,2100.5 172.3,2100.8 172.8,2102.1 173.3,2103.5 173.8,2103.1 174.3,2104.1 174.8,2104.0 175.3,2105.5 175.8,2099.3 176.3,2101.1 176.8,2102.4 177.3,2098.5 177.8,2097.9 178.3,2100.0 178.8,2101.1 179.4,2101.0 179.9,2096.0 180.4,2096.7 180.9,2098.2 181.4,2097.3 181.9,2098.5 182.4,2098.2 182.9,2100.7 183.4,2097.9 183.9,2098.3 184.4,2098.1 184.9,2099.7 185.4,2096.3 185.9,2098.7 186.5,2097.0 187.0,2096.0 187.5,2100.1 188.0,2099.2 188.5,2100.6 189.0,2098.9 189.5,2099.6 190.0,2098.9 190.5,2099.7 191.0,2098.2 191.5,2101.6 192.0,2097.7 192.5,2101.8 193.0,2098.9 193.6,2100.7 194.1,2099.6 194.6,2100.2 195.1,2101.9 195.6,2099.8 196.1,2098.2 196.6,2100.1 197.1,2100.8 197.6,2096.0 198.1,2101.4 198.6,2101.6 199.1,2097.1 199.6,2099.6 200.1,2101.2 200.7,2098.1 201.2,2099.2 201.7,2099.3 202.2,2100.7 202.7,2101.6 203.2,2099.7 203.7,2099.9 204.2,2101.2 204.7,2100.5 205.2,2099.5 205.7,2101.7 206.2,2097.3 206.7,2099.8 207.2,2098.8 207.8,2098.6 208.3,2099.7 208.8,2099.3 209.3,2103.1 209.8,2100.2 210.3,2099.6 210.8,2101.6 211.3,2100.5 211.8,2095.9 212.3,2099.0 212.8,2099.9 213.3,2097.7 213.8,2099.0 214.3,2097.7 214.9,2099.0 215.4,2095.7 215.9,2095.1 216.4,2097.2 216.9,2098.3 217.4,2100.0 217.9,2097.3 218.4,2096.5 218.9,2099.0 219.4,2097.5 219.9,2100.2 220.4,2097.1 220.9,2094.1 221.4,2095.8 222.0,2095.4 222.5,2094.6 223.0,2095.5 223.5,2095.5 224.0,2096.0 224.5,2095.5 225.0,2096.9 225.5,2096.8 226.0,2096.3 226.5,2096.2 227.0,2092.8 227.5,2093.0 228.0,2094.2 228.5,2095.8 229.1,2093.0 229.6,2094.5 230.1,2095.5 230.6,2098.1 231.1,2095.3 231.6,2093.9 232.1,2096.3 232.6,2094.8 233.1,2093.9 233.6,2096.0 234.1,2092.7 234.6,2094.3 235.1,2094.0 235.6,2095.2 236.2,2091.9 236.7,2091.5 237.2,2092.8 237.7,2092.9 238.2,2093.3 238.7,2092.5 239.2,2093.7 239.7,2094.0 240.2,2093.2 240.7,2091.1 241.2,2094.5 241.7,2090.1 242.2,2092.1 242.8,2093.7 243.3,2091.3 243.8,2094.2 244.3,2095.1 244.8,2094.5 245.3,2092.6 245.8,2093.3 246.3,2090.9 246.8,2092.2 247.3,2092.2 247.8,2091.5 248.3,2091.5 248.8,2090.9 249.3,2088.0 249.9,2091.6 250.4,2091.4 250.9,2094.0 251.4,2091.8 251.9,2090.6 252.4,2091.8 252.9,2091.3 253.4,2090.2 253.9,2089.5 254.4,2087.6 254.9,2090.0 255.4,2092.3 255.9,2086.6 256.4,2088.0 257.0,2090.6 257.5,2089.6 258.0,2089.8 258.5,2086.1 259.0,2088.0 259.5,2089.6 260.0,2089.6 260.5,2089.1 261.0,2087.1 261.5,2089.2 262.0,2086.4 262.5,2086.7 263.0,2086.2 263.5,2090.3 264.1,2087.2 264.6,2087.9 265.1,2084.2 265.6,2089.3 266.1,2088.2 266.6,2084.8 267.1,2084.8 267.6,2089.9 268.1,2085.7 268.6,2090.0 269.1,2086.3 269.6,2083.0 270.1,2088.6 270.6,2087.6 271.2,2087.8 271.7,2085.9 272.2,2086.3 272.7,2088.1 273.2,2085.2 273.7,2083.4 274.2,2087.9 274.7,2085.5 275.2,2088.5 275.7,2085.6 276.2,2085.7 276.7,2086.0 277.2,2082.6 277.7,2088.3 278.3,2085.4 278.8,2086.1 279.3,2088.7 279.8,2086.6 280.3,2087.8 280.8,2086.9 281.3,2087.7 281.8,2086.9 282.3,2088.3 282.8,2086.1 283.3,2087.2 283.8,2085.4 284.3,2088.4 284.8,2083.0 285.4,2086.8 285.9,2087.1 286.4,2087.1 286.9,2086.6 287.4,2088.8 287.9,2090.0 288.4,2085.7 288.9,2083.7 289.4,2085.0 289.9,2085.5 290.4,2086.6 290.9,2086.7 291.4,2088.6 291.9,2086.2 292.5,2086.9 293.0,2087.1 293.5,2085.6 294.0,2086.5 294.5,2091.5 295.0,2087.0 295.5,2085.6 296.0,2083.7 296.5,2088.9 297.0,2086.8 297.5,2086.3 298.0,2091.3 298.5,2089.7 299.0,2084.7 299.6,2086.9 300.1,2089.1 300.6,2088.9 301.1,2085.8 301.6,2090.5 302.1,2090.7 302.6,2086.0 303.1,2085.0 303.6,2085.6 304.1,2088.9 304.6,2089.6 305.1,2088.3 305.6,2087.1 306.1,2087.9 306.7,2089.0 307.2,2086.2 307.7,2085.5 308.2,2088.1 308.7,2090.3 309.2,2088.6 309.7,2088.7 310.2,2087.3 310.7,2089.9 311.2,2085.8 311.7,2088.5 312.2,2087.7 312.7,2088.4 313.2,2087.2 313.8,2089.9 314.3,2088.7 314.8,2087.9 315.3,2089.7 315.8,2088.8 316.3,2088.1 316.8,2088.1 317.3,2090.3 317.8,2087.6 318.3,2088.8 318.8,2088.7 319.3,2089.7 319.8,2089.0 320.4,2092.8 320.9,2086.5 321.4,2090.3 321.9,2089.4 322.4,2091.2 322.9,2086.9 323.4,2091.5 323.9,2087.4 324.4,2090.7 324.9,2090.5 325.4,2089.8 325.9,2088.6 326.4,2088.5 326.9,2090.0 327.5,2088.7 328.0,2086.8 328.5,2087.1 329.0,2091.3 329.5,2091.4 330.0,2091.0 330.5,2090.3 331.0,2090.9 331.5,2091.1 332.0,2090.8 332.5,2089.2 333.0,2089.3 333.5,2088.7 334.0,2090.9 334.6,2089.1 335.1,2090.5 335.6,2092.9 336.1,2090.2 336.6,2092.5 337.1,2093.5 337.6,2088.1 338.1,2088.8 338.6,2091.9 339.1,2090.1 339.6,2092.1 340.1,2092.5 340.6,2090.6 341.1,2092.8 341.7,2094.3 342.2,2093.1 342.7,2090.2 343.2,2091.4 343.7,2090.9 344.2,2094.3 344.7,2091.5 345.2,2090.8 345.7,2092.0 346.2,2092.8 346.7,2091.5 347.2,2092.3 347.7,2092.2 348.2,2093.4 348.8,2093.8 349.3,2092.8 349.8,2091.6 350.3,2093.1 350.8,2091.1 351.3,2094.3 351.8,2093.1 352.3,2093.0 352.8,2088.8 353.3,2096.5 353.8,2095.1 354.3,2094.8 354.8,2093.0 355.3,2094.0 355.9,2097.5 356.4,2091.9 356.9,2094.2 357.4,2094.0 357.9,2093.3 358.4,2093.7 358.9,2091.6 359.4,2094.2 359.9,2091.1 360.4,2096.2 360.9,2094.5 361.4,2091.9 361.9,2090.0 362.4,2093.5 363.0,2094.2 363.5,2091.8 364.0,2096.1 364.5,2093.8 365.0,2092.7 365.5,2091.2 366.0,2093.2 366.5,2093.1 367.0,2094.5 367.5,2095.1 368.0,2093.5 368.5,2094.2 369.0,2095.7 369.5,2094.4 370.1,2093.0 370.6,2094.4 371.1,2092.5 371.6,2094.1 372.1,2093.4 372.6,2091.6 373.1,2094.3 373.6,2093.4 374.1,2094.4 374.6,2091.1 375.1,2095.0 375.6,2095.1 376.1,2092.6 376.6,2093.0 377.2,2093.2 377.7,2093.1 378.2,2094.4 378.7,2091.9 379.2,2091.2 379.7,2092.6 380.2,2096.0 380.7,2092.3 381.2,2091.3 381.7,2091.4 382.2,2093.1 382.7,2094.6 383.2,2091.5 383.7,2093.0 384.3,2093.0 384.8,2093.4 385.3,2092.8 385.8,2094.2 386.3,2093.6 386.8,2091.5 387.3,2096.3 387.8,2090.2 388.3,2090.2 388.8,2093.9 389.3,2092.5 389.8,2091.8 390.3,2092.5 390.8,2093.2 391.4,2091.4 391.9,2091.0 392.4,2090.3 392.9,2090.6 393.4,2090.6 393.9,2093.7 394.4,2092.3 394.9,2092.6 395.4,2090.8 395.9,2093.4 396.4,2089.1 396.9,2092.4 397.4,2092.7 398.0,2090.6 398.5,2089.8 399.0,2092.3 399.5,2090.3 400.0,2089.9 400.5,2091.3 401.0,2089.5 401.5,2091.0 402.0,2094.4 402.5,2090.4 403.0,2092.6 403.5,2089.4 404.0,2091.2 404.5,2090.6 405.1,2090.7 405.6,2092.1 406.1,2094.3 406.6,2090.6 407.1,2092.9 407.6,2091.3 408.1,2091.9 408.6,2090.0 409.1,2089.6 409.6,2090.3 410.1,2089.4 410.6,2090.6 411.1,2088.9 411.6,2090.5 412.2,2090.8 412.7,2093.4 413.2,2093.2 413.7,2091.3 414.2,2089.6 414.7,2091.4 415.2,2091.7 415.7,2090.0 416.2,2089.0 416.7,2087.5 417.2,2090.2 417.7,2093.4 418.2,2090.0 418.7,2090.9 419.3,2090.8 419.8,2091.0 420.3,2091.5 420.8,2087.0 421.3,2090.0 421.8,2090.8 422.3,2090.1 422.8,2092.2 423.3,2089.6 423.8,2091.7 424.3,2093.1 424.8,2089.9 425.3,2090.4 425.8,2089.9 426.4,2091.6 426.9,2087.0 427.4,2088.1 427.9,2090.0 428.4,2091.9 428.9,2091.5 429.4,2089.3 429.9,2093.2 430.4,2090.9 430.9,2089.7 431.4,2091.6 431.9,2092.9 432.4,2090.8 432.9,2088.6 433.5,2090.2 434.0,2091.3 434.5,2092.7 435.0,2089.7 435.5,2091.8 436.0,2089.5 436.5,2091.6 437.0,2089.4 437.5,2090.9 438.0,2089.3 438.5,2090.3 439.0,2089.4 439.5,2088.9 440.0,2094.1 440.6,2094.1 441.1,2093.1 441.6,2091.8 442.1,2094.9 442.6,2092.2 443.1,2093.4 443.6,2094.6 444.1,2093.3 444.6,2095.4 445.1,2092.9 445.6,2093.0 446.1,2093.6 446.6,2091.6 447.1,2091.9 447.7,2095.0 448.2,2091.1 448.7,2095.7 449.2,2094.5 449.7,2096.1 450.2,2095.5 450.7,2095.4 451.2,2097.3 451.7,2094.5 452.2,2094.6 452.7,2096.7 453.2,2093.9 453.7,2096.9 454.2,2096.3 454.8,2094.5 455.3,2093.4 455.8,2092.3 456.3,2098.7 456.8,2093.4 457.3,2094.0 457.8,2097.4 458.3,2096.9 458.8,2096.6 459.3,2096.5 459.8,2095.8 460.3,2095.1 460.8,2095.5 461.3,2097.8 461.9,2098.6 462.4,2098.9 462.9,2097.1 463.4,2093.6 463.9,2098.2 464.4,2097.2 464.9,2093.2 465.4,2099.9 465.9,2098.1 466.4,2097.8 466.9,2098.3 467.4,2098.2 467.9,2098.5 468.4,2098.4 469.0,2098.4 469.5,2099.4 470.0,2099.1 470.5,2102.6 471.0,2099.0 471.5,2098.1 472.0,2098.1 472.5,2099.8 473.0,2099.5 473.5,2099.8 474.0,2099.2 474.5,2099.4 475.0,2101.0 475.6,2102.1 476.1,2100.6 476.6,2100.0 477.1,2098.4 477.6,2098.5 478.1,2100.6 478.6,2100.2 479.1,2100.6 479.6,2099.1 480.1,2100.8 480.6,2098.0 481.1,2099.4 481.6,2100.1 482.1,2102.5 482.7,2100.7 483.2,2100.3 483.7,2102.3 484.2,2101.9 484.7,2103.6 485.2,2102.8 485.7,2102.8 486.2,2102.2 486.7,2103.7 487.2,2101.6 487.7,2100.5 488.2,2104.5 488.7,2102.4 489.2,2103.4 489.8,2104.4 490.3,2105.2 490.8,2099.0 491.3,2102.1 491.8,2105.9 492.3,2101.3 492.8,2104.9 493.3,2103.7 493.8,2103.0 494.3,2104.3 494.8,2101.9 495.3,2105.4 495.8,2106.8 496.3,2102.7 496.9,2104.0 497.4,2107.2 497.9,2105.9 498.4,2104.9 498.9,2107.9 499.4,2103.0 499.9,2105.3 500.4,2106.0 500.9,2105.4 501.4,2107.3 501.9,2103.4 502.4,2106.3 502.9,2105.1 503.4,2108.3 504.0,2108.2 504.5,2105.4 505.0,2104.9 505.5,2106.6 506.0,2105.4 506.5,2105.9 507.0,2107.6 507.5,2106.2 508.0,2110.0 508.5,2107.2 509.0,2106.3 509.5,2105.4 510.0,2106.4 510.5,2109.1 511.1,2108.2 511.6,2109.7 512.1,2109.5 512.6,2108.3 513.1,2106.4 513.6,2107.3 514.1,2107.7 514.6,2104.9 515.1,2108.1 515.6,2106.0 516.1,2107.5 516.6,2106.9 517.1,2108.7 517.6,2112.0 518.2,2105.9 518.7,2107.8 519.2,2111.1 519.7,2106.4 520.2,2107.6 520.7,2107.8 521.2,2108.5 521.7,2105.4 522.2,2108.5 522.7,2109.0 523.2,2112.2 523.7,2108.0 524.2,2107.2 524.7,2108.4 525.3,2104.0 525.8,2108.7 526.3,2110.7 526.8,2108.2 527.3,2108.2 527.8,2107.9 528.3,2108.5 528.8,2106.4 529.3,2110.9 529.8,2107.7 530.3,2107.7 530.8,2111.1 531.3,2108.5 531.8,2107.8 532.4,2111.2 532.9,2108.8 533.4,2110.1 533.9,2107.7 534.4,2105.8 534.9,2108.9 535.4,2110.9 535.9,2107.9 536.4,2109.3 536.9,2109.9 537.4,2109.1 537.9,2108.9 538.4,2110.0 538.9,2109.1 539.5,2107.9 540.0,2110.5 540.5,2110.1 541.0,2109.5 541.5,2110.0 542.0,2104.7 542.5,2109.3 543.0,2109.0 543.5,2105.7 544.0,2112.3 544.5,2109.5 545.0,2108.3 545.5,2108.4 546.0,2109.5 546.6,2109.0 547.1,2106.5 547.6,2108.4 548.1,2109.8 548.6,2110.1 549.1,2110.5 549.6,2107.4 550.1,2108.1 550.6,2109.8 551.1,2108.2 551.6,2109.6 552.1,2107.9 552.6,2110.2 553.1,2109.4 553.7,2110.2 554.2,2109.4 554.7,2108.0 555.2,2107.4 555.7,2109.4 556.2,2108.4 556.7,2107.0 557.2,2108.5 557.7,2110.7 558.2,2111.4 558.7,2110.7 559.2,2111.7 559.7,2108.9 560.3,2109.3 560.8,2108.0 561.3,2108.3 561.8,2112.1 562.3,2110.3 562.8,2110.6 563.3,2113.8 563.8,2112.7 564.3,2108.2 564.8,2111.2 565.3,2108.5 565.8,2111.3 566.3,2106.7 566.8,2108.2 567.4,2108.3 567.9,2113.0 568.4,2106.9 568.9,2111.6 569.4,2111.5 569.9,2110.0 570.4,2111.2 570.9,2114.0 571.4,2110.3 571.9,2109.5 572.4,2112.1 572.9,2111.2 573.4,2108.1 573.9,2110.3 574.5,2110.4 575.0,2108.2 575.5,2108.5 576.0,2109.0 576.5,2108.1 577.0,2110.9 577.5,2110.6 578.0,2106.5 578.5,2109.5 579.0,2110.4 579.5,2108.0 580.0,2109.7 580.5,2110.7 581.0,2107.5 581.6,2109.7 582.1,2106.4 582.6,2111.5 583.1,2109.1 583.6,2108.0 584.1,2107.3 584.6,2107.7 585.1,2112.4 585.6,2109.0 586.1,2109.4 586.6,2109.8 587.1,2108.0 587.6,2111.7 588.1,2106.4 588.7,2111.9 589.2,2109.2 589.7,2110.6 590.2,2111.0 590.7,2111.9 591.2,2108.5 591.7,2111.6 592.2,2110.5 592.7,2110.3 593.2,2110.2 593.7,2112.5 594.2,2111.4 594.7,2112.7 595.2,2112.2 595.8,2107.5 596.3,2110.6 596.8,2112.4 597.3,2109.3 597.8,2108.1 598.3,2107.1 598.8,2114.1 599.3,2109.4 599.8,2111.2 600.3,2109.2 600.8,2111.6 601.3,2113.6 601.8,2108.6 602.3,2110.9 602.9,2109.8 603.4,2108.0 603.9,2109.6 604.4,2111.1 604.9,2113.1 605.4,2113.2 605.9,2111.1 606.4,2108.5 606.9,2112.3 607.4,2111.2 607.9,2111.2 608.4,2109.4 608.9,2111.0 609.4,2114.5 610.0,2113.8 610.5,2113.4 611.0,2112.5 611.5,2110.7 612.0,2111.4 612.5,2111.7 613.0,2112.1 613.5,2110.9 614.0,2110.1 614.5,2113.4 615.0,2110.9 615.5,2112.9 616.0,2111.3 616.5,2112.7 617.1,2112.5 617.6,2112.9 618.1,2112.8 618.6,2110.2 619.1,2109.5 619.6,2111.7 620.1,2114.5 620.6,2110.4 621.1,2110.3 621.6,2115.6 622.1,2109.3 622.6,2110.9 623.1,2111.2 623.6,2110.8 624.2,2110.9 624.7,2113.7 625.2,2112.3 625.7,2112.3 626.2,2109.3 626.7,2113.4 627.2,2112.4 627.7,2112.4 628.2,2113.5 628.7,2112.7 629.2,2112.1 629.7,2112.9 630.2,2111.1 630.7,2110.8 631.3,2110.1 631.8,2113.9 632.3,2111.2 632.8,2112.6 633.3,2114.2 633.8,2115.3 634.3,2111.8" fill="none" stroke="#4fb8e6" stroke-width="3" stroke-linejoin="round" />
<polyline points="76.9,2042.8 77.4,2042.7 77.9,2040.4 78.4,2041.7 78.9,2047.1 79.4,2042.4 79.9,2045.4 80.5,2043.7 81.0,2045.4 81.5,2044.6 82.0,2042.9 82.5,2040.5 83.0,2044.8 83.5,2043.6 84.0,2043.2 84.5,2043.9 85.0,2041.1 85.5,2042.6 86.0,2042.4 86.5,2040.0 87.0,2040.4 87.6,2042.2 88.1,2038.8 88.6,2043.6 89.1,2043.6 89.6,2042.2 90.1,2042.8 90.6,2039.3 91.1,2042.6 91.6,2043.5 92.1,2043.1 92.6,2043.7 93.1,2042.1 93.6,2045.4 94.1,2042.9 94.7,2043.4 95.2,2043.9 95.7,2040.9 96.2,2040.3 96.7,2043.3 97.2,2040.0 97.7,2041.0 98.2,2043.6 98.7,2040.2 99.2,2040.4 99.7,2039.9 100.2,2040.2 100.7,2044.9 101.2,2042.7 101.8,2043.4 102.3,2038.6 102.8,2037.9 103.3,2039.9 103.8,2043.4 104.3,2043.6 104.8,2038.4 105.3,2038.8 105.8,2042.7 106.3,2042.0 106.8,2042.3 107.3,2042.6 107.8,2039.8 108.3,2041.7 108.9,2041.0 109.4,2043.4 109.9,2040.9 110.4,2038.2 110.9,2043.4 111.4,2044.2 111.9,2042.8 112.4,2040.7 112.9,2039.6 113.4,2042.8 113.9,2040.2 114.4,2041.9 114.9,2042.3 115.4,2040.8 116.0,2037.7 116.5,2041.7 117.0,2039.2 117.5,2038.3 118.0,2040.7 118.5,2041.0 119.0,2040.6 119.5,2041.7 120.0,2037.5 120.5,2041.6 121.0,2043.2 121.5,2040.4 122.0,2039.7 122.5,2040.2 123.1,2042.4 123.6,2040.1 124.1,2039.0 124.6,2037.5 125.1,2042.5 125.6,2042.5 126.1,2040.1 126.6,2043.4 127.1,2039.3 127.6,2041.1 128.1,2037.7 128.6,2038.1 129.1,2039.7 129.6,2040.4 130.2,2040.5 130.7,2038.0 131.2,2038.5 131.7,2039.1 132.2,2038.7 132.7,2038.6 133.2,2040.3 133.7,2040.8 134.2,2035.7 134.7,2040.8 135.2,2038.8 135.7,2039.0 136.2,2038.9 136.7,2039.7 137.3,2039.2 137.8,2035.5 138.3,2039.3 138.8,2035.9 139.3,2038.2 139.8,2037.8 140.3,2034.9 140.8,2037.3 141.3,2036.7 141.8,2035.9 142.3,2040.1 142.8,2037.0 143.3,2036.0 143.8,2039.3 144.4,2036.2 144.9,2035.9 145.4,2032.7 145.9,2036.8 146.4,2037.3 146.9,2038.7 147.4,2033.8 147.9,2036.9 148.4,2037.4 148.9,2036.1 149.4,2034.8 149.9,2031.9 150.4,2034.8 150.9,2033.4 151.5,2031.3 152.0,2035.0 152.5,2033.6 153.0,2033.3 153.5,2036.7 154.0,2032.4 154.5,2029.8 155.0,2029.4 155.5,2033.6 156.0,2032.3 156.5,2031.2 157.0,2028.8 157.5,2030.7 158.1,2030.0 158.6,2031.5 159.1,2030.0 159.6,2029.8 160.1,2030.9 160.6,2029.5 161.1,2031.0 161.6,2024.7 162.1,2028.0 162.6,2031.7 163.1,2029.8 163.6,2027.4 164.1,2028.6 164.6,2027.6 165.2,2027.7 165.7,2030.3 166.2,2026.9 166.7,2027.6 167.2,2025.5 167.7,2025.4 168.2,2023.7 168.7,2024.7 169.2,2024.7 169.7,2024.5 170.2,2024.6 170.7,2024.0 171.2,2024.2 171.7,2022.0 172.3,2023.6 172.8,2021.5 173.3,2021.7 173.8,2018.4 174.3,2019.4 174.8,2016.5 175.3,2012.5 175.8,2014.1 176.3,2012.7 176.8,2009.6 177.3,2009.3 177.8,2008.9 178.3,2012.6 178.8,2008.5 179.4,2010.1 179.9,2008.0 180.4,2007.6 180.9,2006.6 181.4,2002.4 181.9,2006.5 182.4,2002.7 182.9,2005.0 183.4,2004.2 183.9,2007.1 184.4,2006.6 184.9,2008.0 185.4,2006.2 185.9,2005.8 186.5,2007.5 187.0,2010.6 187.5,2008.0 188.0,2007.8 188.5,2006.3 189.0,2007.6 189.5,2009.1 190.0,2010.9 190.5,2011.2 191.0,2010.5 191.5,2011.3 192.0,2013.9 192.5,2014.6 193.0,2013.8 193.6,2014.4 194.1,2014.0 194.6,2014.9 195.1,2009.9 195.6,2011.1 196.1,2012.3 196.6,2012.5 197.1,2013.9 197.6,2008.7 198.1,2011.9 198.6,2012.0 199.1,2010.3 199.6,2011.1 200.1,2012.8 200.7,2011.8 201.2,2010.8 201.7,2011.2 202.2,2010.5 202.7,2012.1 203.2,2010.2 203.7,2011.8 204.2,2009.2 204.7,2009.9 205.2,2008.0 205.7,2009.3 206.2,2010.8 206.7,2007.7 207.2,2008.6 207.8,2009.2 208.3,2008.3 208.8,2010.0 209.3,2006.5 209.8,2009.8 210.3,2010.4 210.8,2010.8 211.3,2007.8 211.8,2006.5 212.3,2005.1 212.8,2008.6 213.3,2008.6 213.8,2007.6 214.3,2007.5 214.9,2007.8 215.4,2005.9 215.9,2003.9 216.4,2003.8 216.9,2004.6 217.4,2004.2 217.9,2002.9 218.4,2004.5 218.9,2003.3 219.4,2005.8 219.9,2004.4 220.4,2005.6 220.9,2001.9 221.4,2002.1 222.0,2001.0 222.5,2003.8 223.0,2008.1 223.5,2003.2 224.0,2001.9 224.5,2002.7 225.0,2002.0 225.5,2003.4 226.0,2001.6 226.5,1999.9 227.0,1998.0 227.5,2001.4 228.0,2002.2 228.5,2000.6 229.1,1998.7 229.6,1999.2 230.1,1999.1 230.6,2000.3 231.1,1999.1 231.6,2000.8 232.1,1998.4 232.6,1997.4 233.1,2001.2 233.6,1996.4 234.1,1996.6 234.6,2001.0 235.1,1997.9 235.6,2000.1 236.2,1993.0 236.7,1998.9 237.2,1996.7 237.7,1996.6 238.2,1997.1 238.7,1991.7 239.2,1994.5 239.7,1996.5 240.2,2000.9 240.7,1994.3 241.2,1999.2 241.7,1996.3 242.2,1996.8 242.8,1993.5 243.3,1996.0 243.8,1993.5 244.3,1992.9 244.8,1996.8 245.3,1993.5 245.8,1993.8 246.3,1995.6 246.8,1993.1 247.3,1992.3 247.8,1994.7 248.3,1994.7 248.8,1996.6 249.3,1992.3 249.9,1995.2 250.4,1995.1 250.9,1993.2 251.4,1993.5 251.9,1993.8 252.4,1992.0 252.9,1991.4 253.4,1994.7 253.9,1991.7 254.4,1991.8 254.9,1994.6 255.4,1992.4 255.9,1992.5 256.4,1990.9 257.0,1991.1 257.5,1990.8 258.0,1990.7 258.5,1994.9 259.0,1991.3 259.5,1989.0 260.0,1990.9 260.5,1993.8 261.0,1990.7 261.5,1992.4 262.0,1990.9 262.5,1989.6 263.0,1991.5 263.5,1990.7 264.1,1992.5 264.6,1993.4 265.1,1992.1 265.6,1996.4 266.1,1990.4 266.6,1994.2 267.1,1992.7 267.6,1994.2 268.1,1992.8 268.6,1988.3 269.1,1991.4 269.6,1993.5 270.1,1991.9 270.6,1989.7 271.2,1990.9 271.7,1992.3 272.2,1993.7 272.7,1990.7 273.2,1991.8 273.7,1990.2 274.2,1989.7 274.7,1990.8 275.2,1993.8 275.7,1992.8 276.2,1991.2 276.7,1991.5 277.2,1992.5 277.7,1991.4 278.3,1990.9 278.8,1991.1 279.3,1992.7 279.8,1991.1 280.3,1993.1 280.8,1988.9 281.3,1990.8 281.8,1991.4 282.3,1993.2 282.8,1990.9 283.3,1991.7 283.8,1993.3 284.3,1992.8 284.8,1992.0 285.4,1992.8 285.9,1992.0 286.4,1995.0 286.9,1994.7 287.4,1995.6 287.9,1998.1 288.4,1996.7 288.9,1995.8 289.4,1995.1 289.9,1999.2 290.4,1996.2 290.9,1995.7 291.4,1998.4 291.9,1997.3 292.5,1996.5 293.0,1997.9 293.5,2000.6 294.0,1998.0 294.5,1998.7 295.0,1996.9 295.5,1997.8 296.0,2000.3 296.5,1999.0 297.0,1999.6 297.5,2001.4 298.0,1999.3 298.5,2002.6 299.0,1999.3 299.6,1999.3 300.1,1999.4 300.6,1998.5 301.1,2002.0 301.6,2001.4 302.1,2003.7 302.6,2000.6 303.1,2003.1 303.6,2004.3 304.1,2002.0 304.6,2002.3 305.1,1998.8 305.6,2006.1 306.1,2003.0 306.7,2004.5 307.2,2002.8 307.7,2004.4 308.2,2002.2 308.7,2005.4 309.2,2004.6 309.7,2004.1 310.2,2005.6 310.7,2002.2 311.2,2005.6 311.7,2004.8 312.2,2008.1 312.7,2007.2 313.2,2005.9 313.8,2005.9 314.3,2011.4 314.8,2005.2 315.3,2010.1 315.8,2008.8 316.3,2008.7 316.8,2004.7 317.3,2009.3 317.8,2007.3 318.3,2006.9 318.8,2009.5 319.3,2007.7 319.8,2009.9 320.4,2007.7 320.9,2010.4 321.4,2010.4 321.9,2008.5 322.4,2008.5 322.9,2009.2 323.4,2009.6 323.9,2009.7 324.4,2013.9 324.9,2011.8 325.4,2010.8 325.9,2011.0 326.4,2010.4 326.9,2012.4 327.5,2012.0 328.0,2011.2 328.5,2011.4 329.0,2012.1 329.5,2011.2 330.0,2013.3 330.5,2011.8 331.0,2014.3 331.5,2013.1 332.0,2014.7 332.5,2013.1 333.0,2011.2 333.5,2012.3 334.0,2014.1 334.6,2015.4 335.1,2015.6 335.6,2016.0 336.1,2016.4 336.6,2016.1 337.1,2016.3 337.6,2015.4 338.1,2016.9 338.6,2015.9 339.1,2016.2 339.6,2016.7 340.1,2020.3 340.6,2014.4 341.1,2016.1 341.7,2016.6 342.2,2017.8 342.7,2017.3 343.2,2020.0 343.7,2015.1 344.2,2020.6 344.7,2015.8 345.2,2016.8 345.7,2018.9 346.2,2018.3 346.7,2018.2 347.2,2018.5 347.7,2019.1 348.2,2020.2 348.8,2019.4 349.3,2016.8 349.8,2017.8 350.3,2021.3 350.8,2022.3 351.3,2020.8 351.8,2021.1 352.3,2020.0 352.8,2022.9 353.3,2018.8 353.8,2019.3 354.3,2018.7 354.8,2022.5 355.3,2019.3 355.9,2021.0 356.4,2018.1 356.9,2018.1 357.4,2022.1 357.9,2021.8 358.4,2022.1 358.9,2021.1 359.4,2020.5 359.9,2020.4 360.4,2019.3 360.9,2020.6 361.4,2023.4 361.9,2021.1 362.4,2019.4 363.0,2021.2 363.5,2020.1 364.0,2019.9 364.5,2021.7 365.0,2020.7 365.5,2020.0 366.0,2024.5 366.5,2024.9 367.0,2022.5 367.5,2024.7 368.0,2021.7 368.5,2022.5 369.0,2024.7 369.5,2023.1 370.1,2024.1 370.6,2018.4 371.1,2023.4 371.6,2022.3 372.1,2022.9 372.6,2020.7 373.1,2022.0 373.6,2024.2 374.1,2024.3 374.6,2024.7 375.1,2024.9 375.6,2025.3 376.1,2024.3 376.6,2023.3 377.2,2022.9 377.7,2023.2 378.2,2022.4 378.7,2022.4 379.2,2023.9 379.7,2020.5 380.2,2022.2 380.7,2023.0 381.2,2025.2 381.7,2026.1 382.2,2025.0 382.7,2024.5 383.2,2023.8 383.7,2026.4 384.3,2025.9 384.8,2023.7 385.3,2024.8 385.8,2025.6 386.3,2026.5 386.8,2024.5 387.3,2027.5 387.8,2027.1 388.3,2024.6 388.8,2025.0 389.3,2023.9 389.8,2024.0 390.3,2026.0 390.8,2027.8 391.4,2027.9 391.9,2026.0 392.4,2025.1 392.9,2024.8 393.4,2026.5 393.9,2025.2 394.4,2027.1 394.9,2025.8 395.4,2026.5 395.9,2025.3 396.4,2029.4 396.9,2028.0 397.4,2026.4 398.0,2024.9 398.5,2027.2 399.0,2027.6 399.5,2024.6 400.0,2026.5 400.5,2029.7 401.0,2026.8 401.5,2025.9 402.0,2027.5 402.5,2029.5 403.0,2026.0 403.5,2026.0 404.0,2026.4 404.5,2026.9 405.1,2028.7 405.6,2027.4 406.1,2023.4 406.6,2027.6 407.1,2027.6 407.6,2028.0 408.1,2027.5 408.6,2026.9 409.1,2028.0 409.6,2026.1 410.1,2024.5 410.6,2026.7 411.1,2025.5 411.6,2030.0 412.2,2027.2 412.7,2029.9 413.2,2025.3 413.7,2025.5 414.2,2028.2 414.7,2024.8 415.2,2026.6 415.7,2024.5 416.2,2028.4 416.7,2025.0 417.2,2027.6 417.7,2025.0 418.2,2028.6 418.7,2029.6 419.3,2028.2 419.8,2026.5 420.3,2028.8 420.8,2029.7 421.3,2029.4 421.8,2030.3 422.3,2031.4 422.8,2028.8 423.3,2028.1 423.8,2027.5 424.3,2028.6 424.8,2028.3 425.3,2027.9 425.8,2029.4 426.4,2032.1 426.9,2027.8 427.4,2028.4 427.9,2028.7 428.4,2027.7 428.9,2031.1 429.4,2029.3 429.9,2030.6 430.4,2027.2 430.9,2030.8 431.4,2029.8 431.9,2027.8 432.4,2031.6 432.9,2031.9 433.5,2030.8 434.0,2031.4 434.5,2029.2 435.0,2032.5 435.5,2030.6 436.0,2031.9 436.5,2032.2 437.0,2032.2 437.5,2030.4 438.0,2032.1 438.5,2032.1 439.0,2033.9 439.5,2030.9 440.0,2033.8 440.6,2033.2 441.1,2032.7 441.6,2035.7 442.1,2034.2 442.6,2032.1 443.1,2033.6 443.6,2032.1 444.1,2031.6 444.6,2032.8 445.1,2033.0 445.6,2036.6 446.1,2035.3 446.6,2030.3 447.1,2034.1 447.7,2033.4 448.2,2034.4 448.7,2035.1 449.2,2035.0 449.7,2035.7 450.2,2033.9 450.7,2037.6 451.2,2035.3 451.7,2037.6 452.2,2035.6 452.7,2036.7 453.2,2034.5 453.7,2037.9 454.2,2036.7 454.8,2035.8 455.3,2037.2 455.8,2037.4 456.3,2034.3 456.8,2035.7 457.3,2035.4 457.8,2038.5 458.3,2037.6 458.8,2036.4 459.3,2036.4 459.8,2037.6 460.3,2034.1 460.8,2037.7 461.3,2040.6 461.9,2036.0 462.4,2036.4 462.9,2036.7 463.4,2039.3 463.9,2037.5 464.4,2041.9 464.9,2038.7 465.4,2038.3 465.9,2037.5 466.4,2040.5 466.9,2041.3 467.4,2039.9 467.9,2041.9 468.4,2041.9 469.0,2040.7 469.5,2040.3 470.0,2039.5 470.5,2040.8 471.0,2040.1 471.5,2043.1 472.0,2042.1 472.5,2040.8 473.0,2040.6 473.5,2042.0 474.0,2043.1 474.5,2042.0 475.0,2043.4 475.6,2041.1 476.1,2042.4 476.6,2043.2 477.1,2042.6 477.6,2043.0 478.1,2044.2 478.6,2042.7 479.1,2044.4 479.6,2042.1 480.1,2043.9 480.6,2042.5 481.1,2042.7 481.6,2044.4 482.1,2045.7 482.7,2043.5 483.2,2044.0 483.7,2046.1 484.2,2042.9 484.7,2045.7 485.2,2042.5 485.7,2041.5 486.2,2045.2 486.7,2044.3 487.2,2044.1 487.7,2041.2 488.2,2045.7 488.7,2044.5 489.2,2043.4 489.8,2045.3 490.3,2043.6 490.8,2044.4 491.3,2044.5 491.8,2047.4 492.3,2045.8 492.8,2048.1 493.3,2044.9 493.8,2044.4 494.3,2049.2 494.8,2044.3 495.3,2048.5 495.8,2044.9 496.3,2047.9 496.9,2045.7 497.4,2049.4 497.9,2050.2 498.4,2048.8 498.9,2047.8 499.4,2046.7 499.9,2048.7 500.4,2050.8 500.9,2046.8 501.4,2045.8 501.9,2050.6 502.4,2047.5 502.9,2049.1 503.4,2048.3 504.0,2048.5 504.5,2047.7 505.0,2048.0 505.5,2045.6 506.0,2047.5 506.5,2047.1 507.0,2050.4 507.5,2048.1 508.0,2048.9 508.5,2046.1 509.0,2049.0 509.5,2051.4 510.0,2049.3 510.5,2050.5 511.1,2048.7 511.6,2048.3 512.1,2050.9 512.6,2048.7 513.1,2047.8 513.6,2049.4 514.1,2049.0 514.6,2051.4 515.1,2050.9 515.6,2047.5 516.1,2050.7 516.6,2047.9 517.1,2050.3 517.6,2051.0 518.2,2049.4 518.7,2049.4 519.2,2051.6 519.7,2049.9 520.2,2048.7 520.7,2053.2 521.2,2052.0 521.7,2051.4 522.2,2051.3 522.7,2052.4 523.2,2051.0 523.7,2052.2 524.2,2051.5 524.7,2050.0 525.3,2052.8 525.8,2051.5 526.3,2050.0 526.8,2050.6 527.3,2047.6 527.8,2048.8 528.3,2049.2 528.8,2052.7 529.3,2052.7 529.8,2053.5 530.3,2052.4 530.8,2054.5 531.3,2051.1 531.8,2050.6 532.4,2050.4 532.9,2052.3 533.4,2050.9 533.9,2050.6 534.4,2051.2 534.9,2052.4 535.4,2050.1 535.9,2052.2 536.4,2052.2 536.9,2054.9 537.4,2052.5 537.9,2050.3 538.4,2052.8 538.9,2052.7 539.5,2050.4 540.0,2047.6 540.5,2053.7 541.0,2052.3 541.5,2051.5 542.0,2052.4 542.5,2054.7 543.0,2055.5 543.5,2052.0 544.0,2055.2 544.5,2052.7 545.0,2052.8 545.5,2052.7 546.0,2052.8 546.6,2052.7 547.1,2051.8 547.6,2053.0 548.1,2051.4 548.6,2053.9 549.1,2052.0 549.6,2053.9 550.1,2052.9 550.6,2050.3 551.1,2055.0 551.6,2053.6 552.1,2053.1 552.6,2052.7 553.1,2056.1 553.7,2052.9 554.2,2054.8 554.7,2053.7 555.2,2051.2 555.7,2054.5 556.2,2051.0 556.7,2054.2 557.2,2054.1 557.7,2053.9 558.2,2052.3 558.7,2055.8 559.2,2056.4 559.7,2052.1 560.3,2053.0 560.8,2056.2 561.3,2053.0 561.8,2055.2 562.3,2052.2 562.8,2052.7 563.3,2054.2 563.8,2054.5 564.3,2051.5 564.8,2052.2 565.3,2054.7 565.8,2055.9 566.3,2054.7 566.8,2054.5 567.4,2054.7 567.9,2052.0 568.4,2054.7 568.9,2055.5 569.4,2055.0 569.9,2052.2 570.4,2052.6 570.9,2055.9 571.4,2051.9 571.9,2052.5 572.4,2056.7 572.9,2052.8 573.4,2053.1 573.9,2055.3 574.5,2055.6 575.0,2054.1 575.5,2052.1 576.0,2053.5 576.5,2054.7 577.0,2052.9 577.5,2052.9 578.0,2056.5 578.5,2055.3 579.0,2055.8 579.5,2056.0 580.0,2052.9 580.5,2055.3 581.0,2056.5 581.6,2055.7 582.1,2052.8 582.6,2052.2 583.1,2053.4 583.6,2055.6 584.1,2054.4 584.6,2055.2 585.1,2052.7 585.6,2056.1 586.1,2053.6 586.6,2056.6 587.1,2054.8 587.6,2050.1 588.1,2054.5 588.7,2053.5 589.2,2053.5 589.7,2054.7 590.2,2056.7 590.7,2056.3 591.2,2057.2 591.7,2055.0 592.2,2052.0 592.7,2054.1 593.2,2053.6 593.7,2054.0 594.2,2059.3 594.7,2056.4 595.2,2053.6 595.8,2057.0 596.3,2054.7 596.8,2053.0 597.3,2057.1 597.8,2054.4 598.3,2055.4 598.8,2058.9 599.3,2053.6 599.8,2056.9 600.3,2054.8 600.8,2053.5 601.3,2054.9 601.8,2055.6 602.3,2055.6 602.9,2052.9 603.4,2056.7 603.9,2054.0 604.4,2055.9 604.9,2055.7 605.4,2054.5 605.9,2056.4 606.4,2054.3 606.9,2053.9 607.4,2053.2 607.9,2052.5 608.4,2054.4 608.9,2052.0 609.4,2054.9 610.0,2054.6 610.5,2058.2 611.0,2053.7 611.5,2057.4 612.0,2056.1 612.5,2056.0 613.0,2054.6 613.5,2054.3 614.0,2055.1 614.5,2055.5 615.0,2056.5 615.5,2054.8 616.0,2058.1 616.5,2058.3 617.1,2051.7 617.6,2055.9 618.1,2055.5 618.6,2054.1 619.1,2051.4 619.6,2052.9 620.1,2055.4 620.6,2056.8 621.1,2056.4 621.6,2056.5 622.1,2055.4 622.6,2057.4 623.1,2056.5 623.6,2057.5 624.2,2055.5 624.7,2054.7 625.2,2053.3 625.7,2058.2 626.2,2054.8 626.7,2054.1 627.2,2052.3 627.7,2056.7 628.2,2053.6 628.7,2055.9 629.2,2056.2 629.7,2058.1 630.2,2054.6 630.7,2052.7 631.3,2057.2 631.8,2056.2 632.3,2054.8 632.8,2055.7 633.3,2058.8 633.8,2055.9 634.3,2054.7" fill="none" stroke="#8c90c8" stroke-width="3" stroke-linejoin="round" />
<polyline points="76.9,1988.9 77.4,1990.0 77.9,1989.7 78.4,1989.7 78.9,1989.7 79.4,1987.4 79.9,1990.3 80.5,1991.0 81.0,1990.4 81.5,1989.3 82.0,1989.3 82.5,1989.8 83.0,1989.6 83.5,1986.9 84.0,1989.4 84.5,1991.7 85.0,1989.2 85.5,1988.9 86.0,1990.7 86.5,1989.9 87.0,1988.7 87.6,1990.1 88.1,1992.6 88.6,1992.8 89.1,1990.2 89.6,1989.7 90.1,1991.9 90.6,1990.7 91.1,1990.9 91.6,1989.9 92.1,1988.0 92.6,1987.7 93.1,1990.0 93.6,1988.3 94.1,1991.4 94.7,1991.6 95.2,1992.5 95.7,1990.3 96.2,1993.3 96.7,1992.2 97.2,1990.8 97.7,1991.4 98.2,1989.3 98.7,1985.2 99.2,1991.9 99.7,1991.0 100.2,1992.9 100.7,1991.0 101.2,1990.0 101.8,1989.5 102.3,1989.3 102.8,1990.5 103.3,1987.4 103.8,1988.5 104.3,1991.6 104.8,1987.0 105.3,1987.7 105.8,1989.3 106.3,1989.6 106.8,1990.4 107.3,1991.6 107.8,1990.7 108.3,1991.2 108.9,1989.3 109.4,1990.3 109.9,1989.1 110.4,1990.1 110.9,1991.2 111.4,1991.0 111.9,1987.2 112.4,1988.4 112.9,1993.4 113.4,1986.9 113.9,1990.3 114.4,1988.3 114.9,1989.8 115.4,1989.2 116.0,1990.2 116.5,1988.3 117.0,1991.7 117.5,1993.5 118.0,1986.0 118.5,1988.6 119.0,1987.5 119.5,1990.1 120.0,1992.1 120.5,1992.0 121.0,1991.8 121.5,1990.0 122.0,1988.7 122.5,1991.4 123.1,1988.5 123.6,1988.2 124.1,1989.5 124.6,1987.4 125.1,1989.0 125.6,1987.7 126.1,1989.3 126.6,1990.6 127.1,1988.1 127.6,1989.7 128.1,1990.4 128.6,1987.5 129.1,1988.6 129.6,1988.1 130.2,1991.5 130.7,1987.7 131.2,1988.6 131.7,1986.0 132.2,1986.7 132.7,1989.1 133.2,1987.6 133.7,1989.1 134.2,1987.9 134.7,1991.9 135.2,1987.3 135.7,1989.1 136.2,1986.3 136.7,1986.6 137.3,1984.8 137.8,1991.3 138.3,1983.6 138.8,1987.1 139.3,1986.1 139.8,1987.9 140.3,1985.7 140.8,1989.5 141.3,1988.1 141.8,1987.1 142.3,1986.9 142.8,1987.7 143.3,1986.6 143.8,1988.3 144.4,1987.0 144.9,1985.4 145.4,1986.1 145.9,1985.6 146.4,1987.0 146.9,1984.6 147.4,1985.0 147.9,1982.7 148.4,1985.7 148.9,1984.8 149.4,1983.2 149.9,1986.9 150.4,1984.1 150.9,1982.0 151.5,1985.6 152.0,1983.3 152.5,1978.5 153.0,1983.8 153.5,1983.1 154.0,1983.1 154.5,1982.5 155.0,1981.3 155.5,1982.7 156.0,1979.6 156.5,1981.8 157.0,1983.3 157.5,1983.3 158.1,1980.6 158.6,1984.3 159.1,1981.4 159.6,1980.0 160.1,1980.7 160.6,1979.0 161.1,1981.2 161.6,1977.9 162.1,1978.0 162.6,1976.9 163.1,1977.0 163.6,1977.5 164.1,1980.5 164.6,1977.5 165.2,1978.5 165.7,1976.2 166.2,1977.2 166.7,1973.5 167.2,1972.8 167.7,1977.1 168.2,1974.1 168.7,1970.4 169.2,1973.3 169.7,1971.3 170.2,1970.2 170.7,1970.7 171.2,1965.8 171.7,1967.9 172.3,1964.4 172.8,1961.0 173.3,1957.4 173.8,1960.0 174.3,1954.1 174.8,1950.0 175.3,1949.5 175.8,1948.1 176.3,1946.1 176.8,1945.3 177.3,1941.7 177.8,1938.9 178.3,1941.0 178.8,1939.3 179.4,1933.1 179.9,1935.8 180.4,1932.9 180.9,1936.3 181.4,1932.5 181.9,1934.7 182.4,1937.1 182.9,1935.6 183.4,1937.3 183.9,1935.1 184.4,1934.9 184.9,1935.7 185.4,1939.4 185.9,1938.2 186.5,1942.5 187.0,1940.5 187.5,1944.1 188.0,1943.4 188.5,1942.0 189.0,1944.7 189.5,1946.3 190.0,1947.2 190.5,1947.0 191.0,1949.8 191.5,1950.2 192.0,1950.9 192.5,1948.7 193.0,1947.0 193.6,1951.7 194.1,1949.8 194.6,1950.5 195.1,1951.2 195.6,1952.4 196.1,1949.3 196.6,1952.2 197.1,1954.8 197.6,1950.5 198.1,1952.6 198.6,1955.6 199.1,1954.9 199.6,1954.7 200.1,1954.2 200.7,1951.8 201.2,1954.4 201.7,1952.8 202.2,1954.7 202.7,1953.4 203.2,1952.8 203.7,1954.8 204.2,1956.5 204.7,1954.0 205.2,1955.1 205.7,1956.0 206.2,1955.6 206.7,1952.6 207.2,1953.7 207.8,1955.0 208.3,1954.3 208.8,1957.0 209.3,1954.9 209.8,1952.3 210.3,1954.6 210.8,1955.1 211.3,1954.1 211.8,1953.6 212.3,1950.3 212.8,1952.2 213.3,1953.0 213.8,1951.2 214.3,1951.0 214.9,1952.0 215.4,1950.0 215.9,1949.3 216.4,1950.3 216.9,1950.2 217.4,1951.5 217.9,1949.6 218.4,1947.9 218.9,1950.3 219.4,1948.2 219.9,1950.5 220.4,1948.3 220.9,1950.1 221.4,1949.6 222.0,1948.8 222.5,1947.1 223.0,1948.5 223.5,1951.4 224.0,1949.4 224.5,1951.0 225.0,1949.2 225.5,1949.1 226.0,1947.6 226.5,1949.7 227.0,1947.8 227.5,1947.8 228.0,1950.8 228.5,1947.5 229.1,1952.8 229.6,1949.1 230.1,1948.2 230.6,1951.3 231.1,1947.6 231.6,1949.4 232.1,1949.2 232.6,1950.7 233.1,1951.9 233.6,1949.7 234.1,1947.1 234.6,1947.0 235.1,1948.4 235.6,1950.5 236.2,1949.4 236.7,1949.6 237.2,1948.7 237.7,1951.4 238.2,1947.4 238.7,1952.3 239.2,1951.1 239.7,1950.3 240.2,1949.2 240.7,1948.7 241.2,1949.2 241.7,1948.4 242.2,1948.6 242.8,1947.9 243.3,1950.5 243.8,1949.4 244.3,1950.0 244.8,1948.1 245.3,1947.3 245.8,1947.8 246.3,1949.7 246.8,1947.4 247.3,1950.2 247.8,1947.8 248.3,1948.6 248.8,1949.7 249.3,1947.4 249.9,1946.0 250.4,1951.2 250.9,1949.1 251.4,1948.3 251.9,1951.9 252.4,1952.8 252.9,1949.4 253.4,1949.9 253.9,1953.6 254.4,1948.4 254.9,1951.3 255.4,1951.0 255.9,1948.5 256.4,1947.9 257.0,1948.2 257.5,1949.7 258.0,1950.0 258.5,1953.7 259.0,1947.9 259.5,1949.8 260.0,1948.3 260.5,1950.9 261.0,1950.3 261.5,1947.5 262.0,1948.9 262.5,1949.7 263.0,1950.8 263.5,1950.5 264.1,1950.8 264.6,1949.7 265.1,1950.7 265.6,1949.9 266.1,1951.3 266.6,1950.7 267.1,1948.4 267.6,1949.7 268.1,1948.6 268.6,1949.6 269.1,1950.7 269.6,1950.0 270.1,1949.7 270.6,1948.9 271.2,1952.3 271.7,1949.9 272.2,1948.4 272.7,1949.2 273.2,1951.5 273.7,1953.2 274.2,1952.0 274.7,1949.5 275.2,1951.4 275.7,1947.4 276.2,1951.4 276.7,1949.7 277.2,1950.5 277.7,1948.2 278.3,1950.7 278.8,1948.1 279.3,1947.6 279.8,1952.6 280.3,1948.3 280.8,1951.8 281.3,1949.4 281.8,1950.2 282.3,1950.4 282.8,1952.2 283.3,1951.2 283.8,1949.2 284.3,1949.8 284.8,1952.8 285.4,1952.9 285.9,1950.1 286.4,1952.3 286.9,1950.8 287.4,1952.6 287.9,1949.5 288.4,1952.5 288.9,1950.4 289.4,1949.3 289.9,1952.4 290.4,1952.4 290.9,1949.2 291.4,1948.0 291.9,1951.6 292.5,1952.6 293.0,1951.1 293.5,1952.2 294.0,1951.5 294.5,1951.4 295.0,1953.0 295.5,1954.4 296.0,1953.3 296.5,1952.2 297.0,1951.7 297.5,1953.2 298.0,1949.5 298.5,1953.3 299.0,1953.0 299.6,1953.3 300.1,1953.0 300.6,1953.2 301.1,1951.4 301.6,1954.8 302.1,1953.4 302.6,1954.1 303.1,1953.4 303.6,1951.9 304.1,1955.4 304.6,1954.2 305.1,1954.2 305.6,1955.4 306.1,1957.6 306.7,1955.0 307.2,1956.0 307.7,1958.2 308.2,1954.9 308.7,1957.5 309.2,1955.7 309.7,1957.4 310.2,1956.1 310.7,1957.5 311.2,1955.0 311.7,1955.5 312.2,1955.4 312.7,1956.0 313.2,1958.4 313.8,1957.4 314.3,1957.9 314.8,1956.6 315.3,1957.3 315.8,1957.9 316.3,1957.9 316.8,1956.6 317.3,1956.9 317.8,1956.0 318.3,1959.0 318.8,1959.6 319.3,1961.0 319.8,1953.2 320.4,1959.6 320.9,1959.2 321.4,1962.7 321.9,1957.8 322.4,1957.4 322.9,1959.1 323.4,1956.5 323.9,1956.7 324.4,1959.9 324.9,1956.5 325.4,1957.4 325.9,1961.2 326.4,1960.4 326.9,1957.5 327.5,1961.9 328.0,1959.9 328.5,1959.4 329.0,1960.3 329.5,1960.0 330.0,1962.1 330.5,1961.3 331.0,1959.1 331.5,1959.8 332.0,1962.0 332.5,1959.9 333.0,1959.5 333.5,1957.3 334.0,1962.6 334.6,1961.4 335.1,1961.2 335.6,1960.3 336.1,1960.9 336.6,1961.9 337.1,1960.3 337.6,1962.4 338.1,1965.1 338.6,1961.6 339.1,1962.6 339.6,1965.3 340.1,1963.0 340.6,1965.5 341.1,1964.8 341.7,1964.8 342.2,1963.1 342.7,1962.8 343.2,1965.8 343.7,1964.0 344.2,1963.7 344.7,1960.5 345.2,1964.0 345.7,1968.3 346.2,1965.5 346.7,1967.4 347.2,1965.1 347.7,1962.6 348.2,1965.2 348.8,1967.9 349.3,1965.5 349.8,1964.8 350.3,1965.1 350.8,1963.6 351.3,1965.0 351.8,1965.9 352.3,1967.4 352.8,1967.1 353.3,1964.2 353.8,1963.0 354.3,1965.6 354.8,1965.1 355.3,1967.7 355.9,1964.8 356.4,1967.5 356.9,1965.9 357.4,1968.5 357.9,1966.8 358.4,1963.6 358.9,1963.1 359.4,1967.4 359.9,1965.3 360.4,1968.6 360.9,1967.0 361.4,1970.0 361.9,1967.1 362.4,1965.9 363.0,1964.0 363.5,1968.0 364.0,1966.9 364.5,1966.7 365.0,1971.6 365.5,1968.6 366.0,1965.8 366.5,1968.4 367.0,1964.8 367.5,1966.3 368.0,1968.7 368.5,1965.2 369.0,1967.3 369.5,1967.4 370.1,1967.6 370.6,1965.7 371.1,1965.0 371.6,1967.3 372.1,1968.3 372.6,1965.7 373.1,1968.6 373.6,1969.1 374.1,1967.8 374.6,1968.9 375.1,1968.9 375.6,1969.2 376.1,1967.7 376.6,1967.8 377.2,1967.9 377.7,1969.3 378.2,1966.5 378.7,1969.7 379.2,1965.8 379.7,1970.5 380.2,1968.4 380.7,1971.7 381.2,1967.8 381.7,1968.4 382.2,1964.8 382.7,1966.9 383.2,1967.7 383.7,1968.0 384.3,1968.4 384.8,1967.6 385.3,1967.3 385.8,1968.9 386.3,1964.9 386.8,1966.6 387.3,1968.5 387.8,1967.2 388.3,1969.3 388.8,1966.3 389.3,1966.8 389.8,1968.4 390.3,1970.2 390.8,1965.3 391.4,1964.6 391.9,1965.4 392.4,1965.4 392.9,1967.8 393.4,1968.9 393.9,1967.3 394.4,1967.7 394.9,1968.4 395.4,1968.0 395.9,1967.8 396.4,1967.7 396.9,1969.2 397.4,1965.5 398.0,1966.6 398.5,1967.8 399.0,1971.7 399.5,1966.0 400.0,1968.6 400.5,1966.2 401.0,1967.1 401.5,1966.1 402.0,1970.4 402.5,1968.0 403.0,1966.6 403.5,1968.9 404.0,1966.2 404.5,1967.8 405.1,1965.2 405.6,1966.9 406.1,1967.9 406.6,1967.9 407.1,1966.0 407.6,1966.1 408.1,1964.6 408.6,1964.0 409.1,1967.0 409.6,1969.2 410.1,1968.1 410.6,1968.3 411.1,1967.4 411.6,1967.3 412.2,1967.3 412.7,1970.1 413.2,1966.8 413.7,1969.3 414.2,1965.1 414.7,1965.7 415.2,1967.3 415.7,1965.1 416.2,1969.9 416.7,1967.9 417.2,1968.2 417.7,1966.8 418.2,1968.4 418.7,1966.6 419.3,1969.8 419.8,1969.8 420.3,1966.7 420.8,1966.4 421.3,1965.4 421.8,1965.6 422.3,1970.0 422.8,1969.3 423.3,1970.6 423.8,1969.0 424.3,1969.6 424.8,1969.3 425.3,1967.5 425.8,1968.7 426.4,1969.9 426.9,1968.7 427.4,1967.0 427.9,1967.0 428.4,1973.4 428.9,1967.3 429.4,1967.7 429.9,1969.0 430.4,1968.8 430.9,1970.6 431.4,1968.4 431.9,1970.2 432.4,1969.3 432.9,1969.4 433.5,1969.1 434.0,1968.0 434.5,1968.7 435.0,1967.7 435.5,1968.9 436.0,1969.9 436.5,1970.1 437.0,1968.0 437.5,1968.7 438.0,1969.5 438.5,1972.2 439.0,1970.5 439.5,1970.8 440.0,1972.3 440.6,1971.2 441.1,1969.7 441.6,1973.2 442.1,1970.4 442.6,1972.6 443.1,1971.5 443.6,1971.9 444.1,1973.1 444.6,1970.3 445.1,1968.9 445.6,1971.7 446.1,1971.2 446.6,1971.0 447.1,1971.5 447.7,1969.0 448.2,1971.6 448.7,1971.2 449.2,1972.2 449.7,1971.7 450.2,1971.3 450.7,1973.0 451.2,1973.8 451.7,1972.0 452.2,1970.9 452.7,1971.2 453.2,1974.3 453.7,1969.8 454.2,1972.6 454.8,1973.0 455.3,1973.4 455.8,1969.5 456.3,1973.1 456.8,1969.4 457.3,1972.0 457.8,1971.4 458.3,1969.8 458.8,1975.8 459.3,1972.5 459.8,1970.6 460.3,1971.5 460.8,1973.1 461.3,1974.6 461.9,1973.6 462.4,1971.8 462.9,1976.3 463.4,1974.5 463.9,1976.7 464.4,1976.4 464.9,1974.9 465.4,1976.7 465.9,1974.5 466.4,1976.4 466.9,1972.3 467.4,1972.1 467.9,1973.4 468.4,1976.1 469.0,1975.6 469.5,1974.4 470.0,1974.7 470.5,1974.9 471.0,1976.2 471.5,1977.8 472.0,1977.8 472.5,1976.1 473.0,1976.5 473.5,1977.6 474.0,1975.1 474.5,1976.9 475.0,1978.0 475.6,1978.0 476.1,1976.6 476.6,1976.2 477.1,1976.2 477.6,1980.1 478.1,1978.0 478.6,1976.1 479.1,1975.0 479.6,1978.4 480.1,1980.9 480.6,1978.2 481.1,1977.4 481.6,1980.2 482.1,1978.6 482.7,1979.0 483.2,1979.8 483.7,1979.0 484.2,1980.7 484.7,1981.1 485.2,1979.8 485.7,1979.2 486.2,1980.7 486.7,1976.3 487.2,1979.8 487.7,1979.7 488.2,1981.9 488.7,1979.1 489.2,1982.7 489.8,1980.9 490.3,1981.9 490.8,1983.4 491.3,1981.7 491.8,1980.6 492.3,1982.2 492.8,1982.3 493.3,1985.0 493.8,1982.0 494.3,1983.7 494.8,1984.4 495.3,1984.2 495.8,1982.2 496.3,1980.8 496.9,1984.4 497.4,1985.6 497.9,1984.0 498.4,1985.0 498.9,1983.4 499.4,1984.6 499.9,1985.5 500.4,1983.5 500.9,1985.5 501.4,1983.6 501.9,1982.3 502.4,1984.5 502.9,1983.7 503.4,1984.7 504.0,1985.0 504.5,1983.9 505.0,1984.9 505.5,1983.6 506.0,1985.7 506.5,1983.0 507.0,1982.4 507.5,1986.3 508.0,1981.6 508.5,1984.3 509.0,1984.5 509.5,1986.2 510.0,1984.6 510.5,1984.7 511.1,1982.2 511.6,1986.7 512.1,1983.5 512.6,1985.2 513.1,1984.1 513.6,1987.2 514.1,1984.0 514.6,1983.4 515.1,1987.7 515.6,1984.6 516.1,1986.1 516.6,1986.5 517.1,1983.5 517.6,1987.6 518.2,1984.4 518.7,1986.2 519.2,1986.9 519.7,1986.1 520.2,1984.9 520.7,1987.8 521.2,1985.0 521.7,1984.4 522.2,1988.4 522.7,1988.6 523.2,1983.7 523.7,1986.4 524.2,1986.8 524.7,1982.3 525.3,1986.0 525.8,1988.8 526.3,1985.4 526.8,1989.2 527.3,1990.3 527.8,1987.0 528.3,1986.1 528.8,1987.4 529.3,1985.1 529.8,1989.5 530.3,1988.3 530.8,1985.3 531.3,1986.3 531.8,1987.2 532.4,1989.5 532.9,1989.1 533.4,1986.8 533.9,1988.2 534.4,1987.2 534.9,1988.8 535.4,1987.6 535.9,1991.5 536.4,1988.9 536.9,1987.8 537.4,1986.6 537.9,1986.1 538.4,1989.5 538.9,1989.7 539.5,1991.0 540.0,1986.9 540.5,1989.8 541.0,1986.6 541.5,1989.8 542.0,1989.6 542.5,1989.1 543.0,1988.3 543.5,1988.1 544.0,1988.3 544.5,1985.8 545.0,1990.1 545.5,1987.2 546.0,1989.3 546.6,1989.0 547.1,1990.3 547.6,1989.3 548.1,1989.3 548.6,1989.8 549.1,1991.0 549.6,1988.8 550.1,1988.1 550.6,1989.6 551.1,1989.4 551.6,1990.8 552.1,1990.3 552.6,1990.0 553.1,1991.6 553.7,1990.3 554.2,1990.9 554.7,1989.3 555.2,1992.4 555.7,1991.1 556.2,1988.6 556.7,1988.7 557.2,1993.0 557.7,1990.6 558.2,1993.0 558.7,1994.1 559.2,1990.6 559.7,1990.9 560.3,1991.8 560.8,1989.1 561.3,1987.6 561.8,1993.6 562.3,1989.3 562.8,1990.5 563.3,1993.1 563.8,1990.9 564.3,1992.3 564.8,1991.4 565.3,1988.9 565.8,1989.7 566.3,1991.1 566.8,1989.5 567.4,1992.6 567.9,1991.7 568.4,1988.6 568.9,1992.0 569.4,1990.4 569.9,1990.8 570.4,1992.5 570.9,1988.3 571.4,1989.9 571.9,1991.8 572.4,1989.1 572.9,1993.5 573.4,1986.2 573.9,1993.3 574.5,1992.8 575.0,1990.5 575.5,1991.7 576.0,1990.5 576.5,1994.7 577.0,1991.7 577.5,1992.6 578.0,1992.3 578.5,1989.6 579.0,1988.8 579.5,1992.2 580.0,1994.2 580.5,1993.0 581.0,1991.8 581.6,1992.8 582.1,1991.5 582.6,1994.2 583.1,1993.2 583.6,1992.7 584.1,1995.7 584.6,1991.4 585.1,1990.8 585.6,1992.0 586.1,1991.6 586.6,1991.5 587.1,1993.5 587.6,1993.4 588.1,1989.8 588.7,1991.5 589.2,1991.8 589.7,1989.7 590.2,1993.7 590.7,1992.9 591.2,1993.5 591.7,1991.7 592.2,1991.8 592.7,1993.2 593.2,1993.0 593.7,1992.1 594.2,1993.7 594.7,1991.8 595.2,1994.5 595.8,1993.7 596.3,1992.1 596.8,1991.0 597.3,1993.6 597.8,1994.9 598.3,1993.2 598.8,1995.5 599.3,1994.4 599.8,1995.3 600.3,1990.9 600.8,1992.3 601.3,1993.5 601.8,1993.8 602.3,1993.2 602.9,1992.8 603.4,1990.0 603.9,1995.3 604.4,1994.7 604.9,1992.8 605.4,1993.6 605.9,1992.6 606.4,1995.3 606.9,1993.3 607.4,1995.6 607.9,1992.9 608.4,1992.3 608.9,1991.1 609.4,1994.5 610.0,1992.8 610.5,1994.7 611.0,1995.6 611.5,1994.4 612.0,1996.3 612.5,1993.3 613.0,1992.7 613.5,1994.5 614.0,1993.8 614.5,1996.6 615.0,1991.3 615.5,1992.4 616.0,1996.2 616.5,1992.9 617.1,1993.8 617.6,1993.4 618.1,1994.1 618.6,1997.6 619.1,1996.0 619.6,1994.3 620.1,1997.4 620.6,1992.8 621.1,1994.7 621.6,1997.5 622.1,1992.4 622.6,1992.9 623.1,1992.9 623.6,1993.9 624.2,1995.7 624.7,1996.9 625.2,1996.4 625.7,1996.7 626.2,1995.1 626.7,1993.7 627.2,1993.1 627.7,1994.6 628.2,1993.2 628.7,1992.7 629.2,1995.5 629.7,1993.3 630.2,1994.2 630.7,1998.0 631.3,1995.5 631.8,1995.5 632.3,1994.3 632.8,1993.3 633.3,1995.7 633.8,1994.1 634.3,1994.5" fill="none" stroke="#72b443" stroke-width="3" stroke-linejoin="round" />
<polyline points="76.9,1927.0 77.4,1928.1 77.9,1927.3 78.4,1922.9 78.9,1924.4 79.4,1925.1 79.9,1927.9 80.5,1922.9 81.0,1924.6 81.5,1925.3 82.0,1924.9 82.5,1921.9 83.0,1923.8 83.5,1922.4 84.0,1921.8 84.5,1920.6 85.0,1918.3 85.5,1920.1 86.0,1918.2 86.5,1921.9 87.0,1921.1 87.6,1923.2 88.1,1917.9 88.6,1917.8 89.1,1920.0 89.6,1920.7 90.1,1921.9 90.6,1918.7 91.1,1917.8 91.6,1919.2 92.1,1926.3 92.6,1919.5 93.1,1920.2 93.6,1922.8 94.1,1922.6 94.7,1921.1 95.2,1917.1 95.7,1923.3 96.2,1921.6 96.7,1924.9 97.2,1923.1 97.7,1924.2 98.2,1920.5 98.7,1924.0 99.2,1924.0 99.7,1923.6 100.2,1925.3 100.7,1925.8 101.2,1924.4 101.8,1926.4 102.3,1928.1 102.8,1926.8 103.3,1925.9 103.8,1926.8 104.3,1926.3 104.8,1927.2 105.3,1928.3 105.8,1926.6 106.3,1928.4 106.8,1930.1 107.3,1927.3 107.8,1926.5 108.3,1927.2 108.9,1929.0 109.4,1928.6 109.9,1927.0 110.4,1923.8 110.9,1928.8 111.4,1928.6 111.9,1928.5 112.4,1926.6 112.9,1924.1 113.4,1926.9 113.9,1926.1 114.4,1928.1 114.9,1929.4 115.4,1928.1 116.0,1926.0 116.5,1927.5 117.0,1925.1 117.5,1926.9 118.0,1925.5 118.5,1924.3 119.0,1925.4 119.5,1924.7 120.0,1926.3 120.5,1923.6 121.0,1923.2 121.5,1925.3 122.0,1923.3 122.5,1922.7 123.1,1925.2 123.6,1917.7 124.1,1918.9 124.6,1920.0 125.1,1922.7 125.6,1922.8 126.1,1920.5 126.6,1918.7 127.1,1917.2 127.6,1920.0 128.1,1919.5 128.6,1917.7 129.1,1920.0 129.6,1920.7 130.2,1916.4 130.7,1918.1 131.2,1915.3 131.7,1917.6 132.2,1915.0 132.7,1917.0 133.2,1919.9 133.7,1915.7 134.2,1918.9 134.7,1918.6 135.2,1918.3 135.7,1915.6 136.2,1913.9 136.7,1916.1 137.3,1917.0 137.8,1915.0 138.3,1914.4 138.8,1913.7 139.3,1920.5 139.8,1912.3 140.3,1916.8 140.8,1914.6 141.3,1917.3 141.8,1917.3 142.3,1913.6 142.8,1915.1 143.3,1914.6 143.8,1916.0 144.4,1914.8 144.9,1916.2 145.4,1915.7 145.9,1913.9 146.4,1916.5 146.9,1915.5 147.4,1915.5 147.9,1913.9 148.4,1915.6 148.9,1913.7 149.4,1916.4 149.9,1914.9 150.4,1910.4 150.9,1915.0 151.5,1914.8 152.0,1913.9 152.5,1915.0 153.0,1911.2 153.5,1914.0 154.0,1912.0 154.5,1913.4 155.0,1911.8 155.5,1910.7 156.0,1912.0 156.5,1909.6 157.0,1912.0 157.5,1912.8 158.1,1913.3 158.6,1911.5 159.1,1909.6 159.6,1909.6 160.1,1909.2 160.6,1910.8 161.1,1906.6 161.6,1906.7 162.1,1903.5 162.6,1908.0 163.1,1903.3 163.6,1902.3 164.1,1900.4 164.6,1902.9 165.2,1901.1 165.7,1899.9 166.2,1897.2 166.7,1896.8 167.2,1897.1 167.7,1889.7 168.2,1888.6 168.7,1886.4 169.2,1877.8 169.7,1875.8 170.2,1870.7 170.7,1863.1 171.2,1858.9 171.7,1854.9 172.3,1850.2 172.8,1843.0 173.3,1837.1 173.8,1835.7 174.3,1831.9 174.8,1828.6 175.3,1825.3 175.8,1820.5 176.3,1815.8 176.8,1809.8 177.3,1808.6 177.8,1805.3 178.3,1800.3 178.8,1798.4 179.4,1796.2 179.9,1797.7 180.4,1799.2 180.9,1799.9 181.4,1802.7 181.9,1803.6 182.4,1804.2 182.9,1809.8 183.4,1807.5 183.9,1814.4 184.4,1815.3 184.9,1818.2 185.4,1819.0 185.9,1822.5 186.5,1827.0 187.0,1825.6 187.5,1829.4 188.0,1831.5 188.5,1828.9 189.0,1835.3 189.5,1839.2 190.0,1840.2 190.5,1843.4 191.0,1844.2 191.5,1851.0 192.0,1851.1 192.5,1852.4 193.0,1853.4 193.6,1857.8 194.1,1858.1 194.6,1860.6 195.1,1861.7 195.6,1860.1 196.1,1864.5 196.6,1861.4 197.1,1862.3 197.6,1867.5 198.1,1872.1 198.6,1871.5 199.1,1872.8 199.6,1871.8 200.1,1874.0 200.7,1876.2 201.2,1873.0 201.7,1876.0 202.2,1877.3 202.7,1880.2 203.2,1881.3 203.7,1878.8 204.2,1882.5 204.7,1880.5 205.2,1880.2 205.7,1882.3 206.2,1878.7 206.7,1878.6 207.2,1877.2 207.8,1877.4 208.3,1874.4 208.8,1881.2 209.3,1877.6 209.8,1878.7 210.3,1872.2 210.8,1870.8 211.3,1875.1 211.8,1871.4 212.3,1870.3 212.8,1869.0 213.3,1866.7 213.8,1866.7 214.3,1870.3 214.9,1864.2 215.4,1867.5 215.9,1865.0 216.4,1864.9 216.9,1864.8 217.4,1860.8 217.9,1863.3 218.4,1862.3 218.9,1865.7 219.4,1861.9 219.9,1862.9 220.4,1861.7 220.9,1862.3 221.4,1862.4 222.0,1862.4 222.5,1864.6 223.0,1864.0 223.5,1865.0 224.0,1866.4 224.5,1864.6 225.0,1866.0 225.5,1867.8 226.0,1869.0 226.5,1871.9 227.0,1866.6 227.5,1869.6 228.0,1870.2 228.5,1872.7 229.1,1873.1 229.6,1871.5 230.1,1873.5 230.6,1874.3 231.1,1873.6 231.6,1875.4 232.1,1876.6 232.6,1879.8 233.1,1878.6 233.6,1878.0 234.1,1878.0 234.6,1879.2 235.1,1881.8 235.6,1882.3 236.2,1879.2 236.7,1880.3 237.2,1881.4 237.7,1882.0 238.2,1880.1 238.7,1883.0 239.2,1883.7 239.7,1884.0 240.2,1885.9 240.7,1884.6 241.2,1883.0 241.7,1881.2 242.2,1883.5 242.8,1882.7 243.3,1885.6 243.8,1883.8 244.3,1882.0 244.8,1883.3 245.3,1886.5 245.8,1883.1 246.3,1884.5 246.8,1886.0 247.3,1884.9 247.8,1882.2 248.3,1882.2 248.8,1883.1 249.3,1885.2 249.9,1885.0 250.4,1883.4 250.9,1884.6 251.4,1885.0 251.9,1882.0 252.4,1882.7 252.9,1884.9 253.4,1886.5 253.9,1884.5 254.4,1885.1 254.9,1887.2 255.4,1883.6 255.9,1884.9 256.4,1884.5 257.0,1887.9 257.5,1884.1 258.0,1883.6 258.5,1886.6 259.0,1889.7 259.5,1886.6 260.0,1887.2 260.5,1887.2 261.0,1886.0 261.5,1884.9 262.0,1888.1 262.5,1886.1 263.0,1883.5 263.5,1884.5 264.1,1885.3 264.6,1884.0 265.1,1885.3 265.6,1884.7 266.1,1884.7 266.6,1883.0 267.1,1887.8 267.6,1883.6 268.1,1883.3 268.6,1886.5 269.1,1885.1 269.6,1885.3 270.1,1888.4 270.6,1884.4 271.2,1883.5 271.7,1884.2 272.2,1884.6 272.7,1886.1 273.2,1886.5 273.7,1887.6 274.2,1885.1 274.7,1886.6 275.2,1884.3 275.7,1885.1 276.2,1886.1 276.7,1884.1 277.2,1888.7 277.7,1885.4 278.3,1884.6 278.8,1884.7 279.3,1886.6 279.8,1889.1 280.3,1884.3 280.8,1886.8 281.3,1885.3 281.8,1888.2 282.3,1886.1 282.8,1883.5 283.3,1885.4 283.8,1886.9 284.3,1887.1 284.8,1890.2 285.4,1888.6 285.9,1886.4 286.4,1889.6 286.9,1888.2 287.4,1892.0 287.9,1888.4 288.4,1888.0 288.9,1889.7 289.4,1892.2 289.9,1888.9 290.4,1892.2 290.9,1890.0 291.4,1890.5 291.9,1892.3 292.5,1892.2 293.0,1891.5 293.5,1893.8 294.0,1890.1 294.5,1887.0 295.0,1892.3 295.5,1891.6 296.0,1891.0 296.5,1893.4 297.0,1887.9 297.5,1891.1 298.0,1893.7 298.5,1892.1 299.0,1893.7 299.6,1892.1 300.1,1889.7 300.6,1889.7 301.1,1892.0 301.6,1889.5 302.1,1894.2 302.6,1890.2 303.1,1888.7 303.6,1891.1 304.1,1892.3 304.6,1891.3 305.1,1891.1 305.6,1890.6 306.1,1888.4 306.7,1891.5 307.2,1892.4 307.7,1889.5 308.2,1891.9 308.7,1888.2 309.2,1891.2 309.7,1889.2 310.2,1892.1 310.7,1888.4 311.2,1888.7 311.7,1890.1 312.2,1890.5 312.7,1890.0 313.2,1891.5 313.8,1890.3 314.3,1889.8 314.8,1892.9 315.3,1891.7 315.8,1890.5 316.3,1890.6 316.8,1887.1 317.3,1887.9 317.8,1893.4 318.3,1887.5 318.8,1891.4 319.3,1890.5 319.8,1889.2 320.4,1893.9 320.9,1889.3 321.4,1892.2 321.9,1888.7 322.4,1890.3 322.9,1890.3 323.4,1890.2 323.9,1891.8 324.4,1890.5 324.9,1888.0 325.4,1890.6 325.9,1887.6 326.4,1892.8 326.9,1892.4 327.5,1892.4 328.0,1890.8 328.5,1892.2 329.0,1888.1 329.5,1890.9 330.0,1892.4 330.5,1888.7 331.0,1893.0 331.5,1892.4 332.0,1893.8 332.5,1892.7 333.0,1896.1 333.5,1894.1 334.0,1896.5 334.6,1896.3 335.1,1893.2 335.6,1892.0 336.1,1895.2 336.6,1896.6 337.1,1896.9 337.6,1895.9 338.1,1900.5 338.6,1897.1 339.1,1899.9 339.6,1895.0 340.1,1898.8 340.6,1898.0 341.1,1900.2 341.7,1902.7 342.2,1897.7 342.7,1898.0 343.2,1898.9 343.7,1898.8 344.2,1899.3 344.7,1899.5 345.2,1898.6 345.7,1899.6 346.2,1899.3 346.7,1901.9 347.2,1898.8 347.7,1901.2 348.2,1900.9 348.8,1900.3 349.3,1901.9 349.8,1897.1 350.3,1900.9 350.8,1899.1 351.3,1896.6 351.8,1899.8 352.3,1901.0 352.8,1897.3 353.3,1901.1 353.8,1899.1 354.3,1899.4 354.8,1903.3 355.3,1902.8 355.9,1902.0 356.4,1901.7 356.9,1899.6 357.4,1904.2 357.9,1903.0 358.4,1902.4 358.9,1903.7 359.4,1901.7 359.9,1901.6 360.4,1902.8 360.9,1902.9 361.4,1904.3 361.9,1901.1 362.4,1904.7 363.0,1902.0 363.5,1903.6 364.0,1902.5 364.5,1899.0 365.0,1901.8 365.5,1901.8 366.0,1901.5 366.5,1906.3 367.0,1901.6 367.5,1903.2 368.0,1903.4 368.5,1901.6 369.0,1900.1 369.5,1900.9 370.1,1905.0 370.6,1901.3 371.1,1903.1 371.6,1903.0 372.1,1900.8 372.6,1904.0 373.1,1903.5 373.6,1900.5 374.1,1901.2 374.6,1902.0 375.1,1904.5 375.6,1901.6 376.1,1899.6 376.6,1905.7 377.2,1901.1 377.7,1901.9 378.2,1901.9 378.7,1899.7 379.2,1905.1 379.7,1904.6 380.2,1904.8 380.7,1903.4 381.2,1908.3 381.7,1900.8 382.2,1903.2 382.7,1902.6 383.2,1899.3 383.7,1901.8 384.3,1902.7 384.8,1902.9 385.3,1902.5 385.8,1903.0 386.3,1903.4 386.8,1902.7 387.3,1905.2 387.8,1903.1 388.3,1905.4 388.8,1905.6 389.3,1903.5 389.8,1901.8 390.3,1903.9 390.8,1905.4 391.4,1899.4 391.9,1902.6 392.4,1907.0 392.9,1902.7 393.4,1901.8 393.9,1901.6 394.4,1901.8 394.9,1901.9 395.4,1900.5 395.9,1902.8 396.4,1902.6 396.9,1900.2 397.4,1904.4 398.0,1904.1 398.5,1901.3 399.0,1901.6 399.5,1902.7 400.0,1901.9 400.5,1902.7 401.0,1903.5 401.5,1904.2 402.0,1903.2 402.5,1901.1 403.0,1900.8 403.5,1898.7 404.0,1901.3 404.5,1903.7 405.1,1901.9 405.6,1899.8 406.1,1901.3 406.6,1900.0 407.1,1900.7 407.6,1899.4 408.1,1903.1 408.6,1896.7 409.1,1898.4 409.6,1901.1 410.1,1896.4 410.6,1899.2 411.1,1897.7 411.6,1900.3 412.2,1899.7 412.7,1899.5 413.2,1899.6 413.7,1899.2 414.2,1902.7 414.7,1898.9 415.2,1897.7 415.7,1899.5 416.2,1896.9 416.7,1897.6 417.2,1901.0 417.7,1899.7 418.2,1899.2 418.7,1901.3 419.3,1898.0 419.8,1896.4 420.3,1901.3 420.8,1899.2 421.3,1903.7 421.8,1897.2 422.3,1900.0 422.8,1899.0 423.3,1900.4 423.8,1900.0 424.3,1899.6 424.8,1902.9 425.3,1902.3 425.8,1901.2 426.4,1901.8 426.9,1901.4 427.4,1898.1 427.9,1899.7 428.4,1901.9 428.9,1901.8 429.4,1904.5 429.9,1900.5 430.4,1901.7 430.9,1902.2 431.4,1902.7 431.9,1904.5 432.4,1901.2 432.9,1904.5 433.5,1903.6 434.0,1900.7 434.5,1901.2 435.0,1903.4 435.5,1906.7 436.0,1904.5 436.5,1905.1 437.0,1904.9 437.5,1902.5 438.0,1903.6 438.5,1902.2 439.0,1906.5 439.5,1904.6 440.0,1907.6 440.6,1905.5 441.1,1903.5 441.6,1905.4 442.1,1908.0 442.6,1906.0 443.1,1906.8 443.6,1904.3 444.1,1906.4 444.6,1908.5 445.1,1907.3 445.6,1908.0 446.1,1908.3 446.6,1906.7 447.1,1908.3 447.7,1908.3 448.2,1907.4 448.7,1911.7 449.2,1911.6 449.7,1911.3 450.2,1909.2 450.7,1906.9 451.2,1910.9 451.7,1908.6 452.2,1911.2 452.7,1909.4 453.2,1909.0 453.7,1907.2 454.2,1911.0 454.8,1911.6 455.3,1911.8 455.8,1912.4 456.3,1908.2 456.8,1911.3 457.3,1912.6 457.8,1913.0 458.3,1908.7 458.8,1911.9 459.3,1913.3 459.8,1912.8 460.3,1910.3 460.8,1913.4 461.3,1912.4 461.9,1914.4 462.4,1911.0 462.9,1912.5 463.4,1912.3 463.9,1913.5 464.4,1910.1 464.9,1912.4 465.4,1910.5 465.9,1912.4 466.4,1911.8 466.9,1912.8 467.4,1914.3 467.9,1913.6 468.4,1913.9 469.0,1913.9 469.5,1913.1 470.0,1912.3 470.5,1914.0 471.0,1910.6 471.5,1913.9 472.0,1912.8 472.5,1912.5 473.0,1913.9 473.5,1914.0 474.0,1912.2 474.5,1914.0 475.0,1915.0 475.6,1913.0 476.1,1915.4 476.6,1912.0 477.1,1913.0 477.6,1915.6 478.1,1914.1 478.6,1913.7 479.1,1915.5 479.6,1916.0 480.1,1914.8 480.6,1915.6 481.1,1915.2 481.6,1914.2 482.1,1915.6 482.7,1914.9 483.2,1912.0 483.7,1914.6 484.2,1916.4 484.7,1915.7 485.2,1915.7 485.7,1914.8 486.2,1913.4 486.7,1914.4 487.2,1913.9 487.7,1913.7 488.2,1917.0 488.7,1915.6 489.2,1914.4 489.8,1917.3 490.3,1917.9 490.8,1914.3 491.3,1917.9 491.8,1914.9 492.3,1921.2 492.8,1917.7 493.3,1914.0 493.8,1919.3 494.3,1915.9 494.8,1918.4 495.3,1920.6 495.8,1919.5 496.3,1915.4 496.9,1918.4 497.4,1917.3 497.9,1918.8 498.4,1918.0 498.9,1918.5 499.4,1921.3 499.9,1917.9 500.4,1921.1 500.9,1917.7 501.4,1919.0 501.9,1917.1 502.4,1921.5 502.9,1919.9 503.4,1917.7 504.0,1920.2 504.5,1919.5 505.0,1919.5 505.5,1919.5 506.0,1921.6 506.5,1919.6 507.0,1922.5 507.5,1922.0 508.0,1922.6 508.5,1923.0 509.0,1922.1 509.5,1920.4 510.0,1923.1 510.5,1919.5 511.1,1920.8 511.6,1923.8 512.1,1919.2 512.6,1920.8 513.1,1920.2 513.6,1923.1 514.1,1920.9 514.6,1923.0 515.1,1922.9 515.6,1926.1 516.1,1926.4 516.6,1921.8 517.1,1922.2 517.6,1923.2 518.2,1922.8 518.7,1923.0 519.2,1923.4 519.7,1925.2 520.2,1926.0 520.7,1921.6 521.2,1924.9 521.7,1924.3 522.2,1922.5 522.7,1924.1 523.2,1923.4 523.7,1924.5 524.2,1924.6 524.7,1921.7 525.3,1923.7 525.8,1925.0 526.3,1923.6 526.8,1919.7 527.3,1926.9 527.8,1924.6 528.3,1925.9 528.8,1923.9 529.3,1923.6 529.8,1926.6 530.3,1925.3 530.8,1924.4 531.3,1925.8 531.8,1924.8 532.4,1925.8 532.9,1926.8 533.4,1925.5 533.9,1924.8 534.4,1926.7 534.9,1927.5 535.4,1926.1 535.9,1925.8 536.4,1925.9 536.9,1924.8 537.4,1927.0 537.9,1925.3 538.4,1925.4 538.9,1926.7 539.5,1928.4 540.0,1928.0 540.5,1924.5 541.0,1928.5 541.5,1927.5 542.0,1926.5 542.5,1927.9 543.0,1926.9 543.5,1929.5 544.0,1925.3 544.5,1928.9 545.0,1925.9 545.5,1926.2 546.0,1928.1 546.6,1923.6 547.1,1928.2 547.6,1928.9 548.1,1924.1 548.6,1925.9 549.1,1928.6 549.6,1925.4 550.1,1924.9 550.6,1929.9 551.1,1926.5 551.6,1929.7 552.1,1928.8 552.6,1927.8 553.1,1926.0 553.7,1929.1 554.2,1928.1 554.7,1926.5 555.2,1926.2 555.7,1926.9 556.2,1925.7 556.7,1926.7 557.2,1928.3 557.7,1926.2 558.2,1927.1 558.7,1927.2 559.2,1927.5 559.7,1926.6 560.3,1928.4 560.8,1929.7 561.3,1925.8 561.8,1927.0 562.3,1927.7 562.8,1929.8 563.3,1927.8 563.8,1927.2 564.3,1929.5 564.8,1927.9 565.3,1926.4 565.8,1928.6 566.3,1928.4 566.8,1927.3 567.4,1925.6 567.9,1927.5 568.4,1929.0 568.9,1929.0 569.4,1926.1 569.9,1926.6 570.4,1930.0 570.9,1925.6 571.4,1930.0 571.9,1929.7 572.4,1931.9 572.9,1926.1 573.4,1930.1 573.9,1927.8 574.5,1928.9 575.0,1927.2 575.5,1930.4 576.0,1929.9 576.5,1927.2 577.0,1926.7 577.5,1929.6 578.0,1928.4 578.5,1929.5 579.0,1929.5 579.5,1929.9 580.0,1929.4 580.5,1928.5 581.0,1931.0 581.6,1930.6 582.1,1929.4 582.6,1930.2 583.1,1929.6 583.6,1929.5 584.1,1928.9 584.6,1931.9 585.1,1928.9 585.6,1932.0 586.1,1930.9 586.6,1930.8 587.1,1931.0 587.6,1930.7 588.1,1928.0 588.7,1927.7 589.2,1928.9 589.7,1929.2 590.2,1930.1 590.7,1929.9 591.2,1930.8 591.7,1927.6 592.2,1930.5 592.7,1929.1 593.2,1929.2 593.7,1929.2 594.2,1930.4 594.7,1929.0 595.2,1931.6 595.8,1931.7 596.3,1929.4 596.8,1929.4 597.3,1930.6 597.8,1932.6 598.3,1931.7 598.8,1929.6 599.3,1930.6 599.8,1928.9 600.3,1930.1 600.8,1929.1 601.3,1931.8 601.8,1930.6 602.3,1930.9 602.9,1928.5 603.4,1930.3 603.9,1930.5 604.4,1932.9 604.9,1928.5 605.4,1929.7 605.9,1929.7 606.4,1932.0 606.9,1930.4 607.4,1933.3 607.9,1933.9 608.4,1928.4 608.9,1933.6 609.4,1932.7 610.0,1932.9 610.5,1932.5 611.0,1931.3 611.5,1931.0 612.0,1930.9 612.5,1930.5 613.0,1932.4 613.5,1931.9 614.0,1932.3 614.5,1932.3 615.0,1929.4 615.5,1932.0 616.0,1931.0 616.5,1930.8 617.1,1932.2 617.6,1933.7 618.1,1932.0 618.6,1932.8 619.1,1934.9 619.6,1933.6 620.1,1933.5 620.6,1931.5 621.1,1934.0 621.6,1932.2 622.1,1935.2 622.6,1935.9 623.1,1931.8 623.6,1933.4 624.2,1933.2 624.7,1935.4 625.2,1931.0 625.7,1935.0 626.2,1934.9 626.7,1933.4 627.2,1934.2 627.7,1933.2 628.2,1933.9 628.7,1933.1 629.2,1931.2 629.7,1932.6 630.2,1932.7 630.7,1934.4 631.3,1932.9 631.8,1934.4 632.3,1935.3 632.8,1933.1 633.3,1934.6 633.8,1931.7 634.3,1934.0" fill="none" stroke="#f0288a" stroke-width="3" stroke-linejoin="round" />
<rect x="76.9" y="1782.6" width="557.4" height="449.4" fill="none" stroke="#000" stroke-width="3"/>
<path d="M76.9 2233.5v8 M188.4 2233.5v8 M299.9 2233.5v8 M411.3 2233.5v8 M522.8 2233.5v8 M634.3 2233.5v8 M132.6 2233.5v4 M244.1 2233.5v4 M355.6 2233.5v4 M467.1 2233.5v4 M578.6 2233.5v4" stroke="#000" stroke-width="3" fill="none"/>
<text x="76.9" y="2269.5" font-size="30" font-weight="bold" fill="#000" text-anchor="middle">10</text>
<text x="188.4" y="2269.5" font-size="30" font-weight="bold" fill="#000" text-anchor="middle">20</text>
<text x="299.9" y="2269.5" font-size="30" font-weight="bold" fill="#000" text-anchor="middle">30</text>
<text x="411.3" y="2269.5" font-size="30" font-weight="bold" fill="#000" text-anchor="middle">40</text>
<text x="522.8" y="2269.5" font-size="30" font-weight="bold" fill="#000" text-anchor="middle">50</text>
<text x="634.3" y="2269.5" font-size="30" font-weight="bold" fill="#000" text-anchor="middle">60</text>
<rect x="766" y="2086.6" width="35.4" height="139.9" fill="#d4508e"/>
<rect x="801.4" y="2192.6" width="35.6" height="33.9" fill="#7de4dc"/>
<path d="M783.7 2086.6V2074.4M778.7 2074.4h10" stroke="#000" stroke-width="3" fill="none"/>
<path d="M819.2 2192.6V2188.8M814.2 2188.8h10" stroke="#000" stroke-width="3" fill="none"/>
<rect x="875" y="2071.1" width="35.5" height="155.4" fill="#d4508e"/>
<rect x="910.5" y="2197.6" width="35.5" height="28.9" fill="#7de4dc"/>
<path d="M892.8 2071.1V2060.0M887.8 2060.0h10" stroke="#000" stroke-width="3" fill="none"/>
<path d="M928.2 2197.6V2194.3M923.2 2194.3h10" stroke="#000" stroke-width="3" fill="none"/>
<rect x="985.3" y="2015.0" width="35.5" height="211.5" fill="#d4508e"/>
<rect x="1020.8" y="2164.9" width="35.5" height="61.6" fill="#7de4dc"/>
<path d="M1003.0 2015.0V2013.4M998.0 2013.4h10" stroke="#000" stroke-width="3" fill="none"/>
<path d="M1038.5 2164.9V2163.2M1033.5 2163.2h10" stroke="#000" stroke-width="3" fill="none"/>
<rect x="1094.5" y="1970.1" width="35.8" height="256.4" fill="#d4508e"/>
<rect x="1130.3" y="2128.8" width="35.5" height="97.7" fill="#7de4dc"/>
<path d="M1112.4 1970.1V1956.8M1107.4 1956.8h10" stroke="#000" stroke-width="3" fill="none"/>
<path d="M1148.0 2128.8V2123.3M1143.0 2123.3h10" stroke="#000" stroke-width="3" fill="none"/>
<rect x="1204.8" y="1845.8" width="35.5" height="380.7" fill="#d4508e"/>
<rect x="1240.3" y="2037.2" width="35.7" height="189.3" fill="#7de4dc"/>
<path d="M1222.5 1845.8V1832.5M1217.5 1832.5h10" stroke="#000" stroke-width="3" fill="none"/>
<path d="M1258.2 2037.2V2031.1M1253.2 2031.1h10" stroke="#000" stroke-width="3" fill="none"/>
<path d="M747 2226.5V1782.5H1295.4V2226.5" fill="none" stroke="#000" stroke-width="3"/>
<path d="M738 2226.5H1295.4" fill="none" stroke="#000" stroke-width="3.5"/>
<path d="M745.5 2226.5h-7 M745.5 2171.0h-7 M745.5 2115.5h-7 M745.5 2060.0h-7 M745.5 2004.5h-7 M745.5 1949.0h-7 M745.5 1893.5h-7 M745.5 1838.0h-7 M745.5 1782.5h-7 M745.5 2198.8h-3 M745.5 2143.2h-3 M745.5 2087.8h-3 M745.5 2032.2h-3 M745.5 1976.8h-3 M745.5 1921.2h-3 M745.5 1865.8h-3 M745.5 1810.2h-3" stroke="#000" stroke-width="3" fill="none"/>
<text x="731.6" y="2235.0" font-size="30" font-weight="bold" fill="#000" text-anchor="end">0</text>
<text x="731.6" y="2179.5" font-size="30" font-weight="bold" fill="#000" text-anchor="end">5</text>
<text x="731.6" y="2124.0" font-size="30" font-weight="bold" fill="#000" text-anchor="end">10</text>
<text x="731.6" y="2068.5" font-size="30" font-weight="bold" fill="#000" text-anchor="end">15</text>
<text x="731.6" y="2013.0" font-size="30" font-weight="bold" fill="#000" text-anchor="end">20</text>
<text x="731.6" y="1957.5" font-size="30" font-weight="bold" fill="#000" text-anchor="end">25</text>
<text x="731.6" y="1902.0" font-size="30" font-weight="bold" fill="#000" text-anchor="end">30</text>
<text x="731.6" y="1846.5" font-size="30" font-weight="bold" fill="#000" text-anchor="end">35</text>
<text x="731.6" y="1791.0" font-size="30" font-weight="bold" fill="#000" text-anchor="end">40</text>
<rect x="762" y="1799.4" width="64.2" height="32" fill="#d4508e"/>
<rect x="762" y="1836.4" width="64.2" height="30.5" fill="#7de4dc"/>
<polygon points="1390.5,1792.5 1524,1745 1644.4,1801.1 1507,1852" fill="#d6f6f9"/>
<polygon points="1390.5,1792.5 1507,1852 1505,1908 1383.9,1851.7" fill="#cdf3f7"/>
<polygon points="1507,1852 1644.4,1801.1 1638.6,1857.4 1505,1908" fill="#d8f8fa"/>
<polygon points="1420,1800 1524,1762 1610,1800 1507,1840" fill="#c8eef4" opacity="0.6"/>
<path d="M1447,1782 C1460,1800 1470,1805 1480,1815 C1490,1805 1480,1790 1490,1787 C1505,1782 1530,1795 1540,1790 C1548,1788 1545,1800 1540,1812" fill="none" stroke="#56ace0" stroke-width="3.5" stroke-linecap="round"/>
<path d="M1437,1835 C1440,1815 1450,1808 1470,1810" fill="none" stroke="#56ace0" stroke-width="3.5" stroke-linecap="round"/>
<path d="M1455,1845 C1465,1835 1480,1832 1495,1835 C1510,1838 1520,1832 1530,1840 C1540,1850 1540,1862 1543,1877" fill="none" stroke="#56ace0" stroke-width="3.5" stroke-linecap="round"/>
<path d="M1500,1845 C1500,1835 1505,1825 1512,1822" fill="none" stroke="#56ace0" stroke-width="3.5" stroke-linecap="round"/>
<path d="M1523,1771 L1524,1795" fill="none" stroke="#56ace0" stroke-width="3.5" stroke-linecap="round"/>
<path d="M1540,1815 C1542,1825 1548,1832 1555,1835 C1570,1838 1578,1832 1590,1826" fill="none" stroke="#56ace0" stroke-width="3.5" stroke-linecap="round"/>
<path d="M1573,1829 C1580,1840 1580,1855 1575,1865 C1565,1868 1560,1866 1555,1870" fill="none" stroke="#56ace0" stroke-width="3.5" stroke-linecap="round"/>
<path d="M1578,1845 C1590,1855 1600,1858 1612,1862" fill="none" stroke="#56ace0" stroke-width="3.5" stroke-linecap="round"/>
<circle cx="1480.2" cy="1826.9" r="12" fill="url(#gSph)"/>
<circle cx="1520.3" cy="1811.6" r="12" fill="url(#gSph)"/>
<circle cx="1548.0" cy="1839.3" r="12" fill="url(#gSph)"/>
<circle cx="1507.9" cy="1854.5" r="12" fill="url(#gSph)"/>
<polygon points="1399.6,2069.8 1892.3,1877.6 1912.5,1903 1416,2093" fill="#d4f6f9"/>
<polygon points="1416,2093 1912.5,1903 1903.6,2016 1409.8,2207.8" fill="url(#gFront)"/>
<polygon points="1399.6,2069.8 1416,2093 1409.8,2207.8 1389.4,2180" fill="url(#gCap)"/>
<polygon points="1892.3,1877.6 1912.5,1903 1903.6,2016 1887,2011 1888,1990" fill="#d6f6fa" opacity="0.8"/>
<g transform="matrix(0.931 -0.365 -0.054 0.9985 1416 2093)"><path d="M10,12 C190,12 230,12 250,8.0 S310,4 505,4" fill="none" stroke="#78cbec" stroke-width="3.2" stroke-linecap="round"/><path d="M10,30 C130,30 170,30 190,19.0 S250,8 505,8" fill="none" stroke="#4b9fdc" stroke-width="3.2" stroke-linecap="round"/><path d="M10,38 C270,38 310,38 330,28.0 S390,18 505,18" fill="none" stroke="#4b9fdc" stroke-width="3.2" stroke-linecap="round"/><path d="M10,52 C60,52 100,52 120,40.0 S180,28 505,28" fill="none" stroke="#4b9fdc" stroke-width="3.2" stroke-linecap="round"/><path d="M10,62 C240,62 280,62 300,48.0 S360,34 505,34" fill="none" stroke="#4b9fdc" stroke-width="3.2" stroke-linecap="round"/><path d="M10,78 C120,78 160,78 180,63.0 S240,48 505,48" fill="none" stroke="#4b9fdc" stroke-width="3.2" stroke-linecap="round"/><path d="M10,86 C270,86 310,86 330,69.0 S390,52 505,52" fill="none" stroke="#4b9fdc" stroke-width="3.2" stroke-linecap="round"/><path d="M10,100 C130,100 170,100 190,84.0 S250,68 505,68" fill="none" stroke="#78cbec" stroke-width="3.2" stroke-linecap="round"/><path d="M10,104 C270,104 310,104 330,89.0 S390,74 505,74" fill="none" stroke="#78cbec" stroke-width="3.2" stroke-linecap="round"/></g>
<circle cx="1702.0" cy="1986.0" r="9.5" fill="url(#gSph)"/>
<circle cx="1730.4" cy="1976.5" r="9.5" fill="url(#gSph)"/>
<circle cx="1659.8" cy="2040.8" r="9.5" fill="url(#gSph)"/>
<circle cx="1685.6" cy="2032.0" r="9.5" fill="url(#gSph)"/>
<circle cx="1640.3" cy="2082.5" r="9.5" fill="url(#gSph)"/>
<circle cx="1672.8" cy="2070.8" r="9.5" fill="url(#gSph)"/>
<line x1="1392.1" y1="2053.9" x2="1872.7" y2="1871.2" stroke="#8ad8f0" stroke-width="4"/>
<path d="M1889.5,1864.8 L1875.5,1878.7 L1869.8,1863.7z M1375.3,2060.3 L1395.0,2061.4 L1389.3,2046.4z" fill="#8ad8f0"/>
<polygon points="1642,2093 1668,2177.4 1545.7,2177.4" fill="url(#gCone)" opacity="0.85"/>
<polygon points="1833,2016 1908.2,2115.7 1748.9,2115.7" fill="url(#gCone)" opacity="0.85"/>
<rect x="1545.7" y="2177.4" width="122.3" height="101.1" fill="#e8fafc" stroke="#86d6ee" stroke-width="3" stroke-dasharray="10 6"/>
<rect x="1748.9" y="2115.7" width="159.3" height="162.8" fill="#e8fafc" stroke="#86d6ee" stroke-width="3" stroke-dasharray="10 6"/>
<circle cx="1572.6" cy="2199.9" r="15" fill="url(#gSph2)"/>
<circle cx="1572.6" cy="2252.6" r="15" fill="url(#gSph2)"/>
<circle cx="1629.9" cy="2252.6" r="16" fill="url(#gSph2)"/>
<path d="M1557,2201.5H1589M1574,2254.4H1628" stroke="#000" stroke-width="2"/>
<circle cx="1557" cy="2201.5" r="2.2"/><circle cx="1589" cy="2201.5" r="2.2"/>
<path d="M1572,2254.4l6,-3v6z M1629,2254.4l-6,-3v6z" fill="#000"/>
<path d="M1776.9 2126.9L1776.9 2143.8 M1776.9 2143.8L1778.0 2159.5 M1778.0 2159.5L1790.4 2162.9 M1790.4 2162.9L1806.1 2180.8 M1806.1 2180.8L1809.5 2196.5 M1809.5 2196.5L1811.7 2205.5 M1811.7 2205.5L1814.0 2222.3 M1814.0 2222.3L1802.7 2230.2 M1802.7 2230.2L1805.0 2243.7 M1805.0 2243.7L1792.6 2254.9 M1792.6 2254.9L1796.0 2267.2" stroke="#9a9a9a" stroke-width="3"/>
<circle cx="1768.0" cy="2124" r="2.3" fill="#f4f4f4" stroke="#bbb" stroke-width="0.6"/>
<circle cx="1785.0" cy="2120" r="2.3" fill="#f4f4f4" stroke="#bbb" stroke-width="0.6"/>
<circle cx="1770.0" cy="2142" r="2.3" fill="#f4f4f4" stroke="#bbb" stroke-width="0.6"/>
<circle cx="1786.0" cy="2146" r="2.3" fill="#f4f4f4" stroke="#bbb" stroke-width="0.6"/>
<circle cx="1797.0" cy="2160" r="2.3" fill="#f4f4f4" stroke="#bbb" stroke-width="0.6"/>
<circle cx="1770.0" cy="2185" r="2.3" fill="#f4f4f4" stroke="#bbb" stroke-width="0.6"/>
<circle cx="1813.0" cy="2178" r="2.3" fill="#f4f4f4" stroke="#bbb" stroke-width="0.6"/>
<circle cx="1798.0" cy="2200" r="2.3" fill="#f4f4f4" stroke="#bbb" stroke-width="0.6"/>
<circle cx="1820.0" cy="2215" r="2.3" fill="#f4f4f4" stroke="#bbb" stroke-width="0.6"/>
<circle cx="1795.0" cy="2228" r="2.3" fill="#f4f4f4" stroke="#bbb" stroke-width="0.6"/>
<circle cx="1785.0" cy="2250" r="2.3" fill="#f4f4f4" stroke="#bbb" stroke-width="0.6"/>
<circle cx="1788.0" cy="2270" r="2.3" fill="#f4f4f4" stroke="#bbb" stroke-width="0.6"/>
<circle cx="1803.0" cy="2270" r="2.3" fill="#f4f4f4" stroke="#bbb" stroke-width="0.6"/>
<circle cx="1812.0" cy="2235" r="2.3" fill="#f4f4f4" stroke="#bbb" stroke-width="0.6"/>
<circle cx="1800.0" cy="2188" r="2.3" fill="#f4f4f4" stroke="#bbb" stroke-width="0.6"/>
<circle cx="1776.9" cy="2126.9" r="4.2" fill="#a8a8a8"/>
<circle cx="1776.9" cy="2143.8" r="4.2" fill="#a8a8a8"/>
<circle cx="1778.0" cy="2159.5" r="4.2" fill="#a8a8a8"/>
<circle cx="1790.4" cy="2162.9" r="4.2" fill="#a8a8a8"/>
<circle cx="1806.1" cy="2180.8" r="4.2" fill="#a8a8a8"/>
<circle cx="1809.5" cy="2196.5" r="4.2" fill="#a8a8a8"/>
<circle cx="1811.7" cy="2205.5" r="4.2" fill="#a8a8a8"/>
<circle cx="1814.0" cy="2222.3" r="4.2" fill="#a8a8a8"/>
<circle cx="1802.7" cy="2230.2" r="4.2" fill="#a8a8a8"/>
<circle cx="1805.0" cy="2243.7" r="4.2" fill="#a8a8a8"/>
<circle cx="1792.6" cy="2254.9" r="4.2" fill="#a8a8a8"/>
<circle cx="1796.0" cy="2267.2" r="4.2" fill="#a8a8a8"/>
<circle cx="1767.9" cy="2152.7" r="4" fill="#e81818"/>
<circle cx="1765.7" cy="2166.2" r="4" fill="#e81818"/>
<circle cx="1790.4" cy="2178.6" r="4" fill="#e81818"/>
<circle cx="1819.6" cy="2197.6" r="4" fill="#e81818"/>
<circle cx="1827.4" cy="2224.6" r="4" fill="#e81818"/>
<circle cx="1809.5" cy="2252.6" r="4" fill="#e81818"/>
<path d="M1839.7 2126.9L1839.7 2143.8 M1839.7 2143.8L1840.8 2159.5 M1840.8 2159.5L1853.2 2162.9 M1853.2 2162.9L1868.9 2180.8 M1868.9 2180.8L1872.3 2196.5 M1872.3 2196.5L1874.5 2205.5 M1874.5 2205.5L1876.8 2222.3 M1876.8 2222.3L1865.5 2230.2 M1865.5 2230.2L1867.8 2243.7 M1867.8 2243.7L1855.4 2254.9 M1855.4 2254.9L1858.8 2267.2" stroke="#9a9a9a" stroke-width="3"/>
<circle cx="1830.8" cy="2124" r="2.3" fill="#f4f4f4" stroke="#bbb" stroke-width="0.6"/>
<circle cx="1847.8" cy="2120" r="2.3" fill="#f4f4f4" stroke="#bbb" stroke-width="0.6"/>
<circle cx="1832.8" cy="2142" r="2.3" fill="#f4f4f4" stroke="#bbb" stroke-width="0.6"/>
<circle cx="1848.8" cy="2146" r="2.3" fill="#f4f4f4" stroke="#bbb" stroke-width="0.6"/>
<circle cx="1859.8" cy="2160" r="2.3" fill="#f4f4f4" stroke="#bbb" stroke-width="0.6"/>
<circle cx="1832.8" cy="2185" r="2.3" fill="#f4f4f4" stroke="#bbb" stroke-width="0.6"/>
<circle cx="1875.8" cy="2178" r="2.3" fill="#f4f4f4" stroke="#bbb" stroke-width="0.6"/>
<circle cx="1860.8" cy="2200" r="2.3" fill="#f4f4f4" stroke="#bbb" stroke-width="0.6"/>
<circle cx="1882.8" cy="2215" r="2.3" fill="#f4f4f4" stroke="#bbb" stroke-width="0.6"/>
<circle cx="1857.8" cy="2228" r="2.3" fill="#f4f4f4" stroke="#bbb" stroke-width="0.6"/>
<circle cx="1847.8" cy="2250" r="2.3" fill="#f4f4f4" stroke="#bbb" stroke-width="0.6"/>
<circle cx="1850.8" cy="2270" r="2.3" fill="#f4f4f4" stroke="#bbb" stroke-width="0.6"/>
<circle cx="1865.8" cy="2270" r="2.3" fill="#f4f4f4" stroke="#bbb" stroke-width="0.6"/>
<circle cx="1874.8" cy="2235" r="2.3" fill="#f4f4f4" stroke="#bbb" stroke-width="0.6"/>
<circle cx="1862.8" cy="2188" r="2.3" fill="#f4f4f4" stroke="#bbb" stroke-width="0.6"/>
<circle cx="1839.7" cy="2126.9" r="4.2" fill="#a8a8a8"/>
<circle cx="1839.7" cy="2143.8" r="4.2" fill="#a8a8a8"/>
<circle cx="1840.8" cy="2159.5" r="4.2" fill="#a8a8a8"/>
<circle cx="1853.2" cy="2162.9" r="4.2" fill="#a8a8a8"/>
<circle cx="1868.9" cy="2180.8" r="4.2" fill="#a8a8a8"/>
<circle cx="1872.3" cy="2196.5" r="4.2" fill="#a8a8a8"/>
<circle cx="1874.5" cy="2205.5" r="4.2" fill="#a8a8a8"/>
<circle cx="1876.8" cy="2222.3" r="4.2" fill="#a8a8a8"/>
<circle cx="1865.5" cy="2230.2" r="4.2" fill="#a8a8a8"/>
<circle cx="1867.8" cy="2243.7" r="4.2" fill="#a8a8a8"/>
<circle cx="1855.4" cy="2254.9" r="4.2" fill="#a8a8a8"/>
<circle cx="1858.8" cy="2267.2" r="4.2" fill="#a8a8a8"/>
<circle cx="1830.7" cy="2152.7" r="4" fill="#e81818"/>
<circle cx="1828.5" cy="2166.2" r="4" fill="#e81818"/>
<circle cx="1853.2" cy="2178.6" r="4" fill="#e81818"/>
<circle cx="1882.4" cy="2197.6" r="4" fill="#e81818"/>
<circle cx="1890.2" cy="2224.6" r="4" fill="#e81818"/>
<circle cx="1872.3" cy="2252.6" r="4" fill="#e81818"/>
<path d="M1818.5,2215.7H1873.5" stroke="#000" stroke-width="1.8"/>
<path d="M1816,2215.7l7,-3v6z M1876,2215.7l-7,-3v6z" fill="#000"/>
<text x="8.0" y="49.3" font-size="72" font-weight="normal" fill="#000">a</text>
<text x="9.0" y="403.8" font-size="72" font-weight="normal" fill="#000">b</text>
<text x="9.0" y="749.3" font-size="72" font-weight="normal" fill="#000">c</text>
<text x="1338.0" y="53.0" font-size="72" font-weight="normal" fill="#000">d</text>
<text x="1326.8" y="605.0" font-size="72" font-weight="normal" fill="#000">e</text>
<text x="19.0" y="1178.0" font-size="72" font-weight="normal" fill="#000">f</text>
<text x="664.8" y="1170.0" font-size="72" font-weight="normal" fill="#000">g</text>
<text x="1313.7" y="1172.7" font-size="72" font-weight="normal" fill="#000">h</text>
<text x="17.2" y="1783.0" font-size="72" font-weight="normal" fill="#000">i</text>
<text x="661.1" y="1768.4" font-size="72" font-weight="normal" fill="#000">j</text>
<text x="1329.0" y="1778.7" font-size="72" font-weight="normal" fill="#000">k</text>
<text x="43.9" y="264.0" font-size="44" font-weight="bold" fill="#000" transform="rotate(-90 43.9 264.0)" textLength="133.3" lengthAdjust="spacingAndGlyphs"><tspan>IV</tspan><tspan dy="13.0" font-size="27.3">15</tspan><tspan dy="-13.0">SH</tspan></text>
<text x="43.8" y="615.6" font-size="44" font-weight="bold" fill="#000" transform="rotate(-90 43.8 615.6)" textLength="119.8" lengthAdjust="spacingAndGlyphs"><tspan>AV</tspan><tspan dy="13.0" font-size="27.3">15</tspan><tspan dy="-13.0">H</tspan></text>
<text x="50.9" y="1013.6" font-size="46" font-weight="bold" fill="#000" transform="rotate(-90 50.9 1013.6)" textLength="220.8" lengthAdjust="spacingAndGlyphs"><tspan>AV</tspan><tspan dy="13.0" font-size="28.5">15</tspan><tspan dy="-13.0">SH-120</tspan></text>
<text x="86.5" y="87.0" font-size="62" font-weight="normal" fill="#fff" textLength="15.0" lengthAdjust="spacingAndGlyphs" stroke="#fff" stroke-width="1.1">i</text>
<text x="89.2" y="437.7" font-size="62" font-weight="normal" fill="#fff" textLength="13.5" lengthAdjust="spacingAndGlyphs" stroke="#fff" stroke-width="1.1">i</text>
<text x="84.4" y="792.6" font-size="62" font-weight="normal" fill="#fff" textLength="14.9" lengthAdjust="spacingAndGlyphs" stroke="#fff" stroke-width="1.1">i</text>
<text x="602.6" y="90.4" font-size="62" font-weight="normal" fill="#fff" textLength="29.9" lengthAdjust="spacingAndGlyphs" stroke="#fff" stroke-width="1.1">ii</text>
<text x="599.2" y="438.0" font-size="62" font-weight="normal" fill="#fff" textLength="29.8" lengthAdjust="spacingAndGlyphs" stroke="#fff" stroke-width="1.1">ii</text>
<text x="598.4" y="785.6" font-size="62" font-weight="normal" fill="#fff" textLength="29.8" lengthAdjust="spacingAndGlyphs" stroke="#fff" stroke-width="1.1">ii</text>
<text x="958.7" y="87.4" font-size="62" font-weight="normal" fill="#fff" textLength="46.1" lengthAdjust="spacingAndGlyphs" stroke="#fff" stroke-width="1.1">iii</text>
<text x="957.4" y="438.0" font-size="62" font-weight="normal" fill="#fff" textLength="46.1" lengthAdjust="spacingAndGlyphs" stroke="#fff" stroke-width="1.1">iii</text>
<text x="955.7" y="792.8" font-size="62" font-weight="normal" fill="#fff" textLength="45.7" lengthAdjust="spacingAndGlyphs" stroke="#fff" stroke-width="1.1">iii</text>
<text x="440.7" y="314.8" font-size="44" font-weight="bold" fill="#fff" textLength="114.9" lengthAdjust="spacingAndGlyphs">20 μm</text>
<rect x="454.8" y="330.7" width="84.1" height="7.1" fill="#fff"/>
<text x="469.6" y="669.3" font-size="44" font-weight="bold" fill="#fff" textLength="92.6" lengthAdjust="spacingAndGlyphs">2 μm</text>
<rect x="477.8" y="687.8" width="78.9" height="7.4" fill="#fff"/>
<text x="467.4" y="1007.4" font-size="44" font-weight="bold" fill="#fff" textLength="92.6" lengthAdjust="spacingAndGlyphs">2 μm</text>
<rect x="473" y="1034.8" width="83.7" height="7.4" fill="#fff"/>
<text x="1416.5" y="74.6" font-size="26" font-weight="bold" fill="#000" textLength="78.5" lengthAdjust="spacingAndGlyphs">WAXS</text>
<text x="1628.0" y="251.4" font-size="25" font-weight="bold" fill="#000" textLength="127.7" lengthAdjust="spacingAndGlyphs"><tspan>AV</tspan><tspan dy="7.5" font-size="15.5">15</tspan><tspan dy="-7.5">SH-120</tspan></text>
<text x="1662.0" y="345.7" font-size="25" font-weight="bold" fill="#000" textLength="70.0" lengthAdjust="spacingAndGlyphs"><tspan>AV</tspan><tspan dy="7.5" font-size="15.5">15</tspan><tspan dy="-7.5">H</tspan></text>
<text x="1660.6" y="423.5" font-size="25" font-weight="bold" fill="#000" textLength="74.4" lengthAdjust="spacingAndGlyphs"><tspan>IV</tspan><tspan dy="7.5" font-size="15.5">15</tspan><tspan dy="-7.5">SH</tspan></text>
<text x="1363.5" y="419.1" font-size="40" font-weight="bold" fill="#000" transform="rotate(-90 1363.5 419.1)" textLength="345.3" lengthAdjust="spacingAndGlyphs">Intensity (arb. units)</text>
<text x="1642.4" y="589.4" font-size="40" font-weight="bold" fill="#000" textLength="114.1" lengthAdjust="spacingAndGlyphs">β (deg)</text>
<text x="1412.1" y="657.3" font-size="25.5" font-weight="bold" fill="#000" textLength="71.3" lengthAdjust="spacingAndGlyphs">WAXS</text>
<text x="1743.9" y="689.2" font-size="21.5" font-weight="bold" fill="#000" textLength="72.7" lengthAdjust="spacingAndGlyphs">0.46 nm</text>
<text x="1744.7" y="823.5" font-size="21.5" font-weight="bold" fill="#000" textLength="72.7" lengthAdjust="spacingAndGlyphs">0.43 nm</text>
<text x="1770.6" y="938.2" font-size="21.5" font-weight="bold" fill="#000" textLength="73.4" lengthAdjust="spacingAndGlyphs">0.42 nm</text>
<text x="1443.4" y="813.7" font-size="23" font-weight="bold" fill="#000" textLength="115.9" lengthAdjust="spacingAndGlyphs"><tspan>AV</tspan><tspan dy="6.9" font-size="14.3">15</tspan><tspan dy="-6.9">SH-120</tspan></text>
<text x="1463.0" y="935.5" font-size="23" font-weight="bold" fill="#000" textLength="63.7" lengthAdjust="spacingAndGlyphs"><tspan>AV</tspan><tspan dy="6.9" font-size="14.3">15</tspan><tspan dy="-6.9">H</tspan></text>
<text x="1461.0" y="1007.4" font-size="23" font-weight="bold" fill="#000" textLength="68.8" lengthAdjust="spacingAndGlyphs"><tspan>IV</tspan><tspan dy="6.9" font-size="14.3">15</tspan><tspan dy="-6.9">SH</tspan></text>
<text x="1364.5" y="992.5" font-size="40" font-weight="bold" fill="#000" transform="rotate(-90 1364.5 992.5)" textLength="318.2" lengthAdjust="spacingAndGlyphs">Intensity (arb. units)</text>
<text x="1647.0" y="1119.7" font-size="40" font-weight="bold" fill="#000" textLength="97.3" lengthAdjust="spacingAndGlyphs"><tspan>q (Å</tspan><tspan dy="-16.0" font-size="24.8">-1</tspan><tspan dy="16.0">)</tspan></text>
<text x="93.5" y="1208.8" font-size="25.5" font-weight="bold" fill="#000" textLength="63.0" lengthAdjust="spacingAndGlyphs">SAXS</text>
<text x="304.0" y="1277.4" font-size="24" font-weight="bold" fill="#000" textLength="124.0" lengthAdjust="spacingAndGlyphs"><tspan>AV</tspan><tspan dy="6.5" font-size="17.8">15</tspan><tspan dy="-6.5">SH-120</tspan></text>
<text x="327.1" y="1448.0" font-size="24" font-weight="bold" fill="#000" textLength="67.9" lengthAdjust="spacingAndGlyphs"><tspan>AV</tspan><tspan dy="6.5" font-size="17.8">15</tspan><tspan dy="-6.5">H</tspan></text>
<text x="331.9" y="1555.2" font-size="24" font-weight="bold" fill="#000" textLength="72.7" lengthAdjust="spacingAndGlyphs"><tspan>IV</tspan><tspan dy="6.5" font-size="17.8">15</tspan><tspan dy="-6.5">SH</tspan></text>
<text x="49.6" y="1544.6" font-size="40" font-weight="bold" fill="#000" transform="rotate(-90 49.6 1544.6)" textLength="335.8" lengthAdjust="spacingAndGlyphs">Intensity (arb. units)</text>
<text x="318.5" y="1711.0" font-size="40" font-weight="bold" fill="#000" textLength="110.5" lengthAdjust="spacingAndGlyphs">β (deg)</text>
<text x="748.0" y="1214.5" font-size="25.5" font-weight="bold" fill="#000" textLength="64.5" lengthAdjust="spacingAndGlyphs">SAXS</text>
<text x="759.9" y="1293.8" font-size="41.5" font-weight="normal" fill="#000" textLength="27.0" lengthAdjust="spacingAndGlyphs">H</text>
<text x="791.9" y="1296.5" font-size="44" font-weight="bold" fill="#000" textLength="19.2" lengthAdjust="spacingAndGlyphs">//</text>
<text x="1141.8" y="1243.0" font-size="24" font-weight="bold" fill="#000" textLength="125.9" lengthAdjust="spacingAndGlyphs"><tspan>AV</tspan><tspan dy="6.5" font-size="17.8">15</tspan><tspan dy="-6.5">SH-120</tspan></text>
<text x="1147.5" y="1370.9" font-size="24" font-weight="bold" fill="#000" textLength="113.4" lengthAdjust="spacingAndGlyphs"><tspan>AV</tspan><tspan dy="6.5" font-size="17.8">15</tspan><tspan dy="-6.5">SH-90</tspan></text>
<text x="1149.4" y="1450.3" font-size="24" font-weight="bold" fill="#000" textLength="81.3" lengthAdjust="spacingAndGlyphs"><tspan>AV</tspan><tspan dy="6.5" font-size="17.8">15</tspan><tspan dy="-6.5">SH</tspan></text>
<text x="1151.3" y="1519.8" font-size="24" font-weight="bold" fill="#000" textLength="67.9" lengthAdjust="spacingAndGlyphs"><tspan>AV</tspan><tspan dy="6.5" font-size="17.8">15</tspan><tspan dy="-6.5">H</tspan></text>
<text x="1151.3" y="1572.1" font-size="24" font-weight="bold" fill="#000" textLength="73.3" lengthAdjust="spacingAndGlyphs"><tspan>IV</tspan><tspan dy="6.5" font-size="17.8">15</tspan><tspan dy="-6.5">SH</tspan></text>
<text x="697.2" y="1506.4" font-size="40" font-weight="bold" fill="#000" transform="rotate(-90 697.2 1506.4)" textLength="242.4" lengthAdjust="spacingAndGlyphs"><tspan>Iq</tspan><tspan dy="-16.0" font-size="24.8">2</tspan><tspan dy="16.0"> (arb. units)</tspan></text>
<text x="960.1" y="1714.7" font-size="40" font-weight="bold" fill="#000" textLength="109.7" lengthAdjust="spacingAndGlyphs"><tspan>q (Å</tspan><tspan dy="-16.0" font-size="24.8">-1</tspan><tspan dy="16.0"> )</tspan></text>
<text x="1802.8" y="1230.6" font-size="41.5" font-weight="normal" fill="#000" textLength="27.7" lengthAdjust="spacingAndGlyphs">H</text>
<text x="1835.6" y="1233.2" font-size="44" font-weight="bold" fill="#000" textLength="19.0" lengthAdjust="spacingAndGlyphs">//</text>
<text x="1350.3" y="1457.5" font-size="40" font-weight="bold" fill="#000" transform="rotate(-90 1350.3 1457.5)" textLength="112.0" lengthAdjust="spacingAndGlyphs">L (nm)</text>
<text x="1418.5" y="1692.3" font-size="30" font-weight="bold" fill="#000" transform="rotate(-19 1418.5 1692.3)" textLength="92.6" lengthAdjust="spacing"><tspan>IV</tspan><tspan dy="7.0" font-size="21.6">15</tspan><tspan dy="-7.0">SH</tspan></text>
<text x="1528.0" y="1692.3" font-size="30" font-weight="bold" fill="#000" transform="rotate(-19 1528.0 1692.3)" textLength="84.0" lengthAdjust="spacing"><tspan>AV</tspan><tspan dy="7.0" font-size="21.6">15</tspan><tspan dy="-7.0">H</tspan></text>
<text x="1625.0" y="1697.3" font-size="30" font-weight="bold" fill="#000" transform="rotate(-19 1625.0 1697.3)" textLength="99.1" lengthAdjust="spacing"><tspan>AV</tspan><tspan dy="7.0" font-size="21.6">15</tspan><tspan dy="-7.0">SH</tspan></text>
<text x="1708.0" y="1709.0" font-size="30" font-weight="bold" fill="#000" transform="rotate(-19 1708.0 1709.0)" textLength="139.6" lengthAdjust="spacing"><tspan>AV</tspan><tspan dy="7.0" font-size="21.6">15</tspan><tspan dy="-7.0">SH-90</tspan></text>
<text x="1799.0" y="1718.2" font-size="30" font-weight="bold" fill="#000" transform="rotate(-19 1799.0 1718.2)" textLength="153.6" lengthAdjust="spacing"><tspan>AV</tspan><tspan dy="7.0" font-size="21.6">15</tspan><tspan dy="-7.0">SH-120</tspan></text>
<text x="458.0" y="1899.4" font-size="24" font-weight="bold" fill="#000" textLength="122.0" lengthAdjust="spacingAndGlyphs"><tspan>AV</tspan><tspan dy="6.5" font-size="17.8">15</tspan><tspan dy="-6.5">SH-120</tspan></text>
<text x="459.0" y="1962.3" font-size="24" font-weight="bold" fill="#000" textLength="112.4" lengthAdjust="spacingAndGlyphs"><tspan>AV</tspan><tspan dy="6.5" font-size="17.8">15</tspan><tspan dy="-6.5">SH-90</tspan></text>
<text x="479.0" y="2032.1" font-size="24" font-weight="bold" fill="#000" textLength="79.0" lengthAdjust="spacingAndGlyphs"><tspan>AV</tspan><tspan dy="6.5" font-size="17.8">15</tspan><tspan dy="-6.5">SH</tspan></text>
<text x="484.7" y="2087.1" font-size="24" font-weight="bold" fill="#000" textLength="66.7" lengthAdjust="spacingAndGlyphs"><tspan>AV</tspan><tspan dy="6.5" font-size="17.8">15</tspan><tspan dy="-6.5">H</tspan></text>
<text x="488.5" y="2160.7" font-size="24" font-weight="bold" fill="#000" textLength="72.5" lengthAdjust="spacingAndGlyphs"><tspan>IV</tspan><tspan dy="6.5" font-size="17.8">15</tspan><tspan dy="-6.5">SH</tspan></text>
<text x="47.7" y="2162.7" font-size="40" font-weight="bold" fill="#000" transform="rotate(-90 47.7 2162.7)" textLength="333.9" lengthAdjust="spacingAndGlyphs">Intensity (arb. units)</text>
<text x="264.9" y="2300.9" font-size="40" font-weight="bold" fill="#000" textLength="179.8" lengthAdjust="spacingAndGlyphs">2θ (degree)</text>
<text x="687.7" y="2160.8" font-size="40" font-weight="bold" fill="#000" transform="rotate(-90 687.7 2160.8)" textLength="311.0" lengthAdjust="spacingAndGlyphs">Crystallinity (wt%)</text>
<text x="834.0" y="1825.8" font-size="30" font-weight="normal" fill="#000" textLength="43.8" lengthAdjust="spacingAndGlyphs">Dry</text>
<text x="836.2" y="1860.4" font-size="30" font-weight="normal" fill="#000" textLength="46.0" lengthAdjust="spacingAndGlyphs">Wet</text>
<text x="764.4" y="2285.3" font-size="30" font-weight="bold" fill="#000" transform="rotate(-19 764.4 2285.3)" textLength="86.0" lengthAdjust="spacing"><tspan>IV</tspan><tspan dy="7.0" font-size="21.6">15</tspan><tspan dy="-7.0">SH</tspan></text>
<text x="870.2" y="2288.6" font-size="30" font-weight="bold" fill="#000" transform="rotate(-19 870.2 2288.6)" textLength="77.7" lengthAdjust="spacing"><tspan>AV</tspan><tspan dy="7.0" font-size="21.6">15</tspan><tspan dy="-7.0">H</tspan></text>
<text x="963.0" y="2290.2" font-size="30" font-weight="bold" fill="#000" transform="rotate(-19 963.0 2290.2)" textLength="89.5" lengthAdjust="spacing"><tspan>AV</tspan><tspan dy="7.0" font-size="21.6">15</tspan><tspan dy="-7.0">SH</tspan></text>
<text x="1046.0" y="2303.2" font-size="30" font-weight="bold" fill="#000" transform="rotate(-19 1046.0 2303.2)" textLength="127.6" lengthAdjust="spacing"><tspan>AV</tspan><tspan dy="7.0" font-size="21.6">15</tspan><tspan dy="-7.0">SH-90</tspan></text>
<text x="1143.6" y="2309.8" font-size="30" font-weight="bold" fill="#000" transform="rotate(-19 1143.6 2309.8)" textLength="139.6" lengthAdjust="spacing"><tspan>AV</tspan><tspan dy="7.0" font-size="21.6">15</tspan><tspan dy="-7.0">SH-120</tspan></text>
<text x="1516.5" y="1931.8" font-size="28" font-weight="bold" fill="#000" transform="rotate(-24 1516.5 1931.8)" textLength="164.9" lengthAdjust="spacingAndGlyphs">Original state</text>
<text x="1380.6" y="2032.0" font-size="27.5" font-weight="bold" fill="#000" transform="rotate(-23 1380.6 2032.0)" textLength="238.3" lengthAdjust="spacingAndGlyphs">Mechanical training</text>
<text x="1512.0" y="2311.2" font-size="26.5" font-weight="bold" fill="#000" textLength="216.2" lengthAdjust="spacingAndGlyphs">Crystalline domain</text>
<text x="1749.8" y="2313.2" font-size="28.5" font-weight="bold" fill="#000" textLength="170.9" lengthAdjust="spacingAndGlyphs">PVA segments</text>
<text x="1558.0" y="2228.7" font-size="26" font-weight="bold" fill="#000">D</text>
<text x="1596.0" y="2248.3" font-size="26" font-weight="bold" fill="#000">L</text>
</svg>
</body></html>
